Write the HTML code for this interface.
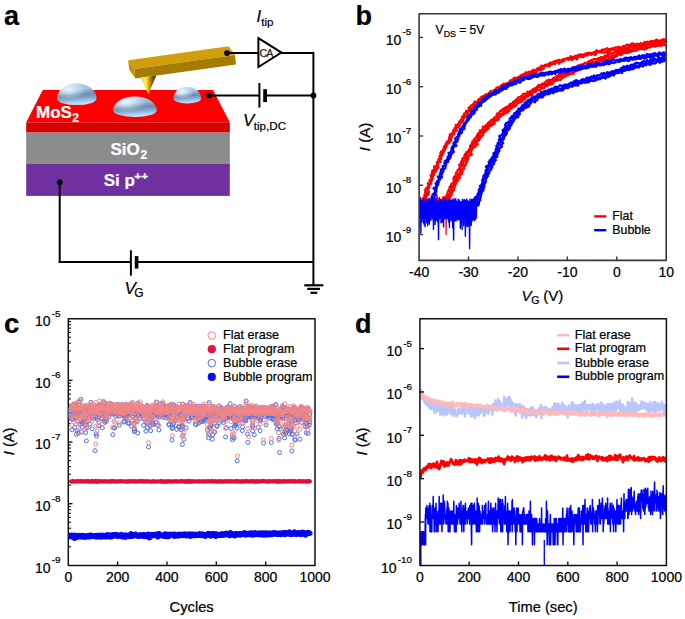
<!DOCTYPE html>
<html><head><meta charset="utf-8"><style>
html,body{margin:0;padding:0;background:#fff;}
svg{display:block;}
text{font-family:"Liberation Sans", sans-serif;}
</style></head><body>
<svg width="685" height="619" viewBox="0 0 685 619">
<rect width="685" height="619" fill="#fff"/>
<defs>
<linearGradient id="bubG" x1="0.2" y1="0" x2="0.35" y2="1">
 <stop offset="0" stop-color="#b2d2ee"/>
 <stop offset="0.3" stop-color="#9cbfe2"/>
 <stop offset="0.56" stop-color="#6e8cab"/>
 <stop offset="0.72" stop-color="#84a5c6"/>
 <stop offset="0.88" stop-color="#a4cef4"/>
 <stop offset="1" stop-color="#c2e6ff"/>
</linearGradient>
<radialGradient id="bubH" cx="0.3" cy="0.28" r="0.45">
 <stop offset="0" stop-color="#eefaff" stop-opacity="0.95"/>
 <stop offset="1" stop-color="#eefaff" stop-opacity="0"/>
</radialGradient>
<linearGradient id="tipG" x1="0" y1="0" x2="1" y2="0">
 <stop offset="0" stop-color="#e0c030"/>
 <stop offset="0.3" stop-color="#fff25a"/>
 <stop offset="0.5" stop-color="#d8b000"/>
 <stop offset="0.75" stop-color="#7a5c00"/>
 <stop offset="1" stop-color="#3a2a00"/>
</linearGradient>
<clipPath id="clipB"><rect x="419.1" y="13.8" width="247.1" height="246.6"/></clipPath>
<clipPath id="clipD"><rect x="419.9" y="318.7" width="246.5" height="246.7"/></clipPath>
</defs>
<text x="4" y="25.2" font-size="27" font-weight="bold" font-style="normal" fill="#000" text-anchor="start" stroke="#000" stroke-width="0.22" >a</text>
<polygon points="42.7,90 213,90 229.8,122.3 26.2,122.3" fill="#ff0000"/>
<rect x="26.2" y="122.3" width="203.6" height="10.3" fill="#d70000"/>
<rect x="26.2" y="132.6" width="203.6" height="31.2" fill="#8c8c8c"/>
<rect x="26.2" y="163.8" width="203.6" height="32.1" fill="#7030a0"/>
<path d="M57,98.4 A19.75,15 0 0 1 96.5,98.4 A19.75,6.7 0 0 1 57,98.4 Z" fill="url(#bubG)"/>
<path d="M57,98.4 A19.75,15 0 0 1 96.5,98.4 A19.75,6.7 0 0 1 57,98.4 Z" fill="url(#bubH)"/>
<path d="M113.1,110.4 A21.8,14 0 0 1 156.7,110.4 A21.8,6.6 0 0 1 113.1,110.4 Z" fill="url(#bubG)"/>
<path d="M113.1,110.4 A21.8,14 0 0 1 156.7,110.4 A21.8,6.6 0 0 1 113.1,110.4 Z" fill="url(#bubH)"/>
<path d="M173.4,98.6 A13.85,11.7 0 0 1 201.1,98.6 A13.85,4.9 0 0 1 173.4,98.6 Z" fill="url(#bubG)"/>
<path d="M173.4,98.6 A13.85,11.7 0 0 1 201.1,98.6 A13.85,4.9 0 0 1 173.4,98.6 Z" fill="url(#bubH)"/>
<text x="36" y="117.8" font-size="17" font-weight="bold" font-style="normal" fill="#fff" text-anchor="start" stroke="#fff" stroke-width="0.22" >MoS</text>
<text x="72.2" y="121.6" font-size="12" font-weight="bold" font-style="normal" fill="#fff" text-anchor="start" stroke="#fff" stroke-width="0.22" >2</text>
<text x="110.4" y="155" font-size="17" font-weight="bold" font-style="normal" fill="#fff" text-anchor="start" stroke="#fff" stroke-width="0.22" >SiO</text>
<text x="140.4" y="158.6" font-size="12" font-weight="bold" font-style="normal" fill="#fff" text-anchor="start" stroke="#fff" stroke-width="0.22" >2</text>
<text x="103.7" y="185.6" font-size="17" font-weight="bold" font-style="normal" fill="#fff" text-anchor="start" stroke="#fff" stroke-width="0.22" >Si p</text>
<text x="134.3" y="180.2" font-size="11.8" font-weight="bold" font-style="normal" fill="#fff" text-anchor="start" stroke="#fff" stroke-width="0.22" >++</text>
<polygon points="128.2,60.3 228.6,46.3 235,55 134.3,69.1" fill="#d29f0c"/>
<polygon points="134.3,69.1 235,55 236,64.4 135.3,78.4" fill="#a57b02"/>
<polygon points="128.2,60.3 134.3,69.1 135.3,78.4 129.2,69.6" fill="#c4920a"/>
<polygon points="140.8,77.6 156.3,75.4 148.3,94.2" fill="url(#tipG)"/>
<line x1="227" y1="53" x2="258.4" y2="53" stroke="#000" stroke-width="2" />
<polygon points="258.4,38.1 258.4,67 281.4,52.6" fill="#fff" stroke="#000" stroke-width="2" stroke-linejoin="miter"/>
<text x="259.6" y="56.7" font-size="10.6" font-weight="normal" font-style="normal" fill="#1a1a1a" text-anchor="start" letter-spacing="-1.0" stroke="#1a1a1a" stroke-width="0.25">CA</text>
<line x1="281.4" y1="52.9" x2="313.4" y2="52.9" stroke="#000" stroke-width="2" />
<line x1="313.4" y1="51.9" x2="313.4" y2="285" stroke="#000" stroke-width="2" />
<line x1="209.1" y1="95.5" x2="259.4" y2="95.5" stroke="#000" stroke-width="2" />
<line x1="259.4" y1="83" x2="259.4" y2="107.6" stroke="#000" stroke-width="2" />
<line x1="265.1" y1="89.2" x2="265.1" y2="102.1" stroke="#000" stroke-width="3.8" />
<line x1="265.1" y1="95.5" x2="313.4" y2="95.5" stroke="#000" stroke-width="2" />
<line x1="59.7" y1="182.2" x2="59.7" y2="262.9" stroke="#000" stroke-width="2" />
<line x1="58.7" y1="261.9" x2="130.9" y2="261.9" stroke="#000" stroke-width="2" />
<line x1="130.9" y1="250.3" x2="130.9" y2="275.6" stroke="#000" stroke-width="2" />
<line x1="136.6" y1="256.1" x2="136.6" y2="268.6" stroke="#000" stroke-width="3.6" />
<line x1="136.6" y1="261.9" x2="313.4" y2="261.9" stroke="#000" stroke-width="2" />
<line x1="304.3" y1="285.3" x2="323.4" y2="285.3" stroke="#000" stroke-width="2.2" />
<line x1="307.2" y1="288.9" x2="320" y2="288.9" stroke="#000" stroke-width="2.2" />
<line x1="310.5" y1="292.8" x2="317.3" y2="292.8" stroke="#000" stroke-width="2.2" />
<circle cx="227" cy="53.1" r="2.9" fill="#000"/>
<circle cx="313.4" cy="95.5" r="2.9" fill="#000"/>
<circle cx="209.1" cy="95.5" r="2.9" fill="#000"/>
<circle cx="59.7" cy="182.2" r="2.9" fill="#000"/>
<text x="256.5" y="21.7" font-size="16.5" font-weight="normal" font-style="italic" fill="#000" text-anchor="start" stroke="#000" stroke-width="0.22" >I</text>
<text x="261.2" y="25.6" font-size="11.5" font-weight="normal" font-style="normal" fill="#000" text-anchor="start" stroke="#000" stroke-width="0.22" >tip</text>
<text x="243" y="125.9" font-size="17" font-weight="normal" font-style="italic" fill="#000" text-anchor="start" stroke="#000" stroke-width="0.22" >V</text>
<text x="253.8" y="130.1" font-size="11.6" font-weight="normal" font-style="normal" fill="#000" text-anchor="start" stroke="#000" stroke-width="0.22" >tip,DC</text>
<text x="124.5" y="293.7" font-size="17" font-weight="normal" font-style="italic" fill="#000" text-anchor="start" stroke="#000" stroke-width="0.22" >V</text>
<text x="134.2" y="297.4" font-size="12" font-weight="normal" font-style="normal" fill="#000" text-anchor="start" stroke="#000" stroke-width="0.22" >G</text>
<g clip-path="url(#clipB)">
<polyline points="419.6,198.33 420.1,208.37 420.6,197.17 421.1,207.34 421.6,200 422.1,207.82 422.6,197.49 423.1,209.65 423.6,199.56 424.1,208.02 424.6,199.54 425.1,208.95 425.6,196.29 426.1,211.93 426.6,197.98 427.1,206.58 427.6,199.31 428.1,211.62 428.6,199.07 429.1,208.66 429.6,198.18 430.1,206.61 430.6,198.83 431.1,211.16 431.6,198.93 432.1,211.54 432.6,196.25 433.1,210.46 433.6,198.57 434.1,208.01 434.6,197.03 435.1,208.81 435.6,198.52 436.1,206.63 436.6,197.16 437.1,207.45 437.6,196.27 438.1,208.38 438.6,198.84 439.1,206.56 439.6,197.29 440.1,211.15 440.6,199.69 441.1,210.25 441.6,199.07 442.1,211 442.6,197.03 443.1,208.5 443.6,196.57 444.1,208.53 444.6,196.54 445.1,206.1 445.6,197.13 446.1,234.69 446.6,196.73 447.1,206.32 447.6,196.06" fill="none" stroke="#ff0000" stroke-width="1.2" stroke-linejoin="round" />
<polyline points="422.68,203.81 422.76,203.21 422.65,202.57 423.07,202.05 422.7,201.34 422.81,200.74 423.74,200.35 423.81,199.74 424.01,199.17 423.77,198.49 423.66,197.84 424.35,197.39 424.79,196.89 424.77,196.26 424.14,195.45 424.45,194.91 425.71,194.65 426.07,194.14 425.86,193.45 425,192.55 425.46,192.07 426.22,191.67 424.99,190.65 425.39,190.14 426,189.7 425.51,188.9 426.05,188.44 427.27,188.21 427.57,187.68 427.37,186.97 428.41,186.7 429.14,186.31 428.6,185.49 428.06,184.66 427.8,183.92 427.83,183.29 428.71,182.97 429.35,182.56 429.43,181.95 429.88,181.47 429.74,180.77 429.53,180.05 430.34,179.71 430.81,179.25 431.16,178.74 431.3,178.15 430.97,177.37 431.17,176.81 431.11,176.14 430.54,175.27 431.38,174.95 432.23,174.64 432.34,174.04 431.91,173.22 431.87,172.56 432.52,172.17 432.55,171.54 432.12,170.72 432.55,170.24 434.02,170.18 434.53,169.74 434.16,168.94 434.24,168.32 435,167.99 434.16,166.98 434.05,166.28 435.58,166.27 436.13,165.85 436.82,165.49 437.23,165.02 436.93,164.23 436.84,163.54 437.27,163.07 437.19,162.38 437.11,161.68 437.92,161.38 438.94,161.18 438.77,160.45 438.25,159.55 438.64,159.06 439.42,158.76 439.59,158.17 439.89,157.65 439.78,156.94 439.4,156.09 439.96,155.69 440.59,155.32 441.32,155 440.7,154.04 440.21,153.14 441.18,152.93 441.54,152.44 441.1,151.55 442.01,151.33 443.04,151.17 443.1,150.53 443,149.81 443.47,149.37 443.83,148.88 444.12,148.36 444.14,147.69 443.68,146.78 444.37,146.46 444.71,145.96 445.16,145.51 445.8,145.17 445.48,144.32 445.69,143.75 446.19,143.33 446.79,142.97 446.97,142.38 446.75,141.57 447.72,141.42 449.01,141.43 449.59,141.07 449.07,140.1 448.7,139.2 449.54,138.98 449.71,138.38 449.08,137.34 449.46,136.86 450.29,136.64 450.24,135.91 449.77,134.94 449.85,134.29 451,134.26 451.56,133.89 451.57,133.2 452.23,132.89 452.82,132.54 452.93,131.9 453.19,131.36 453.3,130.73 453.31,130.02 453.57,129.48 454.43,129.3 455.1,129.01 454.75,128.08 454.95,127.5 455.45,127.11 456.15,126.83 455.98,126.01 455.69,125.1 456.45,124.87 458.05,125.18 458.85,124.99 458.24,123.87 458.49,123.31 459.59,123.31 459.59,122.59 459.07,121.51 459.92,121.35 460.56,121.06 460.71,120.43 460.71,119.69 461.49,119.5 462.61,119.56 462.48,118.73 462.48,117.99 461.95,116.85 462.29,116.35 463.28,116.33 463.57,115.8 464.24,115.55 464.34,114.87 463.92,113.78 464.53,113.49 465.22,113.27 465.37,112.62 465.8,112.19 466.17,111.72 466,110.8 466.9,110.75 468.12,110.98 468.48,110.49 469.43,110.5 469.47,109.73 468.65,108.22 468.77,107.5 469.36,107.2 469.9,106.85 470.72,106.76 470.66,105.87 471.16,105.49 471.74,105.18 472.15,104.72 473.01,104.69 473.25,104.07 473.69,103.65 474.06,103.15 474.34,102.56 474.45,101.78 475.07,101.54 476.53,102.24 477.54,102.48 477.84,101.93 477.93,101.14 477.85,100.1 478.51,99.97 479.13,99.81 479.21,98.95 479.63,98.51 480.16,98.21 480.62,97.82 481.07,97.42 481.42,96.85 481.86,96.42 483.14,97.3 483.71,97.1 483.67,95.87 484.32,95.78 485.05,95.82 485.22,94.91 485.56,94.28 486.51,94.73 487.14,94.62 487.51,94.03 488.31,94.22 488.68,93.63 488.93,92.79 489.5,92.57 490.32,92.81 490.57,91.99 490.68,90.89 491.5,91.15 492.3,91.37 493.07,91.51 493.75,91.5 493.85,90.4 494.25,89.87 495.03,90.07 495.27,89.25 495.97,89.27 496.43,88.89 496.4,87.63 497.03,87.53 497.67,87.45 498.13,87.05 499.04,87.43 499.77,87.48 500.55,87.62 500.95,87.13 500.8,85.68 501.2,85.18 501.85,85.1 502.27,84.62 503.08,84.81 503.72,84.72 503.72,83.53 504.53,83.72 505.45,84.1 505.9,83.67 506.46,83.45 507.04,83.25 507.55,82.93 508.2,82.85 508.81,82.7 509.16,82.1 509.68,81.8 509.83,80.82 510.25,80.32 511.02,80.48 511.63,80.34 511.95,79.64 512.76,79.9 513.58,80.18 513.57,78.83 513.78,77.87 514.5,77.96 515.34,78.31 515.81,77.89 516.39,77.7 516.95,77.48 517.58,77.4 518.11,77.12 518.56,76.64 519.41,77.06 520.4,77.83 520.61,76.82 520.65,75.39 521.23,75.22 521.99,75.47 522.5,75.11 522.84,74.38 523.58,74.58 524.05,74.15 524.45,73.55 525.09,73.51 525.45,72.83 525.84,72.22 526.67,72.64 527.49,73.03 528.08,72.89 528.31,71.9 528.81,71.55 529.79,72.32 530.52,72.48 530.92,71.9 531.21,71.09 531.88,71.13 532.48,71 532.7,70.06 533.2,69.72 534.21,70.48 534.94,70.61 535.43,70.24 535.84,69.71 536.34,69.36 536.86,69.05 537.19,68.37 538.31,69.28 539.03,69.37 539.01,67.96 539.39,67.37 540.09,67.42 540.87,67.65 541.26,67.08 541.27,65.68 541.86,65.5 542.72,65.92 543.34,65.81 544.12,66.07 544.71,65.9 545.17,65.46 545.48,64.67 546.05,64.45 547.12,65.48 547.66,65.22 547.93,64.27 548.39,63.81 549.18,64.21 549.59,63.58 549.89,62.62 550.65,62.98 551.33,63.14 551.78,62.59 552.29,62.23 552.88,62.11 553.43,61.85 554.02,61.73 554.44,61.04 555.03,60.91 555.85,61.56 556.31,61 556.76,60.38 557.53,60.87 558.01,60.37 558.54,60.01 559.12,59.85 559.81,60.08 560.77,61.3 561.44,61.51 561.74,60.31 562.19,59.63 562.81,59.62 563.32,59.2 564.06,59.64 564.49,58.91 565.02,58.55 565.74,58.93 566.36,58.93 566.97,58.88 567.35,57.88 567.94,57.77 568.67,58.21 569.23,57.97 569.79,57.72 570.33,57.35 570.65,56.12 571.38,56.57 572.25,57.6 572.76,57.15 573.28,56.75 573.96,56.98 574.49,56.63 574.91,55.77 575.52,55.74 576.29,56.39 576.76,55.75 577.34,55.62 578,55.79 578.36,54.7 579.13,55.35 579.81,55.63 580.15,54.43 580.7,54.18 581.51,54.97 582.24,55.47 582.69,54.78 583.2,54.32 583.9,54.65 584.38,54.08 584.93,53.8 585.58,53.92 586.08,53.42 586.62,53.09 587.27,53.21 587.9,53.3 588.43,52.9 588.97,52.58 589.71,53.15 590.36,53.29 590.93,53.06 591.6,53.34 592.16,53.09 592.84,53.41 593.3,52.7 593.76,51.96 594.39,52.05 595.07,52.36 595.84,53.07 596.09,51.36 596.45,50.13 597.27,51.1 598.01,51.71 598.6,51.61 599.11,51.13 599.68,50.9 600.33,51.08 600.87,50.74 601.49,50.77 601.9,49.75 602.46,49.46 603.15,49.86 603.76,49.87 604.42,50.09 604.86,49.21 605.5,49.34 606.08,49.22 606.57,48.57 607.11,48.18 607.77,48.44 608.52,49.19 609.2,49.51 609.74,49.14 610.33,49.04 610.93,48.99 611.43,48.41 612.07,48.53 612.75,48.9 613.27,48.41 613.76,47.76 614.36,47.73 614.98,47.76 615.52,47.35 616.18,47.64 616.81,47.74 617.36,47.4 617.92,47.12 618.5,46.97 619.18,47.38 619.72,46.95 620.43,47.53 621.07,47.76 621.65,47.56 622.28,47.7 622.7,46.58 623.2,45.92 623.87,46.28 624.49,46.36 625.06,46.1 625.62,45.86 626.09,44.98 626.68,44.91 627.25,44.64 627.88,44.79 628.58,45.32 629.09,44.76 629.72,44.88 630.38,45.19 630.89,44.59 631.34,43.64 631.96,43.7 632.54,43.48 633.13,43.42 633.98,44.85 634.56,44.72 635.09,44.23 635.66,44 636.23,43.75 636.89,44.1 637.46,43.85 638.11,44.13 638.83,44.79 639.4,44.54 639.88,43.76 640.39,43.17 641.01,43.27 641.66,43.48 642.27,43.49 642.87,43.48 643.53,43.76 643.99,42.86 644.45,41.91 645.23,43.01 645.82,42.9 646.3,42.1 646.9,42.04 647.45,41.7 648.07,41.77 648.92,43.28 649.58,43.62 649.94,42.04 650.4,41.1 651.04,41.3 651.75,42 652.32,41.73 652.8,40.93 653.51,41.55 654.2,42.11 654.71,41.49 655.18,40.57 655.7,39.99 656.32,40.07 656.87,39.69 657.55,40.21 658.25,40.8 658.83,40.59 659.58,41.55 660.21,41.76 660.62,40.4 661.19,40.18 661.93,41.06 662.42,40.3 662.89,39.32 663.52,39.5 664.07,39.14 664.76,39.72 665.31,39.29" fill="none" stroke="#ff0000" stroke-width="2.2" stroke-linejoin="round" />
<polyline points="423.92,204.09 423.94,203.48 424.44,202.98 424.75,202.44 425.1,201.91 425.08,201.29 425.58,200.8 424.92,200.02 424.6,199.32 425.33,198.89 425.54,198.33 426.08,197.86 425.8,197.17 425.61,196.49 426.47,196.12 427.04,195.66 426.6,194.92 427.46,194.55 428.85,194.35 427.6,193.35 426.96,192.53 428.75,192.47 429.12,191.97 428.38,191.1 428.16,190.41 428.04,189.74 428.23,189.17 428.41,188.6 428.99,188.16 429.25,187.62 428.97,186.89 428.84,186.21 429.2,185.7 429.52,185.18 429.67,184.59 430.65,184.31 431.07,183.82 431.06,183.18 431.26,182.62 431.29,181.99 431.31,181.36 431.37,180.74 431.94,180.32 431.84,179.64 432.28,179.17 432.94,178.78 432.33,177.9 432.34,177.26 432.58,176.71 433.06,176.25 433.26,175.69 433.87,175.28 434.06,174.71 432.93,173.62 433.17,173.07 433.49,172.56 433.99,172.11 435.42,172.04 435.91,171.59 435.19,170.66 434.86,169.88 436.31,169.83 436.97,169.45 436.5,168.61 437.02,168.18 438.21,168.04 438.53,167.53 437.86,166.6 437.73,165.89 438.15,165.42 438.02,164.71 437.6,163.87 438.1,163.44 438.39,162.91 438.59,162.34 439.24,161.97 440.41,161.85 440.29,161.14 439.59,160.16 440.1,159.73 440.57,159.29 441.29,158.96 441.18,158.25 440.72,157.37 440.53,156.62 440.74,156.06 441.84,155.91 442.47,155.55 442.13,154.73 442.23,154.11 442.89,153.76 443.49,153.39 443.51,152.73 443.49,152.06 443.28,151.29 443.21,150.58 444.78,150.7 444.65,149.97 444.18,149.06 445.36,148.98 445.62,148.45 445.5,147.71 445.89,147.24 446.47,146.87 446.74,146.33 446.31,145.43 446.56,144.89 447.23,144.56 447.36,143.95 448.05,143.64 448.77,143.35 449.31,142.96 449.17,142.2 449.46,141.68 450.37,141.5 450.74,141.02 451.11,140.54 450.93,139.75 450.64,138.91 451.29,138.59 451.15,137.82 451.22,137.17 451.82,136.82 451.91,136.18 451.76,135.4 451.88,134.77 452.81,134.63 453.76,134.5 454.44,134.2 454.39,133.48 454.27,132.71 454.3,132.03 454.83,131.65 455.35,131.27 455.74,130.81 456.77,130.75 456.86,130.1 456,128.86 456.02,128.17 456.35,127.67 456.55,127.08 457.86,127.2 458.7,127.02 458.01,125.87 458.49,125.46 459.8,125.6 459.77,124.87 459.41,123.91 459.75,123.42 460.42,123.14 461.1,122.88 461.75,122.6 462.29,122.24 462.62,121.75 463.01,121.3 463.17,120.69 462.51,119.49 462.59,118.81 463.57,118.78 463.84,118.24 464.39,117.91 464.76,117.44 464.49,116.5 465.46,116.49 466.36,116.44 466.31,115.66 466.76,115.27 467.41,115.04 467.59,114.42 466.8,113.01 466.85,112.28 467.89,112.35 468.17,111.8 468.77,111.52 469.86,111.65 470.03,111.01 469.67,109.9 470.87,110.14 471.49,109.88 470.85,108.51 471.47,108.25 472.4,108.27 472.51,107.56 473.03,107.22 473.51,106.84 473.39,105.9 474.01,105.67 474.95,105.74 475.12,105.08 475.41,104.53 476,104.28 477.15,104.64 477.4,104.06 477.41,103.22 478.03,103.04 478.04,102.17 478.7,102.05 479.41,102.02 480,101.84 480.29,101.31 480.26,100.33 480.5,99.69 481.24,99.74 481.99,99.8 482.67,99.79 483.11,99.42 483.51,98.98 484.25,99.07 484.54,98.44 484.38,97.05 484.6,96.25 485.13,95.96 486.23,96.68 486.87,96.61 487.32,96.18 488.14,96.43 488.76,96.32 489.37,96.19 489.54,95.23 489.83,94.49 490.4,94.28 491.01,94.14 491.43,93.62 491.93,93.26 492.89,93.79 493.1,92.87 493.37,92.08 494.06,92.1 494.59,91.78 495.47,92.15 495.96,91.77 496.48,91.45 496.7,90.59 497.3,90.42 498.03,90.48 498.45,90 499.14,89.99 498.98,88.51 499.29,87.86 500.41,88.59 501.43,89.13 501.96,88.85 502.2,88.07 502.35,87.14 503.13,87.27 504.34,88.14 504.55,87.32 504.63,86.28 504.8,85.37 505.55,85.47 506.99,86.76 507.47,86.4 507.68,85.57 508.16,85.21 508.21,84.08 508.9,84.08 509.36,83.69 509.56,82.83 510.4,83.1 511.14,83.22 511.69,82.99 512.12,82.53 512.4,81.81 512.6,80.9 513.29,80.93 513.94,80.88 514.21,80.09 514.64,79.62 515.33,79.67 515.76,79.18 516.14,78.6 516.73,78.42 517.54,78.76 518.45,79.3 519.31,79.76 519.52,78.78 519.6,77.49 520.56,78.19 521.19,78.13 521.52,77.41 522.4,77.92 522.94,77.68 523.02,76.32 523.4,75.7 524.21,76.05 525.03,76.45 525.3,75.55 525.64,74.81 526.51,75.32 527.32,75.7 527.68,75 528.24,74.78 529,75.02 529.15,73.85 529.55,73.26 530.47,73.88 530.98,73.54 531.1,72.3 531.69,72.17 532.74,73.05 533.62,73.52 533.66,72.13 534.39,72.28 535.13,72.43 535.38,71.53 536.36,72.17 536.91,71.92 537.25,71.24 537.4,70.15 538.03,70.07 538.65,69.97 538.6,68.51 539.81,69.59 540.95,70.56 541.3,69.91 541.54,69.03 542.02,68.63 543.01,69.34 543.56,69.11 543.81,68.24 543.86,66.93 544.37,66.62 544.74,65.99 545.03,65.15 545.97,65.8 546.64,65.85 547.14,65.52 547.83,65.65 548.7,66.26 549.45,66.61 549.7,65.63 550.23,65.4 550.68,64.91 551.03,64.1 551.82,64.59 552.26,64.04 552.66,63.38 553.22,63.16 553.84,63.14 554.78,64.16 555.24,63.64 555.63,62.89 556.18,62.66 556.59,61.93 557.12,61.62 558,62.52 559,63.83 559.45,63.27 559.68,61.85 560.28,61.78 560.9,61.78 561.48,61.66 562.13,61.76 562.65,61.39 563.27,61.37 563.75,60.87 564.23,60.3 564.69,59.68 565.27,59.52 565.88,59.49 566.5,59.47 567.13,59.51 567.74,59.47 568.47,59.91 568.9,59.14 569.36,58.47 569.99,58.53 570.73,59.03 571.58,59.99 572.17,59.89 572.56,58.9 573.2,59.02 573.67,58.4 574.26,58.27 574.93,58.49 575.1,56.58 576.01,57.81 577.02,59.48 577.24,57.81 577.69,57.09 578.36,57.29 578.93,57.13 579.39,56.47 579.9,56 580.68,56.67 581.35,56.91 582,57.07 582.57,56.88 583.26,57.22 583.77,56.75 584.15,55.75 584.62,55.12 585.06,54.36 585.95,55.57 586.57,55.57 587.08,55.1 587.74,55.34 588.18,54.55 588.74,54.3 589.38,54.39 589.95,54.21 590.65,54.6 591.34,54.95 591.8,54.27 592.25,53.49 592.91,53.72 593.57,53.93 594.22,54.11 595.05,55.13 595.62,54.93 595.97,53.69 596.47,53.14 596.98,52.68 597.51,52.25 598.08,52.07 598.71,52.16 599.35,52.28 600.03,52.63 600.62,52.52 601.13,52.01 601.65,51.55 602.39,52.2 603.12,52.8 603.72,52.75 604.33,52.75 604.9,52.51 605.4,51.96 605.92,51.52 606.75,52.64 607.18,51.72 607.64,50.96 608.46,52.07 608.99,51.64 609.5,51.14 610.16,51.39 610.64,50.68 611.16,50.21 611.73,50.01 612.23,49.44 612.84,49.44 613.47,49.56 614.12,49.78 614.76,49.93 615.23,49.15 615.94,49.7 616.72,50.7 617.21,50.06 617.69,49.31 618.22,48.85 618.88,49.14 619.51,49.25 619.93,48.19 620.55,48.23 621.48,50.1 621.88,48.89 622.33,47.96 623.08,48.82 623.59,48.24 624.25,48.57 624.77,48.01 625.27,47.39 626.05,48.43 626.62,48.18 627.08,47.27 627.69,47.31 628.28,47.2 628.97,47.72 629.53,47.42 630.08,47.03 630.64,46.78 631.22,46.6 631.9,47 632.26,45.5 632.86,45.44 633.56,46 634.12,45.71 634.89,46.74 635.44,46.35 635.85,45.14 636.62,46.14 637.29,46.55 637.89,46.5 638.5,46.49 638.92,45.35 639.49,45.09 640.22,45.9 640.89,46.24 641.39,45.62 641.92,45.14 642.51,44.99 643.06,44.63 643.79,45.41 644.42,45.57 644.8,44.16 645.36,43.85 646.08,44.56 646.75,44.95 647.28,44.48 647.79,43.82 648.39,43.8 648.92,43.27 649.42,42.61 650.18,43.58 650.83,43.85 651.39,43.57 652.1,44.21 652.71,44.24 653.22,43.63 653.91,44.18 654.55,44.37 654.97,43.2 655.57,43.14 656.21,43.38 656.7,42.6 657.27,42.37 657.91,42.58 658.37,41.6 658.96,41.51 659.67,42.15 660.24,41.95 660.75,41.27 661.35,41.22 662.04,41.82 662.67,41.93 663.19,41.37 663.82,41.51 664.4,41.39 664.94,40.93 665.7,41.93" fill="none" stroke="#ff0000" stroke-width="2.2" stroke-linejoin="round" />
<polyline points="442.9,205.35 442.86,204.71 443.78,204.36 444.01,203.8 443.63,203.04 444.07,202.53 444.82,202.14 444.02,201.21 443.45,200.35 444.15,199.95 444.26,199.33 444.54,198.79 444.85,198.25 445.54,197.87 445.74,197.29 445.89,196.7 446.63,196.34 446.51,195.64 446.63,195.04 447.81,194.86 448.12,194.34 447.44,193.4 447.52,192.78 447.64,192.17 448.01,191.67 448.96,191.42 448.77,190.67 448.58,189.93 449.59,189.72 449.72,189.11 449.6,188.4 449.63,187.75 449.48,187.02 449.93,186.56 451.35,186.53 451.64,186 450.84,184.98 451.03,184.4 451.43,183.92 452.15,183.59 452.54,183.1 453.33,182.8 453.59,182.26 453.61,181.61 453.89,181.07 453.82,180.38 453.41,179.52 453.38,178.85 454.16,178.55 454.37,177.98 453.82,177.06 454.51,176.72 455.44,176.49 455.19,175.71 455.49,175.2 455.82,174.69 456.33,174.27 456.18,173.54 455.91,172.75 456.77,172.49 457.43,172.13 457.43,171.47 457.4,170.8 457.47,170.17 457.93,169.72 458.96,169.53 458.82,168.8 459.21,168.32 460.19,168.11 459.68,167.21 459.91,166.65 459.78,165.92 459.06,164.92 459.39,164.41 460.15,164.1 460.78,163.73 461,163.16 461.42,162.69 461.06,161.85 461.47,161.37 462.01,160.96 461.83,160.2 462.48,159.84 462.56,159.2 462.46,158.48 462.79,157.96 463.57,157.68 464.45,157.44 464.94,157.01 464.62,156.16 464.38,155.36 464.68,154.84 465.43,154.54 465.29,153.78 465.87,153.4 466.74,153.18 466.27,152.24 466.87,151.87 467.83,151.71 468.12,151.18 468.43,150.66 468.64,150.09 469.01,149.6 469.72,149.31 469.54,148.5 469.92,148.02 470.33,147.56 470.16,146.74 470.1,145.98 470.29,145.37 471.23,145.25 471.2,144.5 471.49,143.96 472.41,143.84 472.62,143.25 472.05,142.14 472.26,141.55 473.6,141.73 473.71,141.07 473.85,140.44 473.63,139.56 474.17,139.2 475.11,139.12 475.51,138.68 475.42,137.9 475.69,137.37 476.59,137.24 476.96,136.77 477.05,136.1 476.88,135.26 478.34,135.5 478.6,134.94 477.9,133.73 478.45,133.35 478.69,132.77 479.55,132.62 480.86,132.8 480.57,131.83 479.76,130.45 480.78,130.44 482.11,130.7 482.37,130.13 482.78,129.68 482.64,128.74 482.64,127.9 482.91,127.29 482.97,126.46 484.12,126.72 484.79,126.51 485.62,126.48 486.28,126.29 485.89,124.97 486.55,124.78 487.7,125.15 488.07,124.65 487.69,123.28 488.13,122.84 489.31,123.29 489.53,122.61 489.41,121.53 490.28,121.63 490.99,121.53 490.87,120.46 491.18,119.9 491.72,119.63 492.36,119.46 493.04,119.34 493.73,119.22 494.34,119.01 493.99,117.76 494.34,117.27 495.49,117.63 495.94,117.24 496.42,116.87 496.56,116.15 496.42,115.12 497.29,115.17 497.7,114.72 497.24,113.35 498.29,113.59 499.15,113.62 499.2,112.79 499.46,112.17 499.61,111.44 500.13,111.1 500.86,111 501.75,111.07 501.66,110.05 502.23,109.77 503,109.72 502.96,108.73 503.94,108.94 504.68,108.87 504.56,107.76 505.54,108.01 506.2,107.85 506.25,106.94 507,106.92 507.79,106.93 508.09,106.34 508.47,105.84 508.88,105.37 509.39,105.04 509.87,104.67 509.98,103.8 511.14,104.35 511.79,104.22 511.83,103.25 512.8,103.55 513.36,103.29 513.09,101.88 513.67,101.65 514.07,101.18 514.66,100.96 515.74,101.44 515.82,100.5 515.87,99.52 516.55,99.43 517.2,99.31 517.41,98.57 518.04,98.42 518.28,97.7 518.54,97.01 519.43,97.24 519.97,96.96 520.64,96.87 520.91,96.2 521.48,95.96 522.23,95.99 522.44,95.22 522.66,94.46 523.04,93.94 523.95,94.22 524.51,93.96 524.95,93.53 525.93,93.92 526.66,93.94 527.28,93.79 527.48,92.99 527.39,91.72 528.21,91.87 529.03,92.05 529.57,91.77 530.02,91.34 530.55,91.05 531.25,91.04 531.66,90.55 532.1,90.11 532.55,89.69 533.01,89.28 533.49,88.91 534.17,88.88 534.54,88.31 535.22,88.28 535.83,88.13 536.2,87.55 536.73,87.26 537,86.51 537.97,87.01 538.48,86.69 538.34,85.17 538.79,84.73 539.52,84.8 540.63,85.59 541.27,85.5 541.56,84.76 541.85,84.03 542.27,83.53 543.14,83.88 543.96,84.15 544.22,83.35 544.52,82.62 545.25,82.73 545.47,81.84 545.95,81.44 546.63,81.45 546.72,80.31 547.42,80.36 548.51,81.17 548.84,80.5 549.02,79.52 549.92,79.97 550.76,80.31 551.21,79.86 551.96,80.02 552.2,79.17 552.62,78.67 553.21,78.5 553.58,77.9 554.14,77.68 554.69,77.43 555.46,77.61 556.02,77.39 556.31,76.63 556.77,76.21 557.4,76.13 557.82,75.62 558.19,75.03 558.89,75.07 559.42,74.78 559.95,74.48 560.48,74.2 561.42,74.73 562.33,75.2 562.57,74.34 562.85,73.55 563.72,73.94 564.33,73.82 564.44,72.69 564.98,72.41 565.59,72.3 566.34,72.46 566.82,72.07 567.49,72.07 567.88,71.48 568.16,70.68 568.69,70.38 569.44,70.55 570.1,70.55 570.31,69.57 571.08,69.8 571.86,70.05 572.05,69.01 572.31,68.14 572.81,67.78 573.45,67.72 574.22,67.97 574.69,67.53 575.14,67.06 575.69,66.8 576.23,66.53 576.94,66.65 577.88,67.29 578.02,66.09 578.3,65.21 579.11,65.57 579.76,65.57 580.23,65.13 580.68,64.65 581.23,64.38 581.92,64.48 582.66,64.7 583.08,64.14 583.68,64.02 584.23,63.76 584.48,62.78 585.18,62.88 586.03,63.39 586.47,62.87 587.14,62.93 587.91,63.25 588.16,62.21 588.41,61.2 589.38,62.03 590.28,62.68 590.49,61.56 590.67,60.32 591.25,60.14 591.91,60.2 592.34,59.61 592.98,59.61 593.6,59.52 593.98,58.82 594.87,59.48 595.51,59.49 595.94,58.88 596.69,59.2 597.39,59.35 597.82,58.76 598.27,58.25 598.77,57.85 599.58,58.33 600.36,58.72 600.52,57.38 601,56.92 601.83,57.44 602.46,57.44 603.18,57.69 603.88,57.85 604.12,56.7 604.48,55.91 604.95,55.42 605.56,55.36 606.33,55.74 607.24,56.53 607.8,56.32 607.71,54.2 608.17,53.69 609.04,54.39 609.52,53.96 609.96,53.37 610.65,53.54 611.38,53.83 611.98,53.71 612.38,53.02 613.08,53.21 613.7,53.16 614.09,52.45 614.55,51.92 615.08,51.61 615.93,52.23 616.39,51.7 616.86,51.22 617.75,51.97 618.28,51.65 618.79,51.27 619.26,50.78 619.98,51.03 620.85,51.73 621.28,51.11 621.48,49.77 621.89,49.07 622.82,49.99 623.75,50.93 624.24,50.47 624.76,50.1 625.22,49.55 625.62,48.79 626.28,48.86 626.93,48.94 627.33,48.14 627.97,48.18 628.89,49.18 629.23,48.15 629.5,46.89 630.26,47.34 630.92,47.47 631.2,46.19 631.95,46.63 632.81,47.51 633.26,46.83 634.05,47.49 634.7,47.59 634.99,46.26 635.58,46.1 636.14,45.84 636.64,45.35 637.37,45.8 637.97,45.75 638.48,45.27 639.27,46.05 639.98,46.46 640.48,45.97 641.04,45.7 641.59,45.44 642.27,45.69 642.81,45.35 643.43,45.39 643.93,44.88 644.33,43.87 644.89,43.57 645.47,43.41 646.22,44.07 646.97,44.7 647.46,44.08 647.93,43.36 648.54,43.37 649.07,42.94 649.6,42.47 650.26,42.69 650.81,42.35 651.41,42.26 652.14,42.88 652.68,42.44 653.19,41.9 653.73,41.49 654.55,42.59 655.15,42.5 655.72,42.26 656.45,42.97 656.91,42.06 657.39,41.22 658.08,41.71 658.88,42.83 659.34,41.9 659.8,40.95 660.53,41.69 661.17,41.87 661.83,42.17 662.37,41.7 662.88,41 663.44,40.63 664.14,41.2 664.77,41.33 665.12,39.44" fill="none" stroke="#ff0000" stroke-width="2.2" stroke-linejoin="round" />
<polyline points="444.95,205.98 445.07,205.39 446.08,205.08 446.18,204.48 445.58,203.66 446.14,203.21 446.97,202.86 446.9,202.21 446.88,201.58 447.31,201.1 446.99,200.35 447.02,199.72 447.36,199.21 447.18,198.5 447.87,198.12 447.9,197.49 448.1,196.93 449.25,196.74 448.97,195.98 448.52,195.15 448.7,194.58 449.42,194.22 450.03,193.83 450.19,193.25 450.52,192.74 450.42,192.05 450.37,191.37 450.21,190.64 450.66,190.18 451.57,189.93 451.35,189.18 451.99,188.8 452.66,188.44 451.37,187.2 451.36,186.54 452.14,186.23 452.78,185.86 454.56,186.01 454.2,185.19 453.51,184.21 453.87,183.71 454.23,183.22 454.83,182.83 455.44,182.45 455.06,181.62 455.43,181.12 455.7,180.59 455.46,179.81 456.51,179.64 456.94,179.18 456.38,178.26 456.09,177.46 456.53,177 457.03,176.57 457.9,176.32 457.68,175.55 457.67,174.88 458.65,174.68 458.94,174.15 459.14,173.58 459.76,173.2 460.02,172.66 460.01,172 460.29,171.47 460.91,171.09 460.21,170.1 460.26,169.47 461.15,169.21 460.79,168.39 460.77,167.72 460.42,166.89 460.9,166.44 461.61,166.11 462.2,165.72 462.15,165.04 462.77,164.66 463.69,164.44 463.31,163.59 463.19,162.86 463.24,162.22 463.34,161.6 463.7,161.1 464.39,160.77 464.8,160.3 464.52,159.49 464.75,158.94 465.22,158.5 465.65,158.04 466.97,158.03 467.42,157.59 466.86,156.64 466.29,155.66 466.15,154.91 466.41,154.37 467.49,154.26 468.12,153.91 468.15,153.25 468.49,152.75 468.79,152.23 469.83,152.13 469.83,151.44 469.48,150.56 469.73,150.01 470.48,149.75 470.7,149.19 470.27,148.24 470.46,147.64 470.68,147.06 471.67,146.97 473.41,147.37 473.21,146.53 472.96,145.66 473.73,145.44 473.34,144.46 473.49,143.84 474.13,143.54 474.32,142.94 475.42,142.96 475.33,142.18 475.12,141.31 476.25,141.35 476.25,140.62 476.52,140.08 477.37,139.93 477.71,139.43 477.88,138.82 478.41,138.44 477.87,137.37 478.48,137.05 480.34,137.55 480.5,136.93 480.38,136.14 479.88,135.07 479.82,134.3 480.37,133.94 480.56,133.33 481.52,133.28 481.8,132.74 481.79,131.98 481.78,131.22 482.15,130.73 483.18,130.8 483.39,130.19 483.52,129.52 484.73,129.81 484.98,129.24 484.49,127.95 485.04,127.63 486.14,127.9 487.42,128.38 487.59,127.71 487.22,126.43 487.45,125.78 488.41,125.95 488.72,125.4 489.29,125.13 490.39,125.49 490.46,124.65 490.71,124.01 491.36,123.84 492.07,123.75 492.04,122.77 492.4,122.26 493.05,122.08 492.96,121.06 493.55,120.82 494.16,120.6 494.3,119.86 494.34,119.02 494.79,118.63 496.11,119.18 497.39,119.68 497.6,119.02 497.82,118.36 497.92,117.59 497.99,116.79 498.66,116.62 498.81,115.9 498.87,115.09 499.66,115.05 500.29,114.85 500.39,114.08 501.04,113.89 501.71,113.73 502.34,113.53 502.85,113.21 502.92,112.39 503.41,112.03 503.9,111.68 504.13,111.03 504.52,110.56 505.37,110.63 506.11,110.6 506.71,110.4 506.55,109.25 506.57,108.32 507.38,108.36 508,108.18 508.46,107.8 508.76,107.2 509.55,107.25 510.21,107.12 510.18,106.09 510.96,106.13 511.99,106.5 511.99,105.49 512.43,105.08 512.87,104.67 513.43,104.42 514.05,104.24 514.05,103.23 514.51,102.82 515,102.48 515.63,102.33 516.36,102.31 516.81,101.91 517.12,101.31 516.72,99.68 517.37,99.56 518.29,99.84 518.82,99.55 520.04,100.27 520.54,99.94 520.67,99.07 521.06,98.57 521.62,98.32 522.03,97.86 522.42,97.36 522.83,96.89 523.75,97.19 524.46,97.18 524.91,96.76 525.35,96.35 525.65,95.71 526.17,95.41 526.77,95.22 527.5,95.25 527.95,94.85 528.12,93.99 528.39,93.3 529.43,93.81 530.05,93.68 530.12,92.66 531.02,92.97 531.84,93.16 532.14,92.51 532.33,91.66 533.24,92.01 533.92,91.99 534.04,91.03 534.44,90.52 534.53,89.49 534.8,88.76 535.71,89.13 536.6,89.47 536.98,88.94 537.18,88.07 537.46,87.33 538.16,87.35 538.68,87.05 539.46,87.22 540.51,87.91 541.43,88.35 541.9,87.97 541.74,86.4 541.93,85.46 541.89,84.11 542.48,83.93 543.66,84.89 544.5,85.2 545.19,85.22 545.65,84.8 546.1,84.38 546.65,84.13 547.42,84.32 547.62,83.4 547.79,82.4 548.26,82.01 549.2,82.52 550.25,83.26 550.62,82.66 550.67,81.44 551.09,80.95 551.81,81.04 552.33,80.74 552.87,80.48 553.49,80.37 553.99,80.02 554.59,79.88 555.25,79.84 555.56,79.14 556.03,78.73 556.53,78.4 557.25,78.48 557.81,78.27 558.25,77.8 558.76,77.49 558.96,76.54 559.74,76.76 560.36,76.65 560.86,76.3 561.68,76.59 561.77,75.43 562.05,74.65 562.8,74.81 563.37,74.59 563.78,74.07 564.61,74.4 565.33,74.49 565.8,74.09 566.3,73.76 566.83,73.46 567.31,73.08 567.79,72.69 568.58,72.94 569.13,72.71 569.48,72.05 569.82,71.36 570.48,71.34 571.28,71.64 571.74,71.22 572.09,70.54 572.78,70.59 573.9,71.6 574.29,71.02 574.46,69.95 575.12,69.96 575.16,68.59 575.67,68.25 576.54,68.73 577.3,68.98 577.93,68.91 578.11,67.83 578.67,67.61 579.38,67.74 579.87,67.37 580.39,67.05 580.81,66.51 581.33,66.21 582.23,66.82 583.14,67.45 583.68,67.2 583.96,66.31 584.59,66.27 585.27,66.34 585.9,66.31 586.46,66.11 586.74,65.19 587.17,64.64 587.77,64.54 588.34,64.34 588.9,64.13 589.29,63.48 589.5,62.35 590.08,62.18 590.66,62 591.33,62.08 592.2,62.67 592.5,61.77 593.17,61.83 594.11,62.63 594.58,62.18 595.26,62.3 596.09,62.8 596.23,61.44 596.67,60.9 597.48,61.36 597.95,60.9 598.59,60.9 598.99,60.24 599.33,59.43 599.89,59.18 600.43,58.92 601.1,59.01 601.57,58.53 602,57.95 602.85,58.56 603.56,58.76 604.1,58.48 604.41,57.55 604.82,56.89 605.57,57.23 606.25,57.36 606.81,57.16 607.5,57.32 608.14,57.34 608.59,56.78 609.16,56.62 609.83,56.7 610.33,56.31 610.95,56.28 611.65,56.47 612.08,55.88 612.59,55.52 613.21,55.47 613.92,55.67 614.54,55.65 615.02,55.2 615.58,54.97 616.12,54.68 616.74,54.64 617.29,54.39 617.41,52.85 618.16,53.21 619.03,53.9 619.26,52.7 619.79,52.39 620.4,52.32 621.28,53.06 622.03,53.43 622.12,51.76 622.7,51.6 623.43,51.89 624.18,52.26 624.66,51.82 624.71,49.95 625.43,50.22 626.24,50.82 626.76,50.45 627.11,49.54 627.79,49.72 628.83,51.1 629.12,49.98 629.64,49.61 630.38,49.99 631.09,50.31 631.77,50.56 632.06,49.37 632.72,49.48 633.37,49.62 633.77,48.77 634.36,48.7 634.95,48.59 635.28,47.41 636.12,48.32 636.84,48.77 637.16,47.54 637.81,47.69 638.3,47.16 638.72,46.33 639.41,46.63 640.07,46.84 640.71,46.95 641.44,47.5 641.97,47.14 642.5,46.75 643.18,47.07 643.62,46.28 644.18,46 644.78,45.93 645.44,46.16 646.14,46.61 646.64,46.05 647.07,45.19 647.67,45.11 648.31,45.22 648.94,45.35 649.59,45.5 650.05,44.75 650.72,45.07 651.44,45.6 651.9,44.85 652.53,44.92 653.14,44.94 653.62,44.21 654.24,44.28 654.8,43.99 655.35,43.65 655.99,43.79 656.72,44.51 657.43,45.11 657.9,44.26 658.5,44.2 659.1,44.2 659.61,43.58 660.27,43.88 660.85,43.75 661.55,44.3 662.14,44.19 662.5,42.58 663.17,42.94 663.81,43.19 664.31,42.42 664.76,41.25 665.43,41.72" fill="none" stroke="#ff0000" stroke-width="2.2" stroke-linejoin="round" />
<polyline points="447.15,206.67 447.65,206.19 447.89,205.65 448.43,205.19 448.19,204.5 448.07,203.85 447.97,203.2 447.64,202.47 448.56,202.18 449.05,201.74 448.3,200.83 448.5,200.27 449.17,199.89 448.91,199.16 449.37,198.7 449.75,198.22 449.17,197.35 449.12,196.69 450.65,196.67 450.72,196.05 450.34,195.25 451.4,195.05 451.79,194.57 451.3,193.72 451.16,193.01 451.93,192.69 452.6,192.33 452.53,191.66 452.01,190.77 452.89,190.51 454.01,190.35 454.01,189.7 453.59,188.86 453.85,188.32 454.37,187.9 454.78,187.43 454.51,186.65 454.47,185.97 455.15,185.62 454.92,184.86 455.32,184.38 456.01,184.04 456.02,183.39 456.41,182.91 456.28,182.18 456.36,181.56 457.32,181.34 457.71,180.86 458.21,180.43 457.89,179.62 457.15,178.61 457.96,178.33 458.97,178.13 459.94,177.93 460.26,177.41 459.36,176.33 459.68,175.82 459.95,175.28 459.31,174.32 460.9,174.39 461.85,174.17 461.37,173.29 461.71,172.78 462.39,172.43 462.53,171.84 462.55,171.19 462.3,170.41 461.54,169.4 462.74,169.29 464.1,169.26 464,168.55 463.77,167.78 463.89,167.18 463.79,166.47 464.57,166.18 465.35,165.88 465.21,165.15 465.35,164.56 465.82,164.12 466.12,163.6 466.27,163.01 465.89,162.16 466.06,161.58 467.6,161.67 467.47,160.95 466.85,159.98 467.65,159.71 468.33,159.38 468.5,158.8 467.79,157.78 468.01,157.23 468.45,156.78 468.22,155.99 469.15,155.81 469.63,155.39 470,154.92 471.57,155.09 471.84,154.57 471.21,153.56 470.87,152.7 470.65,151.9 470.88,151.35 471.21,150.86 471.5,150.34 471.75,149.81 472.37,149.5 472.55,148.92 472.42,148.15 472.61,147.56 473.6,147.49 474.43,147.32 474.95,146.96 475.63,146.69 475.47,145.88 475.67,145.3 475.61,144.54 476.52,144.43 477.78,144.57 477.24,143.47 476.75,142.41 477.29,142.06 477.38,141.39 477.31,140.62 478.58,140.74 479.22,140.44 479.12,139.64 479.76,139.34 479.9,138.71 480,138.04 480.52,137.67 480.45,136.9 481.12,136.63 481.41,136.1 482.24,135.95 482.72,135.57 483.08,135.12 483.24,134.52 483.11,133.7 483.42,133.21 483.11,132.25 483.93,132.15 484.95,132.25 484.84,131.43 485.37,131.15 485.89,130.87 485.95,130.15 486.7,130.09 487.23,129.83 486.99,128.77 487.71,128.69 488.81,129.03 488.65,128 488.63,127.1 488.72,126.31 489.07,125.8 490.15,126.13 490.88,126.07 490.88,125.14 491.29,124.69 492.49,125.18 493,124.85 492.88,123.76 493.81,123.91 494.56,123.85 494.66,123.03 494.83,122.29 494.84,121.37 495.13,120.79 495.89,120.72 496.61,120.61 497.3,120.46 497.96,120.29 498.37,119.83 498.71,119.32 498.8,118.52 498.54,117.38 499.12,117.12 499.91,117.08 500.31,116.62 500.94,116.43 501.21,115.83 501.41,115.17 502.17,115.12 502.97,115.1 503.24,114.52 503.79,114.25 504.36,113.99 504.37,113.11 504.89,112.81 506.14,113.35 506.38,112.75 506.63,112.14 507.63,112.44 508.17,112.18 508.03,111.08 508.63,110.89 509.34,110.83 509.2,109.71 509.58,109.23 510.27,109.15 510.81,108.88 511.08,108.26 511.87,108.32 512.2,107.78 512.08,106.63 512.95,106.79 513.87,107.03 514.42,106.79 514.46,105.83 514.94,105.47 515.81,105.66 516.46,105.55 516.51,104.6 516.62,103.72 517.35,103.72 517.39,102.74 517.78,102.25 518.93,102.85 519.48,102.6 519.52,101.61 520.33,101.74 521.24,102 521.76,101.71 521.82,100.75 522.06,100.04 522.99,100.35 523.34,99.8 523.42,98.84 524.26,99.03 525.3,99.52 525.33,98.49 524.86,96.68 525.29,96.25 526.16,96.48 526.96,96.62 527.84,96.88 528.34,96.55 528.54,95.76 529.11,95.55 529.56,95.13 530.02,94.74 530.59,94.54 531.71,95.21 532.54,95.43 532.26,93.84 532.37,92.88 532.96,92.71 533.33,92.17 533.78,91.75 534.49,91.78 535.35,92.07 535.93,91.88 536.08,90.97 536.4,90.34 536.84,89.9 537.62,90.08 538.34,90.14 539.11,90.3 539.54,89.86 540.05,89.55 540.75,89.59 541.05,88.91 541.12,87.78 541.39,87.02 542.47,87.77 543.53,88.5 543.95,88.02 544.35,87.5 544.76,87 545.07,86.29 545.55,85.92 546.35,86.15 547.07,86.26 547.37,85.53 547.77,85 548.46,85.03 549.12,85 549.39,84.2 550.19,84.46 550.93,84.6 551.14,83.68 551.91,83.87 552.64,83.98 552.87,83.11 553.31,82.66 553.66,82.01 553.96,81.29 554.27,80.57 555.16,81 555.77,80.87 556.2,80.39 556.94,80.52 557.15,79.62 557.81,79.59 558.58,79.79 559.27,79.82 560.1,80.12 560.58,79.76 560.95,79.15 561.3,78.52 561.8,78.18 562.48,78.2 562.79,77.48 563.28,77.12 563.9,77.01 564.49,76.85 565.11,76.76 565.51,76.23 565.84,75.53 566.61,75.75 566.97,75.12 567.25,74.33 568.39,75.32 568.55,74.26 568.67,73.14 569.83,74.18 570.2,73.56 571.09,74.03 571.45,73.42 571.78,72.72 573.07,74.06 573.52,73.61 573.74,72.67 574.18,72.21 574.6,71.7 575.22,71.63 575.73,71.3 576.08,70.63 576.99,71.21 577.39,70.64 577.7,69.88 578.46,70.14 578.84,69.52 579.55,69.67 580.38,70.1 580.48,68.82 580.97,68.43 581.64,68.49 582.09,68.03 582.78,68.13 583.32,67.88 584.01,68.01 584.56,67.78 585.12,67.57 585.78,67.61 586.31,67.33 586.78,66.92 587.13,66.16 587.59,65.7 588.31,65.91 589.19,66.52 589.98,66.91 590.59,66.84 590.86,65.88 591.19,65.07 591.77,64.91 592.36,64.77 593.08,64.99 593.78,65.17 594,64.04 594.31,63.18 595.2,63.85 595.91,64.04 596.23,63.2 596.92,63.34 597.46,63.08 597.81,62.29 598.37,62.05 598.69,61.18 599.44,61.5 600.11,61.6 600.47,60.83 601.1,60.81 601.85,61.13 602.51,61.2 602.98,60.72 603.31,59.88 603.87,59.64 604.46,59.52 605.08,59.49 605.9,60.03 606.42,59.7 607.22,60.18 607.86,60.21 608.22,59.44 608.74,59.09 609.2,58.58 609.88,58.71 610.62,59.04 610.88,57.93 611.44,57.72 612.26,58.26 612.82,58.03 613.38,57.81 613.64,56.73 613.99,55.88 614.98,56.92 615.74,57.3 615.86,55.8 616.45,55.65 617.16,55.88 617.43,54.81 617.74,53.84 618.34,53.74 619.26,54.59 620.03,55.02 620.53,54.63 621.14,54.57 621.83,54.73 622.08,53.58 622.53,53.03 623.27,53.36 623.72,52.8 624.33,52.74 625.04,53.01 625.64,52.94 626.05,52.23 626.59,51.96 627.59,53.2 628.09,52.8 628.21,51.12 628.94,51.49 629.79,52.26 630.38,52.17 630.75,51.31 631.38,51.36 631.99,51.34 632.32,50.31 632.92,50.23 633.6,50.5 634.32,50.89 634.96,51.04 635.46,50.6 636.06,50.58 636.64,50.48 637.21,50.33 637.64,49.58 637.98,48.42 638.77,49.19 639.37,49.13 639.85,48.55 640.55,48.95 641.11,48.74 641.66,48.47 642.42,49.12 642.81,48.12 643.34,47.78 644.36,49.66 644.86,49.18 645.24,48.09 645.88,48.26 646.63,48.9 647.04,47.99 647.48,47.14 648.15,47.44 648.77,47.51 649.38,47.54 649.98,47.46 650.51,47.11 651.05,46.74 651.61,46.52 652.14,46.11 652.77,46.22 653.4,46.33 653.91,45.79 654.63,46.39 655.29,46.72 655.66,45.38 656.34,45.79 656.97,45.96 657.52,45.61 658.16,45.82 658.73,45.61 659.33,45.59 659.86,45.15 660.44,45 661.21,46 661.65,44.95 662.11,44.04 662.87,45.07 663.4,44.52 663.88,43.67 664.66,44.94 665.31,45.28 665.9,45.16" fill="none" stroke="#ff0000" stroke-width="2.2" stroke-linejoin="round" />
<polyline points="419.6,200.79 420.02,218.8 420.44,198.62 420.86,233.06 421.28,200.16 421.7,221.76 422.12,202.06 422.54,217.21 422.96,200.23 423.38,223.08 423.8,199.27 424.22,224.87 424.64,201.68 425.06,226.79 425.48,200.38 425.9,217.36 426.32,199.73 426.74,222.87 427.16,200.72 427.58,225.82 428,198.94 428.42,222.24 428.84,199.06 429.26,224.35 429.68,201.85 430.1,220.42 430.52,200.04 430.94,220.29 431.36,201.23 431.78,217.74 432.2,200.9 432.62,219.07 433.04,200.99 433.46,229.53 433.88,198.62 434.3,219.51 434.72,198.65 435.14,224.39 435.56,199.87 435.98,220.44 436.4,199.55 436.82,220.09 437.24,201.74 437.66,222.27 438.08,201.83 438.5,239.67 438.92,200.97 439.34,219 439.76,199.31 440.18,217.67 440.6,200.28 441.02,222.77 441.44,200.8 441.86,221.58 442.28,201.15 442.7,222.27 443.12,201.8 443.54,226.97 443.96,198.74 444.38,218.86 444.8,200.48 445.22,218.15 445.64,198.74 446.06,217.3 446.48,199.71 446.9,218.88 447.32,201.39 447.74,218.18 448.16,200.84 448.58,221.94 449,199.75 449.42,227.56 449.84,199.35 450.26,218.52 450.68,200.9 451.1,220.97 451.52,199.92 451.94,218.48 452.36,200.2 452.78,228.34 453.2,199.06 453.62,239.99 454.04,200.77 454.46,219.25 454.88,198.94 455.3,221.05 455.72,198.82 456.14,218.6 456.56,201.22 456.98,220.87 457.4,202.09 457.82,219.37 458.24,199.25 458.66,219.67 459.08,200.07 459.5,219.33 459.92,201.13 460.34,228.32 460.76,202.08 461.18,223.64 461.6,202.06 462.02,229.4 462.44,199.36 462.86,218.88 463.28,201.12 463.7,225.76 464.12,199.4 464.54,218.06 464.96,200.29 465.38,236.19 465.8,200.8 466.22,223.95 466.64,199 467.06,226.55 467.48,200.34 467.9,226.26 468.32,201.68 468.74,221.25 469.16,201.17 469.58,248.63 470,198.92 470.42,221.81 470.84,201.93 471.26,225.61 471.68,199.39 472.1,221.32 472.52,199.65 472.94,219.72 473.36,198.87 473.78,219.73 474.2,197.68 474.62,220.57 475.04,196.53 475.46,219.31 475.88,196.67 476.3,218.05 476.72,195.78" fill="none" stroke="#0000ff" stroke-width="1.4" stroke-linejoin="round" />
<polyline points="430.36,203.8 430.57,203.24 430.72,202.66 431.13,202.15 431.59,201.67 431.69,201.07 431.46,200.37 431.53,199.76 432.2,199.35 432.65,198.86 431.88,197.98 431.48,197.22 432.2,196.82 432.39,196.25 432.29,195.59 432.33,194.98 432.56,194.42 433.31,194.03 434,193.62 434.01,192.99 434.63,192.56 434.78,191.97 435.42,191.55 436.04,191.11 435.13,190.19 434.7,189.42 433.54,188.42 433.87,187.89 435.27,187.71 436.29,187.41 435.85,186.63 436.03,186.06 436.67,185.64 436.38,184.91 435.65,184.03 435.6,183.38 436.68,183.1 437.09,182.61 437.46,182.1 436.92,181.28 437.46,180.82 438.39,180.51 438.45,179.9 438.78,179.37 439.18,178.88 438.97,178.17 438.19,177.25 437.85,176.48 439.14,176.31 440.19,176.06 439.9,175.31 439.66,174.58 439.85,174.01 440.25,173.52 440.32,172.9 440.26,172.22 441.47,172.07 442.07,171.66 441.21,170.66 440.85,169.85 441.04,169.27 442.07,169.06 442.89,168.76 442.76,168.05 442.74,167.37 442.95,166.81 442.75,166.06 443.62,165.79 444.44,165.51 445.15,165.17 444.97,164.43 444.22,163.41 445.1,163.16 445.32,162.6 444.71,161.64 444.7,160.97 445.53,160.7 446.28,160.39 446.47,159.81 446.98,159.39 447.66,159.05 447.66,158.38 447.55,157.66 447.59,157.02 448.05,156.57 448.76,156.25 448.83,155.61 448.91,154.99 449.02,154.37 448.57,153.49 448.56,152.83 449.66,152.68 450.47,152.4 451.04,152.01 451.14,151.39 451.11,150.72 451.85,150.4 452.15,149.88 451.65,148.99 451.43,148.24 451.96,147.82 451.89,147.14 452.26,146.65 453.28,146.43 453.14,145.72 453.75,145.33 454.06,144.8 453.44,143.89 453.7,143.34 453.73,142.7 454.22,142.26 454.74,141.82 455.46,141.47 455.93,141.01 455.72,140.27 455.63,139.58 455.11,138.69 455.4,138.16 455.86,137.7 456.51,137.32 457.07,136.91 457.59,136.49 458.14,136.07 458.06,135.38 458.12,134.75 458.13,134.09 458.56,133.62 459.09,133.21 458.83,132.42 458.94,131.8 460.47,131.91 460.52,131.27 459.72,130.17 459.78,129.51 459.63,128.74 460.62,128.6 461.48,128.39 461.45,127.68 462.41,127.55 463.52,127.52 462.83,126.41 462.62,125.57 463.49,125.4 463.58,124.74 463.85,124.2 464.03,123.59 464.76,123.34 465.32,122.99 465.21,122.2 465.78,121.85 466.31,121.48 466.38,120.79 466.53,120.16 467.33,119.98 467.74,119.54 467.45,118.59 467.34,117.76 467.61,117.2 467.9,116.66 468.41,116.29 469.22,116.14 468.84,115.11 469.12,114.56 470.4,114.78 470.81,114.34 470.63,113.45 471.36,113.25 471.81,112.84 471.33,111.71 471.57,111.13 472.35,110.96 473.42,111.01 474.19,110.83 474.3,110.14 473.88,109.05 473.97,108.33 474.46,107.93 475,107.57 475.1,106.86 475.58,106.46 476.77,106.64 477.08,106.1 477.41,105.58 477.56,104.9 477.35,103.9 477.86,103.52 479.09,103.81 480.02,103.85 479.94,102.94 480.41,102.56 480.87,102.17 481.39,101.84 482.05,101.68 481.92,100.66 482.45,100.36 482.8,99.86 482.77,98.91 483.05,98.3 483.84,98.31 484.68,98.4 485.07,97.92 485.46,97.44 486.33,97.61 486.81,97.25 486.78,96.15 487.68,96.4 488.69,96.82 488.98,96.17 488.76,94.71 489.07,94.04 490.12,94.57 490.78,94.47 491.51,94.5 491.73,93.68 492.07,93.05 492.76,93.01 493.43,92.95 494.08,92.85 494.55,92.44 494.96,91.93 494.99,90.72 495.43,90.26 496.13,90.26 496.68,90 497.58,90.38 498.59,90.97 498.93,90.34 498.97,89.17 499.42,88.73 500.01,88.58 500.86,88.87 501.59,88.96 501.92,88.31 502.3,87.76 502.32,86.53 502.78,86.11 503.49,86.15 504.26,86.29 505.03,86.46 505.33,85.74 505.77,85.27 506.78,85.88 507.2,85.39 507.25,84.17 507.94,84.17 508.52,83.97 509.03,83.62 509.8,83.82 510.75,84.37 510.86,83.22 511.09,82.29 511.97,82.72 512.51,82.44 513.02,82.09 513.52,81.74 514.28,81.95 514.81,81.65 515.17,80.97 515.81,80.91 516.4,80.76 516.93,80.47 517.63,80.59 518.21,80.43 518.65,79.88 519.2,79.65 519.59,78.97 520.04,78.45 520.61,78.23 521.32,78.44 521.93,78.38 522.32,77.67 523.03,77.86 523.81,78.31 524.11,77.31 524.84,77.59 525.65,78.13 525.99,77.22 526.7,77.46 527.3,77.35 527.67,76.49 528.51,77.18 529.03,76.81 529.34,75.71 530.15,76.32 530.62,75.76 531.1,75.2 531.85,75.64 532.71,76.51 533.15,75.83 533.48,74.67 534.23,75.16 534.83,75.06 535.23,74.15 535.85,74.14 536.57,74.55 537.16,74.43 537.84,74.72 538.48,74.83 539,74.4 539.53,73.99 540,73.24 540.55,72.94 541.25,73.38 541.83,73.16 542.41,73 542.98,72.73 543.67,73.23 544.46,74.38 544.93,73.48 545.41,72.65 546.02,72.63 546.66,72.9 547.3,73.1 547.82,72.51 548.38,72.15 548.98,72.09 549.53,71.68 550.16,71.82 550.77,71.86 551.35,71.72 552,71.98 552.63,72.13 553.21,71.99 553.8,71.87 554.34,71.4 554.9,71.13 555.53,71.33 556.1,71.06 556.71,71.09 557.35,71.3 557.8,70.33 558.35,69.97 558.97,70.09 559.63,70.37 560.19,70.07 560.62,69.04 561.23,69.07 562.01,70.08 562.63,70.14 563.11,69.4 563.76,69.61 564.21,68.71 564.82,68.69 565.58,69.63 566.19,69.59 566.8,69.6 567.38,69.43 567.9,68.93 568.49,68.82 569.1,68.86 569.86,69.72 570.45,69.62 570.92,68.8 571.44,68.29 571.96,67.79 572.7,68.56 573.27,68.3 573.68,67.2 574.35,67.52 574.97,67.62 575.72,68.38 576.16,67.46 576.63,66.69 577.46,67.87 577.93,67.14 578.42,66.47 579.13,67.01 579.89,67.86 580.38,67.19 580.73,65.74 581.46,66.42 582.29,67.61 582.77,66.96 583.07,65.29 583.8,65.92 584.55,66.65 585.11,66.4 585.71,66.36 586.18,65.62 586.74,65.33 587.47,65.99 588.22,66.66 588.51,65.04 588.9,63.94 589.81,65.45 590.45,65.57 590.78,64.15 591.4,64.19 592.09,64.59 592.67,64.43 593.23,64.16 593.8,63.96 594.39,63.85 595.03,64 595.59,63.73 596.13,63.36 596.77,63.52 597.49,64.07 598.12,64.17 598.59,63.46 599.2,63.41 599.83,63.51 600.46,63.63 601.06,63.56 601.71,63.74 602.36,63.97 602.81,63.1 603.26,62.25 603.92,62.53 604.58,62.8 605.1,62.29 605.54,61.35 606,60.51 606.73,61.17 607.52,62.15 608.14,62.24 608.58,61.28 609.19,61.27 609.84,61.49 610.39,61.11 611.05,61.41 611.56,60.82 612.08,60.29 612.58,59.66 613.16,59.43 613.77,59.45 614.45,59.92 615.17,60.61 615.8,60.71 616.41,60.74 616.9,60 617.49,59.9 618.1,59.91 618.71,59.93 619.35,60.13 619.84,59.37 620.41,59.14 621.08,59.49 621.65,59.27 622.3,59.53 623.02,60.28 623.53,59.66 623.99,58.7 624.46,57.82 625.07,57.82 625.78,58.49 626.24,57.55 626.88,57.76 627.65,58.82 628.18,58.3 628.7,57.8 629.28,57.61 629.95,57.99 630.5,57.67 631.02,57.12 631.85,58.48 632.47,58.54 632.96,57.82 633.53,57.64 634.01,56.85 634.61,56.8 635.31,57.37 635.84,56.86 636.43,56.73 637.17,57.59 637.82,57.8 638.21,56.51 638.66,55.56 639.25,55.45 639.99,56.21 640.73,57.04 641.3,56.79 641.79,56.07 642.25,55.19 642.91,55.49 643.59,55.93 644.12,55.44 644.71,55.36 645.41,55.89 646,55.83 646.48,55.02 646.91,53.94 647.55,54.17 648.3,55.03 648.9,54.93 649.45,54.58 650.01,54.3 650.68,54.68 651.32,54.85 651.87,54.5 652.39,54.02 652.93,53.61 653.6,53.99 654.17,53.72 654.66,53.03 655.3,53.21 656.06,54.15 656.69,54.26 657.3,54.27 657.87,54.04 658.34,53.2 658.84,52.57 659.41,52.36 660.2,53.44 660.86,53.72 661.4,53.33 662.02,53.38 662.56,52.97 663.08,52.49 663.69,52.44 664.34,52.71 664.95,52.75 665.53,52.58" fill="none" stroke="#0000ff" stroke-width="2.2" stroke-linejoin="round" />
<polyline points="431.92,204.29 431.79,203.62 431.8,202.99 431.91,202.4 432.6,201.99 432.31,201.27 432,200.54 434,200.55 434.13,199.96 432.88,198.93 433.2,198.41 434.36,198.15 434.49,197.56 434.4,196.9 434.69,196.36 434.48,195.66 435.9,195.49 436.26,194.97 434.95,193.92 434.9,193.28 435.46,192.82 436.01,192.37 436.35,191.84 436.42,191.24 435.71,190.38 436.05,189.86 436.69,189.43 436.54,188.75 436.25,188.03 436.32,187.42 436.82,186.95 437.22,186.45 437.11,185.78 437.33,185.22 438.16,184.86 437.88,184.14 437.77,183.47 438.06,182.94 438.87,182.58 438.39,181.78 438.09,181.04 438.63,180.59 438.79,180.02 440,179.81 440.12,179.22 440.03,178.55 440.15,177.96 441.08,177.66 441.98,177.36 441.86,176.69 441.18,175.8 440.51,174.9 441.68,174.71 442.25,174.3 441.94,173.54 442.37,173.07 442.2,172.36 442.6,171.88 443.33,171.55 443.44,170.95 443.41,170.29 443.66,169.75 443.88,169.2 444.3,168.73 445.25,168.5 445.48,167.95 445.49,167.3 445.63,166.71 444.63,165.6 444.96,165.09 446.15,164.98 446.12,164.31 446.37,163.76 446.06,162.95 446.22,162.36 447.26,162.19 448.27,162.01 448.04,161.23 447.41,160.27 448.47,160.11 448.73,159.57 449.23,159.14 449.85,158.77 448.98,157.69 449.6,157.32 450.85,157.25 450.18,156.26 450.39,155.69 451.09,155.36 451.32,154.8 451.54,154.24 450.62,153.14 451.22,152.75 452.44,152.66 453.31,152.39 453.87,151.99 453.58,151.19 453.07,150.29 452.85,149.53 453.07,148.97 453.19,148.36 453.44,147.81 453.01,146.97 453.43,146.5 454.65,146.36 455.82,146.2 456.36,145.77 455.4,144.71 455.56,144.13 455.5,143.45 455.28,142.7 455.26,142.04 456.29,141.82 457.49,141.67 456.7,140.69 456.68,140.02 457.75,139.83 458.2,139.37 458.22,138.73 457.93,137.95 457.78,137.23 458.39,136.84 459.24,136.57 459.13,135.87 458.59,134.96 459.6,134.78 459.93,134.28 460.16,133.74 460.87,133.43 461.06,132.86 461.89,132.63 462.08,132.08 461.99,131.37 461.66,130.54 461.4,129.72 462.27,129.53 463.38,129.48 463.95,129.14 464.53,128.81 464.43,128.07 463.97,127.1 464.53,126.75 464.78,126.21 464.71,125.46 464.65,124.71 465.35,124.46 465.67,123.95 465.84,123.34 466.05,122.76 466.59,122.4 467.07,122 467.32,121.45 467.47,120.82 467.37,120.01 468.67,120.2 468.9,119.63 468.86,118.86 469.33,118.46 468.87,117.38 469.5,117.09 470.79,117.31 470.66,116.47 471.07,116.03 471.53,115.63 471.36,114.75 471.99,114.48 472.46,114.08 473.6,114.19 473.67,113.48 473.51,112.6 474.73,112.77 474.18,111.59 473.64,110.41 474.86,110.58 475.66,110.43 475.97,109.91 476.89,109.86 477.01,109.19 476.66,108.13 476.27,107.02 477.08,106.89 478.05,106.92 478.48,106.49 479.24,106.36 479.1,105.44 479.97,105.41 481.14,105.68 481.26,105 480.96,103.92 480.99,103.12 481.59,102.89 482.01,102.48 482.26,101.89 482.93,101.76 483.74,101.79 484.15,101.39 484.37,100.79 485.06,100.72 485.68,100.6 485.07,98.9 485.32,98.26 486.48,98.82 487.35,99.02 487.76,98.6 487.95,97.84 488.35,97.38 489.06,97.38 489.6,97.13 489.81,96.35 490.25,95.93 491.02,96.03 491.58,95.79 491.61,94.67 492.38,94.78 493.11,94.83 493.58,94.43 494.33,94.52 495.03,94.54 495.7,94.49 495.86,93.53 496.14,92.79 496.52,92.23 497.43,92.62 498.31,92.98 498.79,92.58 499.16,92.01 498.98,90.44 499.89,90.84 500.85,91.35 501.09,90.54 501.61,90.24 502.24,90.14 502.86,90.03 502.93,88.91 503.57,88.83 504.31,88.94 504.53,88.07 505.51,88.63 506.32,88.87 506.43,87.81 506.41,86.49 507.05,86.39 508.05,87.02 508.54,86.65 508.72,85.7 509.12,85.16 509.66,84.88 510.39,84.99 511.32,85.52 512.01,85.56 512.26,84.71 512.65,84.15 513.42,84.38 513.83,83.84 514.25,83.32 515.25,84.1 515.85,83.99 516.18,83.27 516.61,82.79 517.02,82.23 517.36,81.5 517.9,81.24 518.91,82.17 519.78,82.8 520.32,82.59 520.65,81.83 521.03,81.17 521.4,80.46 521.93,80.18 522.66,80.47 523.13,80.02 523.74,79.96 524.27,79.69 524.48,78.4 525.04,78.2 525.63,78.06 526.16,77.73 527.09,78.69 527.81,78.98 528.27,78.44 529.01,78.81 529.7,79.07 530.07,78.22 530.66,78.08 531.34,78.28 531.76,77.58 532.34,77.44 532.76,76.7 533.21,76.04 533.93,76.43 534.66,76.86 535.21,76.6 535.72,76.16 536.43,76.57 537.16,77.07 537.71,76.86 538.28,76.67 538.75,76.06 539.19,75.28 539.83,75.46 540.41,75.34 540.93,74.89 541.66,75.59 542.26,75.62 542.66,74.42 543.29,74.6 544.07,75.68 544.63,75.42 545.18,75.07 545.73,74.76 546.21,73.95 546.79,73.76 547.41,73.81 548.15,74.79 548.68,74.28 549.27,74.11 549.87,74.09 550.35,73.22 551.06,73.91 551.71,74.19 552.27,73.87 552.73,72.83 553.33,72.77 553.96,72.95 554.7,73.78 555.35,74.03 555.79,72.93 556.32,72.45 556.87,72.07 557.45,71.91 558.15,72.43 558.81,72.76 559.37,72.49 559.94,72.21 560.45,71.67 561.18,72.39 561.74,72.1 562.12,70.7 562.81,71.18 563.44,71.36 563.98,70.9 564.71,71.66 565.28,71.4 565.87,71.29 566.47,71.24 567.11,71.4 567.84,72.14 568.29,71.21 568.77,70.47 569.34,70.21 569.96,70.28 570.7,71.01 571.17,70.22 571.74,70.02 572.34,69.97 572.8,69.12 573.36,68.82 574.17,69.96 574.9,70.62 575.35,69.74 575.89,69.33 576.54,69.57 577.02,68.87 577.54,68.32 578.45,70.02 579.01,69.74 579.44,68.72 580.11,69.06 580.64,68.6 581.18,68.22 581.9,68.86 582.51,68.82 583.05,68.47 583.6,68.13 584.19,68 584.81,68.05 585.49,68.42 586.14,68.58 586.59,67.76 586.93,66.32 587.59,66.61 588.44,67.83 588.9,67.03 589.26,65.77 589.83,65.56 590.66,66.66 591.26,66.58 591.73,65.88 592.43,66.3 593.16,66.89 593.73,66.67 594.2,66 594.75,65.66 595.48,66.27 596.2,66.82 596.65,65.99 597.03,64.84 597.56,64.44 598.31,65.14 598.91,65.06 599.52,65.07 600.2,65.41 600.74,65.04 601.35,65.05 601.95,65.03 602.42,64.28 602.94,63.83 603.78,65.05 604.3,64.57 604.67,63.29 605.44,64.13 606.05,64.15 606.5,63.26 607,62.67 607.69,63.13 608.45,64.01 609.1,64.27 609.62,63.76 610.18,63.51 610.7,62.96 611.23,62.49 611.84,62.54 612.43,62.44 613.12,62.95 613.77,63.23 614.25,62.4 614.85,62.39 615.48,62.51 615.92,61.45 616.53,61.48 617.09,61.21 617.7,61.19 618.4,61.83 618.98,61.65 619.59,61.66 620.18,61.52 620.73,61.2 621.25,60.64 621.85,60.56 622.48,60.72 623.04,60.42 623.68,60.65 624.32,60.82 624.81,60.08 625.29,59.25 625.97,59.72 626.7,60.49 627.33,60.67 627.95,60.76 628.61,61.06 629.18,60.8 629.68,60.15 630.17,59.41 630.71,58.93 631.34,59.07 632.01,59.49 632.65,59.68 633.23,59.47 633.79,59.22 634.43,59.38 635.04,59.44 635.61,59.2 636.21,59.15 636.75,58.7 637.25,58.04 637.91,58.38 638.6,58.89 639.15,58.49 639.68,58.04 640.45,58.99 641.01,58.75 641.43,57.61 642.1,57.94 642.62,57.45 643.21,57.29 644,58.43 644.65,58.67 645.16,58.09 645.73,57.85 646.29,57.53 646.9,57.59 647.48,57.37 647.97,56.7 648.58,56.71 649.27,57.17 649.88,57.16 650.45,56.97 650.88,55.88 651.51,56 652.4,57.73 653.01,57.69 653.41,56.48 653.85,55.46 654.48,55.61 655.07,55.46 655.69,55.54 656.31,55.64 656.92,55.64 657.65,56.33 658.03,54.98 658.54,54.43 659.23,54.89 659.7,54.07 660.3,54.01 660.98,54.41 661.68,55 662.18,54.35 662.78,54.26 663.62,55.64 664.18,55.35 664.67,54.63 665.21,54.28 665.68,53.45" fill="none" stroke="#0000ff" stroke-width="2.2" stroke-linejoin="round" />
<polyline points="474.58,205.61 474.89,205.08 475.14,204.52 476.19,204.18 476.35,203.61 475.64,202.78 476.14,202.3 475.58,201.51 474.65,200.61 475.21,200.14 475.58,199.62 476.19,199.17 476.5,198.63 477.1,198.18 478.03,197.84 477.81,197.14 477.21,196.33 477.33,195.73 478,195.31 477.5,194.52 477.49,193.88 478.39,193.54 478.53,192.95 479.06,192.49 479.65,192.05 478.87,191.16 478.62,190.44 478.81,189.87 479.18,189.35 479.36,188.78 479.69,188.25 480.39,187.86 480.61,187.29 480.59,186.65 479.81,185.74 480.78,185.44 481.49,185.05 481.53,184.43 481.97,183.95 481.89,183.28 482.65,182.91 482.72,182.3 482.75,181.67 482.22,180.84 482.21,180.2 482.91,179.81 482.71,179.1 483.02,178.57 483.42,178.07 484.28,177.75 483.61,176.86 483.18,176.05 483.85,175.65 484.5,175.26 484.83,174.74 484.77,174.06 484.99,173.5 485.29,172.97 486.07,172.63 485.87,171.9 485.71,171.19 485.53,170.47 485.85,169.94 486.98,169.75 486.87,169.05 487.2,168.53 486.83,167.73 485.9,166.68 486.41,166.22 487.19,165.88 487.99,165.56 488.39,165.08 488.61,164.51 489.18,164.1 489.28,163.47 488.78,162.56 488.75,161.87 490.3,161.95 490.15,161.2 489.54,160.23 491.26,160.4 491.78,159.99 491.18,159.01 491.27,158.38 492.18,158.17 492.91,157.86 492.5,156.99 492.6,156.37 493.3,156.05 493.7,155.58 494.4,155.25 494.1,154.45 493.27,153.39 493.81,152.99 495.3,153.04 495.67,152.55 495.31,151.74 496.22,151.49 495.97,150.73 495.62,149.94 496.03,149.48 495.92,148.8 496.39,148.37 497.19,148.05 496.99,147.34 496.38,146.48 496.33,145.83 496.94,145.42 497.6,145.02 497.78,144.45 497.73,143.8 497.63,143.11 498.68,142.85 498.96,142.31 499.01,141.68 499.51,141.22 499.34,140.5 498.75,139.6 499.51,139.24 500.42,138.97 500.65,138.41 500.03,137.49 499.24,136.49 499.43,135.91 499.98,135.48 501.46,135.46 502.27,135.15 502.1,134.41 502.19,133.78 502.75,133.37 502.84,132.74 502.96,132.12 503.4,131.65 502.69,130.61 502.77,129.96 504.39,130.1 504.67,129.56 504.4,128.72 504.62,128.14 504.79,127.53 505.74,127.36 506.13,126.88 505.66,125.89 504.95,124.73 505.44,124.29 506.19,124.02 506.07,123.21 507.4,123.33 508.63,123.41 508.01,122.26 508.41,121.78 509.59,121.85 509.36,120.95 509.81,120.52 509.87,119.81 509.56,118.84 509.98,118.39 510.37,117.92 511.53,118.01 511.82,117.47 511.5,116.46 512.01,116.07 512.84,115.94 513.42,115.61 514.03,115.31 514.29,114.73 513.97,113.68 514.43,113.26 515.26,113.15 515.52,112.56 516,112.16 517.29,112.47 517.42,111.77 517.27,110.81 518.29,110.91 518.49,110.27 518.23,109.18 518.52,108.6 519.32,108.54 520.24,108.59 520.5,108 520.79,107.43 521.65,107.44 522.33,107.27 521.98,106.02 522.18,105.33 523.06,105.38 523.73,105.19 524.09,104.67 524.16,103.83 524.56,103.34 524.72,102.57 525.31,102.3 526.11,102.29 526.72,102.05 527.08,101.52 527.33,100.83 527.83,100.46 528.16,99.87 529.08,100.06 529.73,99.9 530.16,99.45 530.49,98.87 530.91,98.4 531.28,97.85 531.65,97.31 532.44,97.39 533.19,97.43 533.86,97.34 534.21,96.74 534.87,96.65 535.48,96.46 535.94,96.03 536.59,95.93 536.99,95.39 537.3,94.69 537.93,94.53 538.45,94.18 539,93.91 539.85,94.19 540.49,94.09 540.75,93.24 540.91,92.15 541.53,92.01 542.31,92.19 543.07,92.39 543.59,92.04 543.93,91.29 544.68,91.49 545.21,91.16 545.65,90.59 546.54,91.25 547.34,91.71 547.76,91.07 548.17,90.39 548.54,89.55 549.16,89.48 549.87,89.72 550.41,89.4 550.93,88.99 551.48,88.72 552.11,88.68 552.73,88.65 553.5,89.14 554.09,88.99 554.31,87.56 554.73,86.85 555.31,86.72 555.91,86.62 556.74,87.32 557.45,87.64 557.88,87 558.43,86.77 558.98,86.53 559.33,85.67 559.82,85.22 560.47,85.27 561.4,86.24 561.91,85.86 562.46,85.61 563.37,86.51 563.76,85.75 564.16,85.02 564.68,84.66 565.25,84.49 565.99,84.83 566.56,84.66 567.18,84.62 567.9,84.91 568.39,84.47 568.86,83.94 569.38,83.6 569.96,83.43 570.4,82.82 570.98,82.67 571.72,83.03 572.14,82.34 572.95,82.95 573.51,82.73 573.71,81.33 574.45,81.66 574.89,81.05 575.34,80.44 575.96,80.43 576.52,80.19 577.27,80.58 578,80.93 578.72,81.27 579.36,81.29 579.95,81.16 580.5,80.9 580.88,80.06 581.52,80.11 582.1,79.93 582.48,79.06 583.29,79.72 584.03,80.13 584.46,79.44 585.04,79.26 585.69,79.37 586.04,78.35 586.51,77.79 587.11,77.71 587.72,77.64 588.36,77.7 589.07,78.05 589.78,78.38 590.13,77.34 590.66,76.97 591.19,76.65 591.78,76.52 592.55,77.09 593.16,77.03 593.47,75.86 593.99,75.47 594.83,76.32 595.48,76.43 596.13,76.54 596.54,75.74 597.05,75.33 597.7,75.44 598.24,75.15 598.94,75.43 599.57,75.48 600.04,74.92 600.57,74.56 601.08,74.17 601.48,73.36 602.25,73.91 602.97,74.31 603.31,73.26 603.79,72.78 604.55,73.29 605.4,74.11 606.09,74.37 606.58,73.9 606.83,72.58 607.29,72.05 608.13,72.81 608.76,72.84 609.32,72.65 609.82,72.22 610.55,72.6 611.34,73.12 611.68,72.19 611.94,71.02 612.78,71.71 613.41,71.7 613.87,71.18 614.76,71.99 615.05,70.95 615.41,70.11 616.06,70.17 616.66,70.07 617.32,70.16 618.07,70.55 618.68,70.48 618.99,69.5 619.63,69.53 620.17,69.24 620.54,68.45 621.45,69.28 621.96,68.91 622.17,67.62 622.86,67.79 623.35,67.37 623.64,66.31 624.49,66.98 625.24,67.33 625.61,66.5 626.23,66.49 626.75,66.13 627.24,65.66 627.96,65.94 628.97,67.17 629.62,67.22 629.99,66.38 630.29,65.29 630.77,64.8 631.39,64.76 632.07,64.91 632.76,65.12 633.25,64.65 633.85,64.54 634.36,64.12 634.78,63.37 635.49,63.68 636.09,63.58 636.48,62.7 637.18,62.99 637.82,63.02 638.46,63.1 639.23,63.65 639.81,63.49 640.3,63 640.86,62.75 641.51,62.87 641.89,61.95 642.42,61.6 643.1,61.82 643.51,61.01 644.19,61.25 644.87,61.45 645.51,61.54 646.25,62 646.53,60.66 646.99,60.03 648.02,61.65 648.7,61.89 649.23,61.53 649.74,61.08 650.03,59.74 650.49,59.09 651.29,59.84 652.09,60.56 652.53,59.82 652.99,59.17 653.68,59.45 654.12,58.69 654.65,58.3 655.56,59.56 656.39,60.48 656.81,59.63 657.36,59.34 657.91,59.04 658.25,57.81 658.68,56.97 659.43,57.57 660.19,58.21 660.91,58.65 661.56,58.82 661.95,57.8 662.35,56.78 663.06,57.2 663.78,57.67 664.22,56.86 664.65,55.97 665.33,56.3" fill="none" stroke="#0000ff" stroke-width="2.2" stroke-linejoin="round" />
<polyline points="476.38,206.1 476.27,205.45 476.06,204.77 476.63,204.31 477.15,203.83 477.19,203.22 477.66,202.73 477.69,202.11 476.9,201.26 476.98,200.66 476.36,199.85 476.4,199.23 478.01,199.09 478.62,198.65 478.06,197.85 478.27,197.28 477.96,196.56 477.88,195.9 479.09,195.65 479.67,195.21 479.33,194.47 479.6,193.93 480.85,193.7 480.49,192.96 480.22,192.24 479.96,191.52 479.05,190.58 480.12,190.3 481.12,190 481.14,189.38 481.08,188.73 481.08,188.09 481.83,187.71 482.84,187.43 482.62,186.72 481.47,185.68 482.26,185.32 483.36,185.07 483.32,184.42 483.35,183.8 484.21,183.47 484.37,182.89 483.85,182.06 483.27,181.22 483.04,180.5 483.71,180.1 484.13,179.61 484.75,179.2 484.67,178.53 485.43,178.17 485.51,177.56 484.85,176.67 485.58,176.3 485.47,175.62 485.82,175.11 486.78,174.83 486.65,174.14 487.37,173.78 487.74,173.28 487.31,172.47 487.12,171.75 486.57,170.88 486.92,170.37 487.68,170.03 487.97,169.5 488.63,169.12 488.1,168.25 487.59,167.39 488.04,166.92 489.25,166.78 489.98,166.45 489.51,165.58 489.55,164.94 490.35,164.64 490.87,164.23 490.87,163.56 490.51,162.72 491.13,162.35 492.32,162.27 492.35,161.61 492.94,161.23 492.92,160.56 492.66,159.75 493.27,159.39 493.77,158.96 493.67,158.24 493.79,157.63 493.96,157.04 494.49,156.63 495.3,156.36 495.29,155.69 495.92,155.32 495.59,154.5 495.03,153.57 496.54,153.61 496.72,153.03 495.69,151.9 496.64,151.68 497.71,151.5 496.94,150.51 497.26,150 497.56,149.47 496.94,148.58 497.51,148.17 498.06,147.74 497.89,147.04 498.15,146.5 498.39,145.95 498.77,145.45 499.36,145.03 499.84,144.56 499.88,143.93 499.25,143.06 499.12,142.37 499.76,141.97 501.11,141.84 501.76,141.46 501.12,140.56 501.39,140.02 501.41,139.38 501.67,138.84 502.21,138.42 502.35,137.82 502.98,137.44 502.81,136.71 502.94,136.11 502.87,135.42 502.97,134.8 504.05,134.63 505.91,134.84 506.01,134.24 504.73,132.97 504.33,132.11 504.97,131.75 505,131.09 504.57,130.19 505.61,130.06 505.74,129.45 506.47,129.17 507.62,129.14 507.13,128.17 506.83,127.3 506.87,126.61 506.88,125.91 507.83,125.78 508.88,125.73 509.17,125.21 509.37,124.62 509.38,123.9 509.75,123.42 509.76,122.7 509.98,122.12 511.36,122.34 512.16,122.18 511.83,121.21 511.6,120.31 512.59,120.29 513.67,120.35 513.04,119.14 512.64,118.09 513.6,118.06 514.52,118.01 514.53,117.26 514.71,116.63 515.26,116.3 516.21,116.3 516.83,116.04 516.39,114.89 516.53,114.22 517.31,114.09 518.03,113.92 517.74,112.87 517.99,112.29 518.32,111.76 518.42,111.04 518.85,110.61 519.09,110 519.69,109.75 520.22,109.42 521.01,109.36 521.97,109.48 522.16,108.83 522.02,107.82 522.76,107.72 522.94,107.03 522.58,105.76 523.83,106.2 525.02,106.61 525.54,106.28 525.74,105.6 525.56,104.49 525.94,103.99 526.91,104.19 527.3,103.72 527.43,102.91 527.73,102.32 528.08,101.78 529.15,102.16 530.05,102.34 530.01,101.3 530.1,100.41 530.74,100.26 531.63,100.48 531.97,99.93 532.29,99.34 532.55,98.66 532.8,97.94 533.9,98.52 534.91,98.97 535.05,98.08 535.19,97.15 536.14,97.54 536.74,97.37 536.97,96.57 537.69,96.59 538.37,96.57 539.02,96.49 539.67,96.42 539.86,95.5 540.21,94.87 540.85,94.79 541.15,94.05 541.53,93.43 542.5,94.06 542.94,93.57 543.49,93.33 544.35,93.82 544.71,93.15 545.3,93.02 545.94,93.05 546.59,93.11 547.01,92.55 547.37,91.78 547.96,91.64 548.81,92.31 549.53,92.6 549.73,91.28 550.14,90.58 550.75,90.49 551.37,90.46 552.06,90.66 552.91,91.43 553.25,90.42 553.68,89.74 554.52,90.5 554.9,89.62 555.41,89.21 556.01,89.13 556.62,89.04 557.38,89.49 557.76,88.68 558.37,88.63 559.09,88.92 559.69,88.82 560.36,88.96 560.9,88.67 561.49,88.55 562.05,88.31 562.56,87.93 562.88,86.97 563.54,87.04 564.3,87.48 565.06,87.88 565.29,86.6 565.56,85.49 566.53,86.56 566.97,85.95 567.38,85.24 568.38,86.43 569.16,86.92 569.35,85.53 569.93,85.35 570.76,86.01 571.25,85.57 571.72,85.07 572.23,84.67 572.64,83.99 573.12,83.5 573.9,83.98 574.55,84.07 575.26,84.35 575.78,83.99 575.83,82.08 576.41,81.91 577.31,82.83 577.97,82.95 578.52,82.69 578.95,82.03 579.7,82.44 580.29,82.34 580.77,81.85 581.39,81.84 581.75,80.89 582.52,81.42 582.95,80.72 583.26,79.63 584.18,80.67 584.82,80.72 585.43,80.69 586.04,80.64 586.48,79.98 587.31,80.76 587.92,80.7 588.24,79.59 588.73,79.08 589.24,78.68 590.01,79.24 590.73,79.63 591.24,79.21 591.69,78.54 592.34,78.67 592.82,78.1 593.29,77.53 594.02,77.98 594.55,77.62 595.17,77.64 595.77,77.56 596.25,77.01 597.1,77.88 597.85,78.36 598.36,77.96 598.87,77.53 599.42,77.28 600.08,77.43 600.69,77.38 601.45,77.87 601.87,77.13 602.22,76.11 602.82,76.02 602.98,74.32 603.4,73.61 604.38,74.9 605.18,75.57 605.69,75.17 606.33,75.22 607.12,75.81 607.52,75.02 608.12,74.91 608.95,75.62 609.41,75.06 609.66,73.78 610.36,74.02 611.03,74.18 611.38,73.25 611.99,73.19 612.54,72.95 613.24,73.16 613.98,73.51 614.57,73.39 615.12,73.13 615.43,72.14 615.91,71.65 616.69,72.15 617.23,71.86 618.07,72.5 618.67,72.39 618.78,70.78 619.53,71.16 620.28,71.51 620.69,70.85 621.14,70.27 621.77,70.27 622.48,70.51 623.09,70.46 623.52,69.82 624.04,69.5 624.76,69.77 625.38,69.73 625.44,67.95 625.8,67.1 626.67,67.85 627.33,67.93 628.02,68.14 628.74,68.43 629.37,68.43 629.81,67.82 630.31,67.4 631.11,67.99 631.61,67.56 632,66.8 632.84,67.51 633.42,67.36 633.56,65.72 634.14,65.56 634.91,66.08 635.43,65.71 636.18,66.14 636.82,66.22 637.25,65.52 637.87,65.54 638.53,65.67 639.02,65.19 639.58,64.98 640.18,64.89 640.69,64.47 641.19,64.03 641.81,64.02 642.34,63.67 642.78,62.99 643.6,63.77 644.29,64.04 644.73,63.34 645.32,63.24 645.91,63.11 646.51,63.02 647.09,62.9 647.59,62.41 648.26,62.62 648.85,62.52 649.45,62.42 649.91,61.77 650.28,60.76 651.15,61.82 651.83,62.06 652.25,61.23 652.88,61.31 653.43,61.01 653.99,60.75 654.46,60.13 654.99,59.77 655.73,60.28 656.41,60.56 657.14,61.06 657.59,60.35 658.25,60.52 658.86,60.49 659.1,58.84 659.52,57.97 660.44,59.33 661.24,60.15 661.62,59.11 662.15,58.71 662.7,58.4 663.48,59.15 664.15,59.44 664.78,59.5 665.36,59.33 665.58,57.48" fill="none" stroke="#0000ff" stroke-width="2.2" stroke-linejoin="round" />
<polyline points="477.99,206.54 477.99,205.92 477.71,205.23 478.66,204.87 478.81,204.29 478.8,203.67 479.07,203.13 478.45,202.33 478.83,201.82 479.06,201.27 479.52,200.78 480.32,200.4 480.02,199.69 480.05,199.08 480.43,198.57 480.24,197.89 480.55,197.37 480.75,196.8 480.82,196.2 480.71,195.54 480.68,194.9 481.41,194.51 481.24,193.83 481.09,193.15 481.38,192.61 482.02,192.2 482.14,191.61 482.21,191 483.3,190.74 483.46,190.16 482.39,189.17 482.49,188.57 483.75,188.37 483.78,187.75 484,187.2 484.56,186.76 484.48,186.1 484.33,185.41 484.15,184.71 484.35,184.15 484.78,183.67 485.29,183.21 485.64,182.7 485.51,182.02 485.57,181.41 486.05,180.94 485.57,180.13 485.32,179.4 485.85,178.96 486.28,178.48 486.7,178 486.89,177.43 486.86,176.78 487.44,176.36 488.11,175.98 487.4,175.07 487.51,174.47 487.93,173.99 488.81,173.69 489.3,173.24 488.68,172.36 489.12,171.9 489.42,171.37 489.58,170.8 490.49,170.53 490.83,170.03 490.78,169.37 491.36,168.97 490.88,168.13 491.33,167.69 492.21,167.44 492.16,166.78 491.81,165.98 492,165.42 492.75,165.11 492.48,164.33 493.45,164.14 494.13,163.81 493.43,162.81 493.55,162.2 494.25,161.89 494.88,161.53 495.02,160.93 495.32,160.41 495.93,160.04 495.26,159.04 494.79,158.13 495.17,157.64 495.66,157.21 496.84,157.12 497.32,156.67 496.63,155.67 496.53,154.95 497.59,154.78 497.75,154.18 497.58,153.43 498.15,153.02 497.73,152.17 498.16,151.69 499.25,151.5 499.41,150.89 499.12,150.11 498.82,149.33 499.2,148.82 499.82,148.41 500.3,147.94 500.46,147.35 501.36,147.03 502.03,146.63 501.24,145.7 500.66,144.86 501.84,144.65 502.17,144.14 502.24,143.54 503.21,143.27 502.66,142.44 502.13,141.6 502.6,141.16 502.59,140.52 502.4,139.79 502.81,139.32 503.76,139.07 503.97,138.51 503.8,137.79 504.03,137.24 503.81,136.49 504.81,136.29 504.68,135.57 504.1,134.65 505.47,134.63 505.43,133.96 505.7,133.44 506.97,133.4 506.67,132.6 506.54,131.88 506.71,131.31 507.1,130.86 507.82,130.59 507.99,130.02 508.75,129.78 509.13,129.33 509.42,128.83 509.78,128.37 509.16,127.3 509.33,126.72 510.25,126.6 509.96,125.71 510.58,125.41 511.45,125.27 511.43,124.55 511.42,123.83 511.65,123.27 512.41,123.07 512.61,122.49 512.87,121.96 512.6,121.03 513.39,120.87 514.08,120.65 513.22,119.28 513.63,118.84 514.45,118.71 515.32,118.63 515.66,118.14 515.94,117.61 516.29,117.13 517.3,117.18 518.17,117.14 518.46,116.62 518.33,115.74 518.29,114.94 518.7,114.5 519.06,114.04 519.97,114.06 519.68,113.01 519.51,112.05 520.05,111.74 520.34,111.2 520.88,110.9 521.46,110.65 521.66,110.01 522.4,109.91 523.41,110.1 523.41,109.26 523.52,108.51 524.34,108.51 524.86,108.2 525.09,107.57 525.83,107.5 526.71,107.59 527.11,107.16 527.26,106.43 528.07,106.46 529.05,106.71 528.84,105.56 528.79,104.58 529.67,104.73 529.95,104.14 530.2,103.51 530.89,103.44 531.07,102.71 531.47,102.27 531.72,101.63 532.12,101.18 532.5,100.69 533.66,101.36 534.97,102.27 535.2,101.58 535.41,100.83 535.84,100.43 536.56,100.46 537.06,100.16 537.48,99.72 537.55,98.72 537.96,98.23 538.55,98.07 538.72,97.18 539.12,96.66 539.97,96.97 540.93,97.51 541.09,96.56 541.75,96.55 542.81,97.37 542.93,96.3 543.1,95.31 543.68,95.18 544.46,95.5 544.93,95.15 545.11,94.11 545.76,94.18 546.15,93.59 546.66,93.3 547.68,94.38 548.24,94.26 548.73,93.91 549.31,93.81 549.85,93.6 550.37,93.28 550.73,92.47 551.25,92.15 551.92,92.28 552.67,92.72 553.44,93.24 553.92,92.73 554.21,91.59 554.66,90.96 555.3,91.02 556.13,91.72 556.78,91.76 557.19,91 557.64,90.38 558.34,90.59 559.05,90.85 559.52,90.29 560.07,90.03 560.86,90.56 561.4,90.27 561.98,90.09 562.73,90.48 563.09,89.64 563.62,89.31 564.17,89.06 564.53,88.19 565.08,87.95 565.64,87.74 566.31,87.87 567,88.07 567.58,87.91 568.26,88.06 568.36,86.39 568.87,86 569.61,86.35 570.16,86.12 570.85,86.31 571.42,86.11 572.27,86.84 572.62,85.93 573.04,85.28 573.82,85.76 574.13,84.74 574.79,84.86 575.6,85.47 576.03,84.83 576.51,84.35 577.54,85.69 578.15,85.65 578.12,83.44 578.63,83.05 579.37,83.46 580.01,83.52 580.62,83.46 581.12,83.03 581.76,83.11 582.4,83.18 582.75,82.24 583.29,81.94 583.98,82.17 584.74,82.7 585.42,82.89 585.86,82.25 586.38,81.9 587.02,81.97 587.82,82.64 588.3,82.14 588.71,81.34 589.43,81.74 589.86,81.01 590.38,80.63 591.08,80.94 591.59,80.51 592.21,80.53 592.95,80.99 593.59,81.07 594.04,80.42 594.52,79.88 595.37,80.78 595.81,80.09 596.17,79.07 596.96,79.74 597.54,79.56 598.09,79.31 598.68,79.16 599.27,79.05 599.97,79.36 600.45,78.8 600.91,78.2 601.51,78.12 602.03,77.71 602.61,77.57 603.11,77.12 603.78,77.27 604.68,78.28 605.37,78.51 605.9,78.17 606.18,76.92 606.79,76.86 607.4,76.79 607.8,75.99 608.68,76.87 609.14,76.28 609.6,75.7 610.34,76.08 610.8,75.5 611.24,74.86 611.89,74.92 612.52,74.91 613.17,74.98 613.96,75.49 614.23,74.32 614.58,73.44 615.29,73.69 615.78,73.23 616.25,72.73 616.99,73.06 617.68,73.24 618.02,72.35 618.55,72.03 619.41,72.73 619.89,72.27 620.28,71.5 621.21,72.44 622.08,73.16 622.23,71.68 622.45,70.42 623.28,71.04 623.87,70.92 624.36,70.48 625.03,70.59 625.7,70.74 626,69.71 626.22,68.41 626.96,68.76 627.94,69.88 628.65,70.13 628.87,68.85 629.52,68.93 630.4,69.73 630.88,69.26 631.32,68.66 631.97,68.77 632.73,69.22 633.26,68.94 633.75,68.49 634.3,68.24 634.76,67.7 635.23,67.19 635.88,67.28 636.52,67.38 637.04,67.01 637.75,67.36 638.4,67.51 638.97,67.33 639.32,66.32 639.87,66.04 640.55,66.29 640.98,65.58 641.53,65.32 642.33,65.99 643.09,66.53 643.46,65.59 643.83,64.63 644.48,64.78 645.13,64.91 645.89,65.44 646.36,64.88 646.58,63.3 647.28,63.65 648.05,64.26 648.67,64.28 649.33,64.44 650.11,65.1 650.58,64.5 650.89,63.28 651.33,62.55 651.99,62.74 652.83,63.68 653.37,63.33 653.98,63.32 654.59,63.31 655.2,63.31 655.81,63.3 656.15,62.1 656.64,61.56 657.18,61.23 657.66,60.64 658.41,61.25 659.24,62.2 659.98,62.77 660.48,62.25 660.86,61.22 661.35,60.65 662.04,61.03 662.76,61.52 663.21,60.74 663.82,60.74 664.51,61.09 664.87,59.91 665.47,59.86 666.23,60.57" fill="none" stroke="#0000ff" stroke-width="2.2" stroke-linejoin="round" />
</g>
<rect x="419.1" y="13.8" width="247.1" height="246.6" fill="none" stroke="#383838" stroke-width="1.6" stroke-linejoin="round"/>
<line x1="419.1" y1="37.4" x2="423.1" y2="37.4" stroke="#383838" stroke-width="1.4" />
<text x="411.3" y="35.4" font-size="9.9" text-anchor="end" stroke="#000" stroke-width="0.22">-5</text>
<text x="401.3" y="44.7" font-size="14" text-anchor="end" stroke="#000" stroke-width="0.22">10</text>
<line x1="419.1" y1="86.7" x2="423.1" y2="86.7" stroke="#383838" stroke-width="1.4" />
<text x="411.3" y="84.7" font-size="9.9" text-anchor="end" stroke="#000" stroke-width="0.22">-6</text>
<text x="401.3" y="94" font-size="14" text-anchor="end" stroke="#000" stroke-width="0.22">10</text>
<line x1="419.1" y1="136" x2="423.1" y2="136" stroke="#383838" stroke-width="1.4" />
<text x="411.3" y="134" font-size="9.9" text-anchor="end" stroke="#000" stroke-width="0.22">-7</text>
<text x="401.3" y="143.3" font-size="14" text-anchor="end" stroke="#000" stroke-width="0.22">10</text>
<line x1="419.1" y1="185.3" x2="423.1" y2="185.3" stroke="#383838" stroke-width="1.4" />
<text x="411.3" y="183.3" font-size="9.9" text-anchor="end" stroke="#000" stroke-width="0.22">-8</text>
<text x="401.3" y="192.6" font-size="14" text-anchor="end" stroke="#000" stroke-width="0.22">10</text>
<line x1="419.1" y1="234.6" x2="423.1" y2="234.6" stroke="#383838" stroke-width="1.4" />
<text x="411.3" y="232.6" font-size="9.9" text-anchor="end" stroke="#000" stroke-width="0.22">-9</text>
<text x="401.3" y="241.9" font-size="14" text-anchor="end" stroke="#000" stroke-width="0.22">10</text>
<text x="419.1" y="276.9" font-size="14" text-anchor="middle" stroke="#000" stroke-width="0.22">-40</text>
<line x1="468.52" y1="260.4" x2="468.52" y2="256.4" stroke="#383838" stroke-width="1.4" />
<text x="468.52" y="276.9" font-size="14" text-anchor="middle" stroke="#000" stroke-width="0.22">-30</text>
<line x1="517.94" y1="260.4" x2="517.94" y2="256.4" stroke="#383838" stroke-width="1.4" />
<text x="517.94" y="276.9" font-size="14" text-anchor="middle" stroke="#000" stroke-width="0.22">-20</text>
<line x1="567.36" y1="260.4" x2="567.36" y2="256.4" stroke="#383838" stroke-width="1.4" />
<text x="567.36" y="276.9" font-size="14" text-anchor="middle" stroke="#000" stroke-width="0.22">-10</text>
<line x1="616.78" y1="260.4" x2="616.78" y2="256.4" stroke="#383838" stroke-width="1.4" />
<text x="616.78" y="276.9" font-size="14" text-anchor="middle" stroke="#000" stroke-width="0.22">0</text>
<text x="666.2" y="276.9" font-size="14" text-anchor="middle" stroke="#000" stroke-width="0.22">10</text>
<text x="355.4" y="25.1" font-size="27" font-weight="bold" font-style="normal" fill="#000" text-anchor="start" stroke="#000" stroke-width="0.22" >b</text>
<text x="435.6" y="34.3" font-size="12" font-weight="normal" font-style="normal" fill="#000" text-anchor="start" stroke="#000" stroke-width="0.22" >V</text>
<text x="443.7" y="37.3" font-size="8.8" font-weight="normal" font-style="normal" fill="#000" text-anchor="start" stroke="#000" stroke-width="0.22" >DS</text>
<text x="459.2" y="34.3" font-size="12" font-weight="normal" font-style="normal" fill="#000" text-anchor="start" stroke="#000" stroke-width="0.22" >= 5V</text>
<text x="521.6" y="301.2" font-size="15.1" font-weight="normal" font-style="italic" fill="#000" text-anchor="start" stroke="#000" stroke-width="0.22" >V</text>
<text x="531.3" y="304.3" font-size="10.6" font-weight="normal" font-style="normal" fill="#000" text-anchor="start" stroke="#000" stroke-width="0.22" >G</text>
<text x="543.2" y="301.2" font-size="15.1" font-weight="normal" font-style="normal" fill="#000" text-anchor="start" stroke="#000" stroke-width="0.22" >(V)</text>
<text transform="translate(369.6,137) rotate(-90)" font-size="15.1" text-anchor="middle" stroke="#000" stroke-width="0.22"><tspan font-style="italic">I</tspan> (A)</text>
<line x1="594.2" y1="216.4" x2="606.3" y2="216.4" stroke="#ff0000" stroke-width="2.4" />
<line x1="594.2" y1="230.2" x2="606.3" y2="230.2" stroke="#0000ff" stroke-width="2.4" />
<text x="612.3" y="220.1" font-size="12.35" font-weight="normal" font-style="normal" fill="#000" text-anchor="start" stroke="#000" stroke-width="0.22" >Flat</text>
<text x="612.3" y="233.9" font-size="12.35" font-weight="normal" font-style="normal" fill="#000" text-anchor="start" stroke="#000" stroke-width="0.22" >Bubble</text>
<rect x="68.3" y="318.7" width="246.7" height="246.7" fill="none" stroke="#111" stroke-width="1.5" stroke-linejoin="round"/>
<text x="60.5" y="316.7" font-size="9.9" text-anchor="end" stroke="#000" stroke-width="0.22">-5</text>
<text x="50.5" y="326" font-size="14" text-anchor="end" stroke="#000" stroke-width="0.22">10</text>
<line x1="68.3" y1="361.81" x2="70.9" y2="361.81" stroke="#111" stroke-width="1.2" />
<line x1="68.3" y1="350.95" x2="70.9" y2="350.95" stroke="#111" stroke-width="1.2" />
<line x1="68.3" y1="343.24" x2="70.9" y2="343.24" stroke="#111" stroke-width="1.2" />
<line x1="68.3" y1="337.27" x2="70.9" y2="337.27" stroke="#111" stroke-width="1.2" />
<line x1="68.3" y1="332.38" x2="70.9" y2="332.38" stroke="#111" stroke-width="1.2" />
<line x1="68.3" y1="328.25" x2="70.9" y2="328.25" stroke="#111" stroke-width="1.2" />
<line x1="68.3" y1="324.68" x2="70.9" y2="324.68" stroke="#111" stroke-width="1.2" />
<line x1="68.3" y1="321.52" x2="70.9" y2="321.52" stroke="#111" stroke-width="1.2" />
<line x1="68.3" y1="380.38" x2="72.5" y2="380.38" stroke="#111" stroke-width="1.4" />
<text x="60.5" y="378.38" font-size="9.9" text-anchor="end" stroke="#000" stroke-width="0.22">-6</text>
<text x="50.5" y="387.68" font-size="14" text-anchor="end" stroke="#000" stroke-width="0.22">10</text>
<line x1="68.3" y1="423.48" x2="70.9" y2="423.48" stroke="#111" stroke-width="1.2" />
<line x1="68.3" y1="412.62" x2="70.9" y2="412.62" stroke="#111" stroke-width="1.2" />
<line x1="68.3" y1="404.92" x2="70.9" y2="404.92" stroke="#111" stroke-width="1.2" />
<line x1="68.3" y1="398.94" x2="70.9" y2="398.94" stroke="#111" stroke-width="1.2" />
<line x1="68.3" y1="394.06" x2="70.9" y2="394.06" stroke="#111" stroke-width="1.2" />
<line x1="68.3" y1="389.93" x2="70.9" y2="389.93" stroke="#111" stroke-width="1.2" />
<line x1="68.3" y1="386.35" x2="70.9" y2="386.35" stroke="#111" stroke-width="1.2" />
<line x1="68.3" y1="383.2" x2="70.9" y2="383.2" stroke="#111" stroke-width="1.2" />
<line x1="68.3" y1="442.05" x2="72.5" y2="442.05" stroke="#111" stroke-width="1.4" />
<text x="60.5" y="440.05" font-size="9.9" text-anchor="end" stroke="#000" stroke-width="0.22">-7</text>
<text x="50.5" y="449.35" font-size="14" text-anchor="end" stroke="#000" stroke-width="0.22">10</text>
<line x1="68.3" y1="485.16" x2="70.9" y2="485.16" stroke="#111" stroke-width="1.2" />
<line x1="68.3" y1="474.3" x2="70.9" y2="474.3" stroke="#111" stroke-width="1.2" />
<line x1="68.3" y1="466.59" x2="70.9" y2="466.59" stroke="#111" stroke-width="1.2" />
<line x1="68.3" y1="460.62" x2="70.9" y2="460.62" stroke="#111" stroke-width="1.2" />
<line x1="68.3" y1="455.73" x2="70.9" y2="455.73" stroke="#111" stroke-width="1.2" />
<line x1="68.3" y1="451.6" x2="70.9" y2="451.6" stroke="#111" stroke-width="1.2" />
<line x1="68.3" y1="448.03" x2="70.9" y2="448.03" stroke="#111" stroke-width="1.2" />
<line x1="68.3" y1="444.87" x2="70.9" y2="444.87" stroke="#111" stroke-width="1.2" />
<line x1="68.3" y1="503.72" x2="72.5" y2="503.72" stroke="#111" stroke-width="1.4" />
<text x="60.5" y="501.72" font-size="9.9" text-anchor="end" stroke="#000" stroke-width="0.22">-8</text>
<text x="50.5" y="511.02" font-size="14" text-anchor="end" stroke="#000" stroke-width="0.22">10</text>
<line x1="68.3" y1="546.83" x2="70.9" y2="546.83" stroke="#111" stroke-width="1.2" />
<line x1="68.3" y1="535.97" x2="70.9" y2="535.97" stroke="#111" stroke-width="1.2" />
<line x1="68.3" y1="528.27" x2="70.9" y2="528.27" stroke="#111" stroke-width="1.2" />
<line x1="68.3" y1="522.29" x2="70.9" y2="522.29" stroke="#111" stroke-width="1.2" />
<line x1="68.3" y1="517.41" x2="70.9" y2="517.41" stroke="#111" stroke-width="1.2" />
<line x1="68.3" y1="513.28" x2="70.9" y2="513.28" stroke="#111" stroke-width="1.2" />
<line x1="68.3" y1="509.7" x2="70.9" y2="509.7" stroke="#111" stroke-width="1.2" />
<line x1="68.3" y1="506.55" x2="70.9" y2="506.55" stroke="#111" stroke-width="1.2" />
<text x="60.5" y="563.4" font-size="9.9" text-anchor="end" stroke="#000" stroke-width="0.22">-9</text>
<text x="50.5" y="572.7" font-size="14" text-anchor="end" stroke="#000" stroke-width="0.22">10</text>
<text x="68.3" y="581.7" font-size="14" text-anchor="middle" stroke="#000" stroke-width="0.22">0</text>
<line x1="117.64" y1="565.4" x2="117.64" y2="561.4" stroke="#111" stroke-width="1.4" />
<text x="117.64" y="581.7" font-size="14" text-anchor="middle" stroke="#000" stroke-width="0.22">200</text>
<line x1="166.98" y1="565.4" x2="166.98" y2="561.4" stroke="#111" stroke-width="1.4" />
<text x="166.98" y="581.7" font-size="14" text-anchor="middle" stroke="#000" stroke-width="0.22">400</text>
<line x1="216.32" y1="565.4" x2="216.32" y2="561.4" stroke="#111" stroke-width="1.4" />
<text x="216.32" y="581.7" font-size="14" text-anchor="middle" stroke="#000" stroke-width="0.22">600</text>
<line x1="265.66" y1="565.4" x2="265.66" y2="561.4" stroke="#111" stroke-width="1.4" />
<text x="265.66" y="581.7" font-size="14" text-anchor="middle" stroke="#000" stroke-width="0.22">800</text>
<text x="315" y="581.7" font-size="14" text-anchor="middle" stroke="#000" stroke-width="0.22">1000</text>
<text x="4.1" y="333" font-size="27.5" font-weight="bold" font-style="normal" fill="#000" text-anchor="start" stroke="#000" stroke-width="0.22" >c</text>
<text x="191.65" y="611.6" font-size="14.7" font-weight="normal" font-style="normal" fill="#000" text-anchor="middle" stroke="#000" stroke-width="0.22" >Cycles</text>
<text transform="translate(14.3,441.4) rotate(-90)" font-size="14.7" text-anchor="middle" stroke="#000" stroke-width="0.22"><tspan font-style="italic">I</tspan> (A)</text>
<path d="M68.87,481.32a1.9,1.9 0 1,0 3.8,0a1.9,1.9 0 1,0 -3.8,0M69.11,481.31a1.9,1.9 0 1,0 3.8,0a1.9,1.9 0 1,0 -3.8,0M69.36,481.85a1.9,1.9 0 1,0 3.8,0a1.9,1.9 0 1,0 -3.8,0M69.61,481.8a1.9,1.9 0 1,0 3.8,0a1.9,1.9 0 1,0 -3.8,0M69.85,481.87a1.9,1.9 0 1,0 3.8,0a1.9,1.9 0 1,0 -3.8,0M70.1,481.13a1.9,1.9 0 1,0 3.8,0a1.9,1.9 0 1,0 -3.8,0M70.35,481.25a1.9,1.9 0 1,0 3.8,0a1.9,1.9 0 1,0 -3.8,0M70.59,481.64a1.9,1.9 0 1,0 3.8,0a1.9,1.9 0 1,0 -3.8,0M70.84,481.11a1.9,1.9 0 1,0 3.8,0a1.9,1.9 0 1,0 -3.8,0M71.09,481.24a1.9,1.9 0 1,0 3.8,0a1.9,1.9 0 1,0 -3.8,0M71.33,480.96a1.9,1.9 0 1,0 3.8,0a1.9,1.9 0 1,0 -3.8,0M71.58,481.88a1.9,1.9 0 1,0 3.8,0a1.9,1.9 0 1,0 -3.8,0M71.83,481.68a1.9,1.9 0 1,0 3.8,0a1.9,1.9 0 1,0 -3.8,0M72.07,481.53a1.9,1.9 0 1,0 3.8,0a1.9,1.9 0 1,0 -3.8,0M72.32,481.47a1.9,1.9 0 1,0 3.8,0a1.9,1.9 0 1,0 -3.8,0M72.57,481.31a1.9,1.9 0 1,0 3.8,0a1.9,1.9 0 1,0 -3.8,0M72.81,481.32a1.9,1.9 0 1,0 3.8,0a1.9,1.9 0 1,0 -3.8,0M73.06,481.57a1.9,1.9 0 1,0 3.8,0a1.9,1.9 0 1,0 -3.8,0M73.31,481.24a1.9,1.9 0 1,0 3.8,0a1.9,1.9 0 1,0 -3.8,0M73.55,481.72a1.9,1.9 0 1,0 3.8,0a1.9,1.9 0 1,0 -3.8,0M73.8,481.29a1.9,1.9 0 1,0 3.8,0a1.9,1.9 0 1,0 -3.8,0M74.05,481.2a1.9,1.9 0 1,0 3.8,0a1.9,1.9 0 1,0 -3.8,0M74.29,481.74a1.9,1.9 0 1,0 3.8,0a1.9,1.9 0 1,0 -3.8,0M74.54,481.38a1.9,1.9 0 1,0 3.8,0a1.9,1.9 0 1,0 -3.8,0M74.79,481.55a1.9,1.9 0 1,0 3.8,0a1.9,1.9 0 1,0 -3.8,0M75.03,481.31a1.9,1.9 0 1,0 3.8,0a1.9,1.9 0 1,0 -3.8,0M75.28,480.85a1.9,1.9 0 1,0 3.8,0a1.9,1.9 0 1,0 -3.8,0M75.53,481.55a1.9,1.9 0 1,0 3.8,0a1.9,1.9 0 1,0 -3.8,0M75.77,481.08a1.9,1.9 0 1,0 3.8,0a1.9,1.9 0 1,0 -3.8,0M76.02,481.69a1.9,1.9 0 1,0 3.8,0a1.9,1.9 0 1,0 -3.8,0M76.27,481.03a1.9,1.9 0 1,0 3.8,0a1.9,1.9 0 1,0 -3.8,0M76.51,480.95a1.9,1.9 0 1,0 3.8,0a1.9,1.9 0 1,0 -3.8,0M76.76,481.49a1.9,1.9 0 1,0 3.8,0a1.9,1.9 0 1,0 -3.8,0M77.01,481.52a1.9,1.9 0 1,0 3.8,0a1.9,1.9 0 1,0 -3.8,0M77.25,481.44a1.9,1.9 0 1,0 3.8,0a1.9,1.9 0 1,0 -3.8,0M77.5,481.11a1.9,1.9 0 1,0 3.8,0a1.9,1.9 0 1,0 -3.8,0M77.75,481.64a1.9,1.9 0 1,0 3.8,0a1.9,1.9 0 1,0 -3.8,0M77.99,481.05a1.9,1.9 0 1,0 3.8,0a1.9,1.9 0 1,0 -3.8,0M78.24,481.3a1.9,1.9 0 1,0 3.8,0a1.9,1.9 0 1,0 -3.8,0M78.49,481.22a1.9,1.9 0 1,0 3.8,0a1.9,1.9 0 1,0 -3.8,0M78.73,481.32a1.9,1.9 0 1,0 3.8,0a1.9,1.9 0 1,0 -3.8,0M78.98,481.63a1.9,1.9 0 1,0 3.8,0a1.9,1.9 0 1,0 -3.8,0M79.23,481.26a1.9,1.9 0 1,0 3.8,0a1.9,1.9 0 1,0 -3.8,0M79.48,481.56a1.9,1.9 0 1,0 3.8,0a1.9,1.9 0 1,0 -3.8,0M79.72,481.59a1.9,1.9 0 1,0 3.8,0a1.9,1.9 0 1,0 -3.8,0M79.97,480.99a1.9,1.9 0 1,0 3.8,0a1.9,1.9 0 1,0 -3.8,0M80.22,481.12a1.9,1.9 0 1,0 3.8,0a1.9,1.9 0 1,0 -3.8,0M80.46,481.32a1.9,1.9 0 1,0 3.8,0a1.9,1.9 0 1,0 -3.8,0M80.71,481.27a1.9,1.9 0 1,0 3.8,0a1.9,1.9 0 1,0 -3.8,0M80.96,481.49a1.9,1.9 0 1,0 3.8,0a1.9,1.9 0 1,0 -3.8,0M81.2,480.93a1.9,1.9 0 1,0 3.8,0a1.9,1.9 0 1,0 -3.8,0M81.45,481.6a1.9,1.9 0 1,0 3.8,0a1.9,1.9 0 1,0 -3.8,0M81.7,481.6a1.9,1.9 0 1,0 3.8,0a1.9,1.9 0 1,0 -3.8,0M81.94,481.37a1.9,1.9 0 1,0 3.8,0a1.9,1.9 0 1,0 -3.8,0M82.19,481.07a1.9,1.9 0 1,0 3.8,0a1.9,1.9 0 1,0 -3.8,0M82.44,481.42a1.9,1.9 0 1,0 3.8,0a1.9,1.9 0 1,0 -3.8,0M82.68,481.28a1.9,1.9 0 1,0 3.8,0a1.9,1.9 0 1,0 -3.8,0M82.93,481.56a1.9,1.9 0 1,0 3.8,0a1.9,1.9 0 1,0 -3.8,0M83.18,481.39a1.9,1.9 0 1,0 3.8,0a1.9,1.9 0 1,0 -3.8,0M83.42,481.6a1.9,1.9 0 1,0 3.8,0a1.9,1.9 0 1,0 -3.8,0M83.67,481.31a1.9,1.9 0 1,0 3.8,0a1.9,1.9 0 1,0 -3.8,0M83.92,481.78a1.9,1.9 0 1,0 3.8,0a1.9,1.9 0 1,0 -3.8,0M84.16,480.84a1.9,1.9 0 1,0 3.8,0a1.9,1.9 0 1,0 -3.8,0M84.41,481.16a1.9,1.9 0 1,0 3.8,0a1.9,1.9 0 1,0 -3.8,0M84.66,481.54a1.9,1.9 0 1,0 3.8,0a1.9,1.9 0 1,0 -3.8,0M84.9,481.04a1.9,1.9 0 1,0 3.8,0a1.9,1.9 0 1,0 -3.8,0M85.15,481.6a1.9,1.9 0 1,0 3.8,0a1.9,1.9 0 1,0 -3.8,0M85.4,481.11a1.9,1.9 0 1,0 3.8,0a1.9,1.9 0 1,0 -3.8,0M85.64,481.44a1.9,1.9 0 1,0 3.8,0a1.9,1.9 0 1,0 -3.8,0M85.89,481.19a1.9,1.9 0 1,0 3.8,0a1.9,1.9 0 1,0 -3.8,0M86.14,481.31a1.9,1.9 0 1,0 3.8,0a1.9,1.9 0 1,0 -3.8,0M86.38,481.46a1.9,1.9 0 1,0 3.8,0a1.9,1.9 0 1,0 -3.8,0M86.63,481.39a1.9,1.9 0 1,0 3.8,0a1.9,1.9 0 1,0 -3.8,0M86.88,481.32a1.9,1.9 0 1,0 3.8,0a1.9,1.9 0 1,0 -3.8,0M87.12,481.95a1.9,1.9 0 1,0 3.8,0a1.9,1.9 0 1,0 -3.8,0M87.37,481.42a1.9,1.9 0 1,0 3.8,0a1.9,1.9 0 1,0 -3.8,0M87.62,481.17a1.9,1.9 0 1,0 3.8,0a1.9,1.9 0 1,0 -3.8,0M87.86,481.65a1.9,1.9 0 1,0 3.8,0a1.9,1.9 0 1,0 -3.8,0M88.11,481.62a1.9,1.9 0 1,0 3.8,0a1.9,1.9 0 1,0 -3.8,0M88.36,481.72a1.9,1.9 0 1,0 3.8,0a1.9,1.9 0 1,0 -3.8,0M88.6,481.86a1.9,1.9 0 1,0 3.8,0a1.9,1.9 0 1,0 -3.8,0M88.85,481.18a1.9,1.9 0 1,0 3.8,0a1.9,1.9 0 1,0 -3.8,0M89.1,481.68a1.9,1.9 0 1,0 3.8,0a1.9,1.9 0 1,0 -3.8,0M89.34,481.7a1.9,1.9 0 1,0 3.8,0a1.9,1.9 0 1,0 -3.8,0M89.59,481.42a1.9,1.9 0 1,0 3.8,0a1.9,1.9 0 1,0 -3.8,0M89.84,481.48a1.9,1.9 0 1,0 3.8,0a1.9,1.9 0 1,0 -3.8,0M90.08,480.66a1.9,1.9 0 1,0 3.8,0a1.9,1.9 0 1,0 -3.8,0M90.33,481.27a1.9,1.9 0 1,0 3.8,0a1.9,1.9 0 1,0 -3.8,0M90.58,481.86a1.9,1.9 0 1,0 3.8,0a1.9,1.9 0 1,0 -3.8,0M90.82,480.97a1.9,1.9 0 1,0 3.8,0a1.9,1.9 0 1,0 -3.8,0M91.07,481.28a1.9,1.9 0 1,0 3.8,0a1.9,1.9 0 1,0 -3.8,0M91.32,481.49a1.9,1.9 0 1,0 3.8,0a1.9,1.9 0 1,0 -3.8,0M91.56,481.56a1.9,1.9 0 1,0 3.8,0a1.9,1.9 0 1,0 -3.8,0M91.81,481.82a1.9,1.9 0 1,0 3.8,0a1.9,1.9 0 1,0 -3.8,0M92.06,480.97a1.9,1.9 0 1,0 3.8,0a1.9,1.9 0 1,0 -3.8,0M92.3,481.43a1.9,1.9 0 1,0 3.8,0a1.9,1.9 0 1,0 -3.8,0M92.55,481.63a1.9,1.9 0 1,0 3.8,0a1.9,1.9 0 1,0 -3.8,0M92.8,481.09a1.9,1.9 0 1,0 3.8,0a1.9,1.9 0 1,0 -3.8,0M93.04,481.41a1.9,1.9 0 1,0 3.8,0a1.9,1.9 0 1,0 -3.8,0M93.29,481.89a1.9,1.9 0 1,0 3.8,0a1.9,1.9 0 1,0 -3.8,0M93.54,481.74a1.9,1.9 0 1,0 3.8,0a1.9,1.9 0 1,0 -3.8,0M93.78,481.55a1.9,1.9 0 1,0 3.8,0a1.9,1.9 0 1,0 -3.8,0M94.03,480.76a1.9,1.9 0 1,0 3.8,0a1.9,1.9 0 1,0 -3.8,0M94.28,481.38a1.9,1.9 0 1,0 3.8,0a1.9,1.9 0 1,0 -3.8,0M94.52,481.51a1.9,1.9 0 1,0 3.8,0a1.9,1.9 0 1,0 -3.8,0M94.77,481.34a1.9,1.9 0 1,0 3.8,0a1.9,1.9 0 1,0 -3.8,0M95.02,481.4a1.9,1.9 0 1,0 3.8,0a1.9,1.9 0 1,0 -3.8,0M95.26,482.19a1.9,1.9 0 1,0 3.8,0a1.9,1.9 0 1,0 -3.8,0M95.51,481.36a1.9,1.9 0 1,0 3.8,0a1.9,1.9 0 1,0 -3.8,0M95.76,481.17a1.9,1.9 0 1,0 3.8,0a1.9,1.9 0 1,0 -3.8,0M96,481.48a1.9,1.9 0 1,0 3.8,0a1.9,1.9 0 1,0 -3.8,0M96.25,481.34a1.9,1.9 0 1,0 3.8,0a1.9,1.9 0 1,0 -3.8,0M96.5,481.34a1.9,1.9 0 1,0 3.8,0a1.9,1.9 0 1,0 -3.8,0M96.74,481.39a1.9,1.9 0 1,0 3.8,0a1.9,1.9 0 1,0 -3.8,0M96.99,481.61a1.9,1.9 0 1,0 3.8,0a1.9,1.9 0 1,0 -3.8,0M97.24,481.47a1.9,1.9 0 1,0 3.8,0a1.9,1.9 0 1,0 -3.8,0M97.48,481.12a1.9,1.9 0 1,0 3.8,0a1.9,1.9 0 1,0 -3.8,0M97.73,481.38a1.9,1.9 0 1,0 3.8,0a1.9,1.9 0 1,0 -3.8,0M97.98,481.53a1.9,1.9 0 1,0 3.8,0a1.9,1.9 0 1,0 -3.8,0M98.22,481.3a1.9,1.9 0 1,0 3.8,0a1.9,1.9 0 1,0 -3.8,0M98.47,481.7a1.9,1.9 0 1,0 3.8,0a1.9,1.9 0 1,0 -3.8,0M98.72,481.61a1.9,1.9 0 1,0 3.8,0a1.9,1.9 0 1,0 -3.8,0M98.96,481.17a1.9,1.9 0 1,0 3.8,0a1.9,1.9 0 1,0 -3.8,0M99.21,481.5a1.9,1.9 0 1,0 3.8,0a1.9,1.9 0 1,0 -3.8,0M99.46,481.91a1.9,1.9 0 1,0 3.8,0a1.9,1.9 0 1,0 -3.8,0M99.7,481.81a1.9,1.9 0 1,0 3.8,0a1.9,1.9 0 1,0 -3.8,0M99.95,481.4a1.9,1.9 0 1,0 3.8,0a1.9,1.9 0 1,0 -3.8,0M100.2,481.64a1.9,1.9 0 1,0 3.8,0a1.9,1.9 0 1,0 -3.8,0M100.44,481.25a1.9,1.9 0 1,0 3.8,0a1.9,1.9 0 1,0 -3.8,0M100.69,481.05a1.9,1.9 0 1,0 3.8,0a1.9,1.9 0 1,0 -3.8,0M100.94,481.55a1.9,1.9 0 1,0 3.8,0a1.9,1.9 0 1,0 -3.8,0M101.18,481.48a1.9,1.9 0 1,0 3.8,0a1.9,1.9 0 1,0 -3.8,0M101.43,481.54a1.9,1.9 0 1,0 3.8,0a1.9,1.9 0 1,0 -3.8,0M101.68,481.41a1.9,1.9 0 1,0 3.8,0a1.9,1.9 0 1,0 -3.8,0M101.92,481.5a1.9,1.9 0 1,0 3.8,0a1.9,1.9 0 1,0 -3.8,0M102.17,481.29a1.9,1.9 0 1,0 3.8,0a1.9,1.9 0 1,0 -3.8,0M102.42,481.53a1.9,1.9 0 1,0 3.8,0a1.9,1.9 0 1,0 -3.8,0M102.66,481.62a1.9,1.9 0 1,0 3.8,0a1.9,1.9 0 1,0 -3.8,0M102.91,481.4a1.9,1.9 0 1,0 3.8,0a1.9,1.9 0 1,0 -3.8,0M103.16,481.62a1.9,1.9 0 1,0 3.8,0a1.9,1.9 0 1,0 -3.8,0M103.41,480.97a1.9,1.9 0 1,0 3.8,0a1.9,1.9 0 1,0 -3.8,0M103.65,481.22a1.9,1.9 0 1,0 3.8,0a1.9,1.9 0 1,0 -3.8,0M103.9,481.78a1.9,1.9 0 1,0 3.8,0a1.9,1.9 0 1,0 -3.8,0M104.15,481.86a1.9,1.9 0 1,0 3.8,0a1.9,1.9 0 1,0 -3.8,0M104.39,481.48a1.9,1.9 0 1,0 3.8,0a1.9,1.9 0 1,0 -3.8,0M104.64,481.39a1.9,1.9 0 1,0 3.8,0a1.9,1.9 0 1,0 -3.8,0M104.89,481.1a1.9,1.9 0 1,0 3.8,0a1.9,1.9 0 1,0 -3.8,0M105.13,481.51a1.9,1.9 0 1,0 3.8,0a1.9,1.9 0 1,0 -3.8,0M105.38,481.61a1.9,1.9 0 1,0 3.8,0a1.9,1.9 0 1,0 -3.8,0M105.63,481.04a1.9,1.9 0 1,0 3.8,0a1.9,1.9 0 1,0 -3.8,0M105.87,481.56a1.9,1.9 0 1,0 3.8,0a1.9,1.9 0 1,0 -3.8,0M106.12,481.54a1.9,1.9 0 1,0 3.8,0a1.9,1.9 0 1,0 -3.8,0M106.37,481.53a1.9,1.9 0 1,0 3.8,0a1.9,1.9 0 1,0 -3.8,0M106.61,481.13a1.9,1.9 0 1,0 3.8,0a1.9,1.9 0 1,0 -3.8,0M106.86,481.55a1.9,1.9 0 1,0 3.8,0a1.9,1.9 0 1,0 -3.8,0M107.11,481.04a1.9,1.9 0 1,0 3.8,0a1.9,1.9 0 1,0 -3.8,0M107.35,481.79a1.9,1.9 0 1,0 3.8,0a1.9,1.9 0 1,0 -3.8,0M107.6,481.45a1.9,1.9 0 1,0 3.8,0a1.9,1.9 0 1,0 -3.8,0M107.85,481.12a1.9,1.9 0 1,0 3.8,0a1.9,1.9 0 1,0 -3.8,0M108.09,481.75a1.9,1.9 0 1,0 3.8,0a1.9,1.9 0 1,0 -3.8,0M108.34,481.7a1.9,1.9 0 1,0 3.8,0a1.9,1.9 0 1,0 -3.8,0M108.59,481.25a1.9,1.9 0 1,0 3.8,0a1.9,1.9 0 1,0 -3.8,0M108.83,481.97a1.9,1.9 0 1,0 3.8,0a1.9,1.9 0 1,0 -3.8,0M109.08,481.16a1.9,1.9 0 1,0 3.8,0a1.9,1.9 0 1,0 -3.8,0M109.33,481.49a1.9,1.9 0 1,0 3.8,0a1.9,1.9 0 1,0 -3.8,0M109.57,481.71a1.9,1.9 0 1,0 3.8,0a1.9,1.9 0 1,0 -3.8,0M109.82,480.85a1.9,1.9 0 1,0 3.8,0a1.9,1.9 0 1,0 -3.8,0M110.07,481.67a1.9,1.9 0 1,0 3.8,0a1.9,1.9 0 1,0 -3.8,0M110.31,481.4a1.9,1.9 0 1,0 3.8,0a1.9,1.9 0 1,0 -3.8,0M110.56,481.41a1.9,1.9 0 1,0 3.8,0a1.9,1.9 0 1,0 -3.8,0M110.81,481.15a1.9,1.9 0 1,0 3.8,0a1.9,1.9 0 1,0 -3.8,0M111.05,481.5a1.9,1.9 0 1,0 3.8,0a1.9,1.9 0 1,0 -3.8,0M111.3,481.14a1.9,1.9 0 1,0 3.8,0a1.9,1.9 0 1,0 -3.8,0M111.55,481.17a1.9,1.9 0 1,0 3.8,0a1.9,1.9 0 1,0 -3.8,0M111.79,481.3a1.9,1.9 0 1,0 3.8,0a1.9,1.9 0 1,0 -3.8,0M112.04,481.11a1.9,1.9 0 1,0 3.8,0a1.9,1.9 0 1,0 -3.8,0M112.29,481.81a1.9,1.9 0 1,0 3.8,0a1.9,1.9 0 1,0 -3.8,0M112.53,481.08a1.9,1.9 0 1,0 3.8,0a1.9,1.9 0 1,0 -3.8,0M112.78,481.23a1.9,1.9 0 1,0 3.8,0a1.9,1.9 0 1,0 -3.8,0M113.03,481.34a1.9,1.9 0 1,0 3.8,0a1.9,1.9 0 1,0 -3.8,0M113.27,481.42a1.9,1.9 0 1,0 3.8,0a1.9,1.9 0 1,0 -3.8,0M113.52,481.61a1.9,1.9 0 1,0 3.8,0a1.9,1.9 0 1,0 -3.8,0M113.77,481.62a1.9,1.9 0 1,0 3.8,0a1.9,1.9 0 1,0 -3.8,0M114.01,481.34a1.9,1.9 0 1,0 3.8,0a1.9,1.9 0 1,0 -3.8,0M114.26,481.32a1.9,1.9 0 1,0 3.8,0a1.9,1.9 0 1,0 -3.8,0M114.51,481.42a1.9,1.9 0 1,0 3.8,0a1.9,1.9 0 1,0 -3.8,0M114.75,481.62a1.9,1.9 0 1,0 3.8,0a1.9,1.9 0 1,0 -3.8,0M115,481.59a1.9,1.9 0 1,0 3.8,0a1.9,1.9 0 1,0 -3.8,0M115.25,481.29a1.9,1.9 0 1,0 3.8,0a1.9,1.9 0 1,0 -3.8,0M115.49,480.9a1.9,1.9 0 1,0 3.8,0a1.9,1.9 0 1,0 -3.8,0M115.74,481.95a1.9,1.9 0 1,0 3.8,0a1.9,1.9 0 1,0 -3.8,0M115.99,481.65a1.9,1.9 0 1,0 3.8,0a1.9,1.9 0 1,0 -3.8,0M116.23,481.48a1.9,1.9 0 1,0 3.8,0a1.9,1.9 0 1,0 -3.8,0M116.48,481.5a1.9,1.9 0 1,0 3.8,0a1.9,1.9 0 1,0 -3.8,0M116.73,481.29a1.9,1.9 0 1,0 3.8,0a1.9,1.9 0 1,0 -3.8,0M116.97,481.17a1.9,1.9 0 1,0 3.8,0a1.9,1.9 0 1,0 -3.8,0M117.22,481.33a1.9,1.9 0 1,0 3.8,0a1.9,1.9 0 1,0 -3.8,0M117.47,481.36a1.9,1.9 0 1,0 3.8,0a1.9,1.9 0 1,0 -3.8,0M117.71,481.26a1.9,1.9 0 1,0 3.8,0a1.9,1.9 0 1,0 -3.8,0M117.96,481.05a1.9,1.9 0 1,0 3.8,0a1.9,1.9 0 1,0 -3.8,0M118.21,481.34a1.9,1.9 0 1,0 3.8,0a1.9,1.9 0 1,0 -3.8,0M118.45,481.56a1.9,1.9 0 1,0 3.8,0a1.9,1.9 0 1,0 -3.8,0M118.7,481.29a1.9,1.9 0 1,0 3.8,0a1.9,1.9 0 1,0 -3.8,0M118.95,481.42a1.9,1.9 0 1,0 3.8,0a1.9,1.9 0 1,0 -3.8,0M119.19,480.9a1.9,1.9 0 1,0 3.8,0a1.9,1.9 0 1,0 -3.8,0M119.44,481.36a1.9,1.9 0 1,0 3.8,0a1.9,1.9 0 1,0 -3.8,0M119.69,481.38a1.9,1.9 0 1,0 3.8,0a1.9,1.9 0 1,0 -3.8,0M119.93,481.11a1.9,1.9 0 1,0 3.8,0a1.9,1.9 0 1,0 -3.8,0M120.18,480.98a1.9,1.9 0 1,0 3.8,0a1.9,1.9 0 1,0 -3.8,0M120.43,481.52a1.9,1.9 0 1,0 3.8,0a1.9,1.9 0 1,0 -3.8,0M120.67,481.21a1.9,1.9 0 1,0 3.8,0a1.9,1.9 0 1,0 -3.8,0M120.92,481.54a1.9,1.9 0 1,0 3.8,0a1.9,1.9 0 1,0 -3.8,0M121.17,481.31a1.9,1.9 0 1,0 3.8,0a1.9,1.9 0 1,0 -3.8,0M121.41,481.57a1.9,1.9 0 1,0 3.8,0a1.9,1.9 0 1,0 -3.8,0M121.66,481.33a1.9,1.9 0 1,0 3.8,0a1.9,1.9 0 1,0 -3.8,0M121.91,481.04a1.9,1.9 0 1,0 3.8,0a1.9,1.9 0 1,0 -3.8,0M122.15,481.39a1.9,1.9 0 1,0 3.8,0a1.9,1.9 0 1,0 -3.8,0M122.4,481.33a1.9,1.9 0 1,0 3.8,0a1.9,1.9 0 1,0 -3.8,0M122.65,481.58a1.9,1.9 0 1,0 3.8,0a1.9,1.9 0 1,0 -3.8,0M122.89,481.3a1.9,1.9 0 1,0 3.8,0a1.9,1.9 0 1,0 -3.8,0M123.14,481.32a1.9,1.9 0 1,0 3.8,0a1.9,1.9 0 1,0 -3.8,0M123.39,481.63a1.9,1.9 0 1,0 3.8,0a1.9,1.9 0 1,0 -3.8,0M123.63,481.71a1.9,1.9 0 1,0 3.8,0a1.9,1.9 0 1,0 -3.8,0M123.88,481.61a1.9,1.9 0 1,0 3.8,0a1.9,1.9 0 1,0 -3.8,0M124.13,481.67a1.9,1.9 0 1,0 3.8,0a1.9,1.9 0 1,0 -3.8,0M124.37,481.53a1.9,1.9 0 1,0 3.8,0a1.9,1.9 0 1,0 -3.8,0M124.62,481.61a1.9,1.9 0 1,0 3.8,0a1.9,1.9 0 1,0 -3.8,0M124.87,481.63a1.9,1.9 0 1,0 3.8,0a1.9,1.9 0 1,0 -3.8,0M125.11,481.52a1.9,1.9 0 1,0 3.8,0a1.9,1.9 0 1,0 -3.8,0M125.36,481.43a1.9,1.9 0 1,0 3.8,0a1.9,1.9 0 1,0 -3.8,0M125.61,481.45a1.9,1.9 0 1,0 3.8,0a1.9,1.9 0 1,0 -3.8,0M125.85,482.02a1.9,1.9 0 1,0 3.8,0a1.9,1.9 0 1,0 -3.8,0M126.1,481.42a1.9,1.9 0 1,0 3.8,0a1.9,1.9 0 1,0 -3.8,0M126.35,481.36a1.9,1.9 0 1,0 3.8,0a1.9,1.9 0 1,0 -3.8,0M126.59,481.32a1.9,1.9 0 1,0 3.8,0a1.9,1.9 0 1,0 -3.8,0M126.84,481.41a1.9,1.9 0 1,0 3.8,0a1.9,1.9 0 1,0 -3.8,0M127.09,481.48a1.9,1.9 0 1,0 3.8,0a1.9,1.9 0 1,0 -3.8,0M127.33,481.13a1.9,1.9 0 1,0 3.8,0a1.9,1.9 0 1,0 -3.8,0M127.58,480.92a1.9,1.9 0 1,0 3.8,0a1.9,1.9 0 1,0 -3.8,0M127.83,481.49a1.9,1.9 0 1,0 3.8,0a1.9,1.9 0 1,0 -3.8,0M128.07,481.01a1.9,1.9 0 1,0 3.8,0a1.9,1.9 0 1,0 -3.8,0M128.32,481.48a1.9,1.9 0 1,0 3.8,0a1.9,1.9 0 1,0 -3.8,0M128.57,481.45a1.9,1.9 0 1,0 3.8,0a1.9,1.9 0 1,0 -3.8,0M128.82,481.7a1.9,1.9 0 1,0 3.8,0a1.9,1.9 0 1,0 -3.8,0M129.06,481.83a1.9,1.9 0 1,0 3.8,0a1.9,1.9 0 1,0 -3.8,0M129.31,481.51a1.9,1.9 0 1,0 3.8,0a1.9,1.9 0 1,0 -3.8,0M129.56,481.28a1.9,1.9 0 1,0 3.8,0a1.9,1.9 0 1,0 -3.8,0M129.8,481.12a1.9,1.9 0 1,0 3.8,0a1.9,1.9 0 1,0 -3.8,0M130.05,481.22a1.9,1.9 0 1,0 3.8,0a1.9,1.9 0 1,0 -3.8,0M130.3,481.43a1.9,1.9 0 1,0 3.8,0a1.9,1.9 0 1,0 -3.8,0M130.54,480.9a1.9,1.9 0 1,0 3.8,0a1.9,1.9 0 1,0 -3.8,0M130.79,481.43a1.9,1.9 0 1,0 3.8,0a1.9,1.9 0 1,0 -3.8,0M131.04,481.41a1.9,1.9 0 1,0 3.8,0a1.9,1.9 0 1,0 -3.8,0M131.28,481.58a1.9,1.9 0 1,0 3.8,0a1.9,1.9 0 1,0 -3.8,0M131.53,481.33a1.9,1.9 0 1,0 3.8,0a1.9,1.9 0 1,0 -3.8,0M131.78,481.44a1.9,1.9 0 1,0 3.8,0a1.9,1.9 0 1,0 -3.8,0M132.02,481.23a1.9,1.9 0 1,0 3.8,0a1.9,1.9 0 1,0 -3.8,0M132.27,481.3a1.9,1.9 0 1,0 3.8,0a1.9,1.9 0 1,0 -3.8,0M132.52,480.97a1.9,1.9 0 1,0 3.8,0a1.9,1.9 0 1,0 -3.8,0M132.76,481.45a1.9,1.9 0 1,0 3.8,0a1.9,1.9 0 1,0 -3.8,0M133.01,481.8a1.9,1.9 0 1,0 3.8,0a1.9,1.9 0 1,0 -3.8,0M133.26,481.46a1.9,1.9 0 1,0 3.8,0a1.9,1.9 0 1,0 -3.8,0M133.5,481.51a1.9,1.9 0 1,0 3.8,0a1.9,1.9 0 1,0 -3.8,0M133.75,481.17a1.9,1.9 0 1,0 3.8,0a1.9,1.9 0 1,0 -3.8,0M134,481.77a1.9,1.9 0 1,0 3.8,0a1.9,1.9 0 1,0 -3.8,0M134.24,481.22a1.9,1.9 0 1,0 3.8,0a1.9,1.9 0 1,0 -3.8,0M134.49,481.62a1.9,1.9 0 1,0 3.8,0a1.9,1.9 0 1,0 -3.8,0M134.74,481.44a1.9,1.9 0 1,0 3.8,0a1.9,1.9 0 1,0 -3.8,0M134.98,481.18a1.9,1.9 0 1,0 3.8,0a1.9,1.9 0 1,0 -3.8,0M135.23,481.67a1.9,1.9 0 1,0 3.8,0a1.9,1.9 0 1,0 -3.8,0M135.48,481.42a1.9,1.9 0 1,0 3.8,0a1.9,1.9 0 1,0 -3.8,0M135.72,481.46a1.9,1.9 0 1,0 3.8,0a1.9,1.9 0 1,0 -3.8,0M135.97,481.53a1.9,1.9 0 1,0 3.8,0a1.9,1.9 0 1,0 -3.8,0M136.22,481.41a1.9,1.9 0 1,0 3.8,0a1.9,1.9 0 1,0 -3.8,0M136.46,481.32a1.9,1.9 0 1,0 3.8,0a1.9,1.9 0 1,0 -3.8,0M136.71,481.53a1.9,1.9 0 1,0 3.8,0a1.9,1.9 0 1,0 -3.8,0M136.96,481.31a1.9,1.9 0 1,0 3.8,0a1.9,1.9 0 1,0 -3.8,0M137.2,481.43a1.9,1.9 0 1,0 3.8,0a1.9,1.9 0 1,0 -3.8,0M137.45,481.25a1.9,1.9 0 1,0 3.8,0a1.9,1.9 0 1,0 -3.8,0M137.7,481.04a1.9,1.9 0 1,0 3.8,0a1.9,1.9 0 1,0 -3.8,0M137.94,481.25a1.9,1.9 0 1,0 3.8,0a1.9,1.9 0 1,0 -3.8,0M138.19,481.29a1.9,1.9 0 1,0 3.8,0a1.9,1.9 0 1,0 -3.8,0M138.44,481.42a1.9,1.9 0 1,0 3.8,0a1.9,1.9 0 1,0 -3.8,0M138.68,481.71a1.9,1.9 0 1,0 3.8,0a1.9,1.9 0 1,0 -3.8,0M138.93,480.99a1.9,1.9 0 1,0 3.8,0a1.9,1.9 0 1,0 -3.8,0M139.18,481.45a1.9,1.9 0 1,0 3.8,0a1.9,1.9 0 1,0 -3.8,0M139.42,480.86a1.9,1.9 0 1,0 3.8,0a1.9,1.9 0 1,0 -3.8,0M139.67,481.15a1.9,1.9 0 1,0 3.8,0a1.9,1.9 0 1,0 -3.8,0M139.92,481.29a1.9,1.9 0 1,0 3.8,0a1.9,1.9 0 1,0 -3.8,0M140.16,480.85a1.9,1.9 0 1,0 3.8,0a1.9,1.9 0 1,0 -3.8,0M140.41,480.95a1.9,1.9 0 1,0 3.8,0a1.9,1.9 0 1,0 -3.8,0M140.66,481.45a1.9,1.9 0 1,0 3.8,0a1.9,1.9 0 1,0 -3.8,0M140.9,481.43a1.9,1.9 0 1,0 3.8,0a1.9,1.9 0 1,0 -3.8,0M141.15,481.39a1.9,1.9 0 1,0 3.8,0a1.9,1.9 0 1,0 -3.8,0M141.4,481.21a1.9,1.9 0 1,0 3.8,0a1.9,1.9 0 1,0 -3.8,0M141.64,481.95a1.9,1.9 0 1,0 3.8,0a1.9,1.9 0 1,0 -3.8,0M141.89,481.38a1.9,1.9 0 1,0 3.8,0a1.9,1.9 0 1,0 -3.8,0M142.14,481.2a1.9,1.9 0 1,0 3.8,0a1.9,1.9 0 1,0 -3.8,0M142.38,481.84a1.9,1.9 0 1,0 3.8,0a1.9,1.9 0 1,0 -3.8,0M142.63,481.57a1.9,1.9 0 1,0 3.8,0a1.9,1.9 0 1,0 -3.8,0M142.88,481.32a1.9,1.9 0 1,0 3.8,0a1.9,1.9 0 1,0 -3.8,0M143.12,481.71a1.9,1.9 0 1,0 3.8,0a1.9,1.9 0 1,0 -3.8,0M143.37,481.45a1.9,1.9 0 1,0 3.8,0a1.9,1.9 0 1,0 -3.8,0M143.62,481.58a1.9,1.9 0 1,0 3.8,0a1.9,1.9 0 1,0 -3.8,0M143.86,481.47a1.9,1.9 0 1,0 3.8,0a1.9,1.9 0 1,0 -3.8,0M144.11,481.16a1.9,1.9 0 1,0 3.8,0a1.9,1.9 0 1,0 -3.8,0M144.36,481.66a1.9,1.9 0 1,0 3.8,0a1.9,1.9 0 1,0 -3.8,0M144.6,481.46a1.9,1.9 0 1,0 3.8,0a1.9,1.9 0 1,0 -3.8,0M144.85,481.16a1.9,1.9 0 1,0 3.8,0a1.9,1.9 0 1,0 -3.8,0M145.1,481.22a1.9,1.9 0 1,0 3.8,0a1.9,1.9 0 1,0 -3.8,0M145.34,481.65a1.9,1.9 0 1,0 3.8,0a1.9,1.9 0 1,0 -3.8,0M145.59,481.32a1.9,1.9 0 1,0 3.8,0a1.9,1.9 0 1,0 -3.8,0M145.84,481.43a1.9,1.9 0 1,0 3.8,0a1.9,1.9 0 1,0 -3.8,0M146.08,481.58a1.9,1.9 0 1,0 3.8,0a1.9,1.9 0 1,0 -3.8,0M146.33,481.45a1.9,1.9 0 1,0 3.8,0a1.9,1.9 0 1,0 -3.8,0M146.58,481.03a1.9,1.9 0 1,0 3.8,0a1.9,1.9 0 1,0 -3.8,0M146.82,481.57a1.9,1.9 0 1,0 3.8,0a1.9,1.9 0 1,0 -3.8,0M147.07,481.65a1.9,1.9 0 1,0 3.8,0a1.9,1.9 0 1,0 -3.8,0M147.32,481.63a1.9,1.9 0 1,0 3.8,0a1.9,1.9 0 1,0 -3.8,0M147.56,481.82a1.9,1.9 0 1,0 3.8,0a1.9,1.9 0 1,0 -3.8,0M147.81,481.51a1.9,1.9 0 1,0 3.8,0a1.9,1.9 0 1,0 -3.8,0M148.06,481.61a1.9,1.9 0 1,0 3.8,0a1.9,1.9 0 1,0 -3.8,0M148.3,481.81a1.9,1.9 0 1,0 3.8,0a1.9,1.9 0 1,0 -3.8,0M148.55,481.34a1.9,1.9 0 1,0 3.8,0a1.9,1.9 0 1,0 -3.8,0M148.8,481.85a1.9,1.9 0 1,0 3.8,0a1.9,1.9 0 1,0 -3.8,0M149.04,481.85a1.9,1.9 0 1,0 3.8,0a1.9,1.9 0 1,0 -3.8,0M149.29,481.61a1.9,1.9 0 1,0 3.8,0a1.9,1.9 0 1,0 -3.8,0M149.54,481.88a1.9,1.9 0 1,0 3.8,0a1.9,1.9 0 1,0 -3.8,0M149.78,481.63a1.9,1.9 0 1,0 3.8,0a1.9,1.9 0 1,0 -3.8,0M150.03,481.2a1.9,1.9 0 1,0 3.8,0a1.9,1.9 0 1,0 -3.8,0M150.28,481.7a1.9,1.9 0 1,0 3.8,0a1.9,1.9 0 1,0 -3.8,0M150.52,481.5a1.9,1.9 0 1,0 3.8,0a1.9,1.9 0 1,0 -3.8,0M150.77,481.52a1.9,1.9 0 1,0 3.8,0a1.9,1.9 0 1,0 -3.8,0M151.02,481.45a1.9,1.9 0 1,0 3.8,0a1.9,1.9 0 1,0 -3.8,0M151.26,481.76a1.9,1.9 0 1,0 3.8,0a1.9,1.9 0 1,0 -3.8,0M151.51,481.55a1.9,1.9 0 1,0 3.8,0a1.9,1.9 0 1,0 -3.8,0M151.76,481.24a1.9,1.9 0 1,0 3.8,0a1.9,1.9 0 1,0 -3.8,0M152,481.54a1.9,1.9 0 1,0 3.8,0a1.9,1.9 0 1,0 -3.8,0M152.25,481.6a1.9,1.9 0 1,0 3.8,0a1.9,1.9 0 1,0 -3.8,0M152.5,481.23a1.9,1.9 0 1,0 3.8,0a1.9,1.9 0 1,0 -3.8,0M152.74,481.31a1.9,1.9 0 1,0 3.8,0a1.9,1.9 0 1,0 -3.8,0M152.99,481.32a1.9,1.9 0 1,0 3.8,0a1.9,1.9 0 1,0 -3.8,0M153.24,481.26a1.9,1.9 0 1,0 3.8,0a1.9,1.9 0 1,0 -3.8,0M153.49,481.5a1.9,1.9 0 1,0 3.8,0a1.9,1.9 0 1,0 -3.8,0M153.73,481.67a1.9,1.9 0 1,0 3.8,0a1.9,1.9 0 1,0 -3.8,0M153.98,481.89a1.9,1.9 0 1,0 3.8,0a1.9,1.9 0 1,0 -3.8,0M154.23,481.71a1.9,1.9 0 1,0 3.8,0a1.9,1.9 0 1,0 -3.8,0M154.47,481.67a1.9,1.9 0 1,0 3.8,0a1.9,1.9 0 1,0 -3.8,0M154.72,481.7a1.9,1.9 0 1,0 3.8,0a1.9,1.9 0 1,0 -3.8,0M154.97,481.75a1.9,1.9 0 1,0 3.8,0a1.9,1.9 0 1,0 -3.8,0M155.21,481.32a1.9,1.9 0 1,0 3.8,0a1.9,1.9 0 1,0 -3.8,0M155.46,481.59a1.9,1.9 0 1,0 3.8,0a1.9,1.9 0 1,0 -3.8,0M155.71,481.5a1.9,1.9 0 1,0 3.8,0a1.9,1.9 0 1,0 -3.8,0M155.95,481.38a1.9,1.9 0 1,0 3.8,0a1.9,1.9 0 1,0 -3.8,0M156.2,481.3a1.9,1.9 0 1,0 3.8,0a1.9,1.9 0 1,0 -3.8,0M156.45,481.29a1.9,1.9 0 1,0 3.8,0a1.9,1.9 0 1,0 -3.8,0M156.69,481.35a1.9,1.9 0 1,0 3.8,0a1.9,1.9 0 1,0 -3.8,0M156.94,481.11a1.9,1.9 0 1,0 3.8,0a1.9,1.9 0 1,0 -3.8,0M157.19,481.55a1.9,1.9 0 1,0 3.8,0a1.9,1.9 0 1,0 -3.8,0M157.43,481.41a1.9,1.9 0 1,0 3.8,0a1.9,1.9 0 1,0 -3.8,0M157.68,481.44a1.9,1.9 0 1,0 3.8,0a1.9,1.9 0 1,0 -3.8,0M157.93,481.5a1.9,1.9 0 1,0 3.8,0a1.9,1.9 0 1,0 -3.8,0M158.17,481.6a1.9,1.9 0 1,0 3.8,0a1.9,1.9 0 1,0 -3.8,0M158.42,481.27a1.9,1.9 0 1,0 3.8,0a1.9,1.9 0 1,0 -3.8,0M158.67,481.39a1.9,1.9 0 1,0 3.8,0a1.9,1.9 0 1,0 -3.8,0M158.91,481.01a1.9,1.9 0 1,0 3.8,0a1.9,1.9 0 1,0 -3.8,0M159.16,480.86a1.9,1.9 0 1,0 3.8,0a1.9,1.9 0 1,0 -3.8,0M159.41,480.93a1.9,1.9 0 1,0 3.8,0a1.9,1.9 0 1,0 -3.8,0M159.65,481.8a1.9,1.9 0 1,0 3.8,0a1.9,1.9 0 1,0 -3.8,0M159.9,480.96a1.9,1.9 0 1,0 3.8,0a1.9,1.9 0 1,0 -3.8,0M160.15,481.53a1.9,1.9 0 1,0 3.8,0a1.9,1.9 0 1,0 -3.8,0M160.39,481.78a1.9,1.9 0 1,0 3.8,0a1.9,1.9 0 1,0 -3.8,0M160.64,481.3a1.9,1.9 0 1,0 3.8,0a1.9,1.9 0 1,0 -3.8,0M160.89,481.82a1.9,1.9 0 1,0 3.8,0a1.9,1.9 0 1,0 -3.8,0M161.13,481.88a1.9,1.9 0 1,0 3.8,0a1.9,1.9 0 1,0 -3.8,0M161.38,481.65a1.9,1.9 0 1,0 3.8,0a1.9,1.9 0 1,0 -3.8,0M161.63,482.01a1.9,1.9 0 1,0 3.8,0a1.9,1.9 0 1,0 -3.8,0M161.87,481.57a1.9,1.9 0 1,0 3.8,0a1.9,1.9 0 1,0 -3.8,0M162.12,481.23a1.9,1.9 0 1,0 3.8,0a1.9,1.9 0 1,0 -3.8,0M162.37,481.55a1.9,1.9 0 1,0 3.8,0a1.9,1.9 0 1,0 -3.8,0M162.61,481.31a1.9,1.9 0 1,0 3.8,0a1.9,1.9 0 1,0 -3.8,0M162.86,481.09a1.9,1.9 0 1,0 3.8,0a1.9,1.9 0 1,0 -3.8,0M163.11,481.1a1.9,1.9 0 1,0 3.8,0a1.9,1.9 0 1,0 -3.8,0M163.35,481.99a1.9,1.9 0 1,0 3.8,0a1.9,1.9 0 1,0 -3.8,0M163.6,481.28a1.9,1.9 0 1,0 3.8,0a1.9,1.9 0 1,0 -3.8,0M163.85,481.41a1.9,1.9 0 1,0 3.8,0a1.9,1.9 0 1,0 -3.8,0M164.09,481.25a1.9,1.9 0 1,0 3.8,0a1.9,1.9 0 1,0 -3.8,0M164.34,481.45a1.9,1.9 0 1,0 3.8,0a1.9,1.9 0 1,0 -3.8,0M164.59,481.36a1.9,1.9 0 1,0 3.8,0a1.9,1.9 0 1,0 -3.8,0M164.83,481.32a1.9,1.9 0 1,0 3.8,0a1.9,1.9 0 1,0 -3.8,0M165.08,481.11a1.9,1.9 0 1,0 3.8,0a1.9,1.9 0 1,0 -3.8,0M165.33,481.06a1.9,1.9 0 1,0 3.8,0a1.9,1.9 0 1,0 -3.8,0M165.57,481.23a1.9,1.9 0 1,0 3.8,0a1.9,1.9 0 1,0 -3.8,0M165.82,481.49a1.9,1.9 0 1,0 3.8,0a1.9,1.9 0 1,0 -3.8,0M166.07,481.94a1.9,1.9 0 1,0 3.8,0a1.9,1.9 0 1,0 -3.8,0M166.31,481.68a1.9,1.9 0 1,0 3.8,0a1.9,1.9 0 1,0 -3.8,0M166.56,481.87a1.9,1.9 0 1,0 3.8,0a1.9,1.9 0 1,0 -3.8,0M166.81,481.54a1.9,1.9 0 1,0 3.8,0a1.9,1.9 0 1,0 -3.8,0M167.05,481.4a1.9,1.9 0 1,0 3.8,0a1.9,1.9 0 1,0 -3.8,0M167.3,481.09a1.9,1.9 0 1,0 3.8,0a1.9,1.9 0 1,0 -3.8,0M167.55,481.42a1.9,1.9 0 1,0 3.8,0a1.9,1.9 0 1,0 -3.8,0M167.79,480.88a1.9,1.9 0 1,0 3.8,0a1.9,1.9 0 1,0 -3.8,0M168.04,481.34a1.9,1.9 0 1,0 3.8,0a1.9,1.9 0 1,0 -3.8,0M168.29,481.83a1.9,1.9 0 1,0 3.8,0a1.9,1.9 0 1,0 -3.8,0M168.53,481.5a1.9,1.9 0 1,0 3.8,0a1.9,1.9 0 1,0 -3.8,0M168.78,481.7a1.9,1.9 0 1,0 3.8,0a1.9,1.9 0 1,0 -3.8,0M169.03,481.32a1.9,1.9 0 1,0 3.8,0a1.9,1.9 0 1,0 -3.8,0M169.27,481.08a1.9,1.9 0 1,0 3.8,0a1.9,1.9 0 1,0 -3.8,0M169.52,481.3a1.9,1.9 0 1,0 3.8,0a1.9,1.9 0 1,0 -3.8,0M169.77,481.32a1.9,1.9 0 1,0 3.8,0a1.9,1.9 0 1,0 -3.8,0M170.01,481.72a1.9,1.9 0 1,0 3.8,0a1.9,1.9 0 1,0 -3.8,0M170.26,481.91a1.9,1.9 0 1,0 3.8,0a1.9,1.9 0 1,0 -3.8,0M170.51,481.24a1.9,1.9 0 1,0 3.8,0a1.9,1.9 0 1,0 -3.8,0M170.75,481.33a1.9,1.9 0 1,0 3.8,0a1.9,1.9 0 1,0 -3.8,0M171,481.38a1.9,1.9 0 1,0 3.8,0a1.9,1.9 0 1,0 -3.8,0M171.25,481.33a1.9,1.9 0 1,0 3.8,0a1.9,1.9 0 1,0 -3.8,0M171.49,481.11a1.9,1.9 0 1,0 3.8,0a1.9,1.9 0 1,0 -3.8,0M171.74,481.44a1.9,1.9 0 1,0 3.8,0a1.9,1.9 0 1,0 -3.8,0M171.99,481.51a1.9,1.9 0 1,0 3.8,0a1.9,1.9 0 1,0 -3.8,0M172.23,481.52a1.9,1.9 0 1,0 3.8,0a1.9,1.9 0 1,0 -3.8,0M172.48,481.12a1.9,1.9 0 1,0 3.8,0a1.9,1.9 0 1,0 -3.8,0M172.73,481.39a1.9,1.9 0 1,0 3.8,0a1.9,1.9 0 1,0 -3.8,0M172.97,480.99a1.9,1.9 0 1,0 3.8,0a1.9,1.9 0 1,0 -3.8,0M173.22,481.65a1.9,1.9 0 1,0 3.8,0a1.9,1.9 0 1,0 -3.8,0M173.47,481.17a1.9,1.9 0 1,0 3.8,0a1.9,1.9 0 1,0 -3.8,0M173.71,481.35a1.9,1.9 0 1,0 3.8,0a1.9,1.9 0 1,0 -3.8,0M173.96,481.31a1.9,1.9 0 1,0 3.8,0a1.9,1.9 0 1,0 -3.8,0M174.21,481.28a1.9,1.9 0 1,0 3.8,0a1.9,1.9 0 1,0 -3.8,0M174.45,481.16a1.9,1.9 0 1,0 3.8,0a1.9,1.9 0 1,0 -3.8,0M174.7,480.98a1.9,1.9 0 1,0 3.8,0a1.9,1.9 0 1,0 -3.8,0M174.95,481.86a1.9,1.9 0 1,0 3.8,0a1.9,1.9 0 1,0 -3.8,0M175.19,481.49a1.9,1.9 0 1,0 3.8,0a1.9,1.9 0 1,0 -3.8,0M175.44,481.49a1.9,1.9 0 1,0 3.8,0a1.9,1.9 0 1,0 -3.8,0M175.69,481.95a1.9,1.9 0 1,0 3.8,0a1.9,1.9 0 1,0 -3.8,0M175.93,481.4a1.9,1.9 0 1,0 3.8,0a1.9,1.9 0 1,0 -3.8,0M176.18,481.56a1.9,1.9 0 1,0 3.8,0a1.9,1.9 0 1,0 -3.8,0M176.43,481.43a1.9,1.9 0 1,0 3.8,0a1.9,1.9 0 1,0 -3.8,0M176.67,481.72a1.9,1.9 0 1,0 3.8,0a1.9,1.9 0 1,0 -3.8,0M176.92,481.55a1.9,1.9 0 1,0 3.8,0a1.9,1.9 0 1,0 -3.8,0M177.17,481.5a1.9,1.9 0 1,0 3.8,0a1.9,1.9 0 1,0 -3.8,0M177.41,481.36a1.9,1.9 0 1,0 3.8,0a1.9,1.9 0 1,0 -3.8,0M177.66,481.49a1.9,1.9 0 1,0 3.8,0a1.9,1.9 0 1,0 -3.8,0M177.91,481.71a1.9,1.9 0 1,0 3.8,0a1.9,1.9 0 1,0 -3.8,0M178.16,480.9a1.9,1.9 0 1,0 3.8,0a1.9,1.9 0 1,0 -3.8,0M178.4,481.39a1.9,1.9 0 1,0 3.8,0a1.9,1.9 0 1,0 -3.8,0M178.65,481.32a1.9,1.9 0 1,0 3.8,0a1.9,1.9 0 1,0 -3.8,0M178.9,481.35a1.9,1.9 0 1,0 3.8,0a1.9,1.9 0 1,0 -3.8,0M179.14,480.93a1.9,1.9 0 1,0 3.8,0a1.9,1.9 0 1,0 -3.8,0M179.39,481.61a1.9,1.9 0 1,0 3.8,0a1.9,1.9 0 1,0 -3.8,0M179.64,481.21a1.9,1.9 0 1,0 3.8,0a1.9,1.9 0 1,0 -3.8,0M179.88,481.37a1.9,1.9 0 1,0 3.8,0a1.9,1.9 0 1,0 -3.8,0M180.13,481.3a1.9,1.9 0 1,0 3.8,0a1.9,1.9 0 1,0 -3.8,0M180.38,481.01a1.9,1.9 0 1,0 3.8,0a1.9,1.9 0 1,0 -3.8,0M180.62,481.31a1.9,1.9 0 1,0 3.8,0a1.9,1.9 0 1,0 -3.8,0M180.87,480.96a1.9,1.9 0 1,0 3.8,0a1.9,1.9 0 1,0 -3.8,0M181.12,481.19a1.9,1.9 0 1,0 3.8,0a1.9,1.9 0 1,0 -3.8,0M181.36,481.34a1.9,1.9 0 1,0 3.8,0a1.9,1.9 0 1,0 -3.8,0M181.61,481.42a1.9,1.9 0 1,0 3.8,0a1.9,1.9 0 1,0 -3.8,0M181.86,481.44a1.9,1.9 0 1,0 3.8,0a1.9,1.9 0 1,0 -3.8,0M182.1,481.39a1.9,1.9 0 1,0 3.8,0a1.9,1.9 0 1,0 -3.8,0M182.35,481.96a1.9,1.9 0 1,0 3.8,0a1.9,1.9 0 1,0 -3.8,0M182.6,481.53a1.9,1.9 0 1,0 3.8,0a1.9,1.9 0 1,0 -3.8,0M182.84,481.12a1.9,1.9 0 1,0 3.8,0a1.9,1.9 0 1,0 -3.8,0M183.09,481.27a1.9,1.9 0 1,0 3.8,0a1.9,1.9 0 1,0 -3.8,0M183.34,481.26a1.9,1.9 0 1,0 3.8,0a1.9,1.9 0 1,0 -3.8,0M183.58,481.38a1.9,1.9 0 1,0 3.8,0a1.9,1.9 0 1,0 -3.8,0M183.83,481.27a1.9,1.9 0 1,0 3.8,0a1.9,1.9 0 1,0 -3.8,0M184.08,481.21a1.9,1.9 0 1,0 3.8,0a1.9,1.9 0 1,0 -3.8,0M184.32,481.84a1.9,1.9 0 1,0 3.8,0a1.9,1.9 0 1,0 -3.8,0M184.57,481.43a1.9,1.9 0 1,0 3.8,0a1.9,1.9 0 1,0 -3.8,0M184.82,481.34a1.9,1.9 0 1,0 3.8,0a1.9,1.9 0 1,0 -3.8,0M185.06,481.36a1.9,1.9 0 1,0 3.8,0a1.9,1.9 0 1,0 -3.8,0M185.31,481.37a1.9,1.9 0 1,0 3.8,0a1.9,1.9 0 1,0 -3.8,0M185.56,481.77a1.9,1.9 0 1,0 3.8,0a1.9,1.9 0 1,0 -3.8,0M185.8,481.54a1.9,1.9 0 1,0 3.8,0a1.9,1.9 0 1,0 -3.8,0M186.05,481.7a1.9,1.9 0 1,0 3.8,0a1.9,1.9 0 1,0 -3.8,0M186.3,480.64a1.9,1.9 0 1,0 3.8,0a1.9,1.9 0 1,0 -3.8,0M186.54,481.51a1.9,1.9 0 1,0 3.8,0a1.9,1.9 0 1,0 -3.8,0M186.79,481.69a1.9,1.9 0 1,0 3.8,0a1.9,1.9 0 1,0 -3.8,0M187.04,481.92a1.9,1.9 0 1,0 3.8,0a1.9,1.9 0 1,0 -3.8,0M187.28,481.43a1.9,1.9 0 1,0 3.8,0a1.9,1.9 0 1,0 -3.8,0M187.53,480.99a1.9,1.9 0 1,0 3.8,0a1.9,1.9 0 1,0 -3.8,0M187.78,481.57a1.9,1.9 0 1,0 3.8,0a1.9,1.9 0 1,0 -3.8,0M188.02,481.27a1.9,1.9 0 1,0 3.8,0a1.9,1.9 0 1,0 -3.8,0M188.27,480.98a1.9,1.9 0 1,0 3.8,0a1.9,1.9 0 1,0 -3.8,0M188.52,481.27a1.9,1.9 0 1,0 3.8,0a1.9,1.9 0 1,0 -3.8,0M188.76,481.69a1.9,1.9 0 1,0 3.8,0a1.9,1.9 0 1,0 -3.8,0M189.01,481.72a1.9,1.9 0 1,0 3.8,0a1.9,1.9 0 1,0 -3.8,0M189.26,481.6a1.9,1.9 0 1,0 3.8,0a1.9,1.9 0 1,0 -3.8,0M189.5,481.16a1.9,1.9 0 1,0 3.8,0a1.9,1.9 0 1,0 -3.8,0M189.75,482.05a1.9,1.9 0 1,0 3.8,0a1.9,1.9 0 1,0 -3.8,0M190,481.13a1.9,1.9 0 1,0 3.8,0a1.9,1.9 0 1,0 -3.8,0M190.24,481.41a1.9,1.9 0 1,0 3.8,0a1.9,1.9 0 1,0 -3.8,0M190.49,481.06a1.9,1.9 0 1,0 3.8,0a1.9,1.9 0 1,0 -3.8,0M190.74,481.75a1.9,1.9 0 1,0 3.8,0a1.9,1.9 0 1,0 -3.8,0M190.98,481.54a1.9,1.9 0 1,0 3.8,0a1.9,1.9 0 1,0 -3.8,0M191.23,481.65a1.9,1.9 0 1,0 3.8,0a1.9,1.9 0 1,0 -3.8,0M191.48,481.45a1.9,1.9 0 1,0 3.8,0a1.9,1.9 0 1,0 -3.8,0M191.72,481.41a1.9,1.9 0 1,0 3.8,0a1.9,1.9 0 1,0 -3.8,0M191.97,481.47a1.9,1.9 0 1,0 3.8,0a1.9,1.9 0 1,0 -3.8,0M192.22,480.95a1.9,1.9 0 1,0 3.8,0a1.9,1.9 0 1,0 -3.8,0M192.46,481.67a1.9,1.9 0 1,0 3.8,0a1.9,1.9 0 1,0 -3.8,0M192.71,481.65a1.9,1.9 0 1,0 3.8,0a1.9,1.9 0 1,0 -3.8,0M192.96,481.33a1.9,1.9 0 1,0 3.8,0a1.9,1.9 0 1,0 -3.8,0M193.2,481.42a1.9,1.9 0 1,0 3.8,0a1.9,1.9 0 1,0 -3.8,0M193.45,481.5a1.9,1.9 0 1,0 3.8,0a1.9,1.9 0 1,0 -3.8,0M193.7,481.82a1.9,1.9 0 1,0 3.8,0a1.9,1.9 0 1,0 -3.8,0M193.94,481.53a1.9,1.9 0 1,0 3.8,0a1.9,1.9 0 1,0 -3.8,0M194.19,481.44a1.9,1.9 0 1,0 3.8,0a1.9,1.9 0 1,0 -3.8,0M194.44,481.3a1.9,1.9 0 1,0 3.8,0a1.9,1.9 0 1,0 -3.8,0M194.68,481.05a1.9,1.9 0 1,0 3.8,0a1.9,1.9 0 1,0 -3.8,0M194.93,481.28a1.9,1.9 0 1,0 3.8,0a1.9,1.9 0 1,0 -3.8,0M195.18,481.44a1.9,1.9 0 1,0 3.8,0a1.9,1.9 0 1,0 -3.8,0M195.42,481.36a1.9,1.9 0 1,0 3.8,0a1.9,1.9 0 1,0 -3.8,0M195.67,481.45a1.9,1.9 0 1,0 3.8,0a1.9,1.9 0 1,0 -3.8,0M195.92,481.61a1.9,1.9 0 1,0 3.8,0a1.9,1.9 0 1,0 -3.8,0M196.16,481.54a1.9,1.9 0 1,0 3.8,0a1.9,1.9 0 1,0 -3.8,0M196.41,481.5a1.9,1.9 0 1,0 3.8,0a1.9,1.9 0 1,0 -3.8,0M196.66,481.59a1.9,1.9 0 1,0 3.8,0a1.9,1.9 0 1,0 -3.8,0M196.9,481.47a1.9,1.9 0 1,0 3.8,0a1.9,1.9 0 1,0 -3.8,0M197.15,481.42a1.9,1.9 0 1,0 3.8,0a1.9,1.9 0 1,0 -3.8,0M197.4,481.54a1.9,1.9 0 1,0 3.8,0a1.9,1.9 0 1,0 -3.8,0M197.64,480.99a1.9,1.9 0 1,0 3.8,0a1.9,1.9 0 1,0 -3.8,0M197.89,481.74a1.9,1.9 0 1,0 3.8,0a1.9,1.9 0 1,0 -3.8,0M198.14,481.1a1.9,1.9 0 1,0 3.8,0a1.9,1.9 0 1,0 -3.8,0M198.38,481.64a1.9,1.9 0 1,0 3.8,0a1.9,1.9 0 1,0 -3.8,0M198.63,481.43a1.9,1.9 0 1,0 3.8,0a1.9,1.9 0 1,0 -3.8,0M198.88,481.7a1.9,1.9 0 1,0 3.8,0a1.9,1.9 0 1,0 -3.8,0M199.12,481.44a1.9,1.9 0 1,0 3.8,0a1.9,1.9 0 1,0 -3.8,0M199.37,481.19a1.9,1.9 0 1,0 3.8,0a1.9,1.9 0 1,0 -3.8,0M199.62,481.7a1.9,1.9 0 1,0 3.8,0a1.9,1.9 0 1,0 -3.8,0M199.86,481.47a1.9,1.9 0 1,0 3.8,0a1.9,1.9 0 1,0 -3.8,0M200.11,481.46a1.9,1.9 0 1,0 3.8,0a1.9,1.9 0 1,0 -3.8,0M200.36,481.45a1.9,1.9 0 1,0 3.8,0a1.9,1.9 0 1,0 -3.8,0M200.6,481.68a1.9,1.9 0 1,0 3.8,0a1.9,1.9 0 1,0 -3.8,0M200.85,481.63a1.9,1.9 0 1,0 3.8,0a1.9,1.9 0 1,0 -3.8,0M201.1,481.49a1.9,1.9 0 1,0 3.8,0a1.9,1.9 0 1,0 -3.8,0M201.34,481.04a1.9,1.9 0 1,0 3.8,0a1.9,1.9 0 1,0 -3.8,0M201.59,481.33a1.9,1.9 0 1,0 3.8,0a1.9,1.9 0 1,0 -3.8,0M201.84,481.45a1.9,1.9 0 1,0 3.8,0a1.9,1.9 0 1,0 -3.8,0M202.09,481.88a1.9,1.9 0 1,0 3.8,0a1.9,1.9 0 1,0 -3.8,0M202.33,481.52a1.9,1.9 0 1,0 3.8,0a1.9,1.9 0 1,0 -3.8,0M202.58,481.41a1.9,1.9 0 1,0 3.8,0a1.9,1.9 0 1,0 -3.8,0M202.83,481.73a1.9,1.9 0 1,0 3.8,0a1.9,1.9 0 1,0 -3.8,0M203.07,481.4a1.9,1.9 0 1,0 3.8,0a1.9,1.9 0 1,0 -3.8,0M203.32,481.42a1.9,1.9 0 1,0 3.8,0a1.9,1.9 0 1,0 -3.8,0M203.57,481.47a1.9,1.9 0 1,0 3.8,0a1.9,1.9 0 1,0 -3.8,0M203.81,481.05a1.9,1.9 0 1,0 3.8,0a1.9,1.9 0 1,0 -3.8,0M204.06,481.67a1.9,1.9 0 1,0 3.8,0a1.9,1.9 0 1,0 -3.8,0M204.31,481.54a1.9,1.9 0 1,0 3.8,0a1.9,1.9 0 1,0 -3.8,0M204.55,481.36a1.9,1.9 0 1,0 3.8,0a1.9,1.9 0 1,0 -3.8,0M204.8,481.14a1.9,1.9 0 1,0 3.8,0a1.9,1.9 0 1,0 -3.8,0M205.05,481.48a1.9,1.9 0 1,0 3.8,0a1.9,1.9 0 1,0 -3.8,0M205.29,481.78a1.9,1.9 0 1,0 3.8,0a1.9,1.9 0 1,0 -3.8,0M205.54,481.27a1.9,1.9 0 1,0 3.8,0a1.9,1.9 0 1,0 -3.8,0M205.79,481.16a1.9,1.9 0 1,0 3.8,0a1.9,1.9 0 1,0 -3.8,0M206.03,481.53a1.9,1.9 0 1,0 3.8,0a1.9,1.9 0 1,0 -3.8,0M206.28,481.03a1.9,1.9 0 1,0 3.8,0a1.9,1.9 0 1,0 -3.8,0M206.53,480.87a1.9,1.9 0 1,0 3.8,0a1.9,1.9 0 1,0 -3.8,0M206.77,481.32a1.9,1.9 0 1,0 3.8,0a1.9,1.9 0 1,0 -3.8,0M207.02,481.26a1.9,1.9 0 1,0 3.8,0a1.9,1.9 0 1,0 -3.8,0M207.27,481.36a1.9,1.9 0 1,0 3.8,0a1.9,1.9 0 1,0 -3.8,0M207.51,481.29a1.9,1.9 0 1,0 3.8,0a1.9,1.9 0 1,0 -3.8,0M207.76,481.51a1.9,1.9 0 1,0 3.8,0a1.9,1.9 0 1,0 -3.8,0M208.01,481.37a1.9,1.9 0 1,0 3.8,0a1.9,1.9 0 1,0 -3.8,0M208.25,481.28a1.9,1.9 0 1,0 3.8,0a1.9,1.9 0 1,0 -3.8,0M208.5,481.32a1.9,1.9 0 1,0 3.8,0a1.9,1.9 0 1,0 -3.8,0M208.75,481.59a1.9,1.9 0 1,0 3.8,0a1.9,1.9 0 1,0 -3.8,0M208.99,481.67a1.9,1.9 0 1,0 3.8,0a1.9,1.9 0 1,0 -3.8,0M209.24,481.66a1.9,1.9 0 1,0 3.8,0a1.9,1.9 0 1,0 -3.8,0M209.49,481.6a1.9,1.9 0 1,0 3.8,0a1.9,1.9 0 1,0 -3.8,0M209.73,480.61a1.9,1.9 0 1,0 3.8,0a1.9,1.9 0 1,0 -3.8,0M209.98,481.18a1.9,1.9 0 1,0 3.8,0a1.9,1.9 0 1,0 -3.8,0M210.23,481.35a1.9,1.9 0 1,0 3.8,0a1.9,1.9 0 1,0 -3.8,0M210.47,481.48a1.9,1.9 0 1,0 3.8,0a1.9,1.9 0 1,0 -3.8,0M210.72,481.03a1.9,1.9 0 1,0 3.8,0a1.9,1.9 0 1,0 -3.8,0M210.97,481.79a1.9,1.9 0 1,0 3.8,0a1.9,1.9 0 1,0 -3.8,0M211.21,481.51a1.9,1.9 0 1,0 3.8,0a1.9,1.9 0 1,0 -3.8,0M211.46,481.27a1.9,1.9 0 1,0 3.8,0a1.9,1.9 0 1,0 -3.8,0M211.71,481.47a1.9,1.9 0 1,0 3.8,0a1.9,1.9 0 1,0 -3.8,0M211.95,481.34a1.9,1.9 0 1,0 3.8,0a1.9,1.9 0 1,0 -3.8,0M212.2,481.24a1.9,1.9 0 1,0 3.8,0a1.9,1.9 0 1,0 -3.8,0M212.45,481.56a1.9,1.9 0 1,0 3.8,0a1.9,1.9 0 1,0 -3.8,0M212.69,481.32a1.9,1.9 0 1,0 3.8,0a1.9,1.9 0 1,0 -3.8,0M212.94,481.08a1.9,1.9 0 1,0 3.8,0a1.9,1.9 0 1,0 -3.8,0M213.19,481.27a1.9,1.9 0 1,0 3.8,0a1.9,1.9 0 1,0 -3.8,0M213.43,481.4a1.9,1.9 0 1,0 3.8,0a1.9,1.9 0 1,0 -3.8,0M213.68,481.16a1.9,1.9 0 1,0 3.8,0a1.9,1.9 0 1,0 -3.8,0M213.93,481.75a1.9,1.9 0 1,0 3.8,0a1.9,1.9 0 1,0 -3.8,0M214.17,481.16a1.9,1.9 0 1,0 3.8,0a1.9,1.9 0 1,0 -3.8,0M214.42,481.87a1.9,1.9 0 1,0 3.8,0a1.9,1.9 0 1,0 -3.8,0M214.67,481.65a1.9,1.9 0 1,0 3.8,0a1.9,1.9 0 1,0 -3.8,0M214.91,481.2a1.9,1.9 0 1,0 3.8,0a1.9,1.9 0 1,0 -3.8,0M215.16,481.46a1.9,1.9 0 1,0 3.8,0a1.9,1.9 0 1,0 -3.8,0M215.41,481.73a1.9,1.9 0 1,0 3.8,0a1.9,1.9 0 1,0 -3.8,0M215.65,481.38a1.9,1.9 0 1,0 3.8,0a1.9,1.9 0 1,0 -3.8,0M215.9,481.13a1.9,1.9 0 1,0 3.8,0a1.9,1.9 0 1,0 -3.8,0M216.15,481.46a1.9,1.9 0 1,0 3.8,0a1.9,1.9 0 1,0 -3.8,0M216.39,481.93a1.9,1.9 0 1,0 3.8,0a1.9,1.9 0 1,0 -3.8,0M216.64,481.06a1.9,1.9 0 1,0 3.8,0a1.9,1.9 0 1,0 -3.8,0M216.89,481.57a1.9,1.9 0 1,0 3.8,0a1.9,1.9 0 1,0 -3.8,0M217.13,481.43a1.9,1.9 0 1,0 3.8,0a1.9,1.9 0 1,0 -3.8,0M217.38,481.4a1.9,1.9 0 1,0 3.8,0a1.9,1.9 0 1,0 -3.8,0M217.63,481.33a1.9,1.9 0 1,0 3.8,0a1.9,1.9 0 1,0 -3.8,0M217.87,481.35a1.9,1.9 0 1,0 3.8,0a1.9,1.9 0 1,0 -3.8,0M218.12,481.69a1.9,1.9 0 1,0 3.8,0a1.9,1.9 0 1,0 -3.8,0M218.37,481.58a1.9,1.9 0 1,0 3.8,0a1.9,1.9 0 1,0 -3.8,0M218.61,481.18a1.9,1.9 0 1,0 3.8,0a1.9,1.9 0 1,0 -3.8,0M218.86,481.82a1.9,1.9 0 1,0 3.8,0a1.9,1.9 0 1,0 -3.8,0M219.11,481.11a1.9,1.9 0 1,0 3.8,0a1.9,1.9 0 1,0 -3.8,0M219.35,481.6a1.9,1.9 0 1,0 3.8,0a1.9,1.9 0 1,0 -3.8,0M219.6,481.48a1.9,1.9 0 1,0 3.8,0a1.9,1.9 0 1,0 -3.8,0M219.85,481.73a1.9,1.9 0 1,0 3.8,0a1.9,1.9 0 1,0 -3.8,0M220.09,481.52a1.9,1.9 0 1,0 3.8,0a1.9,1.9 0 1,0 -3.8,0M220.34,481.7a1.9,1.9 0 1,0 3.8,0a1.9,1.9 0 1,0 -3.8,0M220.59,481.43a1.9,1.9 0 1,0 3.8,0a1.9,1.9 0 1,0 -3.8,0M220.83,481.68a1.9,1.9 0 1,0 3.8,0a1.9,1.9 0 1,0 -3.8,0M221.08,481.52a1.9,1.9 0 1,0 3.8,0a1.9,1.9 0 1,0 -3.8,0M221.33,481.97a1.9,1.9 0 1,0 3.8,0a1.9,1.9 0 1,0 -3.8,0M221.57,481.26a1.9,1.9 0 1,0 3.8,0a1.9,1.9 0 1,0 -3.8,0M221.82,481.73a1.9,1.9 0 1,0 3.8,0a1.9,1.9 0 1,0 -3.8,0M222.07,481.55a1.9,1.9 0 1,0 3.8,0a1.9,1.9 0 1,0 -3.8,0M222.31,481.48a1.9,1.9 0 1,0 3.8,0a1.9,1.9 0 1,0 -3.8,0M222.56,481.29a1.9,1.9 0 1,0 3.8,0a1.9,1.9 0 1,0 -3.8,0M222.81,481.55a1.9,1.9 0 1,0 3.8,0a1.9,1.9 0 1,0 -3.8,0M223.05,481.07a1.9,1.9 0 1,0 3.8,0a1.9,1.9 0 1,0 -3.8,0M223.3,481.09a1.9,1.9 0 1,0 3.8,0a1.9,1.9 0 1,0 -3.8,0M223.55,481.61a1.9,1.9 0 1,0 3.8,0a1.9,1.9 0 1,0 -3.8,0M223.79,481.04a1.9,1.9 0 1,0 3.8,0a1.9,1.9 0 1,0 -3.8,0M224.04,481.79a1.9,1.9 0 1,0 3.8,0a1.9,1.9 0 1,0 -3.8,0M224.29,481.37a1.9,1.9 0 1,0 3.8,0a1.9,1.9 0 1,0 -3.8,0M224.53,481.5a1.9,1.9 0 1,0 3.8,0a1.9,1.9 0 1,0 -3.8,0M224.78,481.45a1.9,1.9 0 1,0 3.8,0a1.9,1.9 0 1,0 -3.8,0M225.03,481.54a1.9,1.9 0 1,0 3.8,0a1.9,1.9 0 1,0 -3.8,0M225.27,481.36a1.9,1.9 0 1,0 3.8,0a1.9,1.9 0 1,0 -3.8,0M225.52,481.34a1.9,1.9 0 1,0 3.8,0a1.9,1.9 0 1,0 -3.8,0M225.77,481.4a1.9,1.9 0 1,0 3.8,0a1.9,1.9 0 1,0 -3.8,0M226.01,481.7a1.9,1.9 0 1,0 3.8,0a1.9,1.9 0 1,0 -3.8,0M226.26,481.72a1.9,1.9 0 1,0 3.8,0a1.9,1.9 0 1,0 -3.8,0M226.51,481.75a1.9,1.9 0 1,0 3.8,0a1.9,1.9 0 1,0 -3.8,0M226.75,481.53a1.9,1.9 0 1,0 3.8,0a1.9,1.9 0 1,0 -3.8,0M227,481.38a1.9,1.9 0 1,0 3.8,0a1.9,1.9 0 1,0 -3.8,0M227.25,481.01a1.9,1.9 0 1,0 3.8,0a1.9,1.9 0 1,0 -3.8,0M227.5,481.6a1.9,1.9 0 1,0 3.8,0a1.9,1.9 0 1,0 -3.8,0M227.74,481.64a1.9,1.9 0 1,0 3.8,0a1.9,1.9 0 1,0 -3.8,0M227.99,481.33a1.9,1.9 0 1,0 3.8,0a1.9,1.9 0 1,0 -3.8,0M228.24,481.64a1.9,1.9 0 1,0 3.8,0a1.9,1.9 0 1,0 -3.8,0M228.48,481.76a1.9,1.9 0 1,0 3.8,0a1.9,1.9 0 1,0 -3.8,0M228.73,481.46a1.9,1.9 0 1,0 3.8,0a1.9,1.9 0 1,0 -3.8,0M228.98,481.7a1.9,1.9 0 1,0 3.8,0a1.9,1.9 0 1,0 -3.8,0M229.22,481.51a1.9,1.9 0 1,0 3.8,0a1.9,1.9 0 1,0 -3.8,0M229.47,481a1.9,1.9 0 1,0 3.8,0a1.9,1.9 0 1,0 -3.8,0M229.72,481.32a1.9,1.9 0 1,0 3.8,0a1.9,1.9 0 1,0 -3.8,0M229.96,481.33a1.9,1.9 0 1,0 3.8,0a1.9,1.9 0 1,0 -3.8,0M230.21,481.57a1.9,1.9 0 1,0 3.8,0a1.9,1.9 0 1,0 -3.8,0M230.46,481.22a1.9,1.9 0 1,0 3.8,0a1.9,1.9 0 1,0 -3.8,0M230.7,481.32a1.9,1.9 0 1,0 3.8,0a1.9,1.9 0 1,0 -3.8,0M230.95,481.19a1.9,1.9 0 1,0 3.8,0a1.9,1.9 0 1,0 -3.8,0M231.2,481.42a1.9,1.9 0 1,0 3.8,0a1.9,1.9 0 1,0 -3.8,0M231.44,481.45a1.9,1.9 0 1,0 3.8,0a1.9,1.9 0 1,0 -3.8,0M231.69,481.68a1.9,1.9 0 1,0 3.8,0a1.9,1.9 0 1,0 -3.8,0M231.94,481.63a1.9,1.9 0 1,0 3.8,0a1.9,1.9 0 1,0 -3.8,0M232.18,481.48a1.9,1.9 0 1,0 3.8,0a1.9,1.9 0 1,0 -3.8,0M232.43,481.49a1.9,1.9 0 1,0 3.8,0a1.9,1.9 0 1,0 -3.8,0M232.68,481.46a1.9,1.9 0 1,0 3.8,0a1.9,1.9 0 1,0 -3.8,0M232.92,481.46a1.9,1.9 0 1,0 3.8,0a1.9,1.9 0 1,0 -3.8,0M233.17,481.82a1.9,1.9 0 1,0 3.8,0a1.9,1.9 0 1,0 -3.8,0M233.42,480.81a1.9,1.9 0 1,0 3.8,0a1.9,1.9 0 1,0 -3.8,0M233.66,481.39a1.9,1.9 0 1,0 3.8,0a1.9,1.9 0 1,0 -3.8,0M233.91,481.51a1.9,1.9 0 1,0 3.8,0a1.9,1.9 0 1,0 -3.8,0M234.16,481.72a1.9,1.9 0 1,0 3.8,0a1.9,1.9 0 1,0 -3.8,0M234.4,481.16a1.9,1.9 0 1,0 3.8,0a1.9,1.9 0 1,0 -3.8,0M234.65,481.52a1.9,1.9 0 1,0 3.8,0a1.9,1.9 0 1,0 -3.8,0M234.9,481.65a1.9,1.9 0 1,0 3.8,0a1.9,1.9 0 1,0 -3.8,0M235.14,481.32a1.9,1.9 0 1,0 3.8,0a1.9,1.9 0 1,0 -3.8,0M235.39,480.96a1.9,1.9 0 1,0 3.8,0a1.9,1.9 0 1,0 -3.8,0M235.64,481.34a1.9,1.9 0 1,0 3.8,0a1.9,1.9 0 1,0 -3.8,0M235.88,481.13a1.9,1.9 0 1,0 3.8,0a1.9,1.9 0 1,0 -3.8,0M236.13,481.6a1.9,1.9 0 1,0 3.8,0a1.9,1.9 0 1,0 -3.8,0M236.38,481.22a1.9,1.9 0 1,0 3.8,0a1.9,1.9 0 1,0 -3.8,0M236.62,481.88a1.9,1.9 0 1,0 3.8,0a1.9,1.9 0 1,0 -3.8,0M236.87,481.47a1.9,1.9 0 1,0 3.8,0a1.9,1.9 0 1,0 -3.8,0M237.12,481.23a1.9,1.9 0 1,0 3.8,0a1.9,1.9 0 1,0 -3.8,0M237.36,481.31a1.9,1.9 0 1,0 3.8,0a1.9,1.9 0 1,0 -3.8,0M237.61,481.16a1.9,1.9 0 1,0 3.8,0a1.9,1.9 0 1,0 -3.8,0M237.86,481.53a1.9,1.9 0 1,0 3.8,0a1.9,1.9 0 1,0 -3.8,0M238.1,481.81a1.9,1.9 0 1,0 3.8,0a1.9,1.9 0 1,0 -3.8,0M238.35,481.38a1.9,1.9 0 1,0 3.8,0a1.9,1.9 0 1,0 -3.8,0M238.6,481.67a1.9,1.9 0 1,0 3.8,0a1.9,1.9 0 1,0 -3.8,0M238.84,481.2a1.9,1.9 0 1,0 3.8,0a1.9,1.9 0 1,0 -3.8,0M239.09,481.51a1.9,1.9 0 1,0 3.8,0a1.9,1.9 0 1,0 -3.8,0M239.34,482.01a1.9,1.9 0 1,0 3.8,0a1.9,1.9 0 1,0 -3.8,0M239.58,481.08a1.9,1.9 0 1,0 3.8,0a1.9,1.9 0 1,0 -3.8,0M239.83,481.74a1.9,1.9 0 1,0 3.8,0a1.9,1.9 0 1,0 -3.8,0M240.08,481.73a1.9,1.9 0 1,0 3.8,0a1.9,1.9 0 1,0 -3.8,0M240.32,480.96a1.9,1.9 0 1,0 3.8,0a1.9,1.9 0 1,0 -3.8,0M240.57,481.08a1.9,1.9 0 1,0 3.8,0a1.9,1.9 0 1,0 -3.8,0M240.82,481.19a1.9,1.9 0 1,0 3.8,0a1.9,1.9 0 1,0 -3.8,0M241.06,481.68a1.9,1.9 0 1,0 3.8,0a1.9,1.9 0 1,0 -3.8,0M241.31,481.33a1.9,1.9 0 1,0 3.8,0a1.9,1.9 0 1,0 -3.8,0M241.56,481.39a1.9,1.9 0 1,0 3.8,0a1.9,1.9 0 1,0 -3.8,0M241.8,481.61a1.9,1.9 0 1,0 3.8,0a1.9,1.9 0 1,0 -3.8,0M242.05,481.46a1.9,1.9 0 1,0 3.8,0a1.9,1.9 0 1,0 -3.8,0M242.3,481.49a1.9,1.9 0 1,0 3.8,0a1.9,1.9 0 1,0 -3.8,0M242.54,481.35a1.9,1.9 0 1,0 3.8,0a1.9,1.9 0 1,0 -3.8,0M242.79,481.72a1.9,1.9 0 1,0 3.8,0a1.9,1.9 0 1,0 -3.8,0M243.04,481.24a1.9,1.9 0 1,0 3.8,0a1.9,1.9 0 1,0 -3.8,0M243.28,481.85a1.9,1.9 0 1,0 3.8,0a1.9,1.9 0 1,0 -3.8,0M243.53,481.35a1.9,1.9 0 1,0 3.8,0a1.9,1.9 0 1,0 -3.8,0M243.78,481.24a1.9,1.9 0 1,0 3.8,0a1.9,1.9 0 1,0 -3.8,0M244.02,481.6a1.9,1.9 0 1,0 3.8,0a1.9,1.9 0 1,0 -3.8,0M244.27,481.55a1.9,1.9 0 1,0 3.8,0a1.9,1.9 0 1,0 -3.8,0M244.52,480.94a1.9,1.9 0 1,0 3.8,0a1.9,1.9 0 1,0 -3.8,0M244.76,481.49a1.9,1.9 0 1,0 3.8,0a1.9,1.9 0 1,0 -3.8,0M245.01,481.1a1.9,1.9 0 1,0 3.8,0a1.9,1.9 0 1,0 -3.8,0M245.26,481.23a1.9,1.9 0 1,0 3.8,0a1.9,1.9 0 1,0 -3.8,0M245.5,481.63a1.9,1.9 0 1,0 3.8,0a1.9,1.9 0 1,0 -3.8,0M245.75,481.22a1.9,1.9 0 1,0 3.8,0a1.9,1.9 0 1,0 -3.8,0M246,481.52a1.9,1.9 0 1,0 3.8,0a1.9,1.9 0 1,0 -3.8,0M246.24,481.34a1.9,1.9 0 1,0 3.8,0a1.9,1.9 0 1,0 -3.8,0M246.49,481.92a1.9,1.9 0 1,0 3.8,0a1.9,1.9 0 1,0 -3.8,0M246.74,481.41a1.9,1.9 0 1,0 3.8,0a1.9,1.9 0 1,0 -3.8,0M246.98,481.14a1.9,1.9 0 1,0 3.8,0a1.9,1.9 0 1,0 -3.8,0M247.23,481.16a1.9,1.9 0 1,0 3.8,0a1.9,1.9 0 1,0 -3.8,0M247.48,481.21a1.9,1.9 0 1,0 3.8,0a1.9,1.9 0 1,0 -3.8,0M247.72,481.47a1.9,1.9 0 1,0 3.8,0a1.9,1.9 0 1,0 -3.8,0M247.97,481.43a1.9,1.9 0 1,0 3.8,0a1.9,1.9 0 1,0 -3.8,0M248.22,481.68a1.9,1.9 0 1,0 3.8,0a1.9,1.9 0 1,0 -3.8,0M248.46,481.47a1.9,1.9 0 1,0 3.8,0a1.9,1.9 0 1,0 -3.8,0M248.71,481.46a1.9,1.9 0 1,0 3.8,0a1.9,1.9 0 1,0 -3.8,0M248.96,481.51a1.9,1.9 0 1,0 3.8,0a1.9,1.9 0 1,0 -3.8,0M249.2,481.4a1.9,1.9 0 1,0 3.8,0a1.9,1.9 0 1,0 -3.8,0M249.45,481.51a1.9,1.9 0 1,0 3.8,0a1.9,1.9 0 1,0 -3.8,0M249.7,481.63a1.9,1.9 0 1,0 3.8,0a1.9,1.9 0 1,0 -3.8,0M249.94,481.63a1.9,1.9 0 1,0 3.8,0a1.9,1.9 0 1,0 -3.8,0M250.19,481.3a1.9,1.9 0 1,0 3.8,0a1.9,1.9 0 1,0 -3.8,0M250.44,480.99a1.9,1.9 0 1,0 3.8,0a1.9,1.9 0 1,0 -3.8,0M250.68,481.23a1.9,1.9 0 1,0 3.8,0a1.9,1.9 0 1,0 -3.8,0M250.93,481.5a1.9,1.9 0 1,0 3.8,0a1.9,1.9 0 1,0 -3.8,0M251.18,480.81a1.9,1.9 0 1,0 3.8,0a1.9,1.9 0 1,0 -3.8,0M251.42,481.31a1.9,1.9 0 1,0 3.8,0a1.9,1.9 0 1,0 -3.8,0M251.67,481.54a1.9,1.9 0 1,0 3.8,0a1.9,1.9 0 1,0 -3.8,0M251.92,481.29a1.9,1.9 0 1,0 3.8,0a1.9,1.9 0 1,0 -3.8,0M252.17,481.15a1.9,1.9 0 1,0 3.8,0a1.9,1.9 0 1,0 -3.8,0M252.41,481.87a1.9,1.9 0 1,0 3.8,0a1.9,1.9 0 1,0 -3.8,0M252.66,481.78a1.9,1.9 0 1,0 3.8,0a1.9,1.9 0 1,0 -3.8,0M252.91,481.37a1.9,1.9 0 1,0 3.8,0a1.9,1.9 0 1,0 -3.8,0M253.15,481.76a1.9,1.9 0 1,0 3.8,0a1.9,1.9 0 1,0 -3.8,0M253.4,481.76a1.9,1.9 0 1,0 3.8,0a1.9,1.9 0 1,0 -3.8,0M253.65,481.15a1.9,1.9 0 1,0 3.8,0a1.9,1.9 0 1,0 -3.8,0M253.89,482.1a1.9,1.9 0 1,0 3.8,0a1.9,1.9 0 1,0 -3.8,0M254.14,481.2a1.9,1.9 0 1,0 3.8,0a1.9,1.9 0 1,0 -3.8,0M254.39,481.36a1.9,1.9 0 1,0 3.8,0a1.9,1.9 0 1,0 -3.8,0M254.63,481.16a1.9,1.9 0 1,0 3.8,0a1.9,1.9 0 1,0 -3.8,0M254.88,481.45a1.9,1.9 0 1,0 3.8,0a1.9,1.9 0 1,0 -3.8,0M255.13,481.1a1.9,1.9 0 1,0 3.8,0a1.9,1.9 0 1,0 -3.8,0M255.37,481.43a1.9,1.9 0 1,0 3.8,0a1.9,1.9 0 1,0 -3.8,0M255.62,481.7a1.9,1.9 0 1,0 3.8,0a1.9,1.9 0 1,0 -3.8,0M255.87,481.48a1.9,1.9 0 1,0 3.8,0a1.9,1.9 0 1,0 -3.8,0M256.11,481.36a1.9,1.9 0 1,0 3.8,0a1.9,1.9 0 1,0 -3.8,0M256.36,481.82a1.9,1.9 0 1,0 3.8,0a1.9,1.9 0 1,0 -3.8,0M256.61,481.21a1.9,1.9 0 1,0 3.8,0a1.9,1.9 0 1,0 -3.8,0M256.85,481.67a1.9,1.9 0 1,0 3.8,0a1.9,1.9 0 1,0 -3.8,0M257.1,481.35a1.9,1.9 0 1,0 3.8,0a1.9,1.9 0 1,0 -3.8,0M257.35,481.48a1.9,1.9 0 1,0 3.8,0a1.9,1.9 0 1,0 -3.8,0M257.59,481.44a1.9,1.9 0 1,0 3.8,0a1.9,1.9 0 1,0 -3.8,0M257.84,481.46a1.9,1.9 0 1,0 3.8,0a1.9,1.9 0 1,0 -3.8,0M258.09,481.42a1.9,1.9 0 1,0 3.8,0a1.9,1.9 0 1,0 -3.8,0M258.33,481.23a1.9,1.9 0 1,0 3.8,0a1.9,1.9 0 1,0 -3.8,0M258.58,481.29a1.9,1.9 0 1,0 3.8,0a1.9,1.9 0 1,0 -3.8,0M258.83,481.54a1.9,1.9 0 1,0 3.8,0a1.9,1.9 0 1,0 -3.8,0M259.07,481.4a1.9,1.9 0 1,0 3.8,0a1.9,1.9 0 1,0 -3.8,0M259.32,481.14a1.9,1.9 0 1,0 3.8,0a1.9,1.9 0 1,0 -3.8,0M259.57,481.25a1.9,1.9 0 1,0 3.8,0a1.9,1.9 0 1,0 -3.8,0M259.81,481.25a1.9,1.9 0 1,0 3.8,0a1.9,1.9 0 1,0 -3.8,0M260.06,481.41a1.9,1.9 0 1,0 3.8,0a1.9,1.9 0 1,0 -3.8,0M260.31,481.47a1.9,1.9 0 1,0 3.8,0a1.9,1.9 0 1,0 -3.8,0M260.55,481.45a1.9,1.9 0 1,0 3.8,0a1.9,1.9 0 1,0 -3.8,0M260.8,481.26a1.9,1.9 0 1,0 3.8,0a1.9,1.9 0 1,0 -3.8,0M261.05,481.43a1.9,1.9 0 1,0 3.8,0a1.9,1.9 0 1,0 -3.8,0M261.29,481.08a1.9,1.9 0 1,0 3.8,0a1.9,1.9 0 1,0 -3.8,0M261.54,480.71a1.9,1.9 0 1,0 3.8,0a1.9,1.9 0 1,0 -3.8,0M261.79,481.41a1.9,1.9 0 1,0 3.8,0a1.9,1.9 0 1,0 -3.8,0M262.03,481.01a1.9,1.9 0 1,0 3.8,0a1.9,1.9 0 1,0 -3.8,0M262.28,481.19a1.9,1.9 0 1,0 3.8,0a1.9,1.9 0 1,0 -3.8,0M262.53,481.12a1.9,1.9 0 1,0 3.8,0a1.9,1.9 0 1,0 -3.8,0M262.77,481.58a1.9,1.9 0 1,0 3.8,0a1.9,1.9 0 1,0 -3.8,0M263.02,481.12a1.9,1.9 0 1,0 3.8,0a1.9,1.9 0 1,0 -3.8,0M263.27,481.49a1.9,1.9 0 1,0 3.8,0a1.9,1.9 0 1,0 -3.8,0M263.51,481.3a1.9,1.9 0 1,0 3.8,0a1.9,1.9 0 1,0 -3.8,0M263.76,481.11a1.9,1.9 0 1,0 3.8,0a1.9,1.9 0 1,0 -3.8,0M264.01,481.03a1.9,1.9 0 1,0 3.8,0a1.9,1.9 0 1,0 -3.8,0M264.25,481.54a1.9,1.9 0 1,0 3.8,0a1.9,1.9 0 1,0 -3.8,0M264.5,481.52a1.9,1.9 0 1,0 3.8,0a1.9,1.9 0 1,0 -3.8,0M264.75,481.62a1.9,1.9 0 1,0 3.8,0a1.9,1.9 0 1,0 -3.8,0M264.99,481.88a1.9,1.9 0 1,0 3.8,0a1.9,1.9 0 1,0 -3.8,0M265.24,481.49a1.9,1.9 0 1,0 3.8,0a1.9,1.9 0 1,0 -3.8,0M265.49,481.49a1.9,1.9 0 1,0 3.8,0a1.9,1.9 0 1,0 -3.8,0M265.73,481.39a1.9,1.9 0 1,0 3.8,0a1.9,1.9 0 1,0 -3.8,0M265.98,481.45a1.9,1.9 0 1,0 3.8,0a1.9,1.9 0 1,0 -3.8,0M266.23,481.33a1.9,1.9 0 1,0 3.8,0a1.9,1.9 0 1,0 -3.8,0M266.47,481.2a1.9,1.9 0 1,0 3.8,0a1.9,1.9 0 1,0 -3.8,0M266.72,481.92a1.9,1.9 0 1,0 3.8,0a1.9,1.9 0 1,0 -3.8,0M266.97,480.95a1.9,1.9 0 1,0 3.8,0a1.9,1.9 0 1,0 -3.8,0M267.21,481.48a1.9,1.9 0 1,0 3.8,0a1.9,1.9 0 1,0 -3.8,0M267.46,481.53a1.9,1.9 0 1,0 3.8,0a1.9,1.9 0 1,0 -3.8,0M267.71,481.46a1.9,1.9 0 1,0 3.8,0a1.9,1.9 0 1,0 -3.8,0M267.95,481.18a1.9,1.9 0 1,0 3.8,0a1.9,1.9 0 1,0 -3.8,0M268.2,481.37a1.9,1.9 0 1,0 3.8,0a1.9,1.9 0 1,0 -3.8,0M268.45,481.3a1.9,1.9 0 1,0 3.8,0a1.9,1.9 0 1,0 -3.8,0M268.69,481.15a1.9,1.9 0 1,0 3.8,0a1.9,1.9 0 1,0 -3.8,0M268.94,481.41a1.9,1.9 0 1,0 3.8,0a1.9,1.9 0 1,0 -3.8,0M269.19,481.32a1.9,1.9 0 1,0 3.8,0a1.9,1.9 0 1,0 -3.8,0M269.43,481.28a1.9,1.9 0 1,0 3.8,0a1.9,1.9 0 1,0 -3.8,0M269.68,481.59a1.9,1.9 0 1,0 3.8,0a1.9,1.9 0 1,0 -3.8,0M269.93,481.15a1.9,1.9 0 1,0 3.8,0a1.9,1.9 0 1,0 -3.8,0M270.17,481.53a1.9,1.9 0 1,0 3.8,0a1.9,1.9 0 1,0 -3.8,0M270.42,481.26a1.9,1.9 0 1,0 3.8,0a1.9,1.9 0 1,0 -3.8,0M270.67,481.52a1.9,1.9 0 1,0 3.8,0a1.9,1.9 0 1,0 -3.8,0M270.91,481.43a1.9,1.9 0 1,0 3.8,0a1.9,1.9 0 1,0 -3.8,0M271.16,481.48a1.9,1.9 0 1,0 3.8,0a1.9,1.9 0 1,0 -3.8,0M271.41,481.17a1.9,1.9 0 1,0 3.8,0a1.9,1.9 0 1,0 -3.8,0M271.65,481.22a1.9,1.9 0 1,0 3.8,0a1.9,1.9 0 1,0 -3.8,0M271.9,481.2a1.9,1.9 0 1,0 3.8,0a1.9,1.9 0 1,0 -3.8,0M272.15,481.46a1.9,1.9 0 1,0 3.8,0a1.9,1.9 0 1,0 -3.8,0M272.39,481.6a1.9,1.9 0 1,0 3.8,0a1.9,1.9 0 1,0 -3.8,0M272.64,481.68a1.9,1.9 0 1,0 3.8,0a1.9,1.9 0 1,0 -3.8,0M272.89,481.29a1.9,1.9 0 1,0 3.8,0a1.9,1.9 0 1,0 -3.8,0M273.13,481.44a1.9,1.9 0 1,0 3.8,0a1.9,1.9 0 1,0 -3.8,0M273.38,481.01a1.9,1.9 0 1,0 3.8,0a1.9,1.9 0 1,0 -3.8,0M273.63,480.86a1.9,1.9 0 1,0 3.8,0a1.9,1.9 0 1,0 -3.8,0M273.87,481.2a1.9,1.9 0 1,0 3.8,0a1.9,1.9 0 1,0 -3.8,0M274.12,481.25a1.9,1.9 0 1,0 3.8,0a1.9,1.9 0 1,0 -3.8,0M274.37,481.03a1.9,1.9 0 1,0 3.8,0a1.9,1.9 0 1,0 -3.8,0M274.61,480.97a1.9,1.9 0 1,0 3.8,0a1.9,1.9 0 1,0 -3.8,0M274.86,481.55a1.9,1.9 0 1,0 3.8,0a1.9,1.9 0 1,0 -3.8,0M275.11,481.21a1.9,1.9 0 1,0 3.8,0a1.9,1.9 0 1,0 -3.8,0M275.35,480.99a1.9,1.9 0 1,0 3.8,0a1.9,1.9 0 1,0 -3.8,0M275.6,481.99a1.9,1.9 0 1,0 3.8,0a1.9,1.9 0 1,0 -3.8,0M275.85,481.46a1.9,1.9 0 1,0 3.8,0a1.9,1.9 0 1,0 -3.8,0M276.1,481.33a1.9,1.9 0 1,0 3.8,0a1.9,1.9 0 1,0 -3.8,0M276.34,481.58a1.9,1.9 0 1,0 3.8,0a1.9,1.9 0 1,0 -3.8,0M276.59,481.22a1.9,1.9 0 1,0 3.8,0a1.9,1.9 0 1,0 -3.8,0M276.84,481.81a1.9,1.9 0 1,0 3.8,0a1.9,1.9 0 1,0 -3.8,0M277.08,481.03a1.9,1.9 0 1,0 3.8,0a1.9,1.9 0 1,0 -3.8,0M277.33,481.08a1.9,1.9 0 1,0 3.8,0a1.9,1.9 0 1,0 -3.8,0M277.58,481.38a1.9,1.9 0 1,0 3.8,0a1.9,1.9 0 1,0 -3.8,0M277.82,481.22a1.9,1.9 0 1,0 3.8,0a1.9,1.9 0 1,0 -3.8,0M278.07,481.76a1.9,1.9 0 1,0 3.8,0a1.9,1.9 0 1,0 -3.8,0M278.32,481.01a1.9,1.9 0 1,0 3.8,0a1.9,1.9 0 1,0 -3.8,0M278.56,481.23a1.9,1.9 0 1,0 3.8,0a1.9,1.9 0 1,0 -3.8,0M278.81,481.47a1.9,1.9 0 1,0 3.8,0a1.9,1.9 0 1,0 -3.8,0M279.06,481.55a1.9,1.9 0 1,0 3.8,0a1.9,1.9 0 1,0 -3.8,0M279.3,481.66a1.9,1.9 0 1,0 3.8,0a1.9,1.9 0 1,0 -3.8,0M279.55,481.49a1.9,1.9 0 1,0 3.8,0a1.9,1.9 0 1,0 -3.8,0M279.8,481.96a1.9,1.9 0 1,0 3.8,0a1.9,1.9 0 1,0 -3.8,0M280.04,481.29a1.9,1.9 0 1,0 3.8,0a1.9,1.9 0 1,0 -3.8,0M280.29,481.45a1.9,1.9 0 1,0 3.8,0a1.9,1.9 0 1,0 -3.8,0M280.54,481.62a1.9,1.9 0 1,0 3.8,0a1.9,1.9 0 1,0 -3.8,0M280.78,481.33a1.9,1.9 0 1,0 3.8,0a1.9,1.9 0 1,0 -3.8,0M281.03,481.33a1.9,1.9 0 1,0 3.8,0a1.9,1.9 0 1,0 -3.8,0M281.28,481.29a1.9,1.9 0 1,0 3.8,0a1.9,1.9 0 1,0 -3.8,0M281.52,481.25a1.9,1.9 0 1,0 3.8,0a1.9,1.9 0 1,0 -3.8,0M281.77,481.13a1.9,1.9 0 1,0 3.8,0a1.9,1.9 0 1,0 -3.8,0M282.02,481.27a1.9,1.9 0 1,0 3.8,0a1.9,1.9 0 1,0 -3.8,0M282.26,481.02a1.9,1.9 0 1,0 3.8,0a1.9,1.9 0 1,0 -3.8,0M282.51,481.5a1.9,1.9 0 1,0 3.8,0a1.9,1.9 0 1,0 -3.8,0M282.76,481.01a1.9,1.9 0 1,0 3.8,0a1.9,1.9 0 1,0 -3.8,0M283,481.92a1.9,1.9 0 1,0 3.8,0a1.9,1.9 0 1,0 -3.8,0M283.25,481.83a1.9,1.9 0 1,0 3.8,0a1.9,1.9 0 1,0 -3.8,0M283.5,481.68a1.9,1.9 0 1,0 3.8,0a1.9,1.9 0 1,0 -3.8,0M283.74,481.35a1.9,1.9 0 1,0 3.8,0a1.9,1.9 0 1,0 -3.8,0M283.99,481.26a1.9,1.9 0 1,0 3.8,0a1.9,1.9 0 1,0 -3.8,0M284.24,481.71a1.9,1.9 0 1,0 3.8,0a1.9,1.9 0 1,0 -3.8,0M284.48,481.45a1.9,1.9 0 1,0 3.8,0a1.9,1.9 0 1,0 -3.8,0M284.73,481.54a1.9,1.9 0 1,0 3.8,0a1.9,1.9 0 1,0 -3.8,0M284.98,481.23a1.9,1.9 0 1,0 3.8,0a1.9,1.9 0 1,0 -3.8,0M285.22,481.67a1.9,1.9 0 1,0 3.8,0a1.9,1.9 0 1,0 -3.8,0M285.47,481.21a1.9,1.9 0 1,0 3.8,0a1.9,1.9 0 1,0 -3.8,0M285.72,481.43a1.9,1.9 0 1,0 3.8,0a1.9,1.9 0 1,0 -3.8,0M285.96,480.97a1.9,1.9 0 1,0 3.8,0a1.9,1.9 0 1,0 -3.8,0M286.21,481.24a1.9,1.9 0 1,0 3.8,0a1.9,1.9 0 1,0 -3.8,0M286.46,481.53a1.9,1.9 0 1,0 3.8,0a1.9,1.9 0 1,0 -3.8,0M286.7,481.29a1.9,1.9 0 1,0 3.8,0a1.9,1.9 0 1,0 -3.8,0M286.95,481.29a1.9,1.9 0 1,0 3.8,0a1.9,1.9 0 1,0 -3.8,0M287.2,481.6a1.9,1.9 0 1,0 3.8,0a1.9,1.9 0 1,0 -3.8,0M287.44,481.39a1.9,1.9 0 1,0 3.8,0a1.9,1.9 0 1,0 -3.8,0M287.69,481.71a1.9,1.9 0 1,0 3.8,0a1.9,1.9 0 1,0 -3.8,0M287.94,480.8a1.9,1.9 0 1,0 3.8,0a1.9,1.9 0 1,0 -3.8,0M288.18,481.54a1.9,1.9 0 1,0 3.8,0a1.9,1.9 0 1,0 -3.8,0M288.43,481.53a1.9,1.9 0 1,0 3.8,0a1.9,1.9 0 1,0 -3.8,0M288.68,481.02a1.9,1.9 0 1,0 3.8,0a1.9,1.9 0 1,0 -3.8,0M288.92,481.08a1.9,1.9 0 1,0 3.8,0a1.9,1.9 0 1,0 -3.8,0M289.17,481.62a1.9,1.9 0 1,0 3.8,0a1.9,1.9 0 1,0 -3.8,0M289.42,481.14a1.9,1.9 0 1,0 3.8,0a1.9,1.9 0 1,0 -3.8,0M289.66,481.24a1.9,1.9 0 1,0 3.8,0a1.9,1.9 0 1,0 -3.8,0M289.91,481.55a1.9,1.9 0 1,0 3.8,0a1.9,1.9 0 1,0 -3.8,0M290.16,481.32a1.9,1.9 0 1,0 3.8,0a1.9,1.9 0 1,0 -3.8,0M290.4,481.52a1.9,1.9 0 1,0 3.8,0a1.9,1.9 0 1,0 -3.8,0M290.65,481.19a1.9,1.9 0 1,0 3.8,0a1.9,1.9 0 1,0 -3.8,0M290.9,481.48a1.9,1.9 0 1,0 3.8,0a1.9,1.9 0 1,0 -3.8,0M291.14,481.67a1.9,1.9 0 1,0 3.8,0a1.9,1.9 0 1,0 -3.8,0M291.39,481.48a1.9,1.9 0 1,0 3.8,0a1.9,1.9 0 1,0 -3.8,0M291.64,480.86a1.9,1.9 0 1,0 3.8,0a1.9,1.9 0 1,0 -3.8,0M291.88,481.56a1.9,1.9 0 1,0 3.8,0a1.9,1.9 0 1,0 -3.8,0M292.13,481.42a1.9,1.9 0 1,0 3.8,0a1.9,1.9 0 1,0 -3.8,0M292.38,481.18a1.9,1.9 0 1,0 3.8,0a1.9,1.9 0 1,0 -3.8,0M292.62,481.75a1.9,1.9 0 1,0 3.8,0a1.9,1.9 0 1,0 -3.8,0M292.87,480.97a1.9,1.9 0 1,0 3.8,0a1.9,1.9 0 1,0 -3.8,0M293.12,481.87a1.9,1.9 0 1,0 3.8,0a1.9,1.9 0 1,0 -3.8,0M293.36,481.24a1.9,1.9 0 1,0 3.8,0a1.9,1.9 0 1,0 -3.8,0M293.61,481.79a1.9,1.9 0 1,0 3.8,0a1.9,1.9 0 1,0 -3.8,0M293.86,481.39a1.9,1.9 0 1,0 3.8,0a1.9,1.9 0 1,0 -3.8,0M294.1,481.07a1.9,1.9 0 1,0 3.8,0a1.9,1.9 0 1,0 -3.8,0M294.35,481.43a1.9,1.9 0 1,0 3.8,0a1.9,1.9 0 1,0 -3.8,0M294.6,481.48a1.9,1.9 0 1,0 3.8,0a1.9,1.9 0 1,0 -3.8,0M294.84,481.54a1.9,1.9 0 1,0 3.8,0a1.9,1.9 0 1,0 -3.8,0M295.09,481.67a1.9,1.9 0 1,0 3.8,0a1.9,1.9 0 1,0 -3.8,0M295.34,481.18a1.9,1.9 0 1,0 3.8,0a1.9,1.9 0 1,0 -3.8,0M295.58,481.52a1.9,1.9 0 1,0 3.8,0a1.9,1.9 0 1,0 -3.8,0M295.83,481.59a1.9,1.9 0 1,0 3.8,0a1.9,1.9 0 1,0 -3.8,0M296.08,481.33a1.9,1.9 0 1,0 3.8,0a1.9,1.9 0 1,0 -3.8,0M296.32,481.17a1.9,1.9 0 1,0 3.8,0a1.9,1.9 0 1,0 -3.8,0M296.57,481.16a1.9,1.9 0 1,0 3.8,0a1.9,1.9 0 1,0 -3.8,0M296.82,481.59a1.9,1.9 0 1,0 3.8,0a1.9,1.9 0 1,0 -3.8,0M297.06,481.6a1.9,1.9 0 1,0 3.8,0a1.9,1.9 0 1,0 -3.8,0M297.31,481.2a1.9,1.9 0 1,0 3.8,0a1.9,1.9 0 1,0 -3.8,0M297.56,481.07a1.9,1.9 0 1,0 3.8,0a1.9,1.9 0 1,0 -3.8,0M297.8,481.71a1.9,1.9 0 1,0 3.8,0a1.9,1.9 0 1,0 -3.8,0M298.05,481.02a1.9,1.9 0 1,0 3.8,0a1.9,1.9 0 1,0 -3.8,0M298.3,481.44a1.9,1.9 0 1,0 3.8,0a1.9,1.9 0 1,0 -3.8,0M298.54,481.2a1.9,1.9 0 1,0 3.8,0a1.9,1.9 0 1,0 -3.8,0M298.79,480.96a1.9,1.9 0 1,0 3.8,0a1.9,1.9 0 1,0 -3.8,0M299.04,481.43a1.9,1.9 0 1,0 3.8,0a1.9,1.9 0 1,0 -3.8,0M299.28,481.35a1.9,1.9 0 1,0 3.8,0a1.9,1.9 0 1,0 -3.8,0M299.53,481.76a1.9,1.9 0 1,0 3.8,0a1.9,1.9 0 1,0 -3.8,0M299.78,481.97a1.9,1.9 0 1,0 3.8,0a1.9,1.9 0 1,0 -3.8,0M300.02,481.35a1.9,1.9 0 1,0 3.8,0a1.9,1.9 0 1,0 -3.8,0M300.27,481.66a1.9,1.9 0 1,0 3.8,0a1.9,1.9 0 1,0 -3.8,0M300.52,481.66a1.9,1.9 0 1,0 3.8,0a1.9,1.9 0 1,0 -3.8,0M300.77,481.27a1.9,1.9 0 1,0 3.8,0a1.9,1.9 0 1,0 -3.8,0M301.01,481.19a1.9,1.9 0 1,0 3.8,0a1.9,1.9 0 1,0 -3.8,0M301.26,481.8a1.9,1.9 0 1,0 3.8,0a1.9,1.9 0 1,0 -3.8,0M301.51,481.31a1.9,1.9 0 1,0 3.8,0a1.9,1.9 0 1,0 -3.8,0M301.75,481.4a1.9,1.9 0 1,0 3.8,0a1.9,1.9 0 1,0 -3.8,0M302,481.33a1.9,1.9 0 1,0 3.8,0a1.9,1.9 0 1,0 -3.8,0M302.25,481.37a1.9,1.9 0 1,0 3.8,0a1.9,1.9 0 1,0 -3.8,0M302.49,481.25a1.9,1.9 0 1,0 3.8,0a1.9,1.9 0 1,0 -3.8,0M302.74,481.59a1.9,1.9 0 1,0 3.8,0a1.9,1.9 0 1,0 -3.8,0M302.99,481.71a1.9,1.9 0 1,0 3.8,0a1.9,1.9 0 1,0 -3.8,0M303.23,481.31a1.9,1.9 0 1,0 3.8,0a1.9,1.9 0 1,0 -3.8,0M303.48,481.06a1.9,1.9 0 1,0 3.8,0a1.9,1.9 0 1,0 -3.8,0M303.73,481.41a1.9,1.9 0 1,0 3.8,0a1.9,1.9 0 1,0 -3.8,0M303.97,481.03a1.9,1.9 0 1,0 3.8,0a1.9,1.9 0 1,0 -3.8,0M304.22,481.24a1.9,1.9 0 1,0 3.8,0a1.9,1.9 0 1,0 -3.8,0M304.47,481.71a1.9,1.9 0 1,0 3.8,0a1.9,1.9 0 1,0 -3.8,0M304.71,481.98a1.9,1.9 0 1,0 3.8,0a1.9,1.9 0 1,0 -3.8,0M304.96,481.49a1.9,1.9 0 1,0 3.8,0a1.9,1.9 0 1,0 -3.8,0M305.21,481.14a1.9,1.9 0 1,0 3.8,0a1.9,1.9 0 1,0 -3.8,0M305.45,481.6a1.9,1.9 0 1,0 3.8,0a1.9,1.9 0 1,0 -3.8,0M305.7,480.84a1.9,1.9 0 1,0 3.8,0a1.9,1.9 0 1,0 -3.8,0M305.95,481.23a1.9,1.9 0 1,0 3.8,0a1.9,1.9 0 1,0 -3.8,0M306.19,481.78a1.9,1.9 0 1,0 3.8,0a1.9,1.9 0 1,0 -3.8,0M306.44,481.59a1.9,1.9 0 1,0 3.8,0a1.9,1.9 0 1,0 -3.8,0M306.69,481.06a1.9,1.9 0 1,0 3.8,0a1.9,1.9 0 1,0 -3.8,0M306.93,480.99a1.9,1.9 0 1,0 3.8,0a1.9,1.9 0 1,0 -3.8,0M307.18,481.61a1.9,1.9 0 1,0 3.8,0a1.9,1.9 0 1,0 -3.8,0M307.43,481.39a1.9,1.9 0 1,0 3.8,0a1.9,1.9 0 1,0 -3.8,0M307.67,481.25a1.9,1.9 0 1,0 3.8,0a1.9,1.9 0 1,0 -3.8,0M307.92,481.5a1.9,1.9 0 1,0 3.8,0a1.9,1.9 0 1,0 -3.8,0M308.17,481.26a1.9,1.9 0 1,0 3.8,0a1.9,1.9 0 1,0 -3.8,0" fill="#e8083a"/>
<path d="M68.27,535.02a2.5,2.5 0 1,0 5,0a2.5,2.5 0 1,0 -5,0M68.51,536.91a2.5,2.5 0 1,0 5,0a2.5,2.5 0 1,0 -5,0M68.76,535.9a2.5,2.5 0 1,0 5,0a2.5,2.5 0 1,0 -5,0M69.01,535.65a2.5,2.5 0 1,0 5,0a2.5,2.5 0 1,0 -5,0M69.25,535.41a2.5,2.5 0 1,0 5,0a2.5,2.5 0 1,0 -5,0M69.5,536.51a2.5,2.5 0 1,0 5,0a2.5,2.5 0 1,0 -5,0M69.75,535.77a2.5,2.5 0 1,0 5,0a2.5,2.5 0 1,0 -5,0M69.99,536.77a2.5,2.5 0 1,0 5,0a2.5,2.5 0 1,0 -5,0M70.24,536.14a2.5,2.5 0 1,0 5,0a2.5,2.5 0 1,0 -5,0M70.49,537.08a2.5,2.5 0 1,0 5,0a2.5,2.5 0 1,0 -5,0M70.73,536.05a2.5,2.5 0 1,0 5,0a2.5,2.5 0 1,0 -5,0M70.98,535.86a2.5,2.5 0 1,0 5,0a2.5,2.5 0 1,0 -5,0M71.23,534.94a2.5,2.5 0 1,0 5,0a2.5,2.5 0 1,0 -5,0M71.47,535.55a2.5,2.5 0 1,0 5,0a2.5,2.5 0 1,0 -5,0M71.72,536.81a2.5,2.5 0 1,0 5,0a2.5,2.5 0 1,0 -5,0M71.97,538.44a2.5,2.5 0 1,0 5,0a2.5,2.5 0 1,0 -5,0M72.21,535.43a2.5,2.5 0 1,0 5,0a2.5,2.5 0 1,0 -5,0M72.46,535.58a2.5,2.5 0 1,0 5,0a2.5,2.5 0 1,0 -5,0M72.71,536.53a2.5,2.5 0 1,0 5,0a2.5,2.5 0 1,0 -5,0M72.95,536.63a2.5,2.5 0 1,0 5,0a2.5,2.5 0 1,0 -5,0M73.2,535.82a2.5,2.5 0 1,0 5,0a2.5,2.5 0 1,0 -5,0M73.45,536.34a2.5,2.5 0 1,0 5,0a2.5,2.5 0 1,0 -5,0M73.69,535.17a2.5,2.5 0 1,0 5,0a2.5,2.5 0 1,0 -5,0M73.94,536.08a2.5,2.5 0 1,0 5,0a2.5,2.5 0 1,0 -5,0M74.19,536.91a2.5,2.5 0 1,0 5,0a2.5,2.5 0 1,0 -5,0M74.43,537.42a2.5,2.5 0 1,0 5,0a2.5,2.5 0 1,0 -5,0M74.68,536.16a2.5,2.5 0 1,0 5,0a2.5,2.5 0 1,0 -5,0M74.93,536.09a2.5,2.5 0 1,0 5,0a2.5,2.5 0 1,0 -5,0M75.17,536.58a2.5,2.5 0 1,0 5,0a2.5,2.5 0 1,0 -5,0M75.42,537.04a2.5,2.5 0 1,0 5,0a2.5,2.5 0 1,0 -5,0M75.67,536.6a2.5,2.5 0 1,0 5,0a2.5,2.5 0 1,0 -5,0M75.91,535.74a2.5,2.5 0 1,0 5,0a2.5,2.5 0 1,0 -5,0M76.16,536.5a2.5,2.5 0 1,0 5,0a2.5,2.5 0 1,0 -5,0M76.41,536.93a2.5,2.5 0 1,0 5,0a2.5,2.5 0 1,0 -5,0M76.65,535.75a2.5,2.5 0 1,0 5,0a2.5,2.5 0 1,0 -5,0M76.9,535.32a2.5,2.5 0 1,0 5,0a2.5,2.5 0 1,0 -5,0M77.15,536.6a2.5,2.5 0 1,0 5,0a2.5,2.5 0 1,0 -5,0M77.39,536.5a2.5,2.5 0 1,0 5,0a2.5,2.5 0 1,0 -5,0M77.64,536.91a2.5,2.5 0 1,0 5,0a2.5,2.5 0 1,0 -5,0M77.89,536.3a2.5,2.5 0 1,0 5,0a2.5,2.5 0 1,0 -5,0M78.13,535.78a2.5,2.5 0 1,0 5,0a2.5,2.5 0 1,0 -5,0M78.38,535.92a2.5,2.5 0 1,0 5,0a2.5,2.5 0 1,0 -5,0M78.63,535.51a2.5,2.5 0 1,0 5,0a2.5,2.5 0 1,0 -5,0M78.88,535.56a2.5,2.5 0 1,0 5,0a2.5,2.5 0 1,0 -5,0M79.12,535.83a2.5,2.5 0 1,0 5,0a2.5,2.5 0 1,0 -5,0M79.37,535.88a2.5,2.5 0 1,0 5,0a2.5,2.5 0 1,0 -5,0M79.62,536.99a2.5,2.5 0 1,0 5,0a2.5,2.5 0 1,0 -5,0M79.86,535.36a2.5,2.5 0 1,0 5,0a2.5,2.5 0 1,0 -5,0M80.11,536.18a2.5,2.5 0 1,0 5,0a2.5,2.5 0 1,0 -5,0M80.36,535.8a2.5,2.5 0 1,0 5,0a2.5,2.5 0 1,0 -5,0M80.6,537.24a2.5,2.5 0 1,0 5,0a2.5,2.5 0 1,0 -5,0M80.85,536.38a2.5,2.5 0 1,0 5,0a2.5,2.5 0 1,0 -5,0M81.1,535.94a2.5,2.5 0 1,0 5,0a2.5,2.5 0 1,0 -5,0M81.34,536.76a2.5,2.5 0 1,0 5,0a2.5,2.5 0 1,0 -5,0M81.59,536.24a2.5,2.5 0 1,0 5,0a2.5,2.5 0 1,0 -5,0M81.84,535.86a2.5,2.5 0 1,0 5,0a2.5,2.5 0 1,0 -5,0M82.08,537.25a2.5,2.5 0 1,0 5,0a2.5,2.5 0 1,0 -5,0M82.33,536.68a2.5,2.5 0 1,0 5,0a2.5,2.5 0 1,0 -5,0M82.58,537.38a2.5,2.5 0 1,0 5,0a2.5,2.5 0 1,0 -5,0M82.82,536.98a2.5,2.5 0 1,0 5,0a2.5,2.5 0 1,0 -5,0M83.07,536.71a2.5,2.5 0 1,0 5,0a2.5,2.5 0 1,0 -5,0M83.32,536.26a2.5,2.5 0 1,0 5,0a2.5,2.5 0 1,0 -5,0M83.56,535.41a2.5,2.5 0 1,0 5,0a2.5,2.5 0 1,0 -5,0M83.81,536.66a2.5,2.5 0 1,0 5,0a2.5,2.5 0 1,0 -5,0M84.06,536.21a2.5,2.5 0 1,0 5,0a2.5,2.5 0 1,0 -5,0M84.3,536.63a2.5,2.5 0 1,0 5,0a2.5,2.5 0 1,0 -5,0M84.55,536.15a2.5,2.5 0 1,0 5,0a2.5,2.5 0 1,0 -5,0M84.8,535.67a2.5,2.5 0 1,0 5,0a2.5,2.5 0 1,0 -5,0M85.04,535.45a2.5,2.5 0 1,0 5,0a2.5,2.5 0 1,0 -5,0M85.29,536.64a2.5,2.5 0 1,0 5,0a2.5,2.5 0 1,0 -5,0M85.54,537.04a2.5,2.5 0 1,0 5,0a2.5,2.5 0 1,0 -5,0M85.78,535.94a2.5,2.5 0 1,0 5,0a2.5,2.5 0 1,0 -5,0M86.03,536.46a2.5,2.5 0 1,0 5,0a2.5,2.5 0 1,0 -5,0M86.28,537.1a2.5,2.5 0 1,0 5,0a2.5,2.5 0 1,0 -5,0M86.52,535.55a2.5,2.5 0 1,0 5,0a2.5,2.5 0 1,0 -5,0M86.77,535.89a2.5,2.5 0 1,0 5,0a2.5,2.5 0 1,0 -5,0M87.02,535.35a2.5,2.5 0 1,0 5,0a2.5,2.5 0 1,0 -5,0M87.26,536.95a2.5,2.5 0 1,0 5,0a2.5,2.5 0 1,0 -5,0M87.51,536.3a2.5,2.5 0 1,0 5,0a2.5,2.5 0 1,0 -5,0M87.76,535.8a2.5,2.5 0 1,0 5,0a2.5,2.5 0 1,0 -5,0M88,534.96a2.5,2.5 0 1,0 5,0a2.5,2.5 0 1,0 -5,0M88.25,535.99a2.5,2.5 0 1,0 5,0a2.5,2.5 0 1,0 -5,0M88.5,536.8a2.5,2.5 0 1,0 5,0a2.5,2.5 0 1,0 -5,0M88.74,535.9a2.5,2.5 0 1,0 5,0a2.5,2.5 0 1,0 -5,0M88.99,535.81a2.5,2.5 0 1,0 5,0a2.5,2.5 0 1,0 -5,0M89.24,536.55a2.5,2.5 0 1,0 5,0a2.5,2.5 0 1,0 -5,0M89.48,535.24a2.5,2.5 0 1,0 5,0a2.5,2.5 0 1,0 -5,0M89.73,536.13a2.5,2.5 0 1,0 5,0a2.5,2.5 0 1,0 -5,0M89.98,536.51a2.5,2.5 0 1,0 5,0a2.5,2.5 0 1,0 -5,0M90.22,535.55a2.5,2.5 0 1,0 5,0a2.5,2.5 0 1,0 -5,0M90.47,535.51a2.5,2.5 0 1,0 5,0a2.5,2.5 0 1,0 -5,0M90.72,536.26a2.5,2.5 0 1,0 5,0a2.5,2.5 0 1,0 -5,0M90.96,536.01a2.5,2.5 0 1,0 5,0a2.5,2.5 0 1,0 -5,0M91.21,535.91a2.5,2.5 0 1,0 5,0a2.5,2.5 0 1,0 -5,0M91.46,536.22a2.5,2.5 0 1,0 5,0a2.5,2.5 0 1,0 -5,0M91.7,536.23a2.5,2.5 0 1,0 5,0a2.5,2.5 0 1,0 -5,0M91.95,535.43a2.5,2.5 0 1,0 5,0a2.5,2.5 0 1,0 -5,0M92.2,535.6a2.5,2.5 0 1,0 5,0a2.5,2.5 0 1,0 -5,0M92.44,536.38a2.5,2.5 0 1,0 5,0a2.5,2.5 0 1,0 -5,0M92.69,536.84a2.5,2.5 0 1,0 5,0a2.5,2.5 0 1,0 -5,0M92.94,537a2.5,2.5 0 1,0 5,0a2.5,2.5 0 1,0 -5,0M93.18,535.47a2.5,2.5 0 1,0 5,0a2.5,2.5 0 1,0 -5,0M93.43,536.81a2.5,2.5 0 1,0 5,0a2.5,2.5 0 1,0 -5,0M93.68,536.58a2.5,2.5 0 1,0 5,0a2.5,2.5 0 1,0 -5,0M93.92,536.03a2.5,2.5 0 1,0 5,0a2.5,2.5 0 1,0 -5,0M94.17,536.38a2.5,2.5 0 1,0 5,0a2.5,2.5 0 1,0 -5,0M94.42,536.62a2.5,2.5 0 1,0 5,0a2.5,2.5 0 1,0 -5,0M94.66,537.28a2.5,2.5 0 1,0 5,0a2.5,2.5 0 1,0 -5,0M94.91,535.3a2.5,2.5 0 1,0 5,0a2.5,2.5 0 1,0 -5,0M95.16,536.45a2.5,2.5 0 1,0 5,0a2.5,2.5 0 1,0 -5,0M95.4,535.93a2.5,2.5 0 1,0 5,0a2.5,2.5 0 1,0 -5,0M95.65,535.88a2.5,2.5 0 1,0 5,0a2.5,2.5 0 1,0 -5,0M95.9,536.82a2.5,2.5 0 1,0 5,0a2.5,2.5 0 1,0 -5,0M96.14,536.59a2.5,2.5 0 1,0 5,0a2.5,2.5 0 1,0 -5,0M96.39,535.31a2.5,2.5 0 1,0 5,0a2.5,2.5 0 1,0 -5,0M96.64,535.82a2.5,2.5 0 1,0 5,0a2.5,2.5 0 1,0 -5,0M96.88,536.17a2.5,2.5 0 1,0 5,0a2.5,2.5 0 1,0 -5,0M97.13,535.03a2.5,2.5 0 1,0 5,0a2.5,2.5 0 1,0 -5,0M97.38,536.61a2.5,2.5 0 1,0 5,0a2.5,2.5 0 1,0 -5,0M97.62,535.95a2.5,2.5 0 1,0 5,0a2.5,2.5 0 1,0 -5,0M97.87,536.11a2.5,2.5 0 1,0 5,0a2.5,2.5 0 1,0 -5,0M98.12,536.23a2.5,2.5 0 1,0 5,0a2.5,2.5 0 1,0 -5,0M98.36,537.25a2.5,2.5 0 1,0 5,0a2.5,2.5 0 1,0 -5,0M98.61,536.02a2.5,2.5 0 1,0 5,0a2.5,2.5 0 1,0 -5,0M98.86,535.74a2.5,2.5 0 1,0 5,0a2.5,2.5 0 1,0 -5,0M99.1,537.19a2.5,2.5 0 1,0 5,0a2.5,2.5 0 1,0 -5,0M99.35,535.63a2.5,2.5 0 1,0 5,0a2.5,2.5 0 1,0 -5,0M99.6,535.62a2.5,2.5 0 1,0 5,0a2.5,2.5 0 1,0 -5,0M99.84,535.01a2.5,2.5 0 1,0 5,0a2.5,2.5 0 1,0 -5,0M100.09,536.72a2.5,2.5 0 1,0 5,0a2.5,2.5 0 1,0 -5,0M100.34,536.16a2.5,2.5 0 1,0 5,0a2.5,2.5 0 1,0 -5,0M100.58,536.29a2.5,2.5 0 1,0 5,0a2.5,2.5 0 1,0 -5,0M100.83,536.08a2.5,2.5 0 1,0 5,0a2.5,2.5 0 1,0 -5,0M101.08,535.87a2.5,2.5 0 1,0 5,0a2.5,2.5 0 1,0 -5,0M101.32,535.41a2.5,2.5 0 1,0 5,0a2.5,2.5 0 1,0 -5,0M101.57,535.41a2.5,2.5 0 1,0 5,0a2.5,2.5 0 1,0 -5,0M101.82,536.25a2.5,2.5 0 1,0 5,0a2.5,2.5 0 1,0 -5,0M102.06,536.04a2.5,2.5 0 1,0 5,0a2.5,2.5 0 1,0 -5,0M102.31,537.08a2.5,2.5 0 1,0 5,0a2.5,2.5 0 1,0 -5,0M102.56,535.42a2.5,2.5 0 1,0 5,0a2.5,2.5 0 1,0 -5,0M102.81,535.6a2.5,2.5 0 1,0 5,0a2.5,2.5 0 1,0 -5,0M103.05,535.23a2.5,2.5 0 1,0 5,0a2.5,2.5 0 1,0 -5,0M103.3,536.89a2.5,2.5 0 1,0 5,0a2.5,2.5 0 1,0 -5,0M103.55,535.08a2.5,2.5 0 1,0 5,0a2.5,2.5 0 1,0 -5,0M103.79,536.46a2.5,2.5 0 1,0 5,0a2.5,2.5 0 1,0 -5,0M104.04,536.92a2.5,2.5 0 1,0 5,0a2.5,2.5 0 1,0 -5,0M104.29,535.83a2.5,2.5 0 1,0 5,0a2.5,2.5 0 1,0 -5,0M104.53,536.42a2.5,2.5 0 1,0 5,0a2.5,2.5 0 1,0 -5,0M104.78,534.44a2.5,2.5 0 1,0 5,0a2.5,2.5 0 1,0 -5,0M105.03,535.65a2.5,2.5 0 1,0 5,0a2.5,2.5 0 1,0 -5,0M105.27,534.76a2.5,2.5 0 1,0 5,0a2.5,2.5 0 1,0 -5,0M105.52,536.03a2.5,2.5 0 1,0 5,0a2.5,2.5 0 1,0 -5,0M105.77,535.91a2.5,2.5 0 1,0 5,0a2.5,2.5 0 1,0 -5,0M106.01,535.37a2.5,2.5 0 1,0 5,0a2.5,2.5 0 1,0 -5,0M106.26,536.55a2.5,2.5 0 1,0 5,0a2.5,2.5 0 1,0 -5,0M106.51,536.14a2.5,2.5 0 1,0 5,0a2.5,2.5 0 1,0 -5,0M106.75,535.53a2.5,2.5 0 1,0 5,0a2.5,2.5 0 1,0 -5,0M107,535.54a2.5,2.5 0 1,0 5,0a2.5,2.5 0 1,0 -5,0M107.25,534.87a2.5,2.5 0 1,0 5,0a2.5,2.5 0 1,0 -5,0M107.49,535.76a2.5,2.5 0 1,0 5,0a2.5,2.5 0 1,0 -5,0M107.74,537.35a2.5,2.5 0 1,0 5,0a2.5,2.5 0 1,0 -5,0M107.99,535.39a2.5,2.5 0 1,0 5,0a2.5,2.5 0 1,0 -5,0M108.23,536.17a2.5,2.5 0 1,0 5,0a2.5,2.5 0 1,0 -5,0M108.48,535.49a2.5,2.5 0 1,0 5,0a2.5,2.5 0 1,0 -5,0M108.73,536.43a2.5,2.5 0 1,0 5,0a2.5,2.5 0 1,0 -5,0M108.97,536.17a2.5,2.5 0 1,0 5,0a2.5,2.5 0 1,0 -5,0M109.22,535.7a2.5,2.5 0 1,0 5,0a2.5,2.5 0 1,0 -5,0M109.47,534.63a2.5,2.5 0 1,0 5,0a2.5,2.5 0 1,0 -5,0M109.71,535.5a2.5,2.5 0 1,0 5,0a2.5,2.5 0 1,0 -5,0M109.96,536.68a2.5,2.5 0 1,0 5,0a2.5,2.5 0 1,0 -5,0M110.21,535.68a2.5,2.5 0 1,0 5,0a2.5,2.5 0 1,0 -5,0M110.45,536.28a2.5,2.5 0 1,0 5,0a2.5,2.5 0 1,0 -5,0M110.7,535.51a2.5,2.5 0 1,0 5,0a2.5,2.5 0 1,0 -5,0M110.95,534.55a2.5,2.5 0 1,0 5,0a2.5,2.5 0 1,0 -5,0M111.19,536.13a2.5,2.5 0 1,0 5,0a2.5,2.5 0 1,0 -5,0M111.44,536.06a2.5,2.5 0 1,0 5,0a2.5,2.5 0 1,0 -5,0M111.69,535.43a2.5,2.5 0 1,0 5,0a2.5,2.5 0 1,0 -5,0M111.93,535.57a2.5,2.5 0 1,0 5,0a2.5,2.5 0 1,0 -5,0M112.18,536.03a2.5,2.5 0 1,0 5,0a2.5,2.5 0 1,0 -5,0M112.43,535.41a2.5,2.5 0 1,0 5,0a2.5,2.5 0 1,0 -5,0M112.67,536.06a2.5,2.5 0 1,0 5,0a2.5,2.5 0 1,0 -5,0M112.92,535.68a2.5,2.5 0 1,0 5,0a2.5,2.5 0 1,0 -5,0M113.17,534.18a2.5,2.5 0 1,0 5,0a2.5,2.5 0 1,0 -5,0M113.41,535.71a2.5,2.5 0 1,0 5,0a2.5,2.5 0 1,0 -5,0M113.66,535.4a2.5,2.5 0 1,0 5,0a2.5,2.5 0 1,0 -5,0M113.91,535.23a2.5,2.5 0 1,0 5,0a2.5,2.5 0 1,0 -5,0M114.15,536.08a2.5,2.5 0 1,0 5,0a2.5,2.5 0 1,0 -5,0M114.4,535.46a2.5,2.5 0 1,0 5,0a2.5,2.5 0 1,0 -5,0M114.65,536.17a2.5,2.5 0 1,0 5,0a2.5,2.5 0 1,0 -5,0M114.89,536.55a2.5,2.5 0 1,0 5,0a2.5,2.5 0 1,0 -5,0M115.14,535.89a2.5,2.5 0 1,0 5,0a2.5,2.5 0 1,0 -5,0M115.39,534.72a2.5,2.5 0 1,0 5,0a2.5,2.5 0 1,0 -5,0M115.63,535.28a2.5,2.5 0 1,0 5,0a2.5,2.5 0 1,0 -5,0M115.88,536.41a2.5,2.5 0 1,0 5,0a2.5,2.5 0 1,0 -5,0M116.13,535.6a2.5,2.5 0 1,0 5,0a2.5,2.5 0 1,0 -5,0M116.37,535.22a2.5,2.5 0 1,0 5,0a2.5,2.5 0 1,0 -5,0M116.62,535.71a2.5,2.5 0 1,0 5,0a2.5,2.5 0 1,0 -5,0M116.87,536.12a2.5,2.5 0 1,0 5,0a2.5,2.5 0 1,0 -5,0M117.11,535.95a2.5,2.5 0 1,0 5,0a2.5,2.5 0 1,0 -5,0M117.36,536.21a2.5,2.5 0 1,0 5,0a2.5,2.5 0 1,0 -5,0M117.61,535.19a2.5,2.5 0 1,0 5,0a2.5,2.5 0 1,0 -5,0M117.85,535.57a2.5,2.5 0 1,0 5,0a2.5,2.5 0 1,0 -5,0M118.1,535.58a2.5,2.5 0 1,0 5,0a2.5,2.5 0 1,0 -5,0M118.35,535.74a2.5,2.5 0 1,0 5,0a2.5,2.5 0 1,0 -5,0M118.59,534.3a2.5,2.5 0 1,0 5,0a2.5,2.5 0 1,0 -5,0M118.84,535.58a2.5,2.5 0 1,0 5,0a2.5,2.5 0 1,0 -5,0M119.09,534.81a2.5,2.5 0 1,0 5,0a2.5,2.5 0 1,0 -5,0M119.33,536.7a2.5,2.5 0 1,0 5,0a2.5,2.5 0 1,0 -5,0M119.58,536.81a2.5,2.5 0 1,0 5,0a2.5,2.5 0 1,0 -5,0M119.83,536.9a2.5,2.5 0 1,0 5,0a2.5,2.5 0 1,0 -5,0M120.07,536.29a2.5,2.5 0 1,0 5,0a2.5,2.5 0 1,0 -5,0M120.32,535.39a2.5,2.5 0 1,0 5,0a2.5,2.5 0 1,0 -5,0M120.57,536.39a2.5,2.5 0 1,0 5,0a2.5,2.5 0 1,0 -5,0M120.81,535.58a2.5,2.5 0 1,0 5,0a2.5,2.5 0 1,0 -5,0M121.06,536.14a2.5,2.5 0 1,0 5,0a2.5,2.5 0 1,0 -5,0M121.31,535.09a2.5,2.5 0 1,0 5,0a2.5,2.5 0 1,0 -5,0M121.55,535.31a2.5,2.5 0 1,0 5,0a2.5,2.5 0 1,0 -5,0M121.8,536.03a2.5,2.5 0 1,0 5,0a2.5,2.5 0 1,0 -5,0M122.05,536.93a2.5,2.5 0 1,0 5,0a2.5,2.5 0 1,0 -5,0M122.29,535.69a2.5,2.5 0 1,0 5,0a2.5,2.5 0 1,0 -5,0M122.54,537.26a2.5,2.5 0 1,0 5,0a2.5,2.5 0 1,0 -5,0M122.79,537.61a2.5,2.5 0 1,0 5,0a2.5,2.5 0 1,0 -5,0M123.03,534.81a2.5,2.5 0 1,0 5,0a2.5,2.5 0 1,0 -5,0M123.28,535.67a2.5,2.5 0 1,0 5,0a2.5,2.5 0 1,0 -5,0M123.53,535.03a2.5,2.5 0 1,0 5,0a2.5,2.5 0 1,0 -5,0M123.77,535.59a2.5,2.5 0 1,0 5,0a2.5,2.5 0 1,0 -5,0M124.02,535.31a2.5,2.5 0 1,0 5,0a2.5,2.5 0 1,0 -5,0M124.27,535.63a2.5,2.5 0 1,0 5,0a2.5,2.5 0 1,0 -5,0M124.51,536.35a2.5,2.5 0 1,0 5,0a2.5,2.5 0 1,0 -5,0M124.76,536.32a2.5,2.5 0 1,0 5,0a2.5,2.5 0 1,0 -5,0M125.01,535.85a2.5,2.5 0 1,0 5,0a2.5,2.5 0 1,0 -5,0M125.25,535.67a2.5,2.5 0 1,0 5,0a2.5,2.5 0 1,0 -5,0M125.5,535.75a2.5,2.5 0 1,0 5,0a2.5,2.5 0 1,0 -5,0M125.75,535.75a2.5,2.5 0 1,0 5,0a2.5,2.5 0 1,0 -5,0M125.99,536.06a2.5,2.5 0 1,0 5,0a2.5,2.5 0 1,0 -5,0M126.24,535.66a2.5,2.5 0 1,0 5,0a2.5,2.5 0 1,0 -5,0M126.49,536a2.5,2.5 0 1,0 5,0a2.5,2.5 0 1,0 -5,0M126.73,534.75a2.5,2.5 0 1,0 5,0a2.5,2.5 0 1,0 -5,0M126.98,536.2a2.5,2.5 0 1,0 5,0a2.5,2.5 0 1,0 -5,0M127.23,536.85a2.5,2.5 0 1,0 5,0a2.5,2.5 0 1,0 -5,0M127.47,535.77a2.5,2.5 0 1,0 5,0a2.5,2.5 0 1,0 -5,0M127.72,534.66a2.5,2.5 0 1,0 5,0a2.5,2.5 0 1,0 -5,0M127.97,536.57a2.5,2.5 0 1,0 5,0a2.5,2.5 0 1,0 -5,0M128.22,535.41a2.5,2.5 0 1,0 5,0a2.5,2.5 0 1,0 -5,0M128.46,533.56a2.5,2.5 0 1,0 5,0a2.5,2.5 0 1,0 -5,0M128.71,535.48a2.5,2.5 0 1,0 5,0a2.5,2.5 0 1,0 -5,0M128.96,536.04a2.5,2.5 0 1,0 5,0a2.5,2.5 0 1,0 -5,0M129.2,535.89a2.5,2.5 0 1,0 5,0a2.5,2.5 0 1,0 -5,0M129.45,536.48a2.5,2.5 0 1,0 5,0a2.5,2.5 0 1,0 -5,0M129.7,536.05a2.5,2.5 0 1,0 5,0a2.5,2.5 0 1,0 -5,0M129.94,535.7a2.5,2.5 0 1,0 5,0a2.5,2.5 0 1,0 -5,0M130.19,534.24a2.5,2.5 0 1,0 5,0a2.5,2.5 0 1,0 -5,0M130.44,534.84a2.5,2.5 0 1,0 5,0a2.5,2.5 0 1,0 -5,0M130.68,535.73a2.5,2.5 0 1,0 5,0a2.5,2.5 0 1,0 -5,0M130.93,536.07a2.5,2.5 0 1,0 5,0a2.5,2.5 0 1,0 -5,0M131.18,534.89a2.5,2.5 0 1,0 5,0a2.5,2.5 0 1,0 -5,0M131.42,535.17a2.5,2.5 0 1,0 5,0a2.5,2.5 0 1,0 -5,0M131.67,535.92a2.5,2.5 0 1,0 5,0a2.5,2.5 0 1,0 -5,0M131.92,534.27a2.5,2.5 0 1,0 5,0a2.5,2.5 0 1,0 -5,0M132.16,534.24a2.5,2.5 0 1,0 5,0a2.5,2.5 0 1,0 -5,0M132.41,535.42a2.5,2.5 0 1,0 5,0a2.5,2.5 0 1,0 -5,0M132.66,535.75a2.5,2.5 0 1,0 5,0a2.5,2.5 0 1,0 -5,0M132.9,535.24a2.5,2.5 0 1,0 5,0a2.5,2.5 0 1,0 -5,0M133.15,533.98a2.5,2.5 0 1,0 5,0a2.5,2.5 0 1,0 -5,0M133.4,535.59a2.5,2.5 0 1,0 5,0a2.5,2.5 0 1,0 -5,0M133.64,534.65a2.5,2.5 0 1,0 5,0a2.5,2.5 0 1,0 -5,0M133.89,536.02a2.5,2.5 0 1,0 5,0a2.5,2.5 0 1,0 -5,0M134.14,535.49a2.5,2.5 0 1,0 5,0a2.5,2.5 0 1,0 -5,0M134.38,535.74a2.5,2.5 0 1,0 5,0a2.5,2.5 0 1,0 -5,0M134.63,536a2.5,2.5 0 1,0 5,0a2.5,2.5 0 1,0 -5,0M134.88,535.19a2.5,2.5 0 1,0 5,0a2.5,2.5 0 1,0 -5,0M135.12,536.12a2.5,2.5 0 1,0 5,0a2.5,2.5 0 1,0 -5,0M135.37,536.41a2.5,2.5 0 1,0 5,0a2.5,2.5 0 1,0 -5,0M135.62,535.82a2.5,2.5 0 1,0 5,0a2.5,2.5 0 1,0 -5,0M135.86,536.46a2.5,2.5 0 1,0 5,0a2.5,2.5 0 1,0 -5,0M136.11,535.1a2.5,2.5 0 1,0 5,0a2.5,2.5 0 1,0 -5,0M136.36,536.17a2.5,2.5 0 1,0 5,0a2.5,2.5 0 1,0 -5,0M136.6,535.72a2.5,2.5 0 1,0 5,0a2.5,2.5 0 1,0 -5,0M136.85,534.84a2.5,2.5 0 1,0 5,0a2.5,2.5 0 1,0 -5,0M137.1,535.47a2.5,2.5 0 1,0 5,0a2.5,2.5 0 1,0 -5,0M137.34,535.15a2.5,2.5 0 1,0 5,0a2.5,2.5 0 1,0 -5,0M137.59,535.14a2.5,2.5 0 1,0 5,0a2.5,2.5 0 1,0 -5,0M137.84,535.58a2.5,2.5 0 1,0 5,0a2.5,2.5 0 1,0 -5,0M138.08,536.25a2.5,2.5 0 1,0 5,0a2.5,2.5 0 1,0 -5,0M138.33,535.29a2.5,2.5 0 1,0 5,0a2.5,2.5 0 1,0 -5,0M138.58,535.59a2.5,2.5 0 1,0 5,0a2.5,2.5 0 1,0 -5,0M138.82,534.49a2.5,2.5 0 1,0 5,0a2.5,2.5 0 1,0 -5,0M139.07,535.57a2.5,2.5 0 1,0 5,0a2.5,2.5 0 1,0 -5,0M139.32,536.3a2.5,2.5 0 1,0 5,0a2.5,2.5 0 1,0 -5,0M139.56,536.06a2.5,2.5 0 1,0 5,0a2.5,2.5 0 1,0 -5,0M139.81,535.82a2.5,2.5 0 1,0 5,0a2.5,2.5 0 1,0 -5,0M140.06,535.12a2.5,2.5 0 1,0 5,0a2.5,2.5 0 1,0 -5,0M140.3,534.81a2.5,2.5 0 1,0 5,0a2.5,2.5 0 1,0 -5,0M140.55,535.42a2.5,2.5 0 1,0 5,0a2.5,2.5 0 1,0 -5,0M140.8,534.55a2.5,2.5 0 1,0 5,0a2.5,2.5 0 1,0 -5,0M141.04,534.62a2.5,2.5 0 1,0 5,0a2.5,2.5 0 1,0 -5,0M141.29,536.13a2.5,2.5 0 1,0 5,0a2.5,2.5 0 1,0 -5,0M141.54,534.83a2.5,2.5 0 1,0 5,0a2.5,2.5 0 1,0 -5,0M141.78,536.71a2.5,2.5 0 1,0 5,0a2.5,2.5 0 1,0 -5,0M142.03,534.47a2.5,2.5 0 1,0 5,0a2.5,2.5 0 1,0 -5,0M142.28,535.76a2.5,2.5 0 1,0 5,0a2.5,2.5 0 1,0 -5,0M142.52,534.64a2.5,2.5 0 1,0 5,0a2.5,2.5 0 1,0 -5,0M142.77,535.57a2.5,2.5 0 1,0 5,0a2.5,2.5 0 1,0 -5,0M143.02,534.73a2.5,2.5 0 1,0 5,0a2.5,2.5 0 1,0 -5,0M143.26,535.48a2.5,2.5 0 1,0 5,0a2.5,2.5 0 1,0 -5,0M143.51,535.34a2.5,2.5 0 1,0 5,0a2.5,2.5 0 1,0 -5,0M143.76,535.13a2.5,2.5 0 1,0 5,0a2.5,2.5 0 1,0 -5,0M144,535.79a2.5,2.5 0 1,0 5,0a2.5,2.5 0 1,0 -5,0M144.25,536.48a2.5,2.5 0 1,0 5,0a2.5,2.5 0 1,0 -5,0M144.5,535.02a2.5,2.5 0 1,0 5,0a2.5,2.5 0 1,0 -5,0M144.74,536.04a2.5,2.5 0 1,0 5,0a2.5,2.5 0 1,0 -5,0M144.99,535.48a2.5,2.5 0 1,0 5,0a2.5,2.5 0 1,0 -5,0M145.24,535.4a2.5,2.5 0 1,0 5,0a2.5,2.5 0 1,0 -5,0M145.48,536.94a2.5,2.5 0 1,0 5,0a2.5,2.5 0 1,0 -5,0M145.73,533.91a2.5,2.5 0 1,0 5,0a2.5,2.5 0 1,0 -5,0M145.98,534.94a2.5,2.5 0 1,0 5,0a2.5,2.5 0 1,0 -5,0M146.22,534.16a2.5,2.5 0 1,0 5,0a2.5,2.5 0 1,0 -5,0M146.47,535.19a2.5,2.5 0 1,0 5,0a2.5,2.5 0 1,0 -5,0M146.72,535.25a2.5,2.5 0 1,0 5,0a2.5,2.5 0 1,0 -5,0M146.96,538.04a2.5,2.5 0 1,0 5,0a2.5,2.5 0 1,0 -5,0M147.21,535.64a2.5,2.5 0 1,0 5,0a2.5,2.5 0 1,0 -5,0M147.46,536.64a2.5,2.5 0 1,0 5,0a2.5,2.5 0 1,0 -5,0M147.7,536.29a2.5,2.5 0 1,0 5,0a2.5,2.5 0 1,0 -5,0M147.95,535.08a2.5,2.5 0 1,0 5,0a2.5,2.5 0 1,0 -5,0M148.2,535.72a2.5,2.5 0 1,0 5,0a2.5,2.5 0 1,0 -5,0M148.44,536.54a2.5,2.5 0 1,0 5,0a2.5,2.5 0 1,0 -5,0M148.69,535.5a2.5,2.5 0 1,0 5,0a2.5,2.5 0 1,0 -5,0M148.94,535.52a2.5,2.5 0 1,0 5,0a2.5,2.5 0 1,0 -5,0M149.18,535.72a2.5,2.5 0 1,0 5,0a2.5,2.5 0 1,0 -5,0M149.43,534.33a2.5,2.5 0 1,0 5,0a2.5,2.5 0 1,0 -5,0M149.68,534.8a2.5,2.5 0 1,0 5,0a2.5,2.5 0 1,0 -5,0M149.92,535.6a2.5,2.5 0 1,0 5,0a2.5,2.5 0 1,0 -5,0M150.17,535.74a2.5,2.5 0 1,0 5,0a2.5,2.5 0 1,0 -5,0M150.42,534.72a2.5,2.5 0 1,0 5,0a2.5,2.5 0 1,0 -5,0M150.66,535.13a2.5,2.5 0 1,0 5,0a2.5,2.5 0 1,0 -5,0M150.91,535.27a2.5,2.5 0 1,0 5,0a2.5,2.5 0 1,0 -5,0M151.16,535.24a2.5,2.5 0 1,0 5,0a2.5,2.5 0 1,0 -5,0M151.4,535.83a2.5,2.5 0 1,0 5,0a2.5,2.5 0 1,0 -5,0M151.65,535.42a2.5,2.5 0 1,0 5,0a2.5,2.5 0 1,0 -5,0M151.9,535.45a2.5,2.5 0 1,0 5,0a2.5,2.5 0 1,0 -5,0M152.14,534.35a2.5,2.5 0 1,0 5,0a2.5,2.5 0 1,0 -5,0M152.39,534.6a2.5,2.5 0 1,0 5,0a2.5,2.5 0 1,0 -5,0M152.64,535.55a2.5,2.5 0 1,0 5,0a2.5,2.5 0 1,0 -5,0M152.89,534.22a2.5,2.5 0 1,0 5,0a2.5,2.5 0 1,0 -5,0M153.13,535.51a2.5,2.5 0 1,0 5,0a2.5,2.5 0 1,0 -5,0M153.38,534.86a2.5,2.5 0 1,0 5,0a2.5,2.5 0 1,0 -5,0M153.63,534.75a2.5,2.5 0 1,0 5,0a2.5,2.5 0 1,0 -5,0M153.87,535.76a2.5,2.5 0 1,0 5,0a2.5,2.5 0 1,0 -5,0M154.12,534.84a2.5,2.5 0 1,0 5,0a2.5,2.5 0 1,0 -5,0M154.37,534.71a2.5,2.5 0 1,0 5,0a2.5,2.5 0 1,0 -5,0M154.61,534.83a2.5,2.5 0 1,0 5,0a2.5,2.5 0 1,0 -5,0M154.86,535.34a2.5,2.5 0 1,0 5,0a2.5,2.5 0 1,0 -5,0M155.11,537.2a2.5,2.5 0 1,0 5,0a2.5,2.5 0 1,0 -5,0M155.35,533.82a2.5,2.5 0 1,0 5,0a2.5,2.5 0 1,0 -5,0M155.6,535.28a2.5,2.5 0 1,0 5,0a2.5,2.5 0 1,0 -5,0M155.85,535.12a2.5,2.5 0 1,0 5,0a2.5,2.5 0 1,0 -5,0M156.09,535.94a2.5,2.5 0 1,0 5,0a2.5,2.5 0 1,0 -5,0M156.34,535.02a2.5,2.5 0 1,0 5,0a2.5,2.5 0 1,0 -5,0M156.59,533.56a2.5,2.5 0 1,0 5,0a2.5,2.5 0 1,0 -5,0M156.83,536.19a2.5,2.5 0 1,0 5,0a2.5,2.5 0 1,0 -5,0M157.08,534.51a2.5,2.5 0 1,0 5,0a2.5,2.5 0 1,0 -5,0M157.33,535.22a2.5,2.5 0 1,0 5,0a2.5,2.5 0 1,0 -5,0M157.57,534.31a2.5,2.5 0 1,0 5,0a2.5,2.5 0 1,0 -5,0M157.82,534.5a2.5,2.5 0 1,0 5,0a2.5,2.5 0 1,0 -5,0M158.07,534.91a2.5,2.5 0 1,0 5,0a2.5,2.5 0 1,0 -5,0M158.31,535.85a2.5,2.5 0 1,0 5,0a2.5,2.5 0 1,0 -5,0M158.56,535.83a2.5,2.5 0 1,0 5,0a2.5,2.5 0 1,0 -5,0M158.81,534.83a2.5,2.5 0 1,0 5,0a2.5,2.5 0 1,0 -5,0M159.05,535.59a2.5,2.5 0 1,0 5,0a2.5,2.5 0 1,0 -5,0M159.3,534.98a2.5,2.5 0 1,0 5,0a2.5,2.5 0 1,0 -5,0M159.55,535.31a2.5,2.5 0 1,0 5,0a2.5,2.5 0 1,0 -5,0M159.79,535.34a2.5,2.5 0 1,0 5,0a2.5,2.5 0 1,0 -5,0M160.04,535.66a2.5,2.5 0 1,0 5,0a2.5,2.5 0 1,0 -5,0M160.29,534.8a2.5,2.5 0 1,0 5,0a2.5,2.5 0 1,0 -5,0M160.53,535.13a2.5,2.5 0 1,0 5,0a2.5,2.5 0 1,0 -5,0M160.78,535.37a2.5,2.5 0 1,0 5,0a2.5,2.5 0 1,0 -5,0M161.03,535.28a2.5,2.5 0 1,0 5,0a2.5,2.5 0 1,0 -5,0M161.27,534.66a2.5,2.5 0 1,0 5,0a2.5,2.5 0 1,0 -5,0M161.52,536.41a2.5,2.5 0 1,0 5,0a2.5,2.5 0 1,0 -5,0M161.77,534.89a2.5,2.5 0 1,0 5,0a2.5,2.5 0 1,0 -5,0M162.01,535.73a2.5,2.5 0 1,0 5,0a2.5,2.5 0 1,0 -5,0M162.26,535.34a2.5,2.5 0 1,0 5,0a2.5,2.5 0 1,0 -5,0M162.51,536.05a2.5,2.5 0 1,0 5,0a2.5,2.5 0 1,0 -5,0M162.75,533.67a2.5,2.5 0 1,0 5,0a2.5,2.5 0 1,0 -5,0M163,536.62a2.5,2.5 0 1,0 5,0a2.5,2.5 0 1,0 -5,0M163.25,535.04a2.5,2.5 0 1,0 5,0a2.5,2.5 0 1,0 -5,0M163.49,534.33a2.5,2.5 0 1,0 5,0a2.5,2.5 0 1,0 -5,0M163.74,535.27a2.5,2.5 0 1,0 5,0a2.5,2.5 0 1,0 -5,0M163.99,536.75a2.5,2.5 0 1,0 5,0a2.5,2.5 0 1,0 -5,0M164.23,535.53a2.5,2.5 0 1,0 5,0a2.5,2.5 0 1,0 -5,0M164.48,534.31a2.5,2.5 0 1,0 5,0a2.5,2.5 0 1,0 -5,0M164.73,534.85a2.5,2.5 0 1,0 5,0a2.5,2.5 0 1,0 -5,0M164.97,536.09a2.5,2.5 0 1,0 5,0a2.5,2.5 0 1,0 -5,0M165.22,534.18a2.5,2.5 0 1,0 5,0a2.5,2.5 0 1,0 -5,0M165.47,535.03a2.5,2.5 0 1,0 5,0a2.5,2.5 0 1,0 -5,0M165.71,534.95a2.5,2.5 0 1,0 5,0a2.5,2.5 0 1,0 -5,0M165.96,536.66a2.5,2.5 0 1,0 5,0a2.5,2.5 0 1,0 -5,0M166.21,534.94a2.5,2.5 0 1,0 5,0a2.5,2.5 0 1,0 -5,0M166.45,536.06a2.5,2.5 0 1,0 5,0a2.5,2.5 0 1,0 -5,0M166.7,534.67a2.5,2.5 0 1,0 5,0a2.5,2.5 0 1,0 -5,0M166.95,534.58a2.5,2.5 0 1,0 5,0a2.5,2.5 0 1,0 -5,0M167.19,535.83a2.5,2.5 0 1,0 5,0a2.5,2.5 0 1,0 -5,0M167.44,535.57a2.5,2.5 0 1,0 5,0a2.5,2.5 0 1,0 -5,0M167.69,533.93a2.5,2.5 0 1,0 5,0a2.5,2.5 0 1,0 -5,0M167.93,535.57a2.5,2.5 0 1,0 5,0a2.5,2.5 0 1,0 -5,0M168.18,535.57a2.5,2.5 0 1,0 5,0a2.5,2.5 0 1,0 -5,0M168.43,534.69a2.5,2.5 0 1,0 5,0a2.5,2.5 0 1,0 -5,0M168.67,535.27a2.5,2.5 0 1,0 5,0a2.5,2.5 0 1,0 -5,0M168.92,535.3a2.5,2.5 0 1,0 5,0a2.5,2.5 0 1,0 -5,0M169.17,534.77a2.5,2.5 0 1,0 5,0a2.5,2.5 0 1,0 -5,0M169.41,534.7a2.5,2.5 0 1,0 5,0a2.5,2.5 0 1,0 -5,0M169.66,534.64a2.5,2.5 0 1,0 5,0a2.5,2.5 0 1,0 -5,0M169.91,534.91a2.5,2.5 0 1,0 5,0a2.5,2.5 0 1,0 -5,0M170.15,534.17a2.5,2.5 0 1,0 5,0a2.5,2.5 0 1,0 -5,0M170.4,535.06a2.5,2.5 0 1,0 5,0a2.5,2.5 0 1,0 -5,0M170.65,534.05a2.5,2.5 0 1,0 5,0a2.5,2.5 0 1,0 -5,0M170.89,535.14a2.5,2.5 0 1,0 5,0a2.5,2.5 0 1,0 -5,0M171.14,535.03a2.5,2.5 0 1,0 5,0a2.5,2.5 0 1,0 -5,0M171.39,534.36a2.5,2.5 0 1,0 5,0a2.5,2.5 0 1,0 -5,0M171.63,535.67a2.5,2.5 0 1,0 5,0a2.5,2.5 0 1,0 -5,0M171.88,536.42a2.5,2.5 0 1,0 5,0a2.5,2.5 0 1,0 -5,0M172.13,535.99a2.5,2.5 0 1,0 5,0a2.5,2.5 0 1,0 -5,0M172.37,534.12a2.5,2.5 0 1,0 5,0a2.5,2.5 0 1,0 -5,0M172.62,535.95a2.5,2.5 0 1,0 5,0a2.5,2.5 0 1,0 -5,0M172.87,535.21a2.5,2.5 0 1,0 5,0a2.5,2.5 0 1,0 -5,0M173.11,535.02a2.5,2.5 0 1,0 5,0a2.5,2.5 0 1,0 -5,0M173.36,534.64a2.5,2.5 0 1,0 5,0a2.5,2.5 0 1,0 -5,0M173.61,535.05a2.5,2.5 0 1,0 5,0a2.5,2.5 0 1,0 -5,0M173.85,536.01a2.5,2.5 0 1,0 5,0a2.5,2.5 0 1,0 -5,0M174.1,535.42a2.5,2.5 0 1,0 5,0a2.5,2.5 0 1,0 -5,0M174.35,534.76a2.5,2.5 0 1,0 5,0a2.5,2.5 0 1,0 -5,0M174.59,534.57a2.5,2.5 0 1,0 5,0a2.5,2.5 0 1,0 -5,0M174.84,534.75a2.5,2.5 0 1,0 5,0a2.5,2.5 0 1,0 -5,0M175.09,535.44a2.5,2.5 0 1,0 5,0a2.5,2.5 0 1,0 -5,0M175.33,536.33a2.5,2.5 0 1,0 5,0a2.5,2.5 0 1,0 -5,0M175.58,534.29a2.5,2.5 0 1,0 5,0a2.5,2.5 0 1,0 -5,0M175.83,535.02a2.5,2.5 0 1,0 5,0a2.5,2.5 0 1,0 -5,0M176.07,534.75a2.5,2.5 0 1,0 5,0a2.5,2.5 0 1,0 -5,0M176.32,534.5a2.5,2.5 0 1,0 5,0a2.5,2.5 0 1,0 -5,0M176.57,535.29a2.5,2.5 0 1,0 5,0a2.5,2.5 0 1,0 -5,0M176.81,535.4a2.5,2.5 0 1,0 5,0a2.5,2.5 0 1,0 -5,0M177.06,534.02a2.5,2.5 0 1,0 5,0a2.5,2.5 0 1,0 -5,0M177.31,534.29a2.5,2.5 0 1,0 5,0a2.5,2.5 0 1,0 -5,0M177.56,535.83a2.5,2.5 0 1,0 5,0a2.5,2.5 0 1,0 -5,0M177.8,535.22a2.5,2.5 0 1,0 5,0a2.5,2.5 0 1,0 -5,0M178.05,535.36a2.5,2.5 0 1,0 5,0a2.5,2.5 0 1,0 -5,0M178.3,534.65a2.5,2.5 0 1,0 5,0a2.5,2.5 0 1,0 -5,0M178.54,534.73a2.5,2.5 0 1,0 5,0a2.5,2.5 0 1,0 -5,0M178.79,535.31a2.5,2.5 0 1,0 5,0a2.5,2.5 0 1,0 -5,0M179.04,534.64a2.5,2.5 0 1,0 5,0a2.5,2.5 0 1,0 -5,0M179.28,534.21a2.5,2.5 0 1,0 5,0a2.5,2.5 0 1,0 -5,0M179.53,534.98a2.5,2.5 0 1,0 5,0a2.5,2.5 0 1,0 -5,0M179.78,535.6a2.5,2.5 0 1,0 5,0a2.5,2.5 0 1,0 -5,0M180.02,534.26a2.5,2.5 0 1,0 5,0a2.5,2.5 0 1,0 -5,0M180.27,535.7a2.5,2.5 0 1,0 5,0a2.5,2.5 0 1,0 -5,0M180.52,535.45a2.5,2.5 0 1,0 5,0a2.5,2.5 0 1,0 -5,0M180.76,534.36a2.5,2.5 0 1,0 5,0a2.5,2.5 0 1,0 -5,0M181.01,534.96a2.5,2.5 0 1,0 5,0a2.5,2.5 0 1,0 -5,0M181.26,534.93a2.5,2.5 0 1,0 5,0a2.5,2.5 0 1,0 -5,0M181.5,535.39a2.5,2.5 0 1,0 5,0a2.5,2.5 0 1,0 -5,0M181.75,535.41a2.5,2.5 0 1,0 5,0a2.5,2.5 0 1,0 -5,0M182,534.04a2.5,2.5 0 1,0 5,0a2.5,2.5 0 1,0 -5,0M182.24,534.01a2.5,2.5 0 1,0 5,0a2.5,2.5 0 1,0 -5,0M182.49,535.65a2.5,2.5 0 1,0 5,0a2.5,2.5 0 1,0 -5,0M182.74,535.02a2.5,2.5 0 1,0 5,0a2.5,2.5 0 1,0 -5,0M182.98,535.22a2.5,2.5 0 1,0 5,0a2.5,2.5 0 1,0 -5,0M183.23,535.16a2.5,2.5 0 1,0 5,0a2.5,2.5 0 1,0 -5,0M183.48,535.99a2.5,2.5 0 1,0 5,0a2.5,2.5 0 1,0 -5,0M183.72,534.09a2.5,2.5 0 1,0 5,0a2.5,2.5 0 1,0 -5,0M183.97,535.68a2.5,2.5 0 1,0 5,0a2.5,2.5 0 1,0 -5,0M184.22,534.35a2.5,2.5 0 1,0 5,0a2.5,2.5 0 1,0 -5,0M184.46,535.42a2.5,2.5 0 1,0 5,0a2.5,2.5 0 1,0 -5,0M184.71,535.84a2.5,2.5 0 1,0 5,0a2.5,2.5 0 1,0 -5,0M184.96,533.95a2.5,2.5 0 1,0 5,0a2.5,2.5 0 1,0 -5,0M185.2,535.19a2.5,2.5 0 1,0 5,0a2.5,2.5 0 1,0 -5,0M185.45,534.71a2.5,2.5 0 1,0 5,0a2.5,2.5 0 1,0 -5,0M185.7,534.7a2.5,2.5 0 1,0 5,0a2.5,2.5 0 1,0 -5,0M185.94,534.93a2.5,2.5 0 1,0 5,0a2.5,2.5 0 1,0 -5,0M186.19,534.17a2.5,2.5 0 1,0 5,0a2.5,2.5 0 1,0 -5,0M186.44,534.22a2.5,2.5 0 1,0 5,0a2.5,2.5 0 1,0 -5,0M186.68,535.34a2.5,2.5 0 1,0 5,0a2.5,2.5 0 1,0 -5,0M186.93,535.47a2.5,2.5 0 1,0 5,0a2.5,2.5 0 1,0 -5,0M187.18,534.49a2.5,2.5 0 1,0 5,0a2.5,2.5 0 1,0 -5,0M187.42,533.87a2.5,2.5 0 1,0 5,0a2.5,2.5 0 1,0 -5,0M187.67,536.48a2.5,2.5 0 1,0 5,0a2.5,2.5 0 1,0 -5,0M187.92,535.63a2.5,2.5 0 1,0 5,0a2.5,2.5 0 1,0 -5,0M188.16,535.12a2.5,2.5 0 1,0 5,0a2.5,2.5 0 1,0 -5,0M188.41,534.15a2.5,2.5 0 1,0 5,0a2.5,2.5 0 1,0 -5,0M188.66,534.46a2.5,2.5 0 1,0 5,0a2.5,2.5 0 1,0 -5,0M188.9,535.03a2.5,2.5 0 1,0 5,0a2.5,2.5 0 1,0 -5,0M189.15,534.19a2.5,2.5 0 1,0 5,0a2.5,2.5 0 1,0 -5,0M189.4,535.96a2.5,2.5 0 1,0 5,0a2.5,2.5 0 1,0 -5,0M189.64,534.95a2.5,2.5 0 1,0 5,0a2.5,2.5 0 1,0 -5,0M189.89,535.12a2.5,2.5 0 1,0 5,0a2.5,2.5 0 1,0 -5,0M190.14,534.13a2.5,2.5 0 1,0 5,0a2.5,2.5 0 1,0 -5,0M190.38,534.22a2.5,2.5 0 1,0 5,0a2.5,2.5 0 1,0 -5,0M190.63,534.29a2.5,2.5 0 1,0 5,0a2.5,2.5 0 1,0 -5,0M190.88,535.03a2.5,2.5 0 1,0 5,0a2.5,2.5 0 1,0 -5,0M191.12,534.65a2.5,2.5 0 1,0 5,0a2.5,2.5 0 1,0 -5,0M191.37,534.63a2.5,2.5 0 1,0 5,0a2.5,2.5 0 1,0 -5,0M191.62,535.04a2.5,2.5 0 1,0 5,0a2.5,2.5 0 1,0 -5,0M191.86,534.98a2.5,2.5 0 1,0 5,0a2.5,2.5 0 1,0 -5,0M192.11,535.85a2.5,2.5 0 1,0 5,0a2.5,2.5 0 1,0 -5,0M192.36,534.68a2.5,2.5 0 1,0 5,0a2.5,2.5 0 1,0 -5,0M192.6,534.12a2.5,2.5 0 1,0 5,0a2.5,2.5 0 1,0 -5,0M192.85,534.8a2.5,2.5 0 1,0 5,0a2.5,2.5 0 1,0 -5,0M193.1,535.82a2.5,2.5 0 1,0 5,0a2.5,2.5 0 1,0 -5,0M193.34,534.42a2.5,2.5 0 1,0 5,0a2.5,2.5 0 1,0 -5,0M193.59,534.84a2.5,2.5 0 1,0 5,0a2.5,2.5 0 1,0 -5,0M193.84,534.55a2.5,2.5 0 1,0 5,0a2.5,2.5 0 1,0 -5,0M194.08,535.08a2.5,2.5 0 1,0 5,0a2.5,2.5 0 1,0 -5,0M194.33,534.97a2.5,2.5 0 1,0 5,0a2.5,2.5 0 1,0 -5,0M194.58,534.23a2.5,2.5 0 1,0 5,0a2.5,2.5 0 1,0 -5,0M194.82,534.63a2.5,2.5 0 1,0 5,0a2.5,2.5 0 1,0 -5,0M195.07,535.43a2.5,2.5 0 1,0 5,0a2.5,2.5 0 1,0 -5,0M195.32,535.54a2.5,2.5 0 1,0 5,0a2.5,2.5 0 1,0 -5,0M195.56,535.41a2.5,2.5 0 1,0 5,0a2.5,2.5 0 1,0 -5,0M195.81,535.37a2.5,2.5 0 1,0 5,0a2.5,2.5 0 1,0 -5,0M196.06,534.54a2.5,2.5 0 1,0 5,0a2.5,2.5 0 1,0 -5,0M196.3,534.52a2.5,2.5 0 1,0 5,0a2.5,2.5 0 1,0 -5,0M196.55,535.41a2.5,2.5 0 1,0 5,0a2.5,2.5 0 1,0 -5,0M196.8,533.96a2.5,2.5 0 1,0 5,0a2.5,2.5 0 1,0 -5,0M197.04,534.72a2.5,2.5 0 1,0 5,0a2.5,2.5 0 1,0 -5,0M197.29,533.48a2.5,2.5 0 1,0 5,0a2.5,2.5 0 1,0 -5,0M197.54,534.49a2.5,2.5 0 1,0 5,0a2.5,2.5 0 1,0 -5,0M197.78,534.26a2.5,2.5 0 1,0 5,0a2.5,2.5 0 1,0 -5,0M198.03,533.92a2.5,2.5 0 1,0 5,0a2.5,2.5 0 1,0 -5,0M198.28,535.14a2.5,2.5 0 1,0 5,0a2.5,2.5 0 1,0 -5,0M198.52,534.24a2.5,2.5 0 1,0 5,0a2.5,2.5 0 1,0 -5,0M198.77,534.49a2.5,2.5 0 1,0 5,0a2.5,2.5 0 1,0 -5,0M199.02,534.56a2.5,2.5 0 1,0 5,0a2.5,2.5 0 1,0 -5,0M199.26,534.23a2.5,2.5 0 1,0 5,0a2.5,2.5 0 1,0 -5,0M199.51,535.71a2.5,2.5 0 1,0 5,0a2.5,2.5 0 1,0 -5,0M199.76,534.39a2.5,2.5 0 1,0 5,0a2.5,2.5 0 1,0 -5,0M200,534.86a2.5,2.5 0 1,0 5,0a2.5,2.5 0 1,0 -5,0M200.25,533.82a2.5,2.5 0 1,0 5,0a2.5,2.5 0 1,0 -5,0M200.5,534.39a2.5,2.5 0 1,0 5,0a2.5,2.5 0 1,0 -5,0M200.74,534.49a2.5,2.5 0 1,0 5,0a2.5,2.5 0 1,0 -5,0M200.99,534.5a2.5,2.5 0 1,0 5,0a2.5,2.5 0 1,0 -5,0M201.24,534.31a2.5,2.5 0 1,0 5,0a2.5,2.5 0 1,0 -5,0M201.49,534.8a2.5,2.5 0 1,0 5,0a2.5,2.5 0 1,0 -5,0M201.73,535.77a2.5,2.5 0 1,0 5,0a2.5,2.5 0 1,0 -5,0M201.98,534.61a2.5,2.5 0 1,0 5,0a2.5,2.5 0 1,0 -5,0M202.23,534.6a2.5,2.5 0 1,0 5,0a2.5,2.5 0 1,0 -5,0M202.47,534.42a2.5,2.5 0 1,0 5,0a2.5,2.5 0 1,0 -5,0M202.72,536.43a2.5,2.5 0 1,0 5,0a2.5,2.5 0 1,0 -5,0M202.97,535.8a2.5,2.5 0 1,0 5,0a2.5,2.5 0 1,0 -5,0M203.21,535.07a2.5,2.5 0 1,0 5,0a2.5,2.5 0 1,0 -5,0M203.46,535.16a2.5,2.5 0 1,0 5,0a2.5,2.5 0 1,0 -5,0M203.71,534.19a2.5,2.5 0 1,0 5,0a2.5,2.5 0 1,0 -5,0M203.95,534.57a2.5,2.5 0 1,0 5,0a2.5,2.5 0 1,0 -5,0M204.2,534.82a2.5,2.5 0 1,0 5,0a2.5,2.5 0 1,0 -5,0M204.45,534.75a2.5,2.5 0 1,0 5,0a2.5,2.5 0 1,0 -5,0M204.69,534.08a2.5,2.5 0 1,0 5,0a2.5,2.5 0 1,0 -5,0M204.94,534.13a2.5,2.5 0 1,0 5,0a2.5,2.5 0 1,0 -5,0M205.19,535.01a2.5,2.5 0 1,0 5,0a2.5,2.5 0 1,0 -5,0M205.43,534.87a2.5,2.5 0 1,0 5,0a2.5,2.5 0 1,0 -5,0M205.68,533.21a2.5,2.5 0 1,0 5,0a2.5,2.5 0 1,0 -5,0M205.93,534.71a2.5,2.5 0 1,0 5,0a2.5,2.5 0 1,0 -5,0M206.17,535.52a2.5,2.5 0 1,0 5,0a2.5,2.5 0 1,0 -5,0M206.42,534.2a2.5,2.5 0 1,0 5,0a2.5,2.5 0 1,0 -5,0M206.67,534.81a2.5,2.5 0 1,0 5,0a2.5,2.5 0 1,0 -5,0M206.91,533.64a2.5,2.5 0 1,0 5,0a2.5,2.5 0 1,0 -5,0M207.16,535.21a2.5,2.5 0 1,0 5,0a2.5,2.5 0 1,0 -5,0M207.41,533.87a2.5,2.5 0 1,0 5,0a2.5,2.5 0 1,0 -5,0M207.65,533.77a2.5,2.5 0 1,0 5,0a2.5,2.5 0 1,0 -5,0M207.9,534.41a2.5,2.5 0 1,0 5,0a2.5,2.5 0 1,0 -5,0M208.15,536.25a2.5,2.5 0 1,0 5,0a2.5,2.5 0 1,0 -5,0M208.39,534.2a2.5,2.5 0 1,0 5,0a2.5,2.5 0 1,0 -5,0M208.64,533.75a2.5,2.5 0 1,0 5,0a2.5,2.5 0 1,0 -5,0M208.89,534.93a2.5,2.5 0 1,0 5,0a2.5,2.5 0 1,0 -5,0M209.13,534.77a2.5,2.5 0 1,0 5,0a2.5,2.5 0 1,0 -5,0M209.38,535.75a2.5,2.5 0 1,0 5,0a2.5,2.5 0 1,0 -5,0M209.63,533.73a2.5,2.5 0 1,0 5,0a2.5,2.5 0 1,0 -5,0M209.87,533.51a2.5,2.5 0 1,0 5,0a2.5,2.5 0 1,0 -5,0M210.12,534.38a2.5,2.5 0 1,0 5,0a2.5,2.5 0 1,0 -5,0M210.37,534.86a2.5,2.5 0 1,0 5,0a2.5,2.5 0 1,0 -5,0M210.61,534.84a2.5,2.5 0 1,0 5,0a2.5,2.5 0 1,0 -5,0M210.86,535.33a2.5,2.5 0 1,0 5,0a2.5,2.5 0 1,0 -5,0M211.11,533.56a2.5,2.5 0 1,0 5,0a2.5,2.5 0 1,0 -5,0M211.35,534.02a2.5,2.5 0 1,0 5,0a2.5,2.5 0 1,0 -5,0M211.6,534.49a2.5,2.5 0 1,0 5,0a2.5,2.5 0 1,0 -5,0M211.85,535.15a2.5,2.5 0 1,0 5,0a2.5,2.5 0 1,0 -5,0M212.09,534.9a2.5,2.5 0 1,0 5,0a2.5,2.5 0 1,0 -5,0M212.34,534.28a2.5,2.5 0 1,0 5,0a2.5,2.5 0 1,0 -5,0M212.59,533.87a2.5,2.5 0 1,0 5,0a2.5,2.5 0 1,0 -5,0M212.83,535.17a2.5,2.5 0 1,0 5,0a2.5,2.5 0 1,0 -5,0M213.08,535.21a2.5,2.5 0 1,0 5,0a2.5,2.5 0 1,0 -5,0M213.33,536.42a2.5,2.5 0 1,0 5,0a2.5,2.5 0 1,0 -5,0M213.57,534.43a2.5,2.5 0 1,0 5,0a2.5,2.5 0 1,0 -5,0M213.82,535.67a2.5,2.5 0 1,0 5,0a2.5,2.5 0 1,0 -5,0M214.07,533.72a2.5,2.5 0 1,0 5,0a2.5,2.5 0 1,0 -5,0M214.31,534.17a2.5,2.5 0 1,0 5,0a2.5,2.5 0 1,0 -5,0M214.56,534.08a2.5,2.5 0 1,0 5,0a2.5,2.5 0 1,0 -5,0M214.81,534.22a2.5,2.5 0 1,0 5,0a2.5,2.5 0 1,0 -5,0M215.05,533.94a2.5,2.5 0 1,0 5,0a2.5,2.5 0 1,0 -5,0M215.3,534.16a2.5,2.5 0 1,0 5,0a2.5,2.5 0 1,0 -5,0M215.55,534.49a2.5,2.5 0 1,0 5,0a2.5,2.5 0 1,0 -5,0M215.79,534.22a2.5,2.5 0 1,0 5,0a2.5,2.5 0 1,0 -5,0M216.04,534.98a2.5,2.5 0 1,0 5,0a2.5,2.5 0 1,0 -5,0M216.29,534.46a2.5,2.5 0 1,0 5,0a2.5,2.5 0 1,0 -5,0M216.53,534.52a2.5,2.5 0 1,0 5,0a2.5,2.5 0 1,0 -5,0M216.78,535.53a2.5,2.5 0 1,0 5,0a2.5,2.5 0 1,0 -5,0M217.03,534.73a2.5,2.5 0 1,0 5,0a2.5,2.5 0 1,0 -5,0M217.27,534.62a2.5,2.5 0 1,0 5,0a2.5,2.5 0 1,0 -5,0M217.52,534.49a2.5,2.5 0 1,0 5,0a2.5,2.5 0 1,0 -5,0M217.77,534.55a2.5,2.5 0 1,0 5,0a2.5,2.5 0 1,0 -5,0M218.01,534.89a2.5,2.5 0 1,0 5,0a2.5,2.5 0 1,0 -5,0M218.26,533.95a2.5,2.5 0 1,0 5,0a2.5,2.5 0 1,0 -5,0M218.51,535.28a2.5,2.5 0 1,0 5,0a2.5,2.5 0 1,0 -5,0M218.75,535.57a2.5,2.5 0 1,0 5,0a2.5,2.5 0 1,0 -5,0M219,535.28a2.5,2.5 0 1,0 5,0a2.5,2.5 0 1,0 -5,0M219.25,534.15a2.5,2.5 0 1,0 5,0a2.5,2.5 0 1,0 -5,0M219.49,533.39a2.5,2.5 0 1,0 5,0a2.5,2.5 0 1,0 -5,0M219.74,534.18a2.5,2.5 0 1,0 5,0a2.5,2.5 0 1,0 -5,0M219.99,534.58a2.5,2.5 0 1,0 5,0a2.5,2.5 0 1,0 -5,0M220.23,535.04a2.5,2.5 0 1,0 5,0a2.5,2.5 0 1,0 -5,0M220.48,534.34a2.5,2.5 0 1,0 5,0a2.5,2.5 0 1,0 -5,0M220.73,534.26a2.5,2.5 0 1,0 5,0a2.5,2.5 0 1,0 -5,0M220.97,535.51a2.5,2.5 0 1,0 5,0a2.5,2.5 0 1,0 -5,0M221.22,534a2.5,2.5 0 1,0 5,0a2.5,2.5 0 1,0 -5,0M221.47,535.19a2.5,2.5 0 1,0 5,0a2.5,2.5 0 1,0 -5,0M221.71,535.07a2.5,2.5 0 1,0 5,0a2.5,2.5 0 1,0 -5,0M221.96,533.54a2.5,2.5 0 1,0 5,0a2.5,2.5 0 1,0 -5,0M222.21,534.64a2.5,2.5 0 1,0 5,0a2.5,2.5 0 1,0 -5,0M222.45,534.06a2.5,2.5 0 1,0 5,0a2.5,2.5 0 1,0 -5,0M222.7,533.79a2.5,2.5 0 1,0 5,0a2.5,2.5 0 1,0 -5,0M222.95,533.17a2.5,2.5 0 1,0 5,0a2.5,2.5 0 1,0 -5,0M223.19,533.36a2.5,2.5 0 1,0 5,0a2.5,2.5 0 1,0 -5,0M223.44,534.72a2.5,2.5 0 1,0 5,0a2.5,2.5 0 1,0 -5,0M223.69,534.16a2.5,2.5 0 1,0 5,0a2.5,2.5 0 1,0 -5,0M223.93,534.61a2.5,2.5 0 1,0 5,0a2.5,2.5 0 1,0 -5,0M224.18,533.69a2.5,2.5 0 1,0 5,0a2.5,2.5 0 1,0 -5,0M224.43,534.2a2.5,2.5 0 1,0 5,0a2.5,2.5 0 1,0 -5,0M224.67,534.23a2.5,2.5 0 1,0 5,0a2.5,2.5 0 1,0 -5,0M224.92,533.35a2.5,2.5 0 1,0 5,0a2.5,2.5 0 1,0 -5,0M225.17,533.27a2.5,2.5 0 1,0 5,0a2.5,2.5 0 1,0 -5,0M225.41,534.71a2.5,2.5 0 1,0 5,0a2.5,2.5 0 1,0 -5,0M225.66,534.51a2.5,2.5 0 1,0 5,0a2.5,2.5 0 1,0 -5,0M225.91,533.76a2.5,2.5 0 1,0 5,0a2.5,2.5 0 1,0 -5,0M226.15,534.33a2.5,2.5 0 1,0 5,0a2.5,2.5 0 1,0 -5,0M226.4,534.85a2.5,2.5 0 1,0 5,0a2.5,2.5 0 1,0 -5,0M226.65,535.65a2.5,2.5 0 1,0 5,0a2.5,2.5 0 1,0 -5,0M226.9,533.78a2.5,2.5 0 1,0 5,0a2.5,2.5 0 1,0 -5,0M227.14,534.81a2.5,2.5 0 1,0 5,0a2.5,2.5 0 1,0 -5,0M227.39,535.84a2.5,2.5 0 1,0 5,0a2.5,2.5 0 1,0 -5,0M227.64,534.43a2.5,2.5 0 1,0 5,0a2.5,2.5 0 1,0 -5,0M227.88,535.38a2.5,2.5 0 1,0 5,0a2.5,2.5 0 1,0 -5,0M228.13,532.6a2.5,2.5 0 1,0 5,0a2.5,2.5 0 1,0 -5,0M228.38,535.36a2.5,2.5 0 1,0 5,0a2.5,2.5 0 1,0 -5,0M228.62,534.36a2.5,2.5 0 1,0 5,0a2.5,2.5 0 1,0 -5,0M228.87,533.08a2.5,2.5 0 1,0 5,0a2.5,2.5 0 1,0 -5,0M229.12,534.9a2.5,2.5 0 1,0 5,0a2.5,2.5 0 1,0 -5,0M229.36,535.08a2.5,2.5 0 1,0 5,0a2.5,2.5 0 1,0 -5,0M229.61,535.18a2.5,2.5 0 1,0 5,0a2.5,2.5 0 1,0 -5,0M229.86,535.18a2.5,2.5 0 1,0 5,0a2.5,2.5 0 1,0 -5,0M230.1,534.33a2.5,2.5 0 1,0 5,0a2.5,2.5 0 1,0 -5,0M230.35,533.83a2.5,2.5 0 1,0 5,0a2.5,2.5 0 1,0 -5,0M230.6,534.03a2.5,2.5 0 1,0 5,0a2.5,2.5 0 1,0 -5,0M230.84,534.32a2.5,2.5 0 1,0 5,0a2.5,2.5 0 1,0 -5,0M231.09,534.62a2.5,2.5 0 1,0 5,0a2.5,2.5 0 1,0 -5,0M231.34,534a2.5,2.5 0 1,0 5,0a2.5,2.5 0 1,0 -5,0M231.58,534.36a2.5,2.5 0 1,0 5,0a2.5,2.5 0 1,0 -5,0M231.83,534.93a2.5,2.5 0 1,0 5,0a2.5,2.5 0 1,0 -5,0M232.08,534.55a2.5,2.5 0 1,0 5,0a2.5,2.5 0 1,0 -5,0M232.32,535.9a2.5,2.5 0 1,0 5,0a2.5,2.5 0 1,0 -5,0M232.57,535.8a2.5,2.5 0 1,0 5,0a2.5,2.5 0 1,0 -5,0M232.82,533.53a2.5,2.5 0 1,0 5,0a2.5,2.5 0 1,0 -5,0M233.06,533.92a2.5,2.5 0 1,0 5,0a2.5,2.5 0 1,0 -5,0M233.31,533.41a2.5,2.5 0 1,0 5,0a2.5,2.5 0 1,0 -5,0M233.56,533.51a2.5,2.5 0 1,0 5,0a2.5,2.5 0 1,0 -5,0M233.8,534.68a2.5,2.5 0 1,0 5,0a2.5,2.5 0 1,0 -5,0M234.05,533.62a2.5,2.5 0 1,0 5,0a2.5,2.5 0 1,0 -5,0M234.3,533.58a2.5,2.5 0 1,0 5,0a2.5,2.5 0 1,0 -5,0M234.54,534.11a2.5,2.5 0 1,0 5,0a2.5,2.5 0 1,0 -5,0M234.79,534.84a2.5,2.5 0 1,0 5,0a2.5,2.5 0 1,0 -5,0M235.04,534.04a2.5,2.5 0 1,0 5,0a2.5,2.5 0 1,0 -5,0M235.28,534.04a2.5,2.5 0 1,0 5,0a2.5,2.5 0 1,0 -5,0M235.53,534.91a2.5,2.5 0 1,0 5,0a2.5,2.5 0 1,0 -5,0M235.78,534.6a2.5,2.5 0 1,0 5,0a2.5,2.5 0 1,0 -5,0M236.02,534.59a2.5,2.5 0 1,0 5,0a2.5,2.5 0 1,0 -5,0M236.27,534.92a2.5,2.5 0 1,0 5,0a2.5,2.5 0 1,0 -5,0M236.52,533.57a2.5,2.5 0 1,0 5,0a2.5,2.5 0 1,0 -5,0M236.76,534.41a2.5,2.5 0 1,0 5,0a2.5,2.5 0 1,0 -5,0M237.01,533.83a2.5,2.5 0 1,0 5,0a2.5,2.5 0 1,0 -5,0M237.26,534.97a2.5,2.5 0 1,0 5,0a2.5,2.5 0 1,0 -5,0M237.5,534.82a2.5,2.5 0 1,0 5,0a2.5,2.5 0 1,0 -5,0M237.75,533.54a2.5,2.5 0 1,0 5,0a2.5,2.5 0 1,0 -5,0M238,535.17a2.5,2.5 0 1,0 5,0a2.5,2.5 0 1,0 -5,0M238.24,533.44a2.5,2.5 0 1,0 5,0a2.5,2.5 0 1,0 -5,0M238.49,535.05a2.5,2.5 0 1,0 5,0a2.5,2.5 0 1,0 -5,0M238.74,534.38a2.5,2.5 0 1,0 5,0a2.5,2.5 0 1,0 -5,0M238.98,533.64a2.5,2.5 0 1,0 5,0a2.5,2.5 0 1,0 -5,0M239.23,533.47a2.5,2.5 0 1,0 5,0a2.5,2.5 0 1,0 -5,0M239.48,534.02a2.5,2.5 0 1,0 5,0a2.5,2.5 0 1,0 -5,0M239.72,534.21a2.5,2.5 0 1,0 5,0a2.5,2.5 0 1,0 -5,0M239.97,533.74a2.5,2.5 0 1,0 5,0a2.5,2.5 0 1,0 -5,0M240.22,534.61a2.5,2.5 0 1,0 5,0a2.5,2.5 0 1,0 -5,0M240.46,533.26a2.5,2.5 0 1,0 5,0a2.5,2.5 0 1,0 -5,0M240.71,534.21a2.5,2.5 0 1,0 5,0a2.5,2.5 0 1,0 -5,0M240.96,534.21a2.5,2.5 0 1,0 5,0a2.5,2.5 0 1,0 -5,0M241.2,532.92a2.5,2.5 0 1,0 5,0a2.5,2.5 0 1,0 -5,0M241.45,534.42a2.5,2.5 0 1,0 5,0a2.5,2.5 0 1,0 -5,0M241.7,533.33a2.5,2.5 0 1,0 5,0a2.5,2.5 0 1,0 -5,0M241.94,532.48a2.5,2.5 0 1,0 5,0a2.5,2.5 0 1,0 -5,0M242.19,533.78a2.5,2.5 0 1,0 5,0a2.5,2.5 0 1,0 -5,0M242.44,534.04a2.5,2.5 0 1,0 5,0a2.5,2.5 0 1,0 -5,0M242.68,534.81a2.5,2.5 0 1,0 5,0a2.5,2.5 0 1,0 -5,0M242.93,533.85a2.5,2.5 0 1,0 5,0a2.5,2.5 0 1,0 -5,0M243.18,535.2a2.5,2.5 0 1,0 5,0a2.5,2.5 0 1,0 -5,0M243.42,535.17a2.5,2.5 0 1,0 5,0a2.5,2.5 0 1,0 -5,0M243.67,534.93a2.5,2.5 0 1,0 5,0a2.5,2.5 0 1,0 -5,0M243.92,535.09a2.5,2.5 0 1,0 5,0a2.5,2.5 0 1,0 -5,0M244.16,534.41a2.5,2.5 0 1,0 5,0a2.5,2.5 0 1,0 -5,0M244.41,533.79a2.5,2.5 0 1,0 5,0a2.5,2.5 0 1,0 -5,0M244.66,534.61a2.5,2.5 0 1,0 5,0a2.5,2.5 0 1,0 -5,0M244.9,534.83a2.5,2.5 0 1,0 5,0a2.5,2.5 0 1,0 -5,0M245.15,534.33a2.5,2.5 0 1,0 5,0a2.5,2.5 0 1,0 -5,0M245.4,533.99a2.5,2.5 0 1,0 5,0a2.5,2.5 0 1,0 -5,0M245.64,533.07a2.5,2.5 0 1,0 5,0a2.5,2.5 0 1,0 -5,0M245.89,534.62a2.5,2.5 0 1,0 5,0a2.5,2.5 0 1,0 -5,0M246.14,534.39a2.5,2.5 0 1,0 5,0a2.5,2.5 0 1,0 -5,0M246.38,533.25a2.5,2.5 0 1,0 5,0a2.5,2.5 0 1,0 -5,0M246.63,534.21a2.5,2.5 0 1,0 5,0a2.5,2.5 0 1,0 -5,0M246.88,534.64a2.5,2.5 0 1,0 5,0a2.5,2.5 0 1,0 -5,0M247.12,534.06a2.5,2.5 0 1,0 5,0a2.5,2.5 0 1,0 -5,0M247.37,534.67a2.5,2.5 0 1,0 5,0a2.5,2.5 0 1,0 -5,0M247.62,534.65a2.5,2.5 0 1,0 5,0a2.5,2.5 0 1,0 -5,0M247.86,533.11a2.5,2.5 0 1,0 5,0a2.5,2.5 0 1,0 -5,0M248.11,533.92a2.5,2.5 0 1,0 5,0a2.5,2.5 0 1,0 -5,0M248.36,534.46a2.5,2.5 0 1,0 5,0a2.5,2.5 0 1,0 -5,0M248.6,534.75a2.5,2.5 0 1,0 5,0a2.5,2.5 0 1,0 -5,0M248.85,535.09a2.5,2.5 0 1,0 5,0a2.5,2.5 0 1,0 -5,0M249.1,532.79a2.5,2.5 0 1,0 5,0a2.5,2.5 0 1,0 -5,0M249.34,534.06a2.5,2.5 0 1,0 5,0a2.5,2.5 0 1,0 -5,0M249.59,534.6a2.5,2.5 0 1,0 5,0a2.5,2.5 0 1,0 -5,0M249.84,534.95a2.5,2.5 0 1,0 5,0a2.5,2.5 0 1,0 -5,0M250.08,535.26a2.5,2.5 0 1,0 5,0a2.5,2.5 0 1,0 -5,0M250.33,533.45a2.5,2.5 0 1,0 5,0a2.5,2.5 0 1,0 -5,0M250.58,533.84a2.5,2.5 0 1,0 5,0a2.5,2.5 0 1,0 -5,0M250.82,533.36a2.5,2.5 0 1,0 5,0a2.5,2.5 0 1,0 -5,0M251.07,534.65a2.5,2.5 0 1,0 5,0a2.5,2.5 0 1,0 -5,0M251.32,533.17a2.5,2.5 0 1,0 5,0a2.5,2.5 0 1,0 -5,0M251.57,534.9a2.5,2.5 0 1,0 5,0a2.5,2.5 0 1,0 -5,0M251.81,534.72a2.5,2.5 0 1,0 5,0a2.5,2.5 0 1,0 -5,0M252.06,534.41a2.5,2.5 0 1,0 5,0a2.5,2.5 0 1,0 -5,0M252.31,532.57a2.5,2.5 0 1,0 5,0a2.5,2.5 0 1,0 -5,0M252.55,533.6a2.5,2.5 0 1,0 5,0a2.5,2.5 0 1,0 -5,0M252.8,534.58a2.5,2.5 0 1,0 5,0a2.5,2.5 0 1,0 -5,0M253.05,533.08a2.5,2.5 0 1,0 5,0a2.5,2.5 0 1,0 -5,0M253.29,533.89a2.5,2.5 0 1,0 5,0a2.5,2.5 0 1,0 -5,0M253.54,533.98a2.5,2.5 0 1,0 5,0a2.5,2.5 0 1,0 -5,0M253.79,534.67a2.5,2.5 0 1,0 5,0a2.5,2.5 0 1,0 -5,0M254.03,534.24a2.5,2.5 0 1,0 5,0a2.5,2.5 0 1,0 -5,0M254.28,534.24a2.5,2.5 0 1,0 5,0a2.5,2.5 0 1,0 -5,0M254.53,533.74a2.5,2.5 0 1,0 5,0a2.5,2.5 0 1,0 -5,0M254.77,534.04a2.5,2.5 0 1,0 5,0a2.5,2.5 0 1,0 -5,0M255.02,533.94a2.5,2.5 0 1,0 5,0a2.5,2.5 0 1,0 -5,0M255.27,534.54a2.5,2.5 0 1,0 5,0a2.5,2.5 0 1,0 -5,0M255.51,533.91a2.5,2.5 0 1,0 5,0a2.5,2.5 0 1,0 -5,0M255.76,534.74a2.5,2.5 0 1,0 5,0a2.5,2.5 0 1,0 -5,0M256.01,532.85a2.5,2.5 0 1,0 5,0a2.5,2.5 0 1,0 -5,0M256.25,534.85a2.5,2.5 0 1,0 5,0a2.5,2.5 0 1,0 -5,0M256.5,533.9a2.5,2.5 0 1,0 5,0a2.5,2.5 0 1,0 -5,0M256.75,534.8a2.5,2.5 0 1,0 5,0a2.5,2.5 0 1,0 -5,0M256.99,534.07a2.5,2.5 0 1,0 5,0a2.5,2.5 0 1,0 -5,0M257.24,534.6a2.5,2.5 0 1,0 5,0a2.5,2.5 0 1,0 -5,0M257.49,535.04a2.5,2.5 0 1,0 5,0a2.5,2.5 0 1,0 -5,0M257.73,533.62a2.5,2.5 0 1,0 5,0a2.5,2.5 0 1,0 -5,0M257.98,534.05a2.5,2.5 0 1,0 5,0a2.5,2.5 0 1,0 -5,0M258.23,533.88a2.5,2.5 0 1,0 5,0a2.5,2.5 0 1,0 -5,0M258.47,534.14a2.5,2.5 0 1,0 5,0a2.5,2.5 0 1,0 -5,0M258.72,532.87a2.5,2.5 0 1,0 5,0a2.5,2.5 0 1,0 -5,0M258.97,533.87a2.5,2.5 0 1,0 5,0a2.5,2.5 0 1,0 -5,0M259.21,533.81a2.5,2.5 0 1,0 5,0a2.5,2.5 0 1,0 -5,0M259.46,533.44a2.5,2.5 0 1,0 5,0a2.5,2.5 0 1,0 -5,0M259.71,533.84a2.5,2.5 0 1,0 5,0a2.5,2.5 0 1,0 -5,0M259.95,532.91a2.5,2.5 0 1,0 5,0a2.5,2.5 0 1,0 -5,0M260.2,534.94a2.5,2.5 0 1,0 5,0a2.5,2.5 0 1,0 -5,0M260.45,534.28a2.5,2.5 0 1,0 5,0a2.5,2.5 0 1,0 -5,0M260.69,535.27a2.5,2.5 0 1,0 5,0a2.5,2.5 0 1,0 -5,0M260.94,533.36a2.5,2.5 0 1,0 5,0a2.5,2.5 0 1,0 -5,0M261.19,533.15a2.5,2.5 0 1,0 5,0a2.5,2.5 0 1,0 -5,0M261.43,534.15a2.5,2.5 0 1,0 5,0a2.5,2.5 0 1,0 -5,0M261.68,532.8a2.5,2.5 0 1,0 5,0a2.5,2.5 0 1,0 -5,0M261.93,534.11a2.5,2.5 0 1,0 5,0a2.5,2.5 0 1,0 -5,0M262.17,533.46a2.5,2.5 0 1,0 5,0a2.5,2.5 0 1,0 -5,0M262.42,533.71a2.5,2.5 0 1,0 5,0a2.5,2.5 0 1,0 -5,0M262.67,534.12a2.5,2.5 0 1,0 5,0a2.5,2.5 0 1,0 -5,0M262.91,533.97a2.5,2.5 0 1,0 5,0a2.5,2.5 0 1,0 -5,0M263.16,535.22a2.5,2.5 0 1,0 5,0a2.5,2.5 0 1,0 -5,0M263.41,534.37a2.5,2.5 0 1,0 5,0a2.5,2.5 0 1,0 -5,0M263.65,533.03a2.5,2.5 0 1,0 5,0a2.5,2.5 0 1,0 -5,0M263.9,534.6a2.5,2.5 0 1,0 5,0a2.5,2.5 0 1,0 -5,0M264.15,532.99a2.5,2.5 0 1,0 5,0a2.5,2.5 0 1,0 -5,0M264.39,533.98a2.5,2.5 0 1,0 5,0a2.5,2.5 0 1,0 -5,0M264.64,533.05a2.5,2.5 0 1,0 5,0a2.5,2.5 0 1,0 -5,0M264.89,533.34a2.5,2.5 0 1,0 5,0a2.5,2.5 0 1,0 -5,0M265.13,534.82a2.5,2.5 0 1,0 5,0a2.5,2.5 0 1,0 -5,0M265.38,533.52a2.5,2.5 0 1,0 5,0a2.5,2.5 0 1,0 -5,0M265.63,533.46a2.5,2.5 0 1,0 5,0a2.5,2.5 0 1,0 -5,0M265.87,533.51a2.5,2.5 0 1,0 5,0a2.5,2.5 0 1,0 -5,0M266.12,533.68a2.5,2.5 0 1,0 5,0a2.5,2.5 0 1,0 -5,0M266.37,534.89a2.5,2.5 0 1,0 5,0a2.5,2.5 0 1,0 -5,0M266.61,533.07a2.5,2.5 0 1,0 5,0a2.5,2.5 0 1,0 -5,0M266.86,533.03a2.5,2.5 0 1,0 5,0a2.5,2.5 0 1,0 -5,0M267.11,534.28a2.5,2.5 0 1,0 5,0a2.5,2.5 0 1,0 -5,0M267.35,532.78a2.5,2.5 0 1,0 5,0a2.5,2.5 0 1,0 -5,0M267.6,533.62a2.5,2.5 0 1,0 5,0a2.5,2.5 0 1,0 -5,0M267.85,534.65a2.5,2.5 0 1,0 5,0a2.5,2.5 0 1,0 -5,0M268.09,533.87a2.5,2.5 0 1,0 5,0a2.5,2.5 0 1,0 -5,0M268.34,533.53a2.5,2.5 0 1,0 5,0a2.5,2.5 0 1,0 -5,0M268.59,533.37a2.5,2.5 0 1,0 5,0a2.5,2.5 0 1,0 -5,0M268.83,533.22a2.5,2.5 0 1,0 5,0a2.5,2.5 0 1,0 -5,0M269.08,533.45a2.5,2.5 0 1,0 5,0a2.5,2.5 0 1,0 -5,0M269.33,533.95a2.5,2.5 0 1,0 5,0a2.5,2.5 0 1,0 -5,0M269.57,534.71a2.5,2.5 0 1,0 5,0a2.5,2.5 0 1,0 -5,0M269.82,534.51a2.5,2.5 0 1,0 5,0a2.5,2.5 0 1,0 -5,0M270.07,533.45a2.5,2.5 0 1,0 5,0a2.5,2.5 0 1,0 -5,0M270.31,533.33a2.5,2.5 0 1,0 5,0a2.5,2.5 0 1,0 -5,0M270.56,534.31a2.5,2.5 0 1,0 5,0a2.5,2.5 0 1,0 -5,0M270.81,532.58a2.5,2.5 0 1,0 5,0a2.5,2.5 0 1,0 -5,0M271.05,533.52a2.5,2.5 0 1,0 5,0a2.5,2.5 0 1,0 -5,0M271.3,533.6a2.5,2.5 0 1,0 5,0a2.5,2.5 0 1,0 -5,0M271.55,533.05a2.5,2.5 0 1,0 5,0a2.5,2.5 0 1,0 -5,0M271.79,533.13a2.5,2.5 0 1,0 5,0a2.5,2.5 0 1,0 -5,0M272.04,534.05a2.5,2.5 0 1,0 5,0a2.5,2.5 0 1,0 -5,0M272.29,532.67a2.5,2.5 0 1,0 5,0a2.5,2.5 0 1,0 -5,0M272.53,533.17a2.5,2.5 0 1,0 5,0a2.5,2.5 0 1,0 -5,0M272.78,533.35a2.5,2.5 0 1,0 5,0a2.5,2.5 0 1,0 -5,0M273.03,533.85a2.5,2.5 0 1,0 5,0a2.5,2.5 0 1,0 -5,0M273.27,532.85a2.5,2.5 0 1,0 5,0a2.5,2.5 0 1,0 -5,0M273.52,534.54a2.5,2.5 0 1,0 5,0a2.5,2.5 0 1,0 -5,0M273.77,533.57a2.5,2.5 0 1,0 5,0a2.5,2.5 0 1,0 -5,0M274.01,533.6a2.5,2.5 0 1,0 5,0a2.5,2.5 0 1,0 -5,0M274.26,533.53a2.5,2.5 0 1,0 5,0a2.5,2.5 0 1,0 -5,0M274.51,533.31a2.5,2.5 0 1,0 5,0a2.5,2.5 0 1,0 -5,0M274.75,533.09a2.5,2.5 0 1,0 5,0a2.5,2.5 0 1,0 -5,0M275,534.56a2.5,2.5 0 1,0 5,0a2.5,2.5 0 1,0 -5,0M275.25,533.9a2.5,2.5 0 1,0 5,0a2.5,2.5 0 1,0 -5,0M275.5,533.68a2.5,2.5 0 1,0 5,0a2.5,2.5 0 1,0 -5,0M275.74,534.44a2.5,2.5 0 1,0 5,0a2.5,2.5 0 1,0 -5,0M275.99,533.26a2.5,2.5 0 1,0 5,0a2.5,2.5 0 1,0 -5,0M276.24,534.18a2.5,2.5 0 1,0 5,0a2.5,2.5 0 1,0 -5,0M276.48,533.76a2.5,2.5 0 1,0 5,0a2.5,2.5 0 1,0 -5,0M276.73,533.13a2.5,2.5 0 1,0 5,0a2.5,2.5 0 1,0 -5,0M276.98,534.26a2.5,2.5 0 1,0 5,0a2.5,2.5 0 1,0 -5,0M277.22,532.7a2.5,2.5 0 1,0 5,0a2.5,2.5 0 1,0 -5,0M277.47,534.18a2.5,2.5 0 1,0 5,0a2.5,2.5 0 1,0 -5,0M277.72,533.12a2.5,2.5 0 1,0 5,0a2.5,2.5 0 1,0 -5,0M277.96,534.01a2.5,2.5 0 1,0 5,0a2.5,2.5 0 1,0 -5,0M278.21,534.67a2.5,2.5 0 1,0 5,0a2.5,2.5 0 1,0 -5,0M278.46,534.11a2.5,2.5 0 1,0 5,0a2.5,2.5 0 1,0 -5,0M278.7,533.3a2.5,2.5 0 1,0 5,0a2.5,2.5 0 1,0 -5,0M278.95,533.69a2.5,2.5 0 1,0 5,0a2.5,2.5 0 1,0 -5,0M279.2,533.45a2.5,2.5 0 1,0 5,0a2.5,2.5 0 1,0 -5,0M279.44,532.89a2.5,2.5 0 1,0 5,0a2.5,2.5 0 1,0 -5,0M279.69,532.94a2.5,2.5 0 1,0 5,0a2.5,2.5 0 1,0 -5,0M279.94,533.73a2.5,2.5 0 1,0 5,0a2.5,2.5 0 1,0 -5,0M280.18,534.06a2.5,2.5 0 1,0 5,0a2.5,2.5 0 1,0 -5,0M280.43,532.47a2.5,2.5 0 1,0 5,0a2.5,2.5 0 1,0 -5,0M280.68,533.63a2.5,2.5 0 1,0 5,0a2.5,2.5 0 1,0 -5,0M280.92,534.03a2.5,2.5 0 1,0 5,0a2.5,2.5 0 1,0 -5,0M281.17,533.75a2.5,2.5 0 1,0 5,0a2.5,2.5 0 1,0 -5,0M281.42,532.98a2.5,2.5 0 1,0 5,0a2.5,2.5 0 1,0 -5,0M281.66,534.38a2.5,2.5 0 1,0 5,0a2.5,2.5 0 1,0 -5,0M281.91,532.83a2.5,2.5 0 1,0 5,0a2.5,2.5 0 1,0 -5,0M282.16,534.11a2.5,2.5 0 1,0 5,0a2.5,2.5 0 1,0 -5,0M282.4,534.76a2.5,2.5 0 1,0 5,0a2.5,2.5 0 1,0 -5,0M282.65,532.25a2.5,2.5 0 1,0 5,0a2.5,2.5 0 1,0 -5,0M282.9,533.83a2.5,2.5 0 1,0 5,0a2.5,2.5 0 1,0 -5,0M283.14,533.86a2.5,2.5 0 1,0 5,0a2.5,2.5 0 1,0 -5,0M283.39,533.8a2.5,2.5 0 1,0 5,0a2.5,2.5 0 1,0 -5,0M283.64,533.11a2.5,2.5 0 1,0 5,0a2.5,2.5 0 1,0 -5,0M283.88,533.42a2.5,2.5 0 1,0 5,0a2.5,2.5 0 1,0 -5,0M284.13,532.67a2.5,2.5 0 1,0 5,0a2.5,2.5 0 1,0 -5,0M284.38,533.72a2.5,2.5 0 1,0 5,0a2.5,2.5 0 1,0 -5,0M284.62,534a2.5,2.5 0 1,0 5,0a2.5,2.5 0 1,0 -5,0M284.87,533.17a2.5,2.5 0 1,0 5,0a2.5,2.5 0 1,0 -5,0M285.12,532.98a2.5,2.5 0 1,0 5,0a2.5,2.5 0 1,0 -5,0M285.36,533.29a2.5,2.5 0 1,0 5,0a2.5,2.5 0 1,0 -5,0M285.61,533.61a2.5,2.5 0 1,0 5,0a2.5,2.5 0 1,0 -5,0M285.86,533.65a2.5,2.5 0 1,0 5,0a2.5,2.5 0 1,0 -5,0M286.1,533.53a2.5,2.5 0 1,0 5,0a2.5,2.5 0 1,0 -5,0M286.35,533.65a2.5,2.5 0 1,0 5,0a2.5,2.5 0 1,0 -5,0M286.6,532.7a2.5,2.5 0 1,0 5,0a2.5,2.5 0 1,0 -5,0M286.84,531.72a2.5,2.5 0 1,0 5,0a2.5,2.5 0 1,0 -5,0M287.09,534.02a2.5,2.5 0 1,0 5,0a2.5,2.5 0 1,0 -5,0M287.34,534.57a2.5,2.5 0 1,0 5,0a2.5,2.5 0 1,0 -5,0M287.58,532.61a2.5,2.5 0 1,0 5,0a2.5,2.5 0 1,0 -5,0M287.83,533.13a2.5,2.5 0 1,0 5,0a2.5,2.5 0 1,0 -5,0M288.08,533.79a2.5,2.5 0 1,0 5,0a2.5,2.5 0 1,0 -5,0M288.32,534.23a2.5,2.5 0 1,0 5,0a2.5,2.5 0 1,0 -5,0M288.57,534.02a2.5,2.5 0 1,0 5,0a2.5,2.5 0 1,0 -5,0M288.82,534.45a2.5,2.5 0 1,0 5,0a2.5,2.5 0 1,0 -5,0M289.06,533.53a2.5,2.5 0 1,0 5,0a2.5,2.5 0 1,0 -5,0M289.31,533.85a2.5,2.5 0 1,0 5,0a2.5,2.5 0 1,0 -5,0M289.56,533.84a2.5,2.5 0 1,0 5,0a2.5,2.5 0 1,0 -5,0M289.8,533.26a2.5,2.5 0 1,0 5,0a2.5,2.5 0 1,0 -5,0M290.05,534.38a2.5,2.5 0 1,0 5,0a2.5,2.5 0 1,0 -5,0M290.3,533.98a2.5,2.5 0 1,0 5,0a2.5,2.5 0 1,0 -5,0M290.54,534.22a2.5,2.5 0 1,0 5,0a2.5,2.5 0 1,0 -5,0M290.79,533.28a2.5,2.5 0 1,0 5,0a2.5,2.5 0 1,0 -5,0M291.04,534.25a2.5,2.5 0 1,0 5,0a2.5,2.5 0 1,0 -5,0M291.28,532.81a2.5,2.5 0 1,0 5,0a2.5,2.5 0 1,0 -5,0M291.53,533.8a2.5,2.5 0 1,0 5,0a2.5,2.5 0 1,0 -5,0M291.78,531.74a2.5,2.5 0 1,0 5,0a2.5,2.5 0 1,0 -5,0M292.02,532.84a2.5,2.5 0 1,0 5,0a2.5,2.5 0 1,0 -5,0M292.27,534.03a2.5,2.5 0 1,0 5,0a2.5,2.5 0 1,0 -5,0M292.52,533.21a2.5,2.5 0 1,0 5,0a2.5,2.5 0 1,0 -5,0M292.76,533.64a2.5,2.5 0 1,0 5,0a2.5,2.5 0 1,0 -5,0M293.01,532.4a2.5,2.5 0 1,0 5,0a2.5,2.5 0 1,0 -5,0M293.26,534.57a2.5,2.5 0 1,0 5,0a2.5,2.5 0 1,0 -5,0M293.5,533.92a2.5,2.5 0 1,0 5,0a2.5,2.5 0 1,0 -5,0M293.75,533.49a2.5,2.5 0 1,0 5,0a2.5,2.5 0 1,0 -5,0M294,533.79a2.5,2.5 0 1,0 5,0a2.5,2.5 0 1,0 -5,0M294.24,533.72a2.5,2.5 0 1,0 5,0a2.5,2.5 0 1,0 -5,0M294.49,534.47a2.5,2.5 0 1,0 5,0a2.5,2.5 0 1,0 -5,0M294.74,533.64a2.5,2.5 0 1,0 5,0a2.5,2.5 0 1,0 -5,0M294.98,532.48a2.5,2.5 0 1,0 5,0a2.5,2.5 0 1,0 -5,0M295.23,533.31a2.5,2.5 0 1,0 5,0a2.5,2.5 0 1,0 -5,0M295.48,534.36a2.5,2.5 0 1,0 5,0a2.5,2.5 0 1,0 -5,0M295.72,533.87a2.5,2.5 0 1,0 5,0a2.5,2.5 0 1,0 -5,0M295.97,533.19a2.5,2.5 0 1,0 5,0a2.5,2.5 0 1,0 -5,0M296.22,533.89a2.5,2.5 0 1,0 5,0a2.5,2.5 0 1,0 -5,0M296.46,533.55a2.5,2.5 0 1,0 5,0a2.5,2.5 0 1,0 -5,0M296.71,533.89a2.5,2.5 0 1,0 5,0a2.5,2.5 0 1,0 -5,0M296.96,532.38a2.5,2.5 0 1,0 5,0a2.5,2.5 0 1,0 -5,0M297.2,532.85a2.5,2.5 0 1,0 5,0a2.5,2.5 0 1,0 -5,0M297.45,533.91a2.5,2.5 0 1,0 5,0a2.5,2.5 0 1,0 -5,0M297.7,533.3a2.5,2.5 0 1,0 5,0a2.5,2.5 0 1,0 -5,0M297.94,533.69a2.5,2.5 0 1,0 5,0a2.5,2.5 0 1,0 -5,0M298.19,534.79a2.5,2.5 0 1,0 5,0a2.5,2.5 0 1,0 -5,0M298.44,533.23a2.5,2.5 0 1,0 5,0a2.5,2.5 0 1,0 -5,0M298.68,533.61a2.5,2.5 0 1,0 5,0a2.5,2.5 0 1,0 -5,0M298.93,533.06a2.5,2.5 0 1,0 5,0a2.5,2.5 0 1,0 -5,0M299.18,533.01a2.5,2.5 0 1,0 5,0a2.5,2.5 0 1,0 -5,0M299.42,533.38a2.5,2.5 0 1,0 5,0a2.5,2.5 0 1,0 -5,0M299.67,532.44a2.5,2.5 0 1,0 5,0a2.5,2.5 0 1,0 -5,0M299.92,531.99a2.5,2.5 0 1,0 5,0a2.5,2.5 0 1,0 -5,0M300.17,534.36a2.5,2.5 0 1,0 5,0a2.5,2.5 0 1,0 -5,0M300.41,533.35a2.5,2.5 0 1,0 5,0a2.5,2.5 0 1,0 -5,0M300.66,534.19a2.5,2.5 0 1,0 5,0a2.5,2.5 0 1,0 -5,0M300.91,533.5a2.5,2.5 0 1,0 5,0a2.5,2.5 0 1,0 -5,0M301.15,533.51a2.5,2.5 0 1,0 5,0a2.5,2.5 0 1,0 -5,0M301.4,533.87a2.5,2.5 0 1,0 5,0a2.5,2.5 0 1,0 -5,0M301.65,533.9a2.5,2.5 0 1,0 5,0a2.5,2.5 0 1,0 -5,0M301.89,532.58a2.5,2.5 0 1,0 5,0a2.5,2.5 0 1,0 -5,0M302.14,534.23a2.5,2.5 0 1,0 5,0a2.5,2.5 0 1,0 -5,0M302.39,532.73a2.5,2.5 0 1,0 5,0a2.5,2.5 0 1,0 -5,0M302.63,533.53a2.5,2.5 0 1,0 5,0a2.5,2.5 0 1,0 -5,0M302.88,535.14a2.5,2.5 0 1,0 5,0a2.5,2.5 0 1,0 -5,0M303.13,533.44a2.5,2.5 0 1,0 5,0a2.5,2.5 0 1,0 -5,0M303.37,534.52a2.5,2.5 0 1,0 5,0a2.5,2.5 0 1,0 -5,0M303.62,533.14a2.5,2.5 0 1,0 5,0a2.5,2.5 0 1,0 -5,0M303.87,533.8a2.5,2.5 0 1,0 5,0a2.5,2.5 0 1,0 -5,0M304.11,533.41a2.5,2.5 0 1,0 5,0a2.5,2.5 0 1,0 -5,0M304.36,533.66a2.5,2.5 0 1,0 5,0a2.5,2.5 0 1,0 -5,0M304.61,532.78a2.5,2.5 0 1,0 5,0a2.5,2.5 0 1,0 -5,0M304.85,532.74a2.5,2.5 0 1,0 5,0a2.5,2.5 0 1,0 -5,0M305.1,533.59a2.5,2.5 0 1,0 5,0a2.5,2.5 0 1,0 -5,0M305.35,532.29a2.5,2.5 0 1,0 5,0a2.5,2.5 0 1,0 -5,0M305.59,532.78a2.5,2.5 0 1,0 5,0a2.5,2.5 0 1,0 -5,0M305.84,533.79a2.5,2.5 0 1,0 5,0a2.5,2.5 0 1,0 -5,0M306.09,532.93a2.5,2.5 0 1,0 5,0a2.5,2.5 0 1,0 -5,0M306.33,532.74a2.5,2.5 0 1,0 5,0a2.5,2.5 0 1,0 -5,0M306.58,532.59a2.5,2.5 0 1,0 5,0a2.5,2.5 0 1,0 -5,0M306.83,533.44a2.5,2.5 0 1,0 5,0a2.5,2.5 0 1,0 -5,0M307.07,533.09a2.5,2.5 0 1,0 5,0a2.5,2.5 0 1,0 -5,0M307.32,533.44a2.5,2.5 0 1,0 5,0a2.5,2.5 0 1,0 -5,0M307.57,533.2a2.5,2.5 0 1,0 5,0a2.5,2.5 0 1,0 -5,0" fill="#0505f0"/>
<path d="M68.58,411.53a2.0,2.0 0 1,0 4,0a2.0,2.0 0 1,0 -4,0M69.27,419.02a2.0,2.0 0 1,0 4,0a2.0,2.0 0 1,0 -4,0M68.41,414.36a2.0,2.0 0 1,0 4,0a2.0,2.0 0 1,0 -4,0M69.42,406.57a2.0,2.0 0 1,0 4,0a2.0,2.0 0 1,0 -4,0M70.09,429.86a2.0,2.0 0 1,0 4,0a2.0,2.0 0 1,0 -4,0M69.6,416.09a2.0,2.0 0 1,0 4,0a2.0,2.0 0 1,0 -4,0M70.86,411.69a2.0,2.0 0 1,0 4,0a2.0,2.0 0 1,0 -4,0M70.6,419.44a2.0,2.0 0 1,0 4,0a2.0,2.0 0 1,0 -4,0M70.88,405.2a2.0,2.0 0 1,0 4,0a2.0,2.0 0 1,0 -4,0M71.36,410.58a2.0,2.0 0 1,0 4,0a2.0,2.0 0 1,0 -4,0M71.58,404.06a2.0,2.0 0 1,0 4,0a2.0,2.0 0 1,0 -4,0M71.45,407.27a2.0,2.0 0 1,0 4,0a2.0,2.0 0 1,0 -4,0M72.05,404.57a2.0,2.0 0 1,0 4,0a2.0,2.0 0 1,0 -4,0M70.47,412.08a2.0,2.0 0 1,0 4,0a2.0,2.0 0 1,0 -4,0M72.54,412.04a2.0,2.0 0 1,0 4,0a2.0,2.0 0 1,0 -4,0M72.99,417.78a2.0,2.0 0 1,0 4,0a2.0,2.0 0 1,0 -4,0M72.79,406.77a2.0,2.0 0 1,0 4,0a2.0,2.0 0 1,0 -4,0M72.9,407.12a2.0,2.0 0 1,0 4,0a2.0,2.0 0 1,0 -4,0M73.31,412.64a2.0,2.0 0 1,0 4,0a2.0,2.0 0 1,0 -4,0M72.69,427.44a2.0,2.0 0 1,0 4,0a2.0,2.0 0 1,0 -4,0M74.05,405.38a2.0,2.0 0 1,0 4,0a2.0,2.0 0 1,0 -4,0M74.18,413.01a2.0,2.0 0 1,0 4,0a2.0,2.0 0 1,0 -4,0M74.42,434.33a2.0,2.0 0 1,0 4,0a2.0,2.0 0 1,0 -4,0M74.72,416.72a2.0,2.0 0 1,0 4,0a2.0,2.0 0 1,0 -4,0M74.61,406.42a2.0,2.0 0 1,0 4,0a2.0,2.0 0 1,0 -4,0M74.98,411.15a2.0,2.0 0 1,0 4,0a2.0,2.0 0 1,0 -4,0M75.08,411.72a2.0,2.0 0 1,0 4,0a2.0,2.0 0 1,0 -4,0M75.56,414.57a2.0,2.0 0 1,0 4,0a2.0,2.0 0 1,0 -4,0M75.46,420.79a2.0,2.0 0 1,0 4,0a2.0,2.0 0 1,0 -4,0M76.56,409.68a2.0,2.0 0 1,0 4,0a2.0,2.0 0 1,0 -4,0M75.32,430.38a2.0,2.0 0 1,0 4,0a2.0,2.0 0 1,0 -4,0M76.29,433.31a2.0,2.0 0 1,0 4,0a2.0,2.0 0 1,0 -4,0M76.64,411.84a2.0,2.0 0 1,0 4,0a2.0,2.0 0 1,0 -4,0M77.04,411.96a2.0,2.0 0 1,0 4,0a2.0,2.0 0 1,0 -4,0M77.44,413.88a2.0,2.0 0 1,0 4,0a2.0,2.0 0 1,0 -4,0M76.56,401.83a2.0,2.0 0 1,0 4,0a2.0,2.0 0 1,0 -4,0M77.5,405.79a2.0,2.0 0 1,0 4,0a2.0,2.0 0 1,0 -4,0M78.73,409.9a2.0,2.0 0 1,0 4,0a2.0,2.0 0 1,0 -4,0M78.64,410.9a2.0,2.0 0 1,0 4,0a2.0,2.0 0 1,0 -4,0M77.71,424.49a2.0,2.0 0 1,0 4,0a2.0,2.0 0 1,0 -4,0M78.8,399.22a2.0,2.0 0 1,0 4,0a2.0,2.0 0 1,0 -4,0M79.39,422.1a2.0,2.0 0 1,0 4,0a2.0,2.0 0 1,0 -4,0M80.01,420.53a2.0,2.0 0 1,0 4,0a2.0,2.0 0 1,0 -4,0M79.27,431.91a2.0,2.0 0 1,0 4,0a2.0,2.0 0 1,0 -4,0M79.81,412.2a2.0,2.0 0 1,0 4,0a2.0,2.0 0 1,0 -4,0M80.36,427.11a2.0,2.0 0 1,0 4,0a2.0,2.0 0 1,0 -4,0M80.4,416.74a2.0,2.0 0 1,0 4,0a2.0,2.0 0 1,0 -4,0M80.14,422.37a2.0,2.0 0 1,0 4,0a2.0,2.0 0 1,0 -4,0M80.39,414.39a2.0,2.0 0 1,0 4,0a2.0,2.0 0 1,0 -4,0M81.33,417.3a2.0,2.0 0 1,0 4,0a2.0,2.0 0 1,0 -4,0M80.9,409.47a2.0,2.0 0 1,0 4,0a2.0,2.0 0 1,0 -4,0M80.52,423.6a2.0,2.0 0 1,0 4,0a2.0,2.0 0 1,0 -4,0M81.18,412.81a2.0,2.0 0 1,0 4,0a2.0,2.0 0 1,0 -4,0M81.9,420.97a2.0,2.0 0 1,0 4,0a2.0,2.0 0 1,0 -4,0M82.19,410.25a2.0,2.0 0 1,0 4,0a2.0,2.0 0 1,0 -4,0M82.3,414.65a2.0,2.0 0 1,0 4,0a2.0,2.0 0 1,0 -4,0M82.45,411.29a2.0,2.0 0 1,0 4,0a2.0,2.0 0 1,0 -4,0M83.08,418.81a2.0,2.0 0 1,0 4,0a2.0,2.0 0 1,0 -4,0M83.54,407.06a2.0,2.0 0 1,0 4,0a2.0,2.0 0 1,0 -4,0M83.16,410.83a2.0,2.0 0 1,0 4,0a2.0,2.0 0 1,0 -4,0M83.76,411.05a2.0,2.0 0 1,0 4,0a2.0,2.0 0 1,0 -4,0M84.37,440.89a2.0,2.0 0 1,0 4,0a2.0,2.0 0 1,0 -4,0M83.69,423.43a2.0,2.0 0 1,0 4,0a2.0,2.0 0 1,0 -4,0M83.49,424.75a2.0,2.0 0 1,0 4,0a2.0,2.0 0 1,0 -4,0M83.65,432.63a2.0,2.0 0 1,0 4,0a2.0,2.0 0 1,0 -4,0M85.17,414.74a2.0,2.0 0 1,0 4,0a2.0,2.0 0 1,0 -4,0M84.66,414.99a2.0,2.0 0 1,0 4,0a2.0,2.0 0 1,0 -4,0M85.07,427.76a2.0,2.0 0 1,0 4,0a2.0,2.0 0 1,0 -4,0M85.03,421.59a2.0,2.0 0 1,0 4,0a2.0,2.0 0 1,0 -4,0M85.72,408.8a2.0,2.0 0 1,0 4,0a2.0,2.0 0 1,0 -4,0M86.66,414.43a2.0,2.0 0 1,0 4,0a2.0,2.0 0 1,0 -4,0M87.13,407.58a2.0,2.0 0 1,0 4,0a2.0,2.0 0 1,0 -4,0M86.72,416.76a2.0,2.0 0 1,0 4,0a2.0,2.0 0 1,0 -4,0M86.53,407.86a2.0,2.0 0 1,0 4,0a2.0,2.0 0 1,0 -4,0M87.27,410.34a2.0,2.0 0 1,0 4,0a2.0,2.0 0 1,0 -4,0M87.74,416.96a2.0,2.0 0 1,0 4,0a2.0,2.0 0 1,0 -4,0M87.82,408.34a2.0,2.0 0 1,0 4,0a2.0,2.0 0 1,0 -4,0M87.86,423.92a2.0,2.0 0 1,0 4,0a2.0,2.0 0 1,0 -4,0M87.59,409.07a2.0,2.0 0 1,0 4,0a2.0,2.0 0 1,0 -4,0M89,402.25a2.0,2.0 0 1,0 4,0a2.0,2.0 0 1,0 -4,0M88.93,413.22a2.0,2.0 0 1,0 4,0a2.0,2.0 0 1,0 -4,0M89.38,409.81a2.0,2.0 0 1,0 4,0a2.0,2.0 0 1,0 -4,0M88.79,410.56a2.0,2.0 0 1,0 4,0a2.0,2.0 0 1,0 -4,0M88.78,411.33a2.0,2.0 0 1,0 4,0a2.0,2.0 0 1,0 -4,0M90.19,418.45a2.0,2.0 0 1,0 4,0a2.0,2.0 0 1,0 -4,0M89.08,409.41a2.0,2.0 0 1,0 4,0a2.0,2.0 0 1,0 -4,0M90.38,408.26a2.0,2.0 0 1,0 4,0a2.0,2.0 0 1,0 -4,0M90.1,428.81a2.0,2.0 0 1,0 4,0a2.0,2.0 0 1,0 -4,0M90.08,409.02a2.0,2.0 0 1,0 4,0a2.0,2.0 0 1,0 -4,0M90.12,407.77a2.0,2.0 0 1,0 4,0a2.0,2.0 0 1,0 -4,0M91.25,417.25a2.0,2.0 0 1,0 4,0a2.0,2.0 0 1,0 -4,0M91.46,411.77a2.0,2.0 0 1,0 4,0a2.0,2.0 0 1,0 -4,0M92.54,408.8a2.0,2.0 0 1,0 4,0a2.0,2.0 0 1,0 -4,0M91.84,410.75a2.0,2.0 0 1,0 4,0a2.0,2.0 0 1,0 -4,0M91.78,410.24a2.0,2.0 0 1,0 4,0a2.0,2.0 0 1,0 -4,0M92.03,408.88a2.0,2.0 0 1,0 4,0a2.0,2.0 0 1,0 -4,0M92.84,410.89a2.0,2.0 0 1,0 4,0a2.0,2.0 0 1,0 -4,0M92.48,410.58a2.0,2.0 0 1,0 4,0a2.0,2.0 0 1,0 -4,0M92.9,407.49a2.0,2.0 0 1,0 4,0a2.0,2.0 0 1,0 -4,0M92.85,416.48a2.0,2.0 0 1,0 4,0a2.0,2.0 0 1,0 -4,0M93.06,450.7a2.0,2.0 0 1,0 4,0a2.0,2.0 0 1,0 -4,0M93.57,409.1a2.0,2.0 0 1,0 4,0a2.0,2.0 0 1,0 -4,0M93.3,406.89a2.0,2.0 0 1,0 4,0a2.0,2.0 0 1,0 -4,0M93.38,413.3a2.0,2.0 0 1,0 4,0a2.0,2.0 0 1,0 -4,0M95.65,416.22a2.0,2.0 0 1,0 4,0a2.0,2.0 0 1,0 -4,0M94.23,433.88a2.0,2.0 0 1,0 4,0a2.0,2.0 0 1,0 -4,0M94.61,411.59a2.0,2.0 0 1,0 4,0a2.0,2.0 0 1,0 -4,0M95.57,409.8a2.0,2.0 0 1,0 4,0a2.0,2.0 0 1,0 -4,0M94.56,436.08a2.0,2.0 0 1,0 4,0a2.0,2.0 0 1,0 -4,0M95.48,419.74a2.0,2.0 0 1,0 4,0a2.0,2.0 0 1,0 -4,0M94.57,417.85a2.0,2.0 0 1,0 4,0a2.0,2.0 0 1,0 -4,0M97.07,411.24a2.0,2.0 0 1,0 4,0a2.0,2.0 0 1,0 -4,0M95.87,414.07a2.0,2.0 0 1,0 4,0a2.0,2.0 0 1,0 -4,0M96.69,425.73a2.0,2.0 0 1,0 4,0a2.0,2.0 0 1,0 -4,0M96.8,414.22a2.0,2.0 0 1,0 4,0a2.0,2.0 0 1,0 -4,0M96.87,409.38a2.0,2.0 0 1,0 4,0a2.0,2.0 0 1,0 -4,0M97.24,405.51a2.0,2.0 0 1,0 4,0a2.0,2.0 0 1,0 -4,0M97.22,408.11a2.0,2.0 0 1,0 4,0a2.0,2.0 0 1,0 -4,0M98.25,407.88a2.0,2.0 0 1,0 4,0a2.0,2.0 0 1,0 -4,0M98.7,404.32a2.0,2.0 0 1,0 4,0a2.0,2.0 0 1,0 -4,0M99.64,417.82a2.0,2.0 0 1,0 4,0a2.0,2.0 0 1,0 -4,0M98.1,406.12a2.0,2.0 0 1,0 4,0a2.0,2.0 0 1,0 -4,0M98.82,414.55a2.0,2.0 0 1,0 4,0a2.0,2.0 0 1,0 -4,0M98.93,410.64a2.0,2.0 0 1,0 4,0a2.0,2.0 0 1,0 -4,0M98.78,407.73a2.0,2.0 0 1,0 4,0a2.0,2.0 0 1,0 -4,0M100.1,415.03a2.0,2.0 0 1,0 4,0a2.0,2.0 0 1,0 -4,0M99.85,410.82a2.0,2.0 0 1,0 4,0a2.0,2.0 0 1,0 -4,0M99.89,409.71a2.0,2.0 0 1,0 4,0a2.0,2.0 0 1,0 -4,0M100.06,411.25a2.0,2.0 0 1,0 4,0a2.0,2.0 0 1,0 -4,0M99.66,418.92a2.0,2.0 0 1,0 4,0a2.0,2.0 0 1,0 -4,0M100.36,427.96a2.0,2.0 0 1,0 4,0a2.0,2.0 0 1,0 -4,0M101.58,401.92a2.0,2.0 0 1,0 4,0a2.0,2.0 0 1,0 -4,0M101.29,406.11a2.0,2.0 0 1,0 4,0a2.0,2.0 0 1,0 -4,0M101.96,406.92a2.0,2.0 0 1,0 4,0a2.0,2.0 0 1,0 -4,0M102.03,408.39a2.0,2.0 0 1,0 4,0a2.0,2.0 0 1,0 -4,0M101.39,411.6a2.0,2.0 0 1,0 4,0a2.0,2.0 0 1,0 -4,0M101.94,409.99a2.0,2.0 0 1,0 4,0a2.0,2.0 0 1,0 -4,0M102.9,411.85a2.0,2.0 0 1,0 4,0a2.0,2.0 0 1,0 -4,0M102.34,403.79a2.0,2.0 0 1,0 4,0a2.0,2.0 0 1,0 -4,0M102.62,421a2.0,2.0 0 1,0 4,0a2.0,2.0 0 1,0 -4,0M102.95,422.25a2.0,2.0 0 1,0 4,0a2.0,2.0 0 1,0 -4,0M104.33,409.55a2.0,2.0 0 1,0 4,0a2.0,2.0 0 1,0 -4,0M103.15,414.32a2.0,2.0 0 1,0 4,0a2.0,2.0 0 1,0 -4,0M104.23,418.8a2.0,2.0 0 1,0 4,0a2.0,2.0 0 1,0 -4,0M103.97,411.98a2.0,2.0 0 1,0 4,0a2.0,2.0 0 1,0 -4,0M104.48,421.21a2.0,2.0 0 1,0 4,0a2.0,2.0 0 1,0 -4,0M104.85,414.7a2.0,2.0 0 1,0 4,0a2.0,2.0 0 1,0 -4,0M104.86,415.18a2.0,2.0 0 1,0 4,0a2.0,2.0 0 1,0 -4,0M105.3,408.42a2.0,2.0 0 1,0 4,0a2.0,2.0 0 1,0 -4,0M105.78,413.11a2.0,2.0 0 1,0 4,0a2.0,2.0 0 1,0 -4,0M105.8,410.3a2.0,2.0 0 1,0 4,0a2.0,2.0 0 1,0 -4,0M106.18,403.63a2.0,2.0 0 1,0 4,0a2.0,2.0 0 1,0 -4,0M106.28,409.92a2.0,2.0 0 1,0 4,0a2.0,2.0 0 1,0 -4,0M106.74,411.32a2.0,2.0 0 1,0 4,0a2.0,2.0 0 1,0 -4,0M106.8,416.88a2.0,2.0 0 1,0 4,0a2.0,2.0 0 1,0 -4,0M106.6,413.05a2.0,2.0 0 1,0 4,0a2.0,2.0 0 1,0 -4,0M107.75,406.15a2.0,2.0 0 1,0 4,0a2.0,2.0 0 1,0 -4,0M107.21,410.87a2.0,2.0 0 1,0 4,0a2.0,2.0 0 1,0 -4,0M107.27,411.42a2.0,2.0 0 1,0 4,0a2.0,2.0 0 1,0 -4,0M107.77,411.57a2.0,2.0 0 1,0 4,0a2.0,2.0 0 1,0 -4,0M107.9,411.88a2.0,2.0 0 1,0 4,0a2.0,2.0 0 1,0 -4,0M108.72,404.05a2.0,2.0 0 1,0 4,0a2.0,2.0 0 1,0 -4,0M108.36,408.63a2.0,2.0 0 1,0 4,0a2.0,2.0 0 1,0 -4,0M108.88,408.78a2.0,2.0 0 1,0 4,0a2.0,2.0 0 1,0 -4,0M109.81,411.56a2.0,2.0 0 1,0 4,0a2.0,2.0 0 1,0 -4,0M108.76,412.16a2.0,2.0 0 1,0 4,0a2.0,2.0 0 1,0 -4,0M109.92,413.21a2.0,2.0 0 1,0 4,0a2.0,2.0 0 1,0 -4,0M110.19,410.3a2.0,2.0 0 1,0 4,0a2.0,2.0 0 1,0 -4,0M110.1,413.36a2.0,2.0 0 1,0 4,0a2.0,2.0 0 1,0 -4,0M110.56,413.83a2.0,2.0 0 1,0 4,0a2.0,2.0 0 1,0 -4,0M110.82,434.69a2.0,2.0 0 1,0 4,0a2.0,2.0 0 1,0 -4,0M109.99,404.43a2.0,2.0 0 1,0 4,0a2.0,2.0 0 1,0 -4,0M111.55,409.54a2.0,2.0 0 1,0 4,0a2.0,2.0 0 1,0 -4,0M111.44,410.33a2.0,2.0 0 1,0 4,0a2.0,2.0 0 1,0 -4,0M111.24,411.75a2.0,2.0 0 1,0 4,0a2.0,2.0 0 1,0 -4,0M112.28,413.92a2.0,2.0 0 1,0 4,0a2.0,2.0 0 1,0 -4,0M111.93,427.98a2.0,2.0 0 1,0 4,0a2.0,2.0 0 1,0 -4,0M112.45,407.07a2.0,2.0 0 1,0 4,0a2.0,2.0 0 1,0 -4,0M112.69,427.87a2.0,2.0 0 1,0 4,0a2.0,2.0 0 1,0 -4,0M112.42,410.39a2.0,2.0 0 1,0 4,0a2.0,2.0 0 1,0 -4,0M114.28,411.72a2.0,2.0 0 1,0 4,0a2.0,2.0 0 1,0 -4,0M113.37,413.91a2.0,2.0 0 1,0 4,0a2.0,2.0 0 1,0 -4,0M112.83,407.57a2.0,2.0 0 1,0 4,0a2.0,2.0 0 1,0 -4,0M114.03,412.3a2.0,2.0 0 1,0 4,0a2.0,2.0 0 1,0 -4,0M113.7,416.33a2.0,2.0 0 1,0 4,0a2.0,2.0 0 1,0 -4,0M114.14,407.01a2.0,2.0 0 1,0 4,0a2.0,2.0 0 1,0 -4,0M114.8,413.67a2.0,2.0 0 1,0 4,0a2.0,2.0 0 1,0 -4,0M115.09,412.17a2.0,2.0 0 1,0 4,0a2.0,2.0 0 1,0 -4,0M115.35,404.51a2.0,2.0 0 1,0 4,0a2.0,2.0 0 1,0 -4,0M115.58,407.09a2.0,2.0 0 1,0 4,0a2.0,2.0 0 1,0 -4,0M115.48,408.39a2.0,2.0 0 1,0 4,0a2.0,2.0 0 1,0 -4,0M116.15,413.25a2.0,2.0 0 1,0 4,0a2.0,2.0 0 1,0 -4,0M116.27,413.41a2.0,2.0 0 1,0 4,0a2.0,2.0 0 1,0 -4,0M116.44,415.96a2.0,2.0 0 1,0 4,0a2.0,2.0 0 1,0 -4,0M116.64,410.84a2.0,2.0 0 1,0 4,0a2.0,2.0 0 1,0 -4,0M116.14,412.26a2.0,2.0 0 1,0 4,0a2.0,2.0 0 1,0 -4,0M117.46,410.72a2.0,2.0 0 1,0 4,0a2.0,2.0 0 1,0 -4,0M117.39,425.28a2.0,2.0 0 1,0 4,0a2.0,2.0 0 1,0 -4,0M117.69,406.37a2.0,2.0 0 1,0 4,0a2.0,2.0 0 1,0 -4,0M117.71,415.9a2.0,2.0 0 1,0 4,0a2.0,2.0 0 1,0 -4,0M117.65,413.11a2.0,2.0 0 1,0 4,0a2.0,2.0 0 1,0 -4,0M118.36,410.33a2.0,2.0 0 1,0 4,0a2.0,2.0 0 1,0 -4,0M118.57,407.97a2.0,2.0 0 1,0 4,0a2.0,2.0 0 1,0 -4,0M119.12,410.46a2.0,2.0 0 1,0 4,0a2.0,2.0 0 1,0 -4,0M118.57,408.74a2.0,2.0 0 1,0 4,0a2.0,2.0 0 1,0 -4,0M119.07,410.71a2.0,2.0 0 1,0 4,0a2.0,2.0 0 1,0 -4,0M119.75,407.33a2.0,2.0 0 1,0 4,0a2.0,2.0 0 1,0 -4,0M120.09,404.52a2.0,2.0 0 1,0 4,0a2.0,2.0 0 1,0 -4,0M119.72,412.51a2.0,2.0 0 1,0 4,0a2.0,2.0 0 1,0 -4,0M119.82,412.73a2.0,2.0 0 1,0 4,0a2.0,2.0 0 1,0 -4,0M120.96,414.29a2.0,2.0 0 1,0 4,0a2.0,2.0 0 1,0 -4,0M120.29,410.47a2.0,2.0 0 1,0 4,0a2.0,2.0 0 1,0 -4,0M121.71,415.1a2.0,2.0 0 1,0 4,0a2.0,2.0 0 1,0 -4,0M120.52,406.69a2.0,2.0 0 1,0 4,0a2.0,2.0 0 1,0 -4,0M121.95,422.06a2.0,2.0 0 1,0 4,0a2.0,2.0 0 1,0 -4,0M121.61,411.24a2.0,2.0 0 1,0 4,0a2.0,2.0 0 1,0 -4,0M121.12,415.18a2.0,2.0 0 1,0 4,0a2.0,2.0 0 1,0 -4,0M122.51,421.08a2.0,2.0 0 1,0 4,0a2.0,2.0 0 1,0 -4,0M122.89,407.48a2.0,2.0 0 1,0 4,0a2.0,2.0 0 1,0 -4,0M123.11,413.01a2.0,2.0 0 1,0 4,0a2.0,2.0 0 1,0 -4,0M123.36,416.45a2.0,2.0 0 1,0 4,0a2.0,2.0 0 1,0 -4,0M124.17,413.03a2.0,2.0 0 1,0 4,0a2.0,2.0 0 1,0 -4,0M123.63,407.93a2.0,2.0 0 1,0 4,0a2.0,2.0 0 1,0 -4,0M124.23,404.86a2.0,2.0 0 1,0 4,0a2.0,2.0 0 1,0 -4,0M125.36,406.08a2.0,2.0 0 1,0 4,0a2.0,2.0 0 1,0 -4,0M123.27,408.98a2.0,2.0 0 1,0 4,0a2.0,2.0 0 1,0 -4,0M124.36,418.45a2.0,2.0 0 1,0 4,0a2.0,2.0 0 1,0 -4,0M124.65,416.28a2.0,2.0 0 1,0 4,0a2.0,2.0 0 1,0 -4,0M124.99,414.47a2.0,2.0 0 1,0 4,0a2.0,2.0 0 1,0 -4,0M125.68,405.81a2.0,2.0 0 1,0 4,0a2.0,2.0 0 1,0 -4,0M126.03,409.45a2.0,2.0 0 1,0 4,0a2.0,2.0 0 1,0 -4,0M125.27,407.82a2.0,2.0 0 1,0 4,0a2.0,2.0 0 1,0 -4,0M125.72,408.82a2.0,2.0 0 1,0 4,0a2.0,2.0 0 1,0 -4,0M126.58,404.91a2.0,2.0 0 1,0 4,0a2.0,2.0 0 1,0 -4,0M127.28,406.59a2.0,2.0 0 1,0 4,0a2.0,2.0 0 1,0 -4,0M126.05,422.97a2.0,2.0 0 1,0 4,0a2.0,2.0 0 1,0 -4,0M127.32,415.09a2.0,2.0 0 1,0 4,0a2.0,2.0 0 1,0 -4,0M127.5,406.86a2.0,2.0 0 1,0 4,0a2.0,2.0 0 1,0 -4,0M127.18,423.46a2.0,2.0 0 1,0 4,0a2.0,2.0 0 1,0 -4,0M128.5,414.1a2.0,2.0 0 1,0 4,0a2.0,2.0 0 1,0 -4,0M127.49,409.48a2.0,2.0 0 1,0 4,0a2.0,2.0 0 1,0 -4,0M128.15,409.25a2.0,2.0 0 1,0 4,0a2.0,2.0 0 1,0 -4,0M129.36,426.21a2.0,2.0 0 1,0 4,0a2.0,2.0 0 1,0 -4,0M128.93,412.68a2.0,2.0 0 1,0 4,0a2.0,2.0 0 1,0 -4,0M128.38,410.68a2.0,2.0 0 1,0 4,0a2.0,2.0 0 1,0 -4,0M129.23,407a2.0,2.0 0 1,0 4,0a2.0,2.0 0 1,0 -4,0M129.3,411.81a2.0,2.0 0 1,0 4,0a2.0,2.0 0 1,0 -4,0M129.67,404.8a2.0,2.0 0 1,0 4,0a2.0,2.0 0 1,0 -4,0M130.47,415.56a2.0,2.0 0 1,0 4,0a2.0,2.0 0 1,0 -4,0M129.87,413.56a2.0,2.0 0 1,0 4,0a2.0,2.0 0 1,0 -4,0M130.63,420.63a2.0,2.0 0 1,0 4,0a2.0,2.0 0 1,0 -4,0M130.57,413.62a2.0,2.0 0 1,0 4,0a2.0,2.0 0 1,0 -4,0M131.37,408.21a2.0,2.0 0 1,0 4,0a2.0,2.0 0 1,0 -4,0M130.38,408.16a2.0,2.0 0 1,0 4,0a2.0,2.0 0 1,0 -4,0M131.53,411.19a2.0,2.0 0 1,0 4,0a2.0,2.0 0 1,0 -4,0M132.46,428.97a2.0,2.0 0 1,0 4,0a2.0,2.0 0 1,0 -4,0M132.33,429.04a2.0,2.0 0 1,0 4,0a2.0,2.0 0 1,0 -4,0M132.38,431.36a2.0,2.0 0 1,0 4,0a2.0,2.0 0 1,0 -4,0M132.42,431.2a2.0,2.0 0 1,0 4,0a2.0,2.0 0 1,0 -4,0M133.17,409.78a2.0,2.0 0 1,0 4,0a2.0,2.0 0 1,0 -4,0M133.22,410.95a2.0,2.0 0 1,0 4,0a2.0,2.0 0 1,0 -4,0M133.14,409.95a2.0,2.0 0 1,0 4,0a2.0,2.0 0 1,0 -4,0M133.06,413.34a2.0,2.0 0 1,0 4,0a2.0,2.0 0 1,0 -4,0M133.03,414.42a2.0,2.0 0 1,0 4,0a2.0,2.0 0 1,0 -4,0M134.39,412.26a2.0,2.0 0 1,0 4,0a2.0,2.0 0 1,0 -4,0M133.33,419.33a2.0,2.0 0 1,0 4,0a2.0,2.0 0 1,0 -4,0M133.57,409.26a2.0,2.0 0 1,0 4,0a2.0,2.0 0 1,0 -4,0M134.97,408.17a2.0,2.0 0 1,0 4,0a2.0,2.0 0 1,0 -4,0M134.89,421.76a2.0,2.0 0 1,0 4,0a2.0,2.0 0 1,0 -4,0M136.01,407.64a2.0,2.0 0 1,0 4,0a2.0,2.0 0 1,0 -4,0M135.58,408.79a2.0,2.0 0 1,0 4,0a2.0,2.0 0 1,0 -4,0M135.76,433.02a2.0,2.0 0 1,0 4,0a2.0,2.0 0 1,0 -4,0M135.22,412.77a2.0,2.0 0 1,0 4,0a2.0,2.0 0 1,0 -4,0M136.49,415.08a2.0,2.0 0 1,0 4,0a2.0,2.0 0 1,0 -4,0M135.85,403.1a2.0,2.0 0 1,0 4,0a2.0,2.0 0 1,0 -4,0M136.15,415.66a2.0,2.0 0 1,0 4,0a2.0,2.0 0 1,0 -4,0M136.54,409.51a2.0,2.0 0 1,0 4,0a2.0,2.0 0 1,0 -4,0M136.81,409.32a2.0,2.0 0 1,0 4,0a2.0,2.0 0 1,0 -4,0M137.36,411.58a2.0,2.0 0 1,0 4,0a2.0,2.0 0 1,0 -4,0M137.6,410.32a2.0,2.0 0 1,0 4,0a2.0,2.0 0 1,0 -4,0M137.56,408.02a2.0,2.0 0 1,0 4,0a2.0,2.0 0 1,0 -4,0M138.39,418.2a2.0,2.0 0 1,0 4,0a2.0,2.0 0 1,0 -4,0M138.4,405.2a2.0,2.0 0 1,0 4,0a2.0,2.0 0 1,0 -4,0M138.86,413.03a2.0,2.0 0 1,0 4,0a2.0,2.0 0 1,0 -4,0M139.71,410.44a2.0,2.0 0 1,0 4,0a2.0,2.0 0 1,0 -4,0M139.39,409.92a2.0,2.0 0 1,0 4,0a2.0,2.0 0 1,0 -4,0M138.9,410.75a2.0,2.0 0 1,0 4,0a2.0,2.0 0 1,0 -4,0M139.35,416.14a2.0,2.0 0 1,0 4,0a2.0,2.0 0 1,0 -4,0M139.42,407.92a2.0,2.0 0 1,0 4,0a2.0,2.0 0 1,0 -4,0M139.79,407.86a2.0,2.0 0 1,0 4,0a2.0,2.0 0 1,0 -4,0M140.78,406.82a2.0,2.0 0 1,0 4,0a2.0,2.0 0 1,0 -4,0M140.81,410.21a2.0,2.0 0 1,0 4,0a2.0,2.0 0 1,0 -4,0M141.01,409.86a2.0,2.0 0 1,0 4,0a2.0,2.0 0 1,0 -4,0M141.3,412.91a2.0,2.0 0 1,0 4,0a2.0,2.0 0 1,0 -4,0M141.13,412.63a2.0,2.0 0 1,0 4,0a2.0,2.0 0 1,0 -4,0M141.48,415.99a2.0,2.0 0 1,0 4,0a2.0,2.0 0 1,0 -4,0M141.79,418.45a2.0,2.0 0 1,0 4,0a2.0,2.0 0 1,0 -4,0M141.61,425.47a2.0,2.0 0 1,0 4,0a2.0,2.0 0 1,0 -4,0M142.61,412.23a2.0,2.0 0 1,0 4,0a2.0,2.0 0 1,0 -4,0M142.26,412.91a2.0,2.0 0 1,0 4,0a2.0,2.0 0 1,0 -4,0M142.01,418.8a2.0,2.0 0 1,0 4,0a2.0,2.0 0 1,0 -4,0M142.92,409.87a2.0,2.0 0 1,0 4,0a2.0,2.0 0 1,0 -4,0M142.88,411.24a2.0,2.0 0 1,0 4,0a2.0,2.0 0 1,0 -4,0M143.73,421.74a2.0,2.0 0 1,0 4,0a2.0,2.0 0 1,0 -4,0M144.08,409.1a2.0,2.0 0 1,0 4,0a2.0,2.0 0 1,0 -4,0M143.86,431.17a2.0,2.0 0 1,0 4,0a2.0,2.0 0 1,0 -4,0M144.62,410.33a2.0,2.0 0 1,0 4,0a2.0,2.0 0 1,0 -4,0M144.97,408.56a2.0,2.0 0 1,0 4,0a2.0,2.0 0 1,0 -4,0M144.67,411.68a2.0,2.0 0 1,0 4,0a2.0,2.0 0 1,0 -4,0M145.26,405.31a2.0,2.0 0 1,0 4,0a2.0,2.0 0 1,0 -4,0M145.09,422.9a2.0,2.0 0 1,0 4,0a2.0,2.0 0 1,0 -4,0M145.4,407.75a2.0,2.0 0 1,0 4,0a2.0,2.0 0 1,0 -4,0M145.73,410.76a2.0,2.0 0 1,0 4,0a2.0,2.0 0 1,0 -4,0M145.34,427.64a2.0,2.0 0 1,0 4,0a2.0,2.0 0 1,0 -4,0M146.48,412.29a2.0,2.0 0 1,0 4,0a2.0,2.0 0 1,0 -4,0M146.54,446.87a2.0,2.0 0 1,0 4,0a2.0,2.0 0 1,0 -4,0M146.41,414.7a2.0,2.0 0 1,0 4,0a2.0,2.0 0 1,0 -4,0M147.1,412.56a2.0,2.0 0 1,0 4,0a2.0,2.0 0 1,0 -4,0M147.72,414.52a2.0,2.0 0 1,0 4,0a2.0,2.0 0 1,0 -4,0M146.64,416.5a2.0,2.0 0 1,0 4,0a2.0,2.0 0 1,0 -4,0M147.97,414.49a2.0,2.0 0 1,0 4,0a2.0,2.0 0 1,0 -4,0M148.33,410.34a2.0,2.0 0 1,0 4,0a2.0,2.0 0 1,0 -4,0M148.23,425.77a2.0,2.0 0 1,0 4,0a2.0,2.0 0 1,0 -4,0M148.26,419.42a2.0,2.0 0 1,0 4,0a2.0,2.0 0 1,0 -4,0M148.85,413.67a2.0,2.0 0 1,0 4,0a2.0,2.0 0 1,0 -4,0M148.69,430.73a2.0,2.0 0 1,0 4,0a2.0,2.0 0 1,0 -4,0M149.56,409.51a2.0,2.0 0 1,0 4,0a2.0,2.0 0 1,0 -4,0M149.79,409.15a2.0,2.0 0 1,0 4,0a2.0,2.0 0 1,0 -4,0M149.76,419.19a2.0,2.0 0 1,0 4,0a2.0,2.0 0 1,0 -4,0M150.34,411.62a2.0,2.0 0 1,0 4,0a2.0,2.0 0 1,0 -4,0M150.23,412.27a2.0,2.0 0 1,0 4,0a2.0,2.0 0 1,0 -4,0M150.22,423.06a2.0,2.0 0 1,0 4,0a2.0,2.0 0 1,0 -4,0M150.63,406.86a2.0,2.0 0 1,0 4,0a2.0,2.0 0 1,0 -4,0M151.18,423.96a2.0,2.0 0 1,0 4,0a2.0,2.0 0 1,0 -4,0M150.45,414.91a2.0,2.0 0 1,0 4,0a2.0,2.0 0 1,0 -4,0M150.88,424.7a2.0,2.0 0 1,0 4,0a2.0,2.0 0 1,0 -4,0M151.26,416.34a2.0,2.0 0 1,0 4,0a2.0,2.0 0 1,0 -4,0M151.83,412.93a2.0,2.0 0 1,0 4,0a2.0,2.0 0 1,0 -4,0M152.69,409.34a2.0,2.0 0 1,0 4,0a2.0,2.0 0 1,0 -4,0M152.86,415.99a2.0,2.0 0 1,0 4,0a2.0,2.0 0 1,0 -4,0M153.51,410.68a2.0,2.0 0 1,0 4,0a2.0,2.0 0 1,0 -4,0M152.63,410.55a2.0,2.0 0 1,0 4,0a2.0,2.0 0 1,0 -4,0M153.7,409.68a2.0,2.0 0 1,0 4,0a2.0,2.0 0 1,0 -4,0M153.39,409.07a2.0,2.0 0 1,0 4,0a2.0,2.0 0 1,0 -4,0M153.16,410.4a2.0,2.0 0 1,0 4,0a2.0,2.0 0 1,0 -4,0M153.53,415.04a2.0,2.0 0 1,0 4,0a2.0,2.0 0 1,0 -4,0M154.4,402a2.0,2.0 0 1,0 4,0a2.0,2.0 0 1,0 -4,0M153.96,422.28a2.0,2.0 0 1,0 4,0a2.0,2.0 0 1,0 -4,0M153.74,405.85a2.0,2.0 0 1,0 4,0a2.0,2.0 0 1,0 -4,0M155.4,416.54a2.0,2.0 0 1,0 4,0a2.0,2.0 0 1,0 -4,0M154.89,409.01a2.0,2.0 0 1,0 4,0a2.0,2.0 0 1,0 -4,0M155,413.74a2.0,2.0 0 1,0 4,0a2.0,2.0 0 1,0 -4,0M155.56,425.28a2.0,2.0 0 1,0 4,0a2.0,2.0 0 1,0 -4,0M155.51,408.9a2.0,2.0 0 1,0 4,0a2.0,2.0 0 1,0 -4,0M155.66,405.68a2.0,2.0 0 1,0 4,0a2.0,2.0 0 1,0 -4,0M156.95,415.49a2.0,2.0 0 1,0 4,0a2.0,2.0 0 1,0 -4,0M156.01,415.35a2.0,2.0 0 1,0 4,0a2.0,2.0 0 1,0 -4,0M156.77,429.94a2.0,2.0 0 1,0 4,0a2.0,2.0 0 1,0 -4,0M156.77,407.36a2.0,2.0 0 1,0 4,0a2.0,2.0 0 1,0 -4,0M157.18,417.21a2.0,2.0 0 1,0 4,0a2.0,2.0 0 1,0 -4,0M157.56,415.26a2.0,2.0 0 1,0 4,0a2.0,2.0 0 1,0 -4,0M158.47,409.65a2.0,2.0 0 1,0 4,0a2.0,2.0 0 1,0 -4,0M157.9,410.5a2.0,2.0 0 1,0 4,0a2.0,2.0 0 1,0 -4,0M158.76,403.68a2.0,2.0 0 1,0 4,0a2.0,2.0 0 1,0 -4,0M158.1,406.96a2.0,2.0 0 1,0 4,0a2.0,2.0 0 1,0 -4,0M158.23,410.85a2.0,2.0 0 1,0 4,0a2.0,2.0 0 1,0 -4,0M158.97,413.34a2.0,2.0 0 1,0 4,0a2.0,2.0 0 1,0 -4,0M159.29,413.47a2.0,2.0 0 1,0 4,0a2.0,2.0 0 1,0 -4,0M158.78,411.77a2.0,2.0 0 1,0 4,0a2.0,2.0 0 1,0 -4,0M159.14,409.8a2.0,2.0 0 1,0 4,0a2.0,2.0 0 1,0 -4,0M159.58,412.98a2.0,2.0 0 1,0 4,0a2.0,2.0 0 1,0 -4,0M159.87,414.59a2.0,2.0 0 1,0 4,0a2.0,2.0 0 1,0 -4,0M160.48,414.61a2.0,2.0 0 1,0 4,0a2.0,2.0 0 1,0 -4,0M160.95,417.15a2.0,2.0 0 1,0 4,0a2.0,2.0 0 1,0 -4,0M160.13,411.22a2.0,2.0 0 1,0 4,0a2.0,2.0 0 1,0 -4,0M160.73,403.6a2.0,2.0 0 1,0 4,0a2.0,2.0 0 1,0 -4,0M161.52,406.21a2.0,2.0 0 1,0 4,0a2.0,2.0 0 1,0 -4,0M162.24,412.07a2.0,2.0 0 1,0 4,0a2.0,2.0 0 1,0 -4,0M161.75,406.86a2.0,2.0 0 1,0 4,0a2.0,2.0 0 1,0 -4,0M162.47,415.31a2.0,2.0 0 1,0 4,0a2.0,2.0 0 1,0 -4,0M162.91,414.04a2.0,2.0 0 1,0 4,0a2.0,2.0 0 1,0 -4,0M163.31,408.65a2.0,2.0 0 1,0 4,0a2.0,2.0 0 1,0 -4,0M163.13,410.05a2.0,2.0 0 1,0 4,0a2.0,2.0 0 1,0 -4,0M162.72,407.47a2.0,2.0 0 1,0 4,0a2.0,2.0 0 1,0 -4,0M163.43,417.61a2.0,2.0 0 1,0 4,0a2.0,2.0 0 1,0 -4,0M163.49,409.56a2.0,2.0 0 1,0 4,0a2.0,2.0 0 1,0 -4,0M163.96,412.23a2.0,2.0 0 1,0 4,0a2.0,2.0 0 1,0 -4,0M164.57,410.77a2.0,2.0 0 1,0 4,0a2.0,2.0 0 1,0 -4,0M164.32,412.32a2.0,2.0 0 1,0 4,0a2.0,2.0 0 1,0 -4,0M165.02,409.44a2.0,2.0 0 1,0 4,0a2.0,2.0 0 1,0 -4,0M165.66,415.48a2.0,2.0 0 1,0 4,0a2.0,2.0 0 1,0 -4,0M165.47,411.11a2.0,2.0 0 1,0 4,0a2.0,2.0 0 1,0 -4,0M166.02,417.95a2.0,2.0 0 1,0 4,0a2.0,2.0 0 1,0 -4,0M165.93,415.44a2.0,2.0 0 1,0 4,0a2.0,2.0 0 1,0 -4,0M166.32,417.13a2.0,2.0 0 1,0 4,0a2.0,2.0 0 1,0 -4,0M166.79,406.35a2.0,2.0 0 1,0 4,0a2.0,2.0 0 1,0 -4,0M166.05,406.71a2.0,2.0 0 1,0 4,0a2.0,2.0 0 1,0 -4,0M166.89,424.11a2.0,2.0 0 1,0 4,0a2.0,2.0 0 1,0 -4,0M167.07,424.86a2.0,2.0 0 1,0 4,0a2.0,2.0 0 1,0 -4,0M166.83,412.34a2.0,2.0 0 1,0 4,0a2.0,2.0 0 1,0 -4,0M167.58,408.87a2.0,2.0 0 1,0 4,0a2.0,2.0 0 1,0 -4,0M168.01,415.6a2.0,2.0 0 1,0 4,0a2.0,2.0 0 1,0 -4,0M167.46,416.32a2.0,2.0 0 1,0 4,0a2.0,2.0 0 1,0 -4,0M168.07,413.41a2.0,2.0 0 1,0 4,0a2.0,2.0 0 1,0 -4,0M168.36,415.6a2.0,2.0 0 1,0 4,0a2.0,2.0 0 1,0 -4,0M168.07,410.16a2.0,2.0 0 1,0 4,0a2.0,2.0 0 1,0 -4,0M168.71,410.19a2.0,2.0 0 1,0 4,0a2.0,2.0 0 1,0 -4,0M169.08,408.24a2.0,2.0 0 1,0 4,0a2.0,2.0 0 1,0 -4,0M168.82,405.61a2.0,2.0 0 1,0 4,0a2.0,2.0 0 1,0 -4,0M170.17,428.54a2.0,2.0 0 1,0 4,0a2.0,2.0 0 1,0 -4,0M169.95,440.09a2.0,2.0 0 1,0 4,0a2.0,2.0 0 1,0 -4,0M170.36,425.11a2.0,2.0 0 1,0 4,0a2.0,2.0 0 1,0 -4,0M169.98,420.92a2.0,2.0 0 1,0 4,0a2.0,2.0 0 1,0 -4,0M170.84,427.64a2.0,2.0 0 1,0 4,0a2.0,2.0 0 1,0 -4,0M170.25,410.89a2.0,2.0 0 1,0 4,0a2.0,2.0 0 1,0 -4,0M170.69,411.15a2.0,2.0 0 1,0 4,0a2.0,2.0 0 1,0 -4,0M171.28,405.98a2.0,2.0 0 1,0 4,0a2.0,2.0 0 1,0 -4,0M171.68,423.33a2.0,2.0 0 1,0 4,0a2.0,2.0 0 1,0 -4,0M171.83,404.73a2.0,2.0 0 1,0 4,0a2.0,2.0 0 1,0 -4,0M172.02,408.13a2.0,2.0 0 1,0 4,0a2.0,2.0 0 1,0 -4,0M172.24,411.12a2.0,2.0 0 1,0 4,0a2.0,2.0 0 1,0 -4,0M172.55,419.78a2.0,2.0 0 1,0 4,0a2.0,2.0 0 1,0 -4,0M173.53,409.24a2.0,2.0 0 1,0 4,0a2.0,2.0 0 1,0 -4,0M173.46,412.45a2.0,2.0 0 1,0 4,0a2.0,2.0 0 1,0 -4,0M173.63,420.79a2.0,2.0 0 1,0 4,0a2.0,2.0 0 1,0 -4,0M173.94,413.99a2.0,2.0 0 1,0 4,0a2.0,2.0 0 1,0 -4,0M174.17,416.55a2.0,2.0 0 1,0 4,0a2.0,2.0 0 1,0 -4,0M173.99,412.52a2.0,2.0 0 1,0 4,0a2.0,2.0 0 1,0 -4,0M173.88,412.4a2.0,2.0 0 1,0 4,0a2.0,2.0 0 1,0 -4,0M174.75,429.34a2.0,2.0 0 1,0 4,0a2.0,2.0 0 1,0 -4,0M174.69,410.22a2.0,2.0 0 1,0 4,0a2.0,2.0 0 1,0 -4,0M174.86,416.13a2.0,2.0 0 1,0 4,0a2.0,2.0 0 1,0 -4,0M174.91,412.21a2.0,2.0 0 1,0 4,0a2.0,2.0 0 1,0 -4,0M175.06,407a2.0,2.0 0 1,0 4,0a2.0,2.0 0 1,0 -4,0M176.14,407.88a2.0,2.0 0 1,0 4,0a2.0,2.0 0 1,0 -4,0M175.72,412.33a2.0,2.0 0 1,0 4,0a2.0,2.0 0 1,0 -4,0M176.47,426.43a2.0,2.0 0 1,0 4,0a2.0,2.0 0 1,0 -4,0M177.57,409.01a2.0,2.0 0 1,0 4,0a2.0,2.0 0 1,0 -4,0M176.95,412.82a2.0,2.0 0 1,0 4,0a2.0,2.0 0 1,0 -4,0M176.71,412a2.0,2.0 0 1,0 4,0a2.0,2.0 0 1,0 -4,0M177.24,413.2a2.0,2.0 0 1,0 4,0a2.0,2.0 0 1,0 -4,0M177.14,427.2a2.0,2.0 0 1,0 4,0a2.0,2.0 0 1,0 -4,0M178.15,409.22a2.0,2.0 0 1,0 4,0a2.0,2.0 0 1,0 -4,0M178.48,415.87a2.0,2.0 0 1,0 4,0a2.0,2.0 0 1,0 -4,0M178.02,409.51a2.0,2.0 0 1,0 4,0a2.0,2.0 0 1,0 -4,0M178.81,418.02a2.0,2.0 0 1,0 4,0a2.0,2.0 0 1,0 -4,0M177.81,409.48a2.0,2.0 0 1,0 4,0a2.0,2.0 0 1,0 -4,0M179.18,429.77a2.0,2.0 0 1,0 4,0a2.0,2.0 0 1,0 -4,0M179.43,427.31a2.0,2.0 0 1,0 4,0a2.0,2.0 0 1,0 -4,0M178.98,407.55a2.0,2.0 0 1,0 4,0a2.0,2.0 0 1,0 -4,0M180.34,444.42a2.0,2.0 0 1,0 4,0a2.0,2.0 0 1,0 -4,0M181.39,419.93a2.0,2.0 0 1,0 4,0a2.0,2.0 0 1,0 -4,0M180.46,426.34a2.0,2.0 0 1,0 4,0a2.0,2.0 0 1,0 -4,0M180.37,413.53a2.0,2.0 0 1,0 4,0a2.0,2.0 0 1,0 -4,0M180.61,404.06a2.0,2.0 0 1,0 4,0a2.0,2.0 0 1,0 -4,0M180.17,425.22a2.0,2.0 0 1,0 4,0a2.0,2.0 0 1,0 -4,0M181.12,435.15a2.0,2.0 0 1,0 4,0a2.0,2.0 0 1,0 -4,0M180.78,412.25a2.0,2.0 0 1,0 4,0a2.0,2.0 0 1,0 -4,0M181.94,439.5a2.0,2.0 0 1,0 4,0a2.0,2.0 0 1,0 -4,0M181.58,409.15a2.0,2.0 0 1,0 4,0a2.0,2.0 0 1,0 -4,0M181.79,412.24a2.0,2.0 0 1,0 4,0a2.0,2.0 0 1,0 -4,0M182.6,412.18a2.0,2.0 0 1,0 4,0a2.0,2.0 0 1,0 -4,0M182.51,411.54a2.0,2.0 0 1,0 4,0a2.0,2.0 0 1,0 -4,0M182.89,417.98a2.0,2.0 0 1,0 4,0a2.0,2.0 0 1,0 -4,0M182.96,409.29a2.0,2.0 0 1,0 4,0a2.0,2.0 0 1,0 -4,0M183.3,405.57a2.0,2.0 0 1,0 4,0a2.0,2.0 0 1,0 -4,0M182.76,415.89a2.0,2.0 0 1,0 4,0a2.0,2.0 0 1,0 -4,0M183.22,409.59a2.0,2.0 0 1,0 4,0a2.0,2.0 0 1,0 -4,0M184.18,427.95a2.0,2.0 0 1,0 4,0a2.0,2.0 0 1,0 -4,0M184.04,413.3a2.0,2.0 0 1,0 4,0a2.0,2.0 0 1,0 -4,0M185.05,409.35a2.0,2.0 0 1,0 4,0a2.0,2.0 0 1,0 -4,0M185.12,409.95a2.0,2.0 0 1,0 4,0a2.0,2.0 0 1,0 -4,0M184.47,411.19a2.0,2.0 0 1,0 4,0a2.0,2.0 0 1,0 -4,0M185.4,418.75a2.0,2.0 0 1,0 4,0a2.0,2.0 0 1,0 -4,0M185.94,413.62a2.0,2.0 0 1,0 4,0a2.0,2.0 0 1,0 -4,0M186.02,413.39a2.0,2.0 0 1,0 4,0a2.0,2.0 0 1,0 -4,0M185.76,408.46a2.0,2.0 0 1,0 4,0a2.0,2.0 0 1,0 -4,0M187.01,421.22a2.0,2.0 0 1,0 4,0a2.0,2.0 0 1,0 -4,0M185.69,405.67a2.0,2.0 0 1,0 4,0a2.0,2.0 0 1,0 -4,0M186.62,411.46a2.0,2.0 0 1,0 4,0a2.0,2.0 0 1,0 -4,0M186.17,410.5a2.0,2.0 0 1,0 4,0a2.0,2.0 0 1,0 -4,0M187,413.34a2.0,2.0 0 1,0 4,0a2.0,2.0 0 1,0 -4,0M187.36,413.52a2.0,2.0 0 1,0 4,0a2.0,2.0 0 1,0 -4,0M188.07,409.85a2.0,2.0 0 1,0 4,0a2.0,2.0 0 1,0 -4,0M188.2,402.51a2.0,2.0 0 1,0 4,0a2.0,2.0 0 1,0 -4,0M187.83,407.49a2.0,2.0 0 1,0 4,0a2.0,2.0 0 1,0 -4,0M189.09,406.35a2.0,2.0 0 1,0 4,0a2.0,2.0 0 1,0 -4,0M188.74,411.51a2.0,2.0 0 1,0 4,0a2.0,2.0 0 1,0 -4,0M190.02,410.93a2.0,2.0 0 1,0 4,0a2.0,2.0 0 1,0 -4,0M189.68,412.39a2.0,2.0 0 1,0 4,0a2.0,2.0 0 1,0 -4,0M189.17,417.48a2.0,2.0 0 1,0 4,0a2.0,2.0 0 1,0 -4,0M190.58,412.15a2.0,2.0 0 1,0 4,0a2.0,2.0 0 1,0 -4,0M190.15,417.35a2.0,2.0 0 1,0 4,0a2.0,2.0 0 1,0 -4,0M190.5,417.06a2.0,2.0 0 1,0 4,0a2.0,2.0 0 1,0 -4,0M190.43,414.72a2.0,2.0 0 1,0 4,0a2.0,2.0 0 1,0 -4,0M191.38,411.67a2.0,2.0 0 1,0 4,0a2.0,2.0 0 1,0 -4,0M191.63,410.41a2.0,2.0 0 1,0 4,0a2.0,2.0 0 1,0 -4,0M192.29,410.13a2.0,2.0 0 1,0 4,0a2.0,2.0 0 1,0 -4,0M191.47,407.67a2.0,2.0 0 1,0 4,0a2.0,2.0 0 1,0 -4,0M192.54,407.33a2.0,2.0 0 1,0 4,0a2.0,2.0 0 1,0 -4,0M191.93,406.66a2.0,2.0 0 1,0 4,0a2.0,2.0 0 1,0 -4,0M191.95,414.74a2.0,2.0 0 1,0 4,0a2.0,2.0 0 1,0 -4,0M192.83,415.75a2.0,2.0 0 1,0 4,0a2.0,2.0 0 1,0 -4,0M193.39,415.04a2.0,2.0 0 1,0 4,0a2.0,2.0 0 1,0 -4,0M193.37,416.71a2.0,2.0 0 1,0 4,0a2.0,2.0 0 1,0 -4,0M193.3,423.92a2.0,2.0 0 1,0 4,0a2.0,2.0 0 1,0 -4,0M193.84,407.36a2.0,2.0 0 1,0 4,0a2.0,2.0 0 1,0 -4,0M194.17,424.77a2.0,2.0 0 1,0 4,0a2.0,2.0 0 1,0 -4,0M194.1,407.8a2.0,2.0 0 1,0 4,0a2.0,2.0 0 1,0 -4,0M193.63,410.1a2.0,2.0 0 1,0 4,0a2.0,2.0 0 1,0 -4,0M194.85,415.55a2.0,2.0 0 1,0 4,0a2.0,2.0 0 1,0 -4,0M195.16,417.73a2.0,2.0 0 1,0 4,0a2.0,2.0 0 1,0 -4,0M195.93,415.82a2.0,2.0 0 1,0 4,0a2.0,2.0 0 1,0 -4,0M195.7,412.86a2.0,2.0 0 1,0 4,0a2.0,2.0 0 1,0 -4,0M195.08,407.98a2.0,2.0 0 1,0 4,0a2.0,2.0 0 1,0 -4,0M195.63,410.74a2.0,2.0 0 1,0 4,0a2.0,2.0 0 1,0 -4,0M196.34,412.69a2.0,2.0 0 1,0 4,0a2.0,2.0 0 1,0 -4,0M195.4,415.35a2.0,2.0 0 1,0 4,0a2.0,2.0 0 1,0 -4,0M196.56,419.6a2.0,2.0 0 1,0 4,0a2.0,2.0 0 1,0 -4,0M196.82,423.04a2.0,2.0 0 1,0 4,0a2.0,2.0 0 1,0 -4,0M197.18,406.18a2.0,2.0 0 1,0 4,0a2.0,2.0 0 1,0 -4,0M197.09,420.06a2.0,2.0 0 1,0 4,0a2.0,2.0 0 1,0 -4,0M196.93,412.93a2.0,2.0 0 1,0 4,0a2.0,2.0 0 1,0 -4,0M196.84,415.06a2.0,2.0 0 1,0 4,0a2.0,2.0 0 1,0 -4,0M198.74,412.92a2.0,2.0 0 1,0 4,0a2.0,2.0 0 1,0 -4,0M198,411.93a2.0,2.0 0 1,0 4,0a2.0,2.0 0 1,0 -4,0M198.49,414.91a2.0,2.0 0 1,0 4,0a2.0,2.0 0 1,0 -4,0M198.6,421.47a2.0,2.0 0 1,0 4,0a2.0,2.0 0 1,0 -4,0M197.85,416.31a2.0,2.0 0 1,0 4,0a2.0,2.0 0 1,0 -4,0M198.56,409.17a2.0,2.0 0 1,0 4,0a2.0,2.0 0 1,0 -4,0M199.12,413.12a2.0,2.0 0 1,0 4,0a2.0,2.0 0 1,0 -4,0M199.71,421.47a2.0,2.0 0 1,0 4,0a2.0,2.0 0 1,0 -4,0M199.26,414.97a2.0,2.0 0 1,0 4,0a2.0,2.0 0 1,0 -4,0M199.65,419.29a2.0,2.0 0 1,0 4,0a2.0,2.0 0 1,0 -4,0M200.81,409.35a2.0,2.0 0 1,0 4,0a2.0,2.0 0 1,0 -4,0M200.77,411.3a2.0,2.0 0 1,0 4,0a2.0,2.0 0 1,0 -4,0M201.55,421.32a2.0,2.0 0 1,0 4,0a2.0,2.0 0 1,0 -4,0M201.67,413.05a2.0,2.0 0 1,0 4,0a2.0,2.0 0 1,0 -4,0M201.94,417.07a2.0,2.0 0 1,0 4,0a2.0,2.0 0 1,0 -4,0M200.73,406.29a2.0,2.0 0 1,0 4,0a2.0,2.0 0 1,0 -4,0M202.35,419.93a2.0,2.0 0 1,0 4,0a2.0,2.0 0 1,0 -4,0M201.76,407.86a2.0,2.0 0 1,0 4,0a2.0,2.0 0 1,0 -4,0M202.05,413.16a2.0,2.0 0 1,0 4,0a2.0,2.0 0 1,0 -4,0M203.1,415.77a2.0,2.0 0 1,0 4,0a2.0,2.0 0 1,0 -4,0M203.5,409.59a2.0,2.0 0 1,0 4,0a2.0,2.0 0 1,0 -4,0M203.42,417.73a2.0,2.0 0 1,0 4,0a2.0,2.0 0 1,0 -4,0M203.63,412.2a2.0,2.0 0 1,0 4,0a2.0,2.0 0 1,0 -4,0M203.65,406.46a2.0,2.0 0 1,0 4,0a2.0,2.0 0 1,0 -4,0M203.81,411.69a2.0,2.0 0 1,0 4,0a2.0,2.0 0 1,0 -4,0M204.32,420.07a2.0,2.0 0 1,0 4,0a2.0,2.0 0 1,0 -4,0M204.58,414.83a2.0,2.0 0 1,0 4,0a2.0,2.0 0 1,0 -4,0M204.94,412.59a2.0,2.0 0 1,0 4,0a2.0,2.0 0 1,0 -4,0M205.35,416.2a2.0,2.0 0 1,0 4,0a2.0,2.0 0 1,0 -4,0M205.38,412.93a2.0,2.0 0 1,0 4,0a2.0,2.0 0 1,0 -4,0M205.86,411.01a2.0,2.0 0 1,0 4,0a2.0,2.0 0 1,0 -4,0M205.46,430.12a2.0,2.0 0 1,0 4,0a2.0,2.0 0 1,0 -4,0M206.82,434.92a2.0,2.0 0 1,0 4,0a2.0,2.0 0 1,0 -4,0M206.47,411.43a2.0,2.0 0 1,0 4,0a2.0,2.0 0 1,0 -4,0M206.55,437.79a2.0,2.0 0 1,0 4,0a2.0,2.0 0 1,0 -4,0M207.18,402.55a2.0,2.0 0 1,0 4,0a2.0,2.0 0 1,0 -4,0M206.63,411.32a2.0,2.0 0 1,0 4,0a2.0,2.0 0 1,0 -4,0M207.81,414.19a2.0,2.0 0 1,0 4,0a2.0,2.0 0 1,0 -4,0M207.82,416.46a2.0,2.0 0 1,0 4,0a2.0,2.0 0 1,0 -4,0M207.79,410.8a2.0,2.0 0 1,0 4,0a2.0,2.0 0 1,0 -4,0M207.69,427.23a2.0,2.0 0 1,0 4,0a2.0,2.0 0 1,0 -4,0M207.78,419.85a2.0,2.0 0 1,0 4,0a2.0,2.0 0 1,0 -4,0M208.51,413.85a2.0,2.0 0 1,0 4,0a2.0,2.0 0 1,0 -4,0M208.17,428.37a2.0,2.0 0 1,0 4,0a2.0,2.0 0 1,0 -4,0M208.92,426.06a2.0,2.0 0 1,0 4,0a2.0,2.0 0 1,0 -4,0M209.75,408.1a2.0,2.0 0 1,0 4,0a2.0,2.0 0 1,0 -4,0M209.51,424.74a2.0,2.0 0 1,0 4,0a2.0,2.0 0 1,0 -4,0M209.81,414.44a2.0,2.0 0 1,0 4,0a2.0,2.0 0 1,0 -4,0M209.08,424.64a2.0,2.0 0 1,0 4,0a2.0,2.0 0 1,0 -4,0M210.24,439.3a2.0,2.0 0 1,0 4,0a2.0,2.0 0 1,0 -4,0M210.9,413.98a2.0,2.0 0 1,0 4,0a2.0,2.0 0 1,0 -4,0M210.34,410.23a2.0,2.0 0 1,0 4,0a2.0,2.0 0 1,0 -4,0M210.94,416.03a2.0,2.0 0 1,0 4,0a2.0,2.0 0 1,0 -4,0M211.44,410.03a2.0,2.0 0 1,0 4,0a2.0,2.0 0 1,0 -4,0M210.7,434.78a2.0,2.0 0 1,0 4,0a2.0,2.0 0 1,0 -4,0M210.74,407.01a2.0,2.0 0 1,0 4,0a2.0,2.0 0 1,0 -4,0M211.95,410.4a2.0,2.0 0 1,0 4,0a2.0,2.0 0 1,0 -4,0M212.01,411.92a2.0,2.0 0 1,0 4,0a2.0,2.0 0 1,0 -4,0M212.31,413.83a2.0,2.0 0 1,0 4,0a2.0,2.0 0 1,0 -4,0M212.61,431.97a2.0,2.0 0 1,0 4,0a2.0,2.0 0 1,0 -4,0M213.09,411.84a2.0,2.0 0 1,0 4,0a2.0,2.0 0 1,0 -4,0M213.52,411.17a2.0,2.0 0 1,0 4,0a2.0,2.0 0 1,0 -4,0M213.43,420.25a2.0,2.0 0 1,0 4,0a2.0,2.0 0 1,0 -4,0M213.95,414.43a2.0,2.0 0 1,0 4,0a2.0,2.0 0 1,0 -4,0M214.29,415.97a2.0,2.0 0 1,0 4,0a2.0,2.0 0 1,0 -4,0M213.43,418.14a2.0,2.0 0 1,0 4,0a2.0,2.0 0 1,0 -4,0M214.63,425.82a2.0,2.0 0 1,0 4,0a2.0,2.0 0 1,0 -4,0M214.89,412.2a2.0,2.0 0 1,0 4,0a2.0,2.0 0 1,0 -4,0M214.47,416.61a2.0,2.0 0 1,0 4,0a2.0,2.0 0 1,0 -4,0M215.66,411.02a2.0,2.0 0 1,0 4,0a2.0,2.0 0 1,0 -4,0M214.2,408.8a2.0,2.0 0 1,0 4,0a2.0,2.0 0 1,0 -4,0M215.02,426.3a2.0,2.0 0 1,0 4,0a2.0,2.0 0 1,0 -4,0M215.93,413.46a2.0,2.0 0 1,0 4,0a2.0,2.0 0 1,0 -4,0M215.77,409.89a2.0,2.0 0 1,0 4,0a2.0,2.0 0 1,0 -4,0M216.89,416.61a2.0,2.0 0 1,0 4,0a2.0,2.0 0 1,0 -4,0M216.94,423.08a2.0,2.0 0 1,0 4,0a2.0,2.0 0 1,0 -4,0M217.11,406.33a2.0,2.0 0 1,0 4,0a2.0,2.0 0 1,0 -4,0M217.03,412.19a2.0,2.0 0 1,0 4,0a2.0,2.0 0 1,0 -4,0M216.8,412.18a2.0,2.0 0 1,0 4,0a2.0,2.0 0 1,0 -4,0M217.74,408.51a2.0,2.0 0 1,0 4,0a2.0,2.0 0 1,0 -4,0M218.4,415.72a2.0,2.0 0 1,0 4,0a2.0,2.0 0 1,0 -4,0M218.25,415.95a2.0,2.0 0 1,0 4,0a2.0,2.0 0 1,0 -4,0M218,413.31a2.0,2.0 0 1,0 4,0a2.0,2.0 0 1,0 -4,0M219.45,415.56a2.0,2.0 0 1,0 4,0a2.0,2.0 0 1,0 -4,0M218.72,410.34a2.0,2.0 0 1,0 4,0a2.0,2.0 0 1,0 -4,0M218.46,408.06a2.0,2.0 0 1,0 4,0a2.0,2.0 0 1,0 -4,0M219.49,417.52a2.0,2.0 0 1,0 4,0a2.0,2.0 0 1,0 -4,0M219.25,407.77a2.0,2.0 0 1,0 4,0a2.0,2.0 0 1,0 -4,0M220.08,417.85a2.0,2.0 0 1,0 4,0a2.0,2.0 0 1,0 -4,0M219.28,414.52a2.0,2.0 0 1,0 4,0a2.0,2.0 0 1,0 -4,0M220.87,420.24a2.0,2.0 0 1,0 4,0a2.0,2.0 0 1,0 -4,0M220.43,413.34a2.0,2.0 0 1,0 4,0a2.0,2.0 0 1,0 -4,0M219.87,415.04a2.0,2.0 0 1,0 4,0a2.0,2.0 0 1,0 -4,0M221.63,422.47a2.0,2.0 0 1,0 4,0a2.0,2.0 0 1,0 -4,0M221.05,412.94a2.0,2.0 0 1,0 4,0a2.0,2.0 0 1,0 -4,0M222.05,410.56a2.0,2.0 0 1,0 4,0a2.0,2.0 0 1,0 -4,0M221.87,411.43a2.0,2.0 0 1,0 4,0a2.0,2.0 0 1,0 -4,0M221.81,411.08a2.0,2.0 0 1,0 4,0a2.0,2.0 0 1,0 -4,0M222.43,417.03a2.0,2.0 0 1,0 4,0a2.0,2.0 0 1,0 -4,0M222.61,418.69a2.0,2.0 0 1,0 4,0a2.0,2.0 0 1,0 -4,0M223.2,418.38a2.0,2.0 0 1,0 4,0a2.0,2.0 0 1,0 -4,0M222.62,415.04a2.0,2.0 0 1,0 4,0a2.0,2.0 0 1,0 -4,0M223.38,412.52a2.0,2.0 0 1,0 4,0a2.0,2.0 0 1,0 -4,0M223.59,436.97a2.0,2.0 0 1,0 4,0a2.0,2.0 0 1,0 -4,0M223.07,411.89a2.0,2.0 0 1,0 4,0a2.0,2.0 0 1,0 -4,0M224.37,427.62a2.0,2.0 0 1,0 4,0a2.0,2.0 0 1,0 -4,0M224.01,412.73a2.0,2.0 0 1,0 4,0a2.0,2.0 0 1,0 -4,0M224.85,418.22a2.0,2.0 0 1,0 4,0a2.0,2.0 0 1,0 -4,0M224.53,411.79a2.0,2.0 0 1,0 4,0a2.0,2.0 0 1,0 -4,0M224.82,412.19a2.0,2.0 0 1,0 4,0a2.0,2.0 0 1,0 -4,0M225.31,415.17a2.0,2.0 0 1,0 4,0a2.0,2.0 0 1,0 -4,0M225.76,407.4a2.0,2.0 0 1,0 4,0a2.0,2.0 0 1,0 -4,0M225.84,415.44a2.0,2.0 0 1,0 4,0a2.0,2.0 0 1,0 -4,0M226.54,409.6a2.0,2.0 0 1,0 4,0a2.0,2.0 0 1,0 -4,0M225.32,407.13a2.0,2.0 0 1,0 4,0a2.0,2.0 0 1,0 -4,0M226.11,416.84a2.0,2.0 0 1,0 4,0a2.0,2.0 0 1,0 -4,0M226.83,411.99a2.0,2.0 0 1,0 4,0a2.0,2.0 0 1,0 -4,0M227.39,412.34a2.0,2.0 0 1,0 4,0a2.0,2.0 0 1,0 -4,0M227,408.92a2.0,2.0 0 1,0 4,0a2.0,2.0 0 1,0 -4,0M228.35,415.73a2.0,2.0 0 1,0 4,0a2.0,2.0 0 1,0 -4,0M227.5,417.45a2.0,2.0 0 1,0 4,0a2.0,2.0 0 1,0 -4,0M228.16,414.86a2.0,2.0 0 1,0 4,0a2.0,2.0 0 1,0 -4,0M228.1,403.72a2.0,2.0 0 1,0 4,0a2.0,2.0 0 1,0 -4,0M228.43,407.94a2.0,2.0 0 1,0 4,0a2.0,2.0 0 1,0 -4,0M228.92,411.67a2.0,2.0 0 1,0 4,0a2.0,2.0 0 1,0 -4,0M228.97,428.47a2.0,2.0 0 1,0 4,0a2.0,2.0 0 1,0 -4,0M228.89,413.38a2.0,2.0 0 1,0 4,0a2.0,2.0 0 1,0 -4,0M229.56,415.03a2.0,2.0 0 1,0 4,0a2.0,2.0 0 1,0 -4,0M230.65,418.61a2.0,2.0 0 1,0 4,0a2.0,2.0 0 1,0 -4,0M228.99,416.81a2.0,2.0 0 1,0 4,0a2.0,2.0 0 1,0 -4,0M229.41,411.84a2.0,2.0 0 1,0 4,0a2.0,2.0 0 1,0 -4,0M230.29,439.69a2.0,2.0 0 1,0 4,0a2.0,2.0 0 1,0 -4,0M230.86,417.36a2.0,2.0 0 1,0 4,0a2.0,2.0 0 1,0 -4,0M230.85,437.26a2.0,2.0 0 1,0 4,0a2.0,2.0 0 1,0 -4,0M231.24,418.7a2.0,2.0 0 1,0 4,0a2.0,2.0 0 1,0 -4,0M231.62,412.52a2.0,2.0 0 1,0 4,0a2.0,2.0 0 1,0 -4,0M232.18,438.05a2.0,2.0 0 1,0 4,0a2.0,2.0 0 1,0 -4,0M232.57,426.05a2.0,2.0 0 1,0 4,0a2.0,2.0 0 1,0 -4,0M232.58,409.53a2.0,2.0 0 1,0 4,0a2.0,2.0 0 1,0 -4,0M232.48,406.6a2.0,2.0 0 1,0 4,0a2.0,2.0 0 1,0 -4,0M232.77,409.58a2.0,2.0 0 1,0 4,0a2.0,2.0 0 1,0 -4,0M232.54,419.19a2.0,2.0 0 1,0 4,0a2.0,2.0 0 1,0 -4,0M233.16,423.71a2.0,2.0 0 1,0 4,0a2.0,2.0 0 1,0 -4,0M233.86,416.52a2.0,2.0 0 1,0 4,0a2.0,2.0 0 1,0 -4,0M233.54,425.05a2.0,2.0 0 1,0 4,0a2.0,2.0 0 1,0 -4,0M234.01,415.43a2.0,2.0 0 1,0 4,0a2.0,2.0 0 1,0 -4,0M233.13,413.01a2.0,2.0 0 1,0 4,0a2.0,2.0 0 1,0 -4,0M234.68,421.67a2.0,2.0 0 1,0 4,0a2.0,2.0 0 1,0 -4,0M234.61,410.61a2.0,2.0 0 1,0 4,0a2.0,2.0 0 1,0 -4,0M235.2,409.68a2.0,2.0 0 1,0 4,0a2.0,2.0 0 1,0 -4,0M235.03,428.15a2.0,2.0 0 1,0 4,0a2.0,2.0 0 1,0 -4,0M235.16,460.87a2.0,2.0 0 1,0 4,0a2.0,2.0 0 1,0 -4,0M235.57,416.64a2.0,2.0 0 1,0 4,0a2.0,2.0 0 1,0 -4,0M236.33,410.7a2.0,2.0 0 1,0 4,0a2.0,2.0 0 1,0 -4,0M236.24,412.68a2.0,2.0 0 1,0 4,0a2.0,2.0 0 1,0 -4,0M236.28,423.35a2.0,2.0 0 1,0 4,0a2.0,2.0 0 1,0 -4,0M236.76,411.11a2.0,2.0 0 1,0 4,0a2.0,2.0 0 1,0 -4,0M236.22,415.69a2.0,2.0 0 1,0 4,0a2.0,2.0 0 1,0 -4,0M237.09,411.68a2.0,2.0 0 1,0 4,0a2.0,2.0 0 1,0 -4,0M237.81,415.61a2.0,2.0 0 1,0 4,0a2.0,2.0 0 1,0 -4,0M237.06,414.48a2.0,2.0 0 1,0 4,0a2.0,2.0 0 1,0 -4,0M237.46,415.89a2.0,2.0 0 1,0 4,0a2.0,2.0 0 1,0 -4,0M237.88,406.6a2.0,2.0 0 1,0 4,0a2.0,2.0 0 1,0 -4,0M238.55,417.54a2.0,2.0 0 1,0 4,0a2.0,2.0 0 1,0 -4,0M238.59,411.89a2.0,2.0 0 1,0 4,0a2.0,2.0 0 1,0 -4,0M238.16,413.74a2.0,2.0 0 1,0 4,0a2.0,2.0 0 1,0 -4,0M238.65,418.72a2.0,2.0 0 1,0 4,0a2.0,2.0 0 1,0 -4,0M239.81,408.17a2.0,2.0 0 1,0 4,0a2.0,2.0 0 1,0 -4,0M239.57,419.29a2.0,2.0 0 1,0 4,0a2.0,2.0 0 1,0 -4,0M239.93,413.35a2.0,2.0 0 1,0 4,0a2.0,2.0 0 1,0 -4,0M240.25,430.65a2.0,2.0 0 1,0 4,0a2.0,2.0 0 1,0 -4,0M240.33,413.2a2.0,2.0 0 1,0 4,0a2.0,2.0 0 1,0 -4,0M240.66,408.83a2.0,2.0 0 1,0 4,0a2.0,2.0 0 1,0 -4,0M240.54,426.83a2.0,2.0 0 1,0 4,0a2.0,2.0 0 1,0 -4,0M241.36,412.91a2.0,2.0 0 1,0 4,0a2.0,2.0 0 1,0 -4,0M242.01,420.71a2.0,2.0 0 1,0 4,0a2.0,2.0 0 1,0 -4,0M241.55,411.93a2.0,2.0 0 1,0 4,0a2.0,2.0 0 1,0 -4,0M241.57,413.63a2.0,2.0 0 1,0 4,0a2.0,2.0 0 1,0 -4,0M242.39,414.89a2.0,2.0 0 1,0 4,0a2.0,2.0 0 1,0 -4,0M242.77,416.75a2.0,2.0 0 1,0 4,0a2.0,2.0 0 1,0 -4,0M242.88,418.04a2.0,2.0 0 1,0 4,0a2.0,2.0 0 1,0 -4,0M242.72,417.92a2.0,2.0 0 1,0 4,0a2.0,2.0 0 1,0 -4,0M243.27,408.43a2.0,2.0 0 1,0 4,0a2.0,2.0 0 1,0 -4,0M243.47,413.34a2.0,2.0 0 1,0 4,0a2.0,2.0 0 1,0 -4,0M243.59,419.58a2.0,2.0 0 1,0 4,0a2.0,2.0 0 1,0 -4,0M244.2,400.96a2.0,2.0 0 1,0 4,0a2.0,2.0 0 1,0 -4,0M243.97,420.61a2.0,2.0 0 1,0 4,0a2.0,2.0 0 1,0 -4,0M243.92,413.65a2.0,2.0 0 1,0 4,0a2.0,2.0 0 1,0 -4,0M244.98,410.98a2.0,2.0 0 1,0 4,0a2.0,2.0 0 1,0 -4,0M245.67,410.68a2.0,2.0 0 1,0 4,0a2.0,2.0 0 1,0 -4,0M244.44,413.41a2.0,2.0 0 1,0 4,0a2.0,2.0 0 1,0 -4,0M244.87,413.61a2.0,2.0 0 1,0 4,0a2.0,2.0 0 1,0 -4,0M245.53,434.04a2.0,2.0 0 1,0 4,0a2.0,2.0 0 1,0 -4,0M245.02,413.33a2.0,2.0 0 1,0 4,0a2.0,2.0 0 1,0 -4,0M246.32,411.1a2.0,2.0 0 1,0 4,0a2.0,2.0 0 1,0 -4,0M245.89,410.77a2.0,2.0 0 1,0 4,0a2.0,2.0 0 1,0 -4,0M246.79,415.83a2.0,2.0 0 1,0 4,0a2.0,2.0 0 1,0 -4,0M246.8,408.44a2.0,2.0 0 1,0 4,0a2.0,2.0 0 1,0 -4,0M245.81,442.45a2.0,2.0 0 1,0 4,0a2.0,2.0 0 1,0 -4,0M247.22,416.31a2.0,2.0 0 1,0 4,0a2.0,2.0 0 1,0 -4,0M246.21,406.31a2.0,2.0 0 1,0 4,0a2.0,2.0 0 1,0 -4,0M247.3,408.98a2.0,2.0 0 1,0 4,0a2.0,2.0 0 1,0 -4,0M247.25,409.77a2.0,2.0 0 1,0 4,0a2.0,2.0 0 1,0 -4,0M248.5,417.46a2.0,2.0 0 1,0 4,0a2.0,2.0 0 1,0 -4,0M247.99,411.71a2.0,2.0 0 1,0 4,0a2.0,2.0 0 1,0 -4,0M248.52,415.43a2.0,2.0 0 1,0 4,0a2.0,2.0 0 1,0 -4,0M248.66,411.43a2.0,2.0 0 1,0 4,0a2.0,2.0 0 1,0 -4,0M248.19,414.26a2.0,2.0 0 1,0 4,0a2.0,2.0 0 1,0 -4,0M249.55,417.41a2.0,2.0 0 1,0 4,0a2.0,2.0 0 1,0 -4,0M249.69,407.86a2.0,2.0 0 1,0 4,0a2.0,2.0 0 1,0 -4,0M249.84,415.39a2.0,2.0 0 1,0 4,0a2.0,2.0 0 1,0 -4,0M249.82,407.6a2.0,2.0 0 1,0 4,0a2.0,2.0 0 1,0 -4,0M250.7,425.41a2.0,2.0 0 1,0 4,0a2.0,2.0 0 1,0 -4,0M250.67,426.58a2.0,2.0 0 1,0 4,0a2.0,2.0 0 1,0 -4,0M250.72,430.75a2.0,2.0 0 1,0 4,0a2.0,2.0 0 1,0 -4,0M251.43,408.11a2.0,2.0 0 1,0 4,0a2.0,2.0 0 1,0 -4,0M251.04,414.6a2.0,2.0 0 1,0 4,0a2.0,2.0 0 1,0 -4,0M251.13,412.91a2.0,2.0 0 1,0 4,0a2.0,2.0 0 1,0 -4,0M251.53,410.53a2.0,2.0 0 1,0 4,0a2.0,2.0 0 1,0 -4,0M252.3,434.77a2.0,2.0 0 1,0 4,0a2.0,2.0 0 1,0 -4,0M251.73,412.29a2.0,2.0 0 1,0 4,0a2.0,2.0 0 1,0 -4,0M252.55,415.19a2.0,2.0 0 1,0 4,0a2.0,2.0 0 1,0 -4,0M253.11,414.16a2.0,2.0 0 1,0 4,0a2.0,2.0 0 1,0 -4,0M253.07,408.89a2.0,2.0 0 1,0 4,0a2.0,2.0 0 1,0 -4,0M253.39,416.77a2.0,2.0 0 1,0 4,0a2.0,2.0 0 1,0 -4,0M253.25,411.38a2.0,2.0 0 1,0 4,0a2.0,2.0 0 1,0 -4,0M254.45,408.51a2.0,2.0 0 1,0 4,0a2.0,2.0 0 1,0 -4,0M253.77,416.65a2.0,2.0 0 1,0 4,0a2.0,2.0 0 1,0 -4,0M254.22,406.71a2.0,2.0 0 1,0 4,0a2.0,2.0 0 1,0 -4,0M254.31,414.15a2.0,2.0 0 1,0 4,0a2.0,2.0 0 1,0 -4,0M254.18,413.03a2.0,2.0 0 1,0 4,0a2.0,2.0 0 1,0 -4,0M255.6,415.52a2.0,2.0 0 1,0 4,0a2.0,2.0 0 1,0 -4,0M255.13,412.17a2.0,2.0 0 1,0 4,0a2.0,2.0 0 1,0 -4,0M256.2,427.4a2.0,2.0 0 1,0 4,0a2.0,2.0 0 1,0 -4,0M256.05,418.04a2.0,2.0 0 1,0 4,0a2.0,2.0 0 1,0 -4,0M255.93,411.94a2.0,2.0 0 1,0 4,0a2.0,2.0 0 1,0 -4,0M256.21,413.78a2.0,2.0 0 1,0 4,0a2.0,2.0 0 1,0 -4,0M257.03,412.45a2.0,2.0 0 1,0 4,0a2.0,2.0 0 1,0 -4,0M256.95,413.02a2.0,2.0 0 1,0 4,0a2.0,2.0 0 1,0 -4,0M256.68,415.45a2.0,2.0 0 1,0 4,0a2.0,2.0 0 1,0 -4,0M257.02,417.66a2.0,2.0 0 1,0 4,0a2.0,2.0 0 1,0 -4,0M257.5,412.89a2.0,2.0 0 1,0 4,0a2.0,2.0 0 1,0 -4,0M257.68,408.66a2.0,2.0 0 1,0 4,0a2.0,2.0 0 1,0 -4,0M258.13,420.05a2.0,2.0 0 1,0 4,0a2.0,2.0 0 1,0 -4,0M258.19,430.8a2.0,2.0 0 1,0 4,0a2.0,2.0 0 1,0 -4,0M258.49,418.64a2.0,2.0 0 1,0 4,0a2.0,2.0 0 1,0 -4,0M258.57,420.77a2.0,2.0 0 1,0 4,0a2.0,2.0 0 1,0 -4,0M258.58,413.13a2.0,2.0 0 1,0 4,0a2.0,2.0 0 1,0 -4,0M258.73,408.49a2.0,2.0 0 1,0 4,0a2.0,2.0 0 1,0 -4,0M259.93,411.63a2.0,2.0 0 1,0 4,0a2.0,2.0 0 1,0 -4,0M259.77,413.31a2.0,2.0 0 1,0 4,0a2.0,2.0 0 1,0 -4,0M259.69,407.73a2.0,2.0 0 1,0 4,0a2.0,2.0 0 1,0 -4,0M260.67,409.08a2.0,2.0 0 1,0 4,0a2.0,2.0 0 1,0 -4,0M260.62,411.44a2.0,2.0 0 1,0 4,0a2.0,2.0 0 1,0 -4,0M261.06,411.52a2.0,2.0 0 1,0 4,0a2.0,2.0 0 1,0 -4,0M260.53,414.36a2.0,2.0 0 1,0 4,0a2.0,2.0 0 1,0 -4,0M261.59,443.05a2.0,2.0 0 1,0 4,0a2.0,2.0 0 1,0 -4,0M261.3,410.94a2.0,2.0 0 1,0 4,0a2.0,2.0 0 1,0 -4,0M261.1,412.52a2.0,2.0 0 1,0 4,0a2.0,2.0 0 1,0 -4,0M261.48,414.01a2.0,2.0 0 1,0 4,0a2.0,2.0 0 1,0 -4,0M261.65,412.25a2.0,2.0 0 1,0 4,0a2.0,2.0 0 1,0 -4,0M262.5,413.03a2.0,2.0 0 1,0 4,0a2.0,2.0 0 1,0 -4,0M261.53,413.88a2.0,2.0 0 1,0 4,0a2.0,2.0 0 1,0 -4,0M263,416.31a2.0,2.0 0 1,0 4,0a2.0,2.0 0 1,0 -4,0M263.61,410.59a2.0,2.0 0 1,0 4,0a2.0,2.0 0 1,0 -4,0M263.33,409.71a2.0,2.0 0 1,0 4,0a2.0,2.0 0 1,0 -4,0M263.05,407.64a2.0,2.0 0 1,0 4,0a2.0,2.0 0 1,0 -4,0M264.01,424.94a2.0,2.0 0 1,0 4,0a2.0,2.0 0 1,0 -4,0M263.81,413.86a2.0,2.0 0 1,0 4,0a2.0,2.0 0 1,0 -4,0M264.63,410.19a2.0,2.0 0 1,0 4,0a2.0,2.0 0 1,0 -4,0M264.84,412.77a2.0,2.0 0 1,0 4,0a2.0,2.0 0 1,0 -4,0M265.06,417.07a2.0,2.0 0 1,0 4,0a2.0,2.0 0 1,0 -4,0M264.47,414.34a2.0,2.0 0 1,0 4,0a2.0,2.0 0 1,0 -4,0M265.6,414.47a2.0,2.0 0 1,0 4,0a2.0,2.0 0 1,0 -4,0M265.69,411.58a2.0,2.0 0 1,0 4,0a2.0,2.0 0 1,0 -4,0M266.55,415.81a2.0,2.0 0 1,0 4,0a2.0,2.0 0 1,0 -4,0M266.98,415.69a2.0,2.0 0 1,0 4,0a2.0,2.0 0 1,0 -4,0M266.28,411.78a2.0,2.0 0 1,0 4,0a2.0,2.0 0 1,0 -4,0M266.48,414.9a2.0,2.0 0 1,0 4,0a2.0,2.0 0 1,0 -4,0M267.11,408.81a2.0,2.0 0 1,0 4,0a2.0,2.0 0 1,0 -4,0M266.94,415.27a2.0,2.0 0 1,0 4,0a2.0,2.0 0 1,0 -4,0M267.07,413.28a2.0,2.0 0 1,0 4,0a2.0,2.0 0 1,0 -4,0M267.35,413.55a2.0,2.0 0 1,0 4,0a2.0,2.0 0 1,0 -4,0M268.64,415.84a2.0,2.0 0 1,0 4,0a2.0,2.0 0 1,0 -4,0M267.94,413.23a2.0,2.0 0 1,0 4,0a2.0,2.0 0 1,0 -4,0M267.96,412.55a2.0,2.0 0 1,0 4,0a2.0,2.0 0 1,0 -4,0M268.19,418.15a2.0,2.0 0 1,0 4,0a2.0,2.0 0 1,0 -4,0M268.79,413.67a2.0,2.0 0 1,0 4,0a2.0,2.0 0 1,0 -4,0M269,406.48a2.0,2.0 0 1,0 4,0a2.0,2.0 0 1,0 -4,0M269.37,442.46a2.0,2.0 0 1,0 4,0a2.0,2.0 0 1,0 -4,0M268.99,411.95a2.0,2.0 0 1,0 4,0a2.0,2.0 0 1,0 -4,0M270.32,415.62a2.0,2.0 0 1,0 4,0a2.0,2.0 0 1,0 -4,0M270.49,412.99a2.0,2.0 0 1,0 4,0a2.0,2.0 0 1,0 -4,0M270.69,418.16a2.0,2.0 0 1,0 4,0a2.0,2.0 0 1,0 -4,0M271.02,411.69a2.0,2.0 0 1,0 4,0a2.0,2.0 0 1,0 -4,0M270.68,418.81a2.0,2.0 0 1,0 4,0a2.0,2.0 0 1,0 -4,0M271.63,406.7a2.0,2.0 0 1,0 4,0a2.0,2.0 0 1,0 -4,0M270.89,407.65a2.0,2.0 0 1,0 4,0a2.0,2.0 0 1,0 -4,0M271.88,411.86a2.0,2.0 0 1,0 4,0a2.0,2.0 0 1,0 -4,0M271.8,408.07a2.0,2.0 0 1,0 4,0a2.0,2.0 0 1,0 -4,0M271.63,420.07a2.0,2.0 0 1,0 4,0a2.0,2.0 0 1,0 -4,0M272.21,408.76a2.0,2.0 0 1,0 4,0a2.0,2.0 0 1,0 -4,0M272.44,410.66a2.0,2.0 0 1,0 4,0a2.0,2.0 0 1,0 -4,0M273.18,412.61a2.0,2.0 0 1,0 4,0a2.0,2.0 0 1,0 -4,0M272.79,413.9a2.0,2.0 0 1,0 4,0a2.0,2.0 0 1,0 -4,0M272.83,416.6a2.0,2.0 0 1,0 4,0a2.0,2.0 0 1,0 -4,0M273.62,414.33a2.0,2.0 0 1,0 4,0a2.0,2.0 0 1,0 -4,0M273.47,413.75a2.0,2.0 0 1,0 4,0a2.0,2.0 0 1,0 -4,0M274.33,419.92a2.0,2.0 0 1,0 4,0a2.0,2.0 0 1,0 -4,0M274.12,411.48a2.0,2.0 0 1,0 4,0a2.0,2.0 0 1,0 -4,0M273.86,404.48a2.0,2.0 0 1,0 4,0a2.0,2.0 0 1,0 -4,0M274.63,416.24a2.0,2.0 0 1,0 4,0a2.0,2.0 0 1,0 -4,0M275.2,423.01a2.0,2.0 0 1,0 4,0a2.0,2.0 0 1,0 -4,0M274.4,424.23a2.0,2.0 0 1,0 4,0a2.0,2.0 0 1,0 -4,0M275.84,411.53a2.0,2.0 0 1,0 4,0a2.0,2.0 0 1,0 -4,0M275.79,423.63a2.0,2.0 0 1,0 4,0a2.0,2.0 0 1,0 -4,0M275.37,428.93a2.0,2.0 0 1,0 4,0a2.0,2.0 0 1,0 -4,0M277.31,426.32a2.0,2.0 0 1,0 4,0a2.0,2.0 0 1,0 -4,0M276.85,418.19a2.0,2.0 0 1,0 4,0a2.0,2.0 0 1,0 -4,0M277.04,438.46a2.0,2.0 0 1,0 4,0a2.0,2.0 0 1,0 -4,0M277.53,452.56a2.0,2.0 0 1,0 4,0a2.0,2.0 0 1,0 -4,0M277.23,414a2.0,2.0 0 1,0 4,0a2.0,2.0 0 1,0 -4,0M277.39,413.15a2.0,2.0 0 1,0 4,0a2.0,2.0 0 1,0 -4,0M277.11,414.45a2.0,2.0 0 1,0 4,0a2.0,2.0 0 1,0 -4,0M277.77,415.39a2.0,2.0 0 1,0 4,0a2.0,2.0 0 1,0 -4,0M278.11,417.13a2.0,2.0 0 1,0 4,0a2.0,2.0 0 1,0 -4,0M278.69,413.81a2.0,2.0 0 1,0 4,0a2.0,2.0 0 1,0 -4,0M279.04,413.97a2.0,2.0 0 1,0 4,0a2.0,2.0 0 1,0 -4,0M278.14,429.18a2.0,2.0 0 1,0 4,0a2.0,2.0 0 1,0 -4,0M279.37,412.84a2.0,2.0 0 1,0 4,0a2.0,2.0 0 1,0 -4,0M279.57,412.61a2.0,2.0 0 1,0 4,0a2.0,2.0 0 1,0 -4,0M279.62,416.6a2.0,2.0 0 1,0 4,0a2.0,2.0 0 1,0 -4,0M280.68,418.48a2.0,2.0 0 1,0 4,0a2.0,2.0 0 1,0 -4,0M280.3,417.26a2.0,2.0 0 1,0 4,0a2.0,2.0 0 1,0 -4,0M280.1,410.52a2.0,2.0 0 1,0 4,0a2.0,2.0 0 1,0 -4,0M280.58,406.48a2.0,2.0 0 1,0 4,0a2.0,2.0 0 1,0 -4,0M280.17,411.45a2.0,2.0 0 1,0 4,0a2.0,2.0 0 1,0 -4,0M281.64,416.41a2.0,2.0 0 1,0 4,0a2.0,2.0 0 1,0 -4,0M281.14,407.89a2.0,2.0 0 1,0 4,0a2.0,2.0 0 1,0 -4,0M281.29,434.17a2.0,2.0 0 1,0 4,0a2.0,2.0 0 1,0 -4,0M281.88,413.59a2.0,2.0 0 1,0 4,0a2.0,2.0 0 1,0 -4,0M282.74,415.45a2.0,2.0 0 1,0 4,0a2.0,2.0 0 1,0 -4,0M282.55,437.85a2.0,2.0 0 1,0 4,0a2.0,2.0 0 1,0 -4,0M282.35,407.58a2.0,2.0 0 1,0 4,0a2.0,2.0 0 1,0 -4,0M283.04,431.66a2.0,2.0 0 1,0 4,0a2.0,2.0 0 1,0 -4,0M283.73,426.12a2.0,2.0 0 1,0 4,0a2.0,2.0 0 1,0 -4,0M283.78,412.63a2.0,2.0 0 1,0 4,0a2.0,2.0 0 1,0 -4,0M283.57,433.58a2.0,2.0 0 1,0 4,0a2.0,2.0 0 1,0 -4,0M284.09,430.1a2.0,2.0 0 1,0 4,0a2.0,2.0 0 1,0 -4,0M283.99,410.78a2.0,2.0 0 1,0 4,0a2.0,2.0 0 1,0 -4,0M284.26,413.9a2.0,2.0 0 1,0 4,0a2.0,2.0 0 1,0 -4,0M284.88,430.34a2.0,2.0 0 1,0 4,0a2.0,2.0 0 1,0 -4,0M285.61,415.07a2.0,2.0 0 1,0 4,0a2.0,2.0 0 1,0 -4,0M284.89,415.24a2.0,2.0 0 1,0 4,0a2.0,2.0 0 1,0 -4,0M285.84,412.36a2.0,2.0 0 1,0 4,0a2.0,2.0 0 1,0 -4,0M284.74,408.47a2.0,2.0 0 1,0 4,0a2.0,2.0 0 1,0 -4,0M286,409.66a2.0,2.0 0 1,0 4,0a2.0,2.0 0 1,0 -4,0M286.84,423.34a2.0,2.0 0 1,0 4,0a2.0,2.0 0 1,0 -4,0M285.74,426.46a2.0,2.0 0 1,0 4,0a2.0,2.0 0 1,0 -4,0M286.08,413.15a2.0,2.0 0 1,0 4,0a2.0,2.0 0 1,0 -4,0M287.1,412.5a2.0,2.0 0 1,0 4,0a2.0,2.0 0 1,0 -4,0M287.28,433.75a2.0,2.0 0 1,0 4,0a2.0,2.0 0 1,0 -4,0M287.88,431.07a2.0,2.0 0 1,0 4,0a2.0,2.0 0 1,0 -4,0M287.45,415.12a2.0,2.0 0 1,0 4,0a2.0,2.0 0 1,0 -4,0M287.36,415.31a2.0,2.0 0 1,0 4,0a2.0,2.0 0 1,0 -4,0M287.82,413.33a2.0,2.0 0 1,0 4,0a2.0,2.0 0 1,0 -4,0M288.65,418.66a2.0,2.0 0 1,0 4,0a2.0,2.0 0 1,0 -4,0M288.6,429.37a2.0,2.0 0 1,0 4,0a2.0,2.0 0 1,0 -4,0M289.21,428.95a2.0,2.0 0 1,0 4,0a2.0,2.0 0 1,0 -4,0M289.58,411.45a2.0,2.0 0 1,0 4,0a2.0,2.0 0 1,0 -4,0M289.37,421.83a2.0,2.0 0 1,0 4,0a2.0,2.0 0 1,0 -4,0M290.15,433.89a2.0,2.0 0 1,0 4,0a2.0,2.0 0 1,0 -4,0M290.34,411.9a2.0,2.0 0 1,0 4,0a2.0,2.0 0 1,0 -4,0M289.77,450.97a2.0,2.0 0 1,0 4,0a2.0,2.0 0 1,0 -4,0M290.05,426.71a2.0,2.0 0 1,0 4,0a2.0,2.0 0 1,0 -4,0M289.69,418.05a2.0,2.0 0 1,0 4,0a2.0,2.0 0 1,0 -4,0M290.23,434.45a2.0,2.0 0 1,0 4,0a2.0,2.0 0 1,0 -4,0M290.95,414.7a2.0,2.0 0 1,0 4,0a2.0,2.0 0 1,0 -4,0M291.09,409.19a2.0,2.0 0 1,0 4,0a2.0,2.0 0 1,0 -4,0M291.86,410.89a2.0,2.0 0 1,0 4,0a2.0,2.0 0 1,0 -4,0M292.05,408.54a2.0,2.0 0 1,0 4,0a2.0,2.0 0 1,0 -4,0M291.94,407.74a2.0,2.0 0 1,0 4,0a2.0,2.0 0 1,0 -4,0M292.52,414.76a2.0,2.0 0 1,0 4,0a2.0,2.0 0 1,0 -4,0M292.25,414.72a2.0,2.0 0 1,0 4,0a2.0,2.0 0 1,0 -4,0M292.75,439.35a2.0,2.0 0 1,0 4,0a2.0,2.0 0 1,0 -4,0M292.71,413.5a2.0,2.0 0 1,0 4,0a2.0,2.0 0 1,0 -4,0M293.19,440.12a2.0,2.0 0 1,0 4,0a2.0,2.0 0 1,0 -4,0M293.31,420.2a2.0,2.0 0 1,0 4,0a2.0,2.0 0 1,0 -4,0M293.24,410.55a2.0,2.0 0 1,0 4,0a2.0,2.0 0 1,0 -4,0M293.73,414.98a2.0,2.0 0 1,0 4,0a2.0,2.0 0 1,0 -4,0M293.18,409.91a2.0,2.0 0 1,0 4,0a2.0,2.0 0 1,0 -4,0M294.21,422.63a2.0,2.0 0 1,0 4,0a2.0,2.0 0 1,0 -4,0M294.78,411.1a2.0,2.0 0 1,0 4,0a2.0,2.0 0 1,0 -4,0M294.9,415.45a2.0,2.0 0 1,0 4,0a2.0,2.0 0 1,0 -4,0M294.88,433.8a2.0,2.0 0 1,0 4,0a2.0,2.0 0 1,0 -4,0M295.31,415.74a2.0,2.0 0 1,0 4,0a2.0,2.0 0 1,0 -4,0M295.34,418.51a2.0,2.0 0 1,0 4,0a2.0,2.0 0 1,0 -4,0M296.17,416.87a2.0,2.0 0 1,0 4,0a2.0,2.0 0 1,0 -4,0M295.68,417.75a2.0,2.0 0 1,0 4,0a2.0,2.0 0 1,0 -4,0M296.54,416.34a2.0,2.0 0 1,0 4,0a2.0,2.0 0 1,0 -4,0M296.56,417.97a2.0,2.0 0 1,0 4,0a2.0,2.0 0 1,0 -4,0M297.83,415.72a2.0,2.0 0 1,0 4,0a2.0,2.0 0 1,0 -4,0M297.09,415.58a2.0,2.0 0 1,0 4,0a2.0,2.0 0 1,0 -4,0M297.53,419.96a2.0,2.0 0 1,0 4,0a2.0,2.0 0 1,0 -4,0M297.82,417.1a2.0,2.0 0 1,0 4,0a2.0,2.0 0 1,0 -4,0M298.03,439.26a2.0,2.0 0 1,0 4,0a2.0,2.0 0 1,0 -4,0M299.39,408.11a2.0,2.0 0 1,0 4,0a2.0,2.0 0 1,0 -4,0M298.3,412.8a2.0,2.0 0 1,0 4,0a2.0,2.0 0 1,0 -4,0M298.53,412.61a2.0,2.0 0 1,0 4,0a2.0,2.0 0 1,0 -4,0M298.69,419.04a2.0,2.0 0 1,0 4,0a2.0,2.0 0 1,0 -4,0M299.58,406.96a2.0,2.0 0 1,0 4,0a2.0,2.0 0 1,0 -4,0M299.39,416.98a2.0,2.0 0 1,0 4,0a2.0,2.0 0 1,0 -4,0M299.55,409.9a2.0,2.0 0 1,0 4,0a2.0,2.0 0 1,0 -4,0M299.45,422.29a2.0,2.0 0 1,0 4,0a2.0,2.0 0 1,0 -4,0M299.81,414.82a2.0,2.0 0 1,0 4,0a2.0,2.0 0 1,0 -4,0M300.55,408.61a2.0,2.0 0 1,0 4,0a2.0,2.0 0 1,0 -4,0M300.43,413.08a2.0,2.0 0 1,0 4,0a2.0,2.0 0 1,0 -4,0M300.96,413.01a2.0,2.0 0 1,0 4,0a2.0,2.0 0 1,0 -4,0M302.28,414.83a2.0,2.0 0 1,0 4,0a2.0,2.0 0 1,0 -4,0M301.46,409.83a2.0,2.0 0 1,0 4,0a2.0,2.0 0 1,0 -4,0M302.16,412.66a2.0,2.0 0 1,0 4,0a2.0,2.0 0 1,0 -4,0M301.5,417.37a2.0,2.0 0 1,0 4,0a2.0,2.0 0 1,0 -4,0M302.91,418.61a2.0,2.0 0 1,0 4,0a2.0,2.0 0 1,0 -4,0M302.74,415.35a2.0,2.0 0 1,0 4,0a2.0,2.0 0 1,0 -4,0M302.48,410.47a2.0,2.0 0 1,0 4,0a2.0,2.0 0 1,0 -4,0M303.23,413.03a2.0,2.0 0 1,0 4,0a2.0,2.0 0 1,0 -4,0M302.96,426.56a2.0,2.0 0 1,0 4,0a2.0,2.0 0 1,0 -4,0M303.98,416.58a2.0,2.0 0 1,0 4,0a2.0,2.0 0 1,0 -4,0M303.23,416.27a2.0,2.0 0 1,0 4,0a2.0,2.0 0 1,0 -4,0M304.21,432.78a2.0,2.0 0 1,0 4,0a2.0,2.0 0 1,0 -4,0M303.39,423.08a2.0,2.0 0 1,0 4,0a2.0,2.0 0 1,0 -4,0M304.11,418.42a2.0,2.0 0 1,0 4,0a2.0,2.0 0 1,0 -4,0M304.74,416.49a2.0,2.0 0 1,0 4,0a2.0,2.0 0 1,0 -4,0M304.06,422.79a2.0,2.0 0 1,0 4,0a2.0,2.0 0 1,0 -4,0M305.4,422.92a2.0,2.0 0 1,0 4,0a2.0,2.0 0 1,0 -4,0M305.33,409.08a2.0,2.0 0 1,0 4,0a2.0,2.0 0 1,0 -4,0M305.35,426.3a2.0,2.0 0 1,0 4,0a2.0,2.0 0 1,0 -4,0M306.1,433.44a2.0,2.0 0 1,0 4,0a2.0,2.0 0 1,0 -4,0M306.51,410.7a2.0,2.0 0 1,0 4,0a2.0,2.0 0 1,0 -4,0M305.96,418.77a2.0,2.0 0 1,0 4,0a2.0,2.0 0 1,0 -4,0M307.21,418.14a2.0,2.0 0 1,0 4,0a2.0,2.0 0 1,0 -4,0M306.57,408.73a2.0,2.0 0 1,0 4,0a2.0,2.0 0 1,0 -4,0M307.29,425.05a2.0,2.0 0 1,0 4,0a2.0,2.0 0 1,0 -4,0M307.16,419.46a2.0,2.0 0 1,0 4,0a2.0,2.0 0 1,0 -4,0M307.86,421.98a2.0,2.0 0 1,0 4,0a2.0,2.0 0 1,0 -4,0M307.55,414.12a2.0,2.0 0 1,0 4,0a2.0,2.0 0 1,0 -4,0M307.78,414.07a2.0,2.0 0 1,0 4,0a2.0,2.0 0 1,0 -4,0" fill="none" stroke="#4d6fe6" stroke-width="1"/>
<path d="M68.79,408.77a2.0,2.0 0 1,0 4,0a2.0,2.0 0 1,0 -4,0M68.93,417.46a2.0,2.0 0 1,0 4,0a2.0,2.0 0 1,0 -4,0M69.32,407.98a2.0,2.0 0 1,0 4,0a2.0,2.0 0 1,0 -4,0M69.64,405.49a2.0,2.0 0 1,0 4,0a2.0,2.0 0 1,0 -4,0M69.8,424.98a2.0,2.0 0 1,0 4,0a2.0,2.0 0 1,0 -4,0M69.88,408.99a2.0,2.0 0 1,0 4,0a2.0,2.0 0 1,0 -4,0M70.27,411.2a2.0,2.0 0 1,0 4,0a2.0,2.0 0 1,0 -4,0M70.46,415.78a2.0,2.0 0 1,0 4,0a2.0,2.0 0 1,0 -4,0M70.9,406.63a2.0,2.0 0 1,0 4,0a2.0,2.0 0 1,0 -4,0M70.82,407.43a2.0,2.0 0 1,0 4,0a2.0,2.0 0 1,0 -4,0M71.16,405.6a2.0,2.0 0 1,0 4,0a2.0,2.0 0 1,0 -4,0M71.39,407.9a2.0,2.0 0 1,0 4,0a2.0,2.0 0 1,0 -4,0M71.49,404.24a2.0,2.0 0 1,0 4,0a2.0,2.0 0 1,0 -4,0M71.83,410.11a2.0,2.0 0 1,0 4,0a2.0,2.0 0 1,0 -4,0M72.57,408.4a2.0,2.0 0 1,0 4,0a2.0,2.0 0 1,0 -4,0M72.78,415.24a2.0,2.0 0 1,0 4,0a2.0,2.0 0 1,0 -4,0M72.47,406.54a2.0,2.0 0 1,0 4,0a2.0,2.0 0 1,0 -4,0M73.34,404.64a2.0,2.0 0 1,0 4,0a2.0,2.0 0 1,0 -4,0M73.05,407.98a2.0,2.0 0 1,0 4,0a2.0,2.0 0 1,0 -4,0M73.51,416.96a2.0,2.0 0 1,0 4,0a2.0,2.0 0 1,0 -4,0M73.84,406.3a2.0,2.0 0 1,0 4,0a2.0,2.0 0 1,0 -4,0M73.61,406.95a2.0,2.0 0 1,0 4,0a2.0,2.0 0 1,0 -4,0M74.03,423.93a2.0,2.0 0 1,0 4,0a2.0,2.0 0 1,0 -4,0M74.3,412.19a2.0,2.0 0 1,0 4,0a2.0,2.0 0 1,0 -4,0M74.56,403.12a2.0,2.0 0 1,0 4,0a2.0,2.0 0 1,0 -4,0M74.92,407.52a2.0,2.0 0 1,0 4,0a2.0,2.0 0 1,0 -4,0M75.24,407.53a2.0,2.0 0 1,0 4,0a2.0,2.0 0 1,0 -4,0M75.43,414.39a2.0,2.0 0 1,0 4,0a2.0,2.0 0 1,0 -4,0M75.69,418.15a2.0,2.0 0 1,0 4,0a2.0,2.0 0 1,0 -4,0M76.04,408.35a2.0,2.0 0 1,0 4,0a2.0,2.0 0 1,0 -4,0M75.81,422.08a2.0,2.0 0 1,0 4,0a2.0,2.0 0 1,0 -4,0M76.3,432.21a2.0,2.0 0 1,0 4,0a2.0,2.0 0 1,0 -4,0M77.04,407.11a2.0,2.0 0 1,0 4,0a2.0,2.0 0 1,0 -4,0M76.72,410.96a2.0,2.0 0 1,0 4,0a2.0,2.0 0 1,0 -4,0M77.26,407.65a2.0,2.0 0 1,0 4,0a2.0,2.0 0 1,0 -4,0M77.33,400.68a2.0,2.0 0 1,0 4,0a2.0,2.0 0 1,0 -4,0M77.42,404.39a2.0,2.0 0 1,0 4,0a2.0,2.0 0 1,0 -4,0M78.01,409.05a2.0,2.0 0 1,0 4,0a2.0,2.0 0 1,0 -4,0M78.2,405.21a2.0,2.0 0 1,0 4,0a2.0,2.0 0 1,0 -4,0M78.25,418.52a2.0,2.0 0 1,0 4,0a2.0,2.0 0 1,0 -4,0M78.21,401.24a2.0,2.0 0 1,0 4,0a2.0,2.0 0 1,0 -4,0M79.05,416a2.0,2.0 0 1,0 4,0a2.0,2.0 0 1,0 -4,0M79.25,415.52a2.0,2.0 0 1,0 4,0a2.0,2.0 0 1,0 -4,0M79.34,426.06a2.0,2.0 0 1,0 4,0a2.0,2.0 0 1,0 -4,0M79.64,410.01a2.0,2.0 0 1,0 4,0a2.0,2.0 0 1,0 -4,0M80.2,420.27a2.0,2.0 0 1,0 4,0a2.0,2.0 0 1,0 -4,0M80.28,415.03a2.0,2.0 0 1,0 4,0a2.0,2.0 0 1,0 -4,0M80.86,416.53a2.0,2.0 0 1,0 4,0a2.0,2.0 0 1,0 -4,0M80.87,414.69a2.0,2.0 0 1,0 4,0a2.0,2.0 0 1,0 -4,0M81.21,414.59a2.0,2.0 0 1,0 4,0a2.0,2.0 0 1,0 -4,0M81.14,407.36a2.0,2.0 0 1,0 4,0a2.0,2.0 0 1,0 -4,0M81.08,416.69a2.0,2.0 0 1,0 4,0a2.0,2.0 0 1,0 -4,0M81.57,405.28a2.0,2.0 0 1,0 4,0a2.0,2.0 0 1,0 -4,0M81.69,415.93a2.0,2.0 0 1,0 4,0a2.0,2.0 0 1,0 -4,0M82.27,410.39a2.0,2.0 0 1,0 4,0a2.0,2.0 0 1,0 -4,0M82.38,411.66a2.0,2.0 0 1,0 4,0a2.0,2.0 0 1,0 -4,0M82.41,411.09a2.0,2.0 0 1,0 4,0a2.0,2.0 0 1,0 -4,0M82.83,412.93a2.0,2.0 0 1,0 4,0a2.0,2.0 0 1,0 -4,0M83.3,405.37a2.0,2.0 0 1,0 4,0a2.0,2.0 0 1,0 -4,0M82.98,408.75a2.0,2.0 0 1,0 4,0a2.0,2.0 0 1,0 -4,0M83.55,408.18a2.0,2.0 0 1,0 4,0a2.0,2.0 0 1,0 -4,0M83.77,428.92a2.0,2.0 0 1,0 4,0a2.0,2.0 0 1,0 -4,0M83.91,419.48a2.0,2.0 0 1,0 4,0a2.0,2.0 0 1,0 -4,0M84.07,423.8a2.0,2.0 0 1,0 4,0a2.0,2.0 0 1,0 -4,0M84.27,426.55a2.0,2.0 0 1,0 4,0a2.0,2.0 0 1,0 -4,0M84.86,411.64a2.0,2.0 0 1,0 4,0a2.0,2.0 0 1,0 -4,0M85.07,413.97a2.0,2.0 0 1,0 4,0a2.0,2.0 0 1,0 -4,0M85.53,419.08a2.0,2.0 0 1,0 4,0a2.0,2.0 0 1,0 -4,0M85.33,416.72a2.0,2.0 0 1,0 4,0a2.0,2.0 0 1,0 -4,0M85.76,404.97a2.0,2.0 0 1,0 4,0a2.0,2.0 0 1,0 -4,0M86.27,413.87a2.0,2.0 0 1,0 4,0a2.0,2.0 0 1,0 -4,0M86.66,407.66a2.0,2.0 0 1,0 4,0a2.0,2.0 0 1,0 -4,0M86.75,413.98a2.0,2.0 0 1,0 4,0a2.0,2.0 0 1,0 -4,0M86.76,406.73a2.0,2.0 0 1,0 4,0a2.0,2.0 0 1,0 -4,0M87.19,406.11a2.0,2.0 0 1,0 4,0a2.0,2.0 0 1,0 -4,0M87.41,415.18a2.0,2.0 0 1,0 4,0a2.0,2.0 0 1,0 -4,0M87.49,406.23a2.0,2.0 0 1,0 4,0a2.0,2.0 0 1,0 -4,0M88.06,417.15a2.0,2.0 0 1,0 4,0a2.0,2.0 0 1,0 -4,0M87.95,411.77a2.0,2.0 0 1,0 4,0a2.0,2.0 0 1,0 -4,0M88.38,405.8a2.0,2.0 0 1,0 4,0a2.0,2.0 0 1,0 -4,0M88.77,410.13a2.0,2.0 0 1,0 4,0a2.0,2.0 0 1,0 -4,0M89.1,410.8a2.0,2.0 0 1,0 4,0a2.0,2.0 0 1,0 -4,0M88.85,409.68a2.0,2.0 0 1,0 4,0a2.0,2.0 0 1,0 -4,0M89.18,410.95a2.0,2.0 0 1,0 4,0a2.0,2.0 0 1,0 -4,0M89.56,414.91a2.0,2.0 0 1,0 4,0a2.0,2.0 0 1,0 -4,0M89.58,409.98a2.0,2.0 0 1,0 4,0a2.0,2.0 0 1,0 -4,0M89.88,404.28a2.0,2.0 0 1,0 4,0a2.0,2.0 0 1,0 -4,0M90.14,421.1a2.0,2.0 0 1,0 4,0a2.0,2.0 0 1,0 -4,0M90.79,407.75a2.0,2.0 0 1,0 4,0a2.0,2.0 0 1,0 -4,0M90.61,405.13a2.0,2.0 0 1,0 4,0a2.0,2.0 0 1,0 -4,0M91.19,416.01a2.0,2.0 0 1,0 4,0a2.0,2.0 0 1,0 -4,0M90.99,408.94a2.0,2.0 0 1,0 4,0a2.0,2.0 0 1,0 -4,0M91.66,404.95a2.0,2.0 0 1,0 4,0a2.0,2.0 0 1,0 -4,0M91.72,409.13a2.0,2.0 0 1,0 4,0a2.0,2.0 0 1,0 -4,0M92.02,407.75a2.0,2.0 0 1,0 4,0a2.0,2.0 0 1,0 -4,0M92.36,407.63a2.0,2.0 0 1,0 4,0a2.0,2.0 0 1,0 -4,0M92.31,412.51a2.0,2.0 0 1,0 4,0a2.0,2.0 0 1,0 -4,0M92.85,411.56a2.0,2.0 0 1,0 4,0a2.0,2.0 0 1,0 -4,0M93.08,405.29a2.0,2.0 0 1,0 4,0a2.0,2.0 0 1,0 -4,0M93.38,413.42a2.0,2.0 0 1,0 4,0a2.0,2.0 0 1,0 -4,0M93.72,444.15a2.0,2.0 0 1,0 4,0a2.0,2.0 0 1,0 -4,0M94.05,406.81a2.0,2.0 0 1,0 4,0a2.0,2.0 0 1,0 -4,0M93.66,402.6a2.0,2.0 0 1,0 4,0a2.0,2.0 0 1,0 -4,0M94.24,410.52a2.0,2.0 0 1,0 4,0a2.0,2.0 0 1,0 -4,0M94.71,412.14a2.0,2.0 0 1,0 4,0a2.0,2.0 0 1,0 -4,0M94.7,425.81a2.0,2.0 0 1,0 4,0a2.0,2.0 0 1,0 -4,0M94.77,408.18a2.0,2.0 0 1,0 4,0a2.0,2.0 0 1,0 -4,0M94.98,409.3a2.0,2.0 0 1,0 4,0a2.0,2.0 0 1,0 -4,0M94.93,430.92a2.0,2.0 0 1,0 4,0a2.0,2.0 0 1,0 -4,0M95.75,416.06a2.0,2.0 0 1,0 4,0a2.0,2.0 0 1,0 -4,0M95.31,410.86a2.0,2.0 0 1,0 4,0a2.0,2.0 0 1,0 -4,0M96.61,406.07a2.0,2.0 0 1,0 4,0a2.0,2.0 0 1,0 -4,0M96.52,410.31a2.0,2.0 0 1,0 4,0a2.0,2.0 0 1,0 -4,0M96.92,421.65a2.0,2.0 0 1,0 4,0a2.0,2.0 0 1,0 -4,0M96.82,410.41a2.0,2.0 0 1,0 4,0a2.0,2.0 0 1,0 -4,0M97.2,411.88a2.0,2.0 0 1,0 4,0a2.0,2.0 0 1,0 -4,0M97.33,407.51a2.0,2.0 0 1,0 4,0a2.0,2.0 0 1,0 -4,0M97.56,401.05a2.0,2.0 0 1,0 4,0a2.0,2.0 0 1,0 -4,0M97.92,407.71a2.0,2.0 0 1,0 4,0a2.0,2.0 0 1,0 -4,0M98.65,407.39a2.0,2.0 0 1,0 4,0a2.0,2.0 0 1,0 -4,0M98.19,415.81a2.0,2.0 0 1,0 4,0a2.0,2.0 0 1,0 -4,0M98.58,406.77a2.0,2.0 0 1,0 4,0a2.0,2.0 0 1,0 -4,0M98.64,411.51a2.0,2.0 0 1,0 4,0a2.0,2.0 0 1,0 -4,0M99.1,408.35a2.0,2.0 0 1,0 4,0a2.0,2.0 0 1,0 -4,0M99.1,405.25a2.0,2.0 0 1,0 4,0a2.0,2.0 0 1,0 -4,0M99.68,412.54a2.0,2.0 0 1,0 4,0a2.0,2.0 0 1,0 -4,0M99.94,408.68a2.0,2.0 0 1,0 4,0a2.0,2.0 0 1,0 -4,0M100.11,404.98a2.0,2.0 0 1,0 4,0a2.0,2.0 0 1,0 -4,0M99.78,407.45a2.0,2.0 0 1,0 4,0a2.0,2.0 0 1,0 -4,0M100.59,414.95a2.0,2.0 0 1,0 4,0a2.0,2.0 0 1,0 -4,0M100.63,424.02a2.0,2.0 0 1,0 4,0a2.0,2.0 0 1,0 -4,0M101.4,405.64a2.0,2.0 0 1,0 4,0a2.0,2.0 0 1,0 -4,0M101.23,408.89a2.0,2.0 0 1,0 4,0a2.0,2.0 0 1,0 -4,0M101.38,401.39a2.0,2.0 0 1,0 4,0a2.0,2.0 0 1,0 -4,0M102.03,405.69a2.0,2.0 0 1,0 4,0a2.0,2.0 0 1,0 -4,0M102.25,405.52a2.0,2.0 0 1,0 4,0a2.0,2.0 0 1,0 -4,0M102.2,405.9a2.0,2.0 0 1,0 4,0a2.0,2.0 0 1,0 -4,0M102.69,409.94a2.0,2.0 0 1,0 4,0a2.0,2.0 0 1,0 -4,0M102.34,402.3a2.0,2.0 0 1,0 4,0a2.0,2.0 0 1,0 -4,0M103.02,419.47a2.0,2.0 0 1,0 4,0a2.0,2.0 0 1,0 -4,0M103.5,417.4a2.0,2.0 0 1,0 4,0a2.0,2.0 0 1,0 -4,0M103.65,409.09a2.0,2.0 0 1,0 4,0a2.0,2.0 0 1,0 -4,0M103.44,412.33a2.0,2.0 0 1,0 4,0a2.0,2.0 0 1,0 -4,0M103.85,415a2.0,2.0 0 1,0 4,0a2.0,2.0 0 1,0 -4,0M103.99,407.54a2.0,2.0 0 1,0 4,0a2.0,2.0 0 1,0 -4,0M104.72,416.9a2.0,2.0 0 1,0 4,0a2.0,2.0 0 1,0 -4,0M104.63,410.37a2.0,2.0 0 1,0 4,0a2.0,2.0 0 1,0 -4,0M105.06,412.02a2.0,2.0 0 1,0 4,0a2.0,2.0 0 1,0 -4,0M105.14,409.7a2.0,2.0 0 1,0 4,0a2.0,2.0 0 1,0 -4,0M105.73,408.2a2.0,2.0 0 1,0 4,0a2.0,2.0 0 1,0 -4,0M105.6,408.48a2.0,2.0 0 1,0 4,0a2.0,2.0 0 1,0 -4,0M106.14,407.42a2.0,2.0 0 1,0 4,0a2.0,2.0 0 1,0 -4,0M106.52,410.03a2.0,2.0 0 1,0 4,0a2.0,2.0 0 1,0 -4,0M106.54,407.27a2.0,2.0 0 1,0 4,0a2.0,2.0 0 1,0 -4,0M106.97,416.23a2.0,2.0 0 1,0 4,0a2.0,2.0 0 1,0 -4,0M106.79,411.66a2.0,2.0 0 1,0 4,0a2.0,2.0 0 1,0 -4,0M107.42,403.44a2.0,2.0 0 1,0 4,0a2.0,2.0 0 1,0 -4,0M107.64,409.71a2.0,2.0 0 1,0 4,0a2.0,2.0 0 1,0 -4,0M107.8,411.03a2.0,2.0 0 1,0 4,0a2.0,2.0 0 1,0 -4,0M108.03,406.16a2.0,2.0 0 1,0 4,0a2.0,2.0 0 1,0 -4,0M108,407.6a2.0,2.0 0 1,0 4,0a2.0,2.0 0 1,0 -4,0M108.81,404.85a2.0,2.0 0 1,0 4,0a2.0,2.0 0 1,0 -4,0M108.62,406.84a2.0,2.0 0 1,0 4,0a2.0,2.0 0 1,0 -4,0M109.09,403.53a2.0,2.0 0 1,0 4,0a2.0,2.0 0 1,0 -4,0M109.27,410.41a2.0,2.0 0 1,0 4,0a2.0,2.0 0 1,0 -4,0M108.91,409.55a2.0,2.0 0 1,0 4,0a2.0,2.0 0 1,0 -4,0M109.87,412.26a2.0,2.0 0 1,0 4,0a2.0,2.0 0 1,0 -4,0M109.88,406.67a2.0,2.0 0 1,0 4,0a2.0,2.0 0 1,0 -4,0M109.83,407.96a2.0,2.0 0 1,0 4,0a2.0,2.0 0 1,0 -4,0M110.83,413.1a2.0,2.0 0 1,0 4,0a2.0,2.0 0 1,0 -4,0M110.52,427.55a2.0,2.0 0 1,0 4,0a2.0,2.0 0 1,0 -4,0M110.66,406.03a2.0,2.0 0 1,0 4,0a2.0,2.0 0 1,0 -4,0M111.29,407.58a2.0,2.0 0 1,0 4,0a2.0,2.0 0 1,0 -4,0M111.56,408.18a2.0,2.0 0 1,0 4,0a2.0,2.0 0 1,0 -4,0M111.7,406.92a2.0,2.0 0 1,0 4,0a2.0,2.0 0 1,0 -4,0M111.66,409.59a2.0,2.0 0 1,0 4,0a2.0,2.0 0 1,0 -4,0M111.95,421.38a2.0,2.0 0 1,0 4,0a2.0,2.0 0 1,0 -4,0M112.69,404.33a2.0,2.0 0 1,0 4,0a2.0,2.0 0 1,0 -4,0M112.77,422.39a2.0,2.0 0 1,0 4,0a2.0,2.0 0 1,0 -4,0M112.62,411.73a2.0,2.0 0 1,0 4,0a2.0,2.0 0 1,0 -4,0M113.4,406.1a2.0,2.0 0 1,0 4,0a2.0,2.0 0 1,0 -4,0M113.19,408.51a2.0,2.0 0 1,0 4,0a2.0,2.0 0 1,0 -4,0M113.64,410.87a2.0,2.0 0 1,0 4,0a2.0,2.0 0 1,0 -4,0M114.17,410.1a2.0,2.0 0 1,0 4,0a2.0,2.0 0 1,0 -4,0M114.15,411.44a2.0,2.0 0 1,0 4,0a2.0,2.0 0 1,0 -4,0M114.15,409.6a2.0,2.0 0 1,0 4,0a2.0,2.0 0 1,0 -4,0M114.56,407.82a2.0,2.0 0 1,0 4,0a2.0,2.0 0 1,0 -4,0M114.78,413.56a2.0,2.0 0 1,0 4,0a2.0,2.0 0 1,0 -4,0M115.1,407.55a2.0,2.0 0 1,0 4,0a2.0,2.0 0 1,0 -4,0M115.42,406.08a2.0,2.0 0 1,0 4,0a2.0,2.0 0 1,0 -4,0M115.75,405.21a2.0,2.0 0 1,0 4,0a2.0,2.0 0 1,0 -4,0M115.68,412.44a2.0,2.0 0 1,0 4,0a2.0,2.0 0 1,0 -4,0M116.27,408.02a2.0,2.0 0 1,0 4,0a2.0,2.0 0 1,0 -4,0M116.72,410.49a2.0,2.0 0 1,0 4,0a2.0,2.0 0 1,0 -4,0M116.72,404.34a2.0,2.0 0 1,0 4,0a2.0,2.0 0 1,0 -4,0M116.92,408.91a2.0,2.0 0 1,0 4,0a2.0,2.0 0 1,0 -4,0M117.46,412.95a2.0,2.0 0 1,0 4,0a2.0,2.0 0 1,0 -4,0M117.51,422.95a2.0,2.0 0 1,0 4,0a2.0,2.0 0 1,0 -4,0M117.98,406.11a2.0,2.0 0 1,0 4,0a2.0,2.0 0 1,0 -4,0M117.77,415.2a2.0,2.0 0 1,0 4,0a2.0,2.0 0 1,0 -4,0M118.2,412.26a2.0,2.0 0 1,0 4,0a2.0,2.0 0 1,0 -4,0M118.37,406.92a2.0,2.0 0 1,0 4,0a2.0,2.0 0 1,0 -4,0M118.42,408.44a2.0,2.0 0 1,0 4,0a2.0,2.0 0 1,0 -4,0M118.8,408.69a2.0,2.0 0 1,0 4,0a2.0,2.0 0 1,0 -4,0M118.95,408.6a2.0,2.0 0 1,0 4,0a2.0,2.0 0 1,0 -4,0M119.26,406.85a2.0,2.0 0 1,0 4,0a2.0,2.0 0 1,0 -4,0M119.7,406.13a2.0,2.0 0 1,0 4,0a2.0,2.0 0 1,0 -4,0M120,405.17a2.0,2.0 0 1,0 4,0a2.0,2.0 0 1,0 -4,0M120.32,411.23a2.0,2.0 0 1,0 4,0a2.0,2.0 0 1,0 -4,0M120.6,410.68a2.0,2.0 0 1,0 4,0a2.0,2.0 0 1,0 -4,0M120.55,412.4a2.0,2.0 0 1,0 4,0a2.0,2.0 0 1,0 -4,0M120.61,408.36a2.0,2.0 0 1,0 4,0a2.0,2.0 0 1,0 -4,0M120.76,409.75a2.0,2.0 0 1,0 4,0a2.0,2.0 0 1,0 -4,0M120.87,405.3a2.0,2.0 0 1,0 4,0a2.0,2.0 0 1,0 -4,0M121.45,416.8a2.0,2.0 0 1,0 4,0a2.0,2.0 0 1,0 -4,0M121.87,412.36a2.0,2.0 0 1,0 4,0a2.0,2.0 0 1,0 -4,0M121.78,411.72a2.0,2.0 0 1,0 4,0a2.0,2.0 0 1,0 -4,0M122.21,414.14a2.0,2.0 0 1,0 4,0a2.0,2.0 0 1,0 -4,0M123.01,405.82a2.0,2.0 0 1,0 4,0a2.0,2.0 0 1,0 -4,0M123.07,411.9a2.0,2.0 0 1,0 4,0a2.0,2.0 0 1,0 -4,0M123.31,409.61a2.0,2.0 0 1,0 4,0a2.0,2.0 0 1,0 -4,0M123.65,410.15a2.0,2.0 0 1,0 4,0a2.0,2.0 0 1,0 -4,0M123.5,406.6a2.0,2.0 0 1,0 4,0a2.0,2.0 0 1,0 -4,0M123.89,406.58a2.0,2.0 0 1,0 4,0a2.0,2.0 0 1,0 -4,0M123.91,403.91a2.0,2.0 0 1,0 4,0a2.0,2.0 0 1,0 -4,0M124.03,407.09a2.0,2.0 0 1,0 4,0a2.0,2.0 0 1,0 -4,0M124.19,412.89a2.0,2.0 0 1,0 4,0a2.0,2.0 0 1,0 -4,0M124.44,410.36a2.0,2.0 0 1,0 4,0a2.0,2.0 0 1,0 -4,0M124.87,409.46a2.0,2.0 0 1,0 4,0a2.0,2.0 0 1,0 -4,0M125.34,408.16a2.0,2.0 0 1,0 4,0a2.0,2.0 0 1,0 -4,0M125.61,406.62a2.0,2.0 0 1,0 4,0a2.0,2.0 0 1,0 -4,0M125.67,405.66a2.0,2.0 0 1,0 4,0a2.0,2.0 0 1,0 -4,0M125.75,407.99a2.0,2.0 0 1,0 4,0a2.0,2.0 0 1,0 -4,0M126.49,407.85a2.0,2.0 0 1,0 4,0a2.0,2.0 0 1,0 -4,0M126.69,404.66a2.0,2.0 0 1,0 4,0a2.0,2.0 0 1,0 -4,0M126.28,418.14a2.0,2.0 0 1,0 4,0a2.0,2.0 0 1,0 -4,0M127.05,408.97a2.0,2.0 0 1,0 4,0a2.0,2.0 0 1,0 -4,0M127.26,407.64a2.0,2.0 0 1,0 4,0a2.0,2.0 0 1,0 -4,0M127.44,411.34a2.0,2.0 0 1,0 4,0a2.0,2.0 0 1,0 -4,0M128.1,411.53a2.0,2.0 0 1,0 4,0a2.0,2.0 0 1,0 -4,0M128.12,406.34a2.0,2.0 0 1,0 4,0a2.0,2.0 0 1,0 -4,0M128.62,404.45a2.0,2.0 0 1,0 4,0a2.0,2.0 0 1,0 -4,0M128.34,417.94a2.0,2.0 0 1,0 4,0a2.0,2.0 0 1,0 -4,0M128.86,411.28a2.0,2.0 0 1,0 4,0a2.0,2.0 0 1,0 -4,0M128.93,409.45a2.0,2.0 0 1,0 4,0a2.0,2.0 0 1,0 -4,0M129.28,407.7a2.0,2.0 0 1,0 4,0a2.0,2.0 0 1,0 -4,0M129.4,406.77a2.0,2.0 0 1,0 4,0a2.0,2.0 0 1,0 -4,0M129.85,403.06a2.0,2.0 0 1,0 4,0a2.0,2.0 0 1,0 -4,0M130.07,413.17a2.0,2.0 0 1,0 4,0a2.0,2.0 0 1,0 -4,0M130.05,407.28a2.0,2.0 0 1,0 4,0a2.0,2.0 0 1,0 -4,0M130.69,415.69a2.0,2.0 0 1,0 4,0a2.0,2.0 0 1,0 -4,0M130.67,411.6a2.0,2.0 0 1,0 4,0a2.0,2.0 0 1,0 -4,0M130.66,407.17a2.0,2.0 0 1,0 4,0a2.0,2.0 0 1,0 -4,0M130.61,402.45a2.0,2.0 0 1,0 4,0a2.0,2.0 0 1,0 -4,0M131.06,408.12a2.0,2.0 0 1,0 4,0a2.0,2.0 0 1,0 -4,0M132.02,424.91a2.0,2.0 0 1,0 4,0a2.0,2.0 0 1,0 -4,0M131.57,423.95a2.0,2.0 0 1,0 4,0a2.0,2.0 0 1,0 -4,0M132.59,422.59a2.0,2.0 0 1,0 4,0a2.0,2.0 0 1,0 -4,0M132.03,427.58a2.0,2.0 0 1,0 4,0a2.0,2.0 0 1,0 -4,0M132.69,409.46a2.0,2.0 0 1,0 4,0a2.0,2.0 0 1,0 -4,0M132.92,409.52a2.0,2.0 0 1,0 4,0a2.0,2.0 0 1,0 -4,0M133.41,411.69a2.0,2.0 0 1,0 4,0a2.0,2.0 0 1,0 -4,0M133.3,412.15a2.0,2.0 0 1,0 4,0a2.0,2.0 0 1,0 -4,0M133.72,408.3a2.0,2.0 0 1,0 4,0a2.0,2.0 0 1,0 -4,0M134.19,406.21a2.0,2.0 0 1,0 4,0a2.0,2.0 0 1,0 -4,0M134.16,415.2a2.0,2.0 0 1,0 4,0a2.0,2.0 0 1,0 -4,0M134.35,405.59a2.0,2.0 0 1,0 4,0a2.0,2.0 0 1,0 -4,0M134.94,407.83a2.0,2.0 0 1,0 4,0a2.0,2.0 0 1,0 -4,0M135.11,418.93a2.0,2.0 0 1,0 4,0a2.0,2.0 0 1,0 -4,0M135.13,408.78a2.0,2.0 0 1,0 4,0a2.0,2.0 0 1,0 -4,0M135.32,403.67a2.0,2.0 0 1,0 4,0a2.0,2.0 0 1,0 -4,0M135.79,420.83a2.0,2.0 0 1,0 4,0a2.0,2.0 0 1,0 -4,0M135.97,406.48a2.0,2.0 0 1,0 4,0a2.0,2.0 0 1,0 -4,0M136.25,407.79a2.0,2.0 0 1,0 4,0a2.0,2.0 0 1,0 -4,0M135.95,405.19a2.0,2.0 0 1,0 4,0a2.0,2.0 0 1,0 -4,0M136.53,410.37a2.0,2.0 0 1,0 4,0a2.0,2.0 0 1,0 -4,0M137.06,409.87a2.0,2.0 0 1,0 4,0a2.0,2.0 0 1,0 -4,0M136.9,408.74a2.0,2.0 0 1,0 4,0a2.0,2.0 0 1,0 -4,0M137.35,408.03a2.0,2.0 0 1,0 4,0a2.0,2.0 0 1,0 -4,0M137.77,404.95a2.0,2.0 0 1,0 4,0a2.0,2.0 0 1,0 -4,0M137.96,405.21a2.0,2.0 0 1,0 4,0a2.0,2.0 0 1,0 -4,0M138.08,415.28a2.0,2.0 0 1,0 4,0a2.0,2.0 0 1,0 -4,0M138.26,401.84a2.0,2.0 0 1,0 4,0a2.0,2.0 0 1,0 -4,0M138.82,411.53a2.0,2.0 0 1,0 4,0a2.0,2.0 0 1,0 -4,0M139.08,409.59a2.0,2.0 0 1,0 4,0a2.0,2.0 0 1,0 -4,0M139.29,407.01a2.0,2.0 0 1,0 4,0a2.0,2.0 0 1,0 -4,0M139.31,410.29a2.0,2.0 0 1,0 4,0a2.0,2.0 0 1,0 -4,0M139.5,410.38a2.0,2.0 0 1,0 4,0a2.0,2.0 0 1,0 -4,0M139.76,409.85a2.0,2.0 0 1,0 4,0a2.0,2.0 0 1,0 -4,0M140.25,406.85a2.0,2.0 0 1,0 4,0a2.0,2.0 0 1,0 -4,0M140.42,409.13a2.0,2.0 0 1,0 4,0a2.0,2.0 0 1,0 -4,0M140.84,406.78a2.0,2.0 0 1,0 4,0a2.0,2.0 0 1,0 -4,0M140.83,408.46a2.0,2.0 0 1,0 4,0a2.0,2.0 0 1,0 -4,0M141.26,411.71a2.0,2.0 0 1,0 4,0a2.0,2.0 0 1,0 -4,0M140.97,408.37a2.0,2.0 0 1,0 4,0a2.0,2.0 0 1,0 -4,0M141.45,413.29a2.0,2.0 0 1,0 4,0a2.0,2.0 0 1,0 -4,0M141.62,414.52a2.0,2.0 0 1,0 4,0a2.0,2.0 0 1,0 -4,0M141.84,418a2.0,2.0 0 1,0 4,0a2.0,2.0 0 1,0 -4,0M142.39,407.46a2.0,2.0 0 1,0 4,0a2.0,2.0 0 1,0 -4,0M142.72,410.69a2.0,2.0 0 1,0 4,0a2.0,2.0 0 1,0 -4,0M142.62,415.37a2.0,2.0 0 1,0 4,0a2.0,2.0 0 1,0 -4,0M143,408.46a2.0,2.0 0 1,0 4,0a2.0,2.0 0 1,0 -4,0M143.18,410.51a2.0,2.0 0 1,0 4,0a2.0,2.0 0 1,0 -4,0M143.82,416.05a2.0,2.0 0 1,0 4,0a2.0,2.0 0 1,0 -4,0M143.87,407.42a2.0,2.0 0 1,0 4,0a2.0,2.0 0 1,0 -4,0M144.08,421.24a2.0,2.0 0 1,0 4,0a2.0,2.0 0 1,0 -4,0M144.44,412.53a2.0,2.0 0 1,0 4,0a2.0,2.0 0 1,0 -4,0M144.59,408.43a2.0,2.0 0 1,0 4,0a2.0,2.0 0 1,0 -4,0M144.79,412.36a2.0,2.0 0 1,0 4,0a2.0,2.0 0 1,0 -4,0M145.2,406.4a2.0,2.0 0 1,0 4,0a2.0,2.0 0 1,0 -4,0M144.59,417.76a2.0,2.0 0 1,0 4,0a2.0,2.0 0 1,0 -4,0M145.54,407.9a2.0,2.0 0 1,0 4,0a2.0,2.0 0 1,0 -4,0M145.63,409.29a2.0,2.0 0 1,0 4,0a2.0,2.0 0 1,0 -4,0M145.99,418.3a2.0,2.0 0 1,0 4,0a2.0,2.0 0 1,0 -4,0M146.3,409.53a2.0,2.0 0 1,0 4,0a2.0,2.0 0 1,0 -4,0M146.47,442.58a2.0,2.0 0 1,0 4,0a2.0,2.0 0 1,0 -4,0M146.59,413.34a2.0,2.0 0 1,0 4,0a2.0,2.0 0 1,0 -4,0M146.93,410.14a2.0,2.0 0 1,0 4,0a2.0,2.0 0 1,0 -4,0M147.05,413.62a2.0,2.0 0 1,0 4,0a2.0,2.0 0 1,0 -4,0M147.41,410.25a2.0,2.0 0 1,0 4,0a2.0,2.0 0 1,0 -4,0M147.93,407.49a2.0,2.0 0 1,0 4,0a2.0,2.0 0 1,0 -4,0M148.01,411.69a2.0,2.0 0 1,0 4,0a2.0,2.0 0 1,0 -4,0M148.12,424a2.0,2.0 0 1,0 4,0a2.0,2.0 0 1,0 -4,0M148.2,413.36a2.0,2.0 0 1,0 4,0a2.0,2.0 0 1,0 -4,0M148.51,406.87a2.0,2.0 0 1,0 4,0a2.0,2.0 0 1,0 -4,0M148.79,424.38a2.0,2.0 0 1,0 4,0a2.0,2.0 0 1,0 -4,0M149.61,407.93a2.0,2.0 0 1,0 4,0a2.0,2.0 0 1,0 -4,0M149.4,409.77a2.0,2.0 0 1,0 4,0a2.0,2.0 0 1,0 -4,0M149.82,417.16a2.0,2.0 0 1,0 4,0a2.0,2.0 0 1,0 -4,0M149.99,409.2a2.0,2.0 0 1,0 4,0a2.0,2.0 0 1,0 -4,0M150.17,407.1a2.0,2.0 0 1,0 4,0a2.0,2.0 0 1,0 -4,0M150.41,418.12a2.0,2.0 0 1,0 4,0a2.0,2.0 0 1,0 -4,0M150.44,405.01a2.0,2.0 0 1,0 4,0a2.0,2.0 0 1,0 -4,0M150.72,417.42a2.0,2.0 0 1,0 4,0a2.0,2.0 0 1,0 -4,0M150.89,413.4a2.0,2.0 0 1,0 4,0a2.0,2.0 0 1,0 -4,0M150.99,419.37a2.0,2.0 0 1,0 4,0a2.0,2.0 0 1,0 -4,0M151.69,413.41a2.0,2.0 0 1,0 4,0a2.0,2.0 0 1,0 -4,0M151.98,410.24a2.0,2.0 0 1,0 4,0a2.0,2.0 0 1,0 -4,0M152.46,408.09a2.0,2.0 0 1,0 4,0a2.0,2.0 0 1,0 -4,0M152.51,410.16a2.0,2.0 0 1,0 4,0a2.0,2.0 0 1,0 -4,0M153.05,406.51a2.0,2.0 0 1,0 4,0a2.0,2.0 0 1,0 -4,0M152.82,405.46a2.0,2.0 0 1,0 4,0a2.0,2.0 0 1,0 -4,0M153.44,408.63a2.0,2.0 0 1,0 4,0a2.0,2.0 0 1,0 -4,0M153.48,405.72a2.0,2.0 0 1,0 4,0a2.0,2.0 0 1,0 -4,0M153.68,407a2.0,2.0 0 1,0 4,0a2.0,2.0 0 1,0 -4,0M153.79,411.98a2.0,2.0 0 1,0 4,0a2.0,2.0 0 1,0 -4,0M154.15,403.61a2.0,2.0 0 1,0 4,0a2.0,2.0 0 1,0 -4,0M154.21,415.85a2.0,2.0 0 1,0 4,0a2.0,2.0 0 1,0 -4,0M154.16,406.98a2.0,2.0 0 1,0 4,0a2.0,2.0 0 1,0 -4,0M154.62,412.54a2.0,2.0 0 1,0 4,0a2.0,2.0 0 1,0 -4,0M155.19,411.49a2.0,2.0 0 1,0 4,0a2.0,2.0 0 1,0 -4,0M155.29,409.21a2.0,2.0 0 1,0 4,0a2.0,2.0 0 1,0 -4,0M155.51,422.63a2.0,2.0 0 1,0 4,0a2.0,2.0 0 1,0 -4,0M155.51,407.01a2.0,2.0 0 1,0 4,0a2.0,2.0 0 1,0 -4,0M155.9,410.03a2.0,2.0 0 1,0 4,0a2.0,2.0 0 1,0 -4,0M156.65,412.7a2.0,2.0 0 1,0 4,0a2.0,2.0 0 1,0 -4,0M156.69,415.57a2.0,2.0 0 1,0 4,0a2.0,2.0 0 1,0 -4,0M156.89,425.41a2.0,2.0 0 1,0 4,0a2.0,2.0 0 1,0 -4,0M156.71,406.51a2.0,2.0 0 1,0 4,0a2.0,2.0 0 1,0 -4,0M157.45,413.7a2.0,2.0 0 1,0 4,0a2.0,2.0 0 1,0 -4,0M157.63,411.78a2.0,2.0 0 1,0 4,0a2.0,2.0 0 1,0 -4,0M157.63,407.6a2.0,2.0 0 1,0 4,0a2.0,2.0 0 1,0 -4,0M158.15,406.86a2.0,2.0 0 1,0 4,0a2.0,2.0 0 1,0 -4,0M158.63,406.89a2.0,2.0 0 1,0 4,0a2.0,2.0 0 1,0 -4,0M158.33,406.18a2.0,2.0 0 1,0 4,0a2.0,2.0 0 1,0 -4,0M158.44,406.58a2.0,2.0 0 1,0 4,0a2.0,2.0 0 1,0 -4,0M159.15,410.53a2.0,2.0 0 1,0 4,0a2.0,2.0 0 1,0 -4,0M159.1,407.93a2.0,2.0 0 1,0 4,0a2.0,2.0 0 1,0 -4,0M159.13,412.38a2.0,2.0 0 1,0 4,0a2.0,2.0 0 1,0 -4,0M159.95,407.5a2.0,2.0 0 1,0 4,0a2.0,2.0 0 1,0 -4,0M159.5,408.88a2.0,2.0 0 1,0 4,0a2.0,2.0 0 1,0 -4,0M159.96,410.25a2.0,2.0 0 1,0 4,0a2.0,2.0 0 1,0 -4,0M160.44,410.64a2.0,2.0 0 1,0 4,0a2.0,2.0 0 1,0 -4,0M160.82,417.07a2.0,2.0 0 1,0 4,0a2.0,2.0 0 1,0 -4,0M160.74,408.48a2.0,2.0 0 1,0 4,0a2.0,2.0 0 1,0 -4,0M160.85,401.77a2.0,2.0 0 1,0 4,0a2.0,2.0 0 1,0 -4,0M161.64,405.52a2.0,2.0 0 1,0 4,0a2.0,2.0 0 1,0 -4,0M161.88,411.85a2.0,2.0 0 1,0 4,0a2.0,2.0 0 1,0 -4,0M161.91,406.07a2.0,2.0 0 1,0 4,0a2.0,2.0 0 1,0 -4,0M162.42,410.52a2.0,2.0 0 1,0 4,0a2.0,2.0 0 1,0 -4,0M162.61,412.21a2.0,2.0 0 1,0 4,0a2.0,2.0 0 1,0 -4,0M163.15,405.49a2.0,2.0 0 1,0 4,0a2.0,2.0 0 1,0 -4,0M163.58,408.21a2.0,2.0 0 1,0 4,0a2.0,2.0 0 1,0 -4,0M163,406.37a2.0,2.0 0 1,0 4,0a2.0,2.0 0 1,0 -4,0M163.26,411.79a2.0,2.0 0 1,0 4,0a2.0,2.0 0 1,0 -4,0M163.16,406.27a2.0,2.0 0 1,0 4,0a2.0,2.0 0 1,0 -4,0M163.91,412.93a2.0,2.0 0 1,0 4,0a2.0,2.0 0 1,0 -4,0M164.14,408.21a2.0,2.0 0 1,0 4,0a2.0,2.0 0 1,0 -4,0M164.65,411.34a2.0,2.0 0 1,0 4,0a2.0,2.0 0 1,0 -4,0M164.76,408.72a2.0,2.0 0 1,0 4,0a2.0,2.0 0 1,0 -4,0M164.87,407.28a2.0,2.0 0 1,0 4,0a2.0,2.0 0 1,0 -4,0M165.01,408.66a2.0,2.0 0 1,0 4,0a2.0,2.0 0 1,0 -4,0M165.75,410.21a2.0,2.0 0 1,0 4,0a2.0,2.0 0 1,0 -4,0M165.71,410.28a2.0,2.0 0 1,0 4,0a2.0,2.0 0 1,0 -4,0M166.01,411.97a2.0,2.0 0 1,0 4,0a2.0,2.0 0 1,0 -4,0M166.56,405.49a2.0,2.0 0 1,0 4,0a2.0,2.0 0 1,0 -4,0M166.12,408.41a2.0,2.0 0 1,0 4,0a2.0,2.0 0 1,0 -4,0M166.93,417.64a2.0,2.0 0 1,0 4,0a2.0,2.0 0 1,0 -4,0M166.67,418.91a2.0,2.0 0 1,0 4,0a2.0,2.0 0 1,0 -4,0M167.12,409.69a2.0,2.0 0 1,0 4,0a2.0,2.0 0 1,0 -4,0M167.69,410.58a2.0,2.0 0 1,0 4,0a2.0,2.0 0 1,0 -4,0M167.53,414.22a2.0,2.0 0 1,0 4,0a2.0,2.0 0 1,0 -4,0M167.62,408.83a2.0,2.0 0 1,0 4,0a2.0,2.0 0 1,0 -4,0M168.12,410.57a2.0,2.0 0 1,0 4,0a2.0,2.0 0 1,0 -4,0M168.43,415.32a2.0,2.0 0 1,0 4,0a2.0,2.0 0 1,0 -4,0M168.81,404.5a2.0,2.0 0 1,0 4,0a2.0,2.0 0 1,0 -4,0M168.7,408.12a2.0,2.0 0 1,0 4,0a2.0,2.0 0 1,0 -4,0M169.1,406.96a2.0,2.0 0 1,0 4,0a2.0,2.0 0 1,0 -4,0M169.09,404.18a2.0,2.0 0 1,0 4,0a2.0,2.0 0 1,0 -4,0M170.01,418.15a2.0,2.0 0 1,0 4,0a2.0,2.0 0 1,0 -4,0M170.38,435.66a2.0,2.0 0 1,0 4,0a2.0,2.0 0 1,0 -4,0M170.04,420.66a2.0,2.0 0 1,0 4,0a2.0,2.0 0 1,0 -4,0M170.44,417.66a2.0,2.0 0 1,0 4,0a2.0,2.0 0 1,0 -4,0M170.75,420.85a2.0,2.0 0 1,0 4,0a2.0,2.0 0 1,0 -4,0M170.78,410.71a2.0,2.0 0 1,0 4,0a2.0,2.0 0 1,0 -4,0M171.36,409.7a2.0,2.0 0 1,0 4,0a2.0,2.0 0 1,0 -4,0M171.45,406.9a2.0,2.0 0 1,0 4,0a2.0,2.0 0 1,0 -4,0M171.84,420.25a2.0,2.0 0 1,0 4,0a2.0,2.0 0 1,0 -4,0M171.72,407.56a2.0,2.0 0 1,0 4,0a2.0,2.0 0 1,0 -4,0M172.41,412.14a2.0,2.0 0 1,0 4,0a2.0,2.0 0 1,0 -4,0M172.44,409.32a2.0,2.0 0 1,0 4,0a2.0,2.0 0 1,0 -4,0M172.99,417.07a2.0,2.0 0 1,0 4,0a2.0,2.0 0 1,0 -4,0M172.88,407.94a2.0,2.0 0 1,0 4,0a2.0,2.0 0 1,0 -4,0M173.17,411.02a2.0,2.0 0 1,0 4,0a2.0,2.0 0 1,0 -4,0M173.42,418.37a2.0,2.0 0 1,0 4,0a2.0,2.0 0 1,0 -4,0M173.8,413.3a2.0,2.0 0 1,0 4,0a2.0,2.0 0 1,0 -4,0M174.15,411.12a2.0,2.0 0 1,0 4,0a2.0,2.0 0 1,0 -4,0M173.91,413.25a2.0,2.0 0 1,0 4,0a2.0,2.0 0 1,0 -4,0M174.17,411.51a2.0,2.0 0 1,0 4,0a2.0,2.0 0 1,0 -4,0M174.43,420.21a2.0,2.0 0 1,0 4,0a2.0,2.0 0 1,0 -4,0M174.89,408.91a2.0,2.0 0 1,0 4,0a2.0,2.0 0 1,0 -4,0M175.08,410.27a2.0,2.0 0 1,0 4,0a2.0,2.0 0 1,0 -4,0M175.14,409.92a2.0,2.0 0 1,0 4,0a2.0,2.0 0 1,0 -4,0M175.6,410.95a2.0,2.0 0 1,0 4,0a2.0,2.0 0 1,0 -4,0M176.13,407.83a2.0,2.0 0 1,0 4,0a2.0,2.0 0 1,0 -4,0M176.09,408.64a2.0,2.0 0 1,0 4,0a2.0,2.0 0 1,0 -4,0M176.69,420.24a2.0,2.0 0 1,0 4,0a2.0,2.0 0 1,0 -4,0M177,403.99a2.0,2.0 0 1,0 4,0a2.0,2.0 0 1,0 -4,0M176.91,410.01a2.0,2.0 0 1,0 4,0a2.0,2.0 0 1,0 -4,0M176.84,409a2.0,2.0 0 1,0 4,0a2.0,2.0 0 1,0 -4,0M177.23,408.78a2.0,2.0 0 1,0 4,0a2.0,2.0 0 1,0 -4,0M177.28,419.55a2.0,2.0 0 1,0 4,0a2.0,2.0 0 1,0 -4,0M177.62,408.36a2.0,2.0 0 1,0 4,0a2.0,2.0 0 1,0 -4,0M178.28,411.29a2.0,2.0 0 1,0 4,0a2.0,2.0 0 1,0 -4,0M178.22,409.04a2.0,2.0 0 1,0 4,0a2.0,2.0 0 1,0 -4,0M178.57,416.14a2.0,2.0 0 1,0 4,0a2.0,2.0 0 1,0 -4,0M178.57,407.19a2.0,2.0 0 1,0 4,0a2.0,2.0 0 1,0 -4,0M178.83,425.06a2.0,2.0 0 1,0 4,0a2.0,2.0 0 1,0 -4,0M179.2,420.24a2.0,2.0 0 1,0 4,0a2.0,2.0 0 1,0 -4,0M179.45,406.21a2.0,2.0 0 1,0 4,0a2.0,2.0 0 1,0 -4,0M180.07,436.43a2.0,2.0 0 1,0 4,0a2.0,2.0 0 1,0 -4,0M180.33,416.93a2.0,2.0 0 1,0 4,0a2.0,2.0 0 1,0 -4,0M180.08,420.48a2.0,2.0 0 1,0 4,0a2.0,2.0 0 1,0 -4,0M180.17,408.5a2.0,2.0 0 1,0 4,0a2.0,2.0 0 1,0 -4,0M180.71,406.48a2.0,2.0 0 1,0 4,0a2.0,2.0 0 1,0 -4,0M180.89,418.77a2.0,2.0 0 1,0 4,0a2.0,2.0 0 1,0 -4,0M181.49,429.04a2.0,2.0 0 1,0 4,0a2.0,2.0 0 1,0 -4,0M181.62,415.05a2.0,2.0 0 1,0 4,0a2.0,2.0 0 1,0 -4,0M182.07,432.4a2.0,2.0 0 1,0 4,0a2.0,2.0 0 1,0 -4,0M181.64,410.56a2.0,2.0 0 1,0 4,0a2.0,2.0 0 1,0 -4,0M182.21,410.31a2.0,2.0 0 1,0 4,0a2.0,2.0 0 1,0 -4,0M182.45,410.89a2.0,2.0 0 1,0 4,0a2.0,2.0 0 1,0 -4,0M182.74,409.19a2.0,2.0 0 1,0 4,0a2.0,2.0 0 1,0 -4,0M182.85,417.24a2.0,2.0 0 1,0 4,0a2.0,2.0 0 1,0 -4,0M183.13,410.91a2.0,2.0 0 1,0 4,0a2.0,2.0 0 1,0 -4,0M183.84,406.4a2.0,2.0 0 1,0 4,0a2.0,2.0 0 1,0 -4,0M183.39,413.6a2.0,2.0 0 1,0 4,0a2.0,2.0 0 1,0 -4,0M183.61,405.68a2.0,2.0 0 1,0 4,0a2.0,2.0 0 1,0 -4,0M184.2,420.9a2.0,2.0 0 1,0 4,0a2.0,2.0 0 1,0 -4,0M184.28,410.13a2.0,2.0 0 1,0 4,0a2.0,2.0 0 1,0 -4,0M184.84,407.42a2.0,2.0 0 1,0 4,0a2.0,2.0 0 1,0 -4,0M185.46,412.01a2.0,2.0 0 1,0 4,0a2.0,2.0 0 1,0 -4,0M184.95,407.04a2.0,2.0 0 1,0 4,0a2.0,2.0 0 1,0 -4,0M185.6,413.99a2.0,2.0 0 1,0 4,0a2.0,2.0 0 1,0 -4,0M185.46,409.05a2.0,2.0 0 1,0 4,0a2.0,2.0 0 1,0 -4,0M185.95,409.26a2.0,2.0 0 1,0 4,0a2.0,2.0 0 1,0 -4,0M185.89,411.19a2.0,2.0 0 1,0 4,0a2.0,2.0 0 1,0 -4,0M186.58,414.08a2.0,2.0 0 1,0 4,0a2.0,2.0 0 1,0 -4,0M186.64,405.86a2.0,2.0 0 1,0 4,0a2.0,2.0 0 1,0 -4,0M187.01,410.28a2.0,2.0 0 1,0 4,0a2.0,2.0 0 1,0 -4,0M187.14,409.73a2.0,2.0 0 1,0 4,0a2.0,2.0 0 1,0 -4,0M187.13,410.74a2.0,2.0 0 1,0 4,0a2.0,2.0 0 1,0 -4,0M187.51,411.9a2.0,2.0 0 1,0 4,0a2.0,2.0 0 1,0 -4,0M187.8,409.17a2.0,2.0 0 1,0 4,0a2.0,2.0 0 1,0 -4,0M188.22,403.96a2.0,2.0 0 1,0 4,0a2.0,2.0 0 1,0 -4,0M188.37,409.81a2.0,2.0 0 1,0 4,0a2.0,2.0 0 1,0 -4,0M188.75,406.1a2.0,2.0 0 1,0 4,0a2.0,2.0 0 1,0 -4,0M188.69,409.14a2.0,2.0 0 1,0 4,0a2.0,2.0 0 1,0 -4,0M189.36,410.38a2.0,2.0 0 1,0 4,0a2.0,2.0 0 1,0 -4,0M189.18,409.48a2.0,2.0 0 1,0 4,0a2.0,2.0 0 1,0 -4,0M189.61,410.97a2.0,2.0 0 1,0 4,0a2.0,2.0 0 1,0 -4,0M190.08,410.78a2.0,2.0 0 1,0 4,0a2.0,2.0 0 1,0 -4,0M190.26,409.13a2.0,2.0 0 1,0 4,0a2.0,2.0 0 1,0 -4,0M190.31,413.97a2.0,2.0 0 1,0 4,0a2.0,2.0 0 1,0 -4,0M190.61,412.82a2.0,2.0 0 1,0 4,0a2.0,2.0 0 1,0 -4,0M191,413.29a2.0,2.0 0 1,0 4,0a2.0,2.0 0 1,0 -4,0M191.14,407.85a2.0,2.0 0 1,0 4,0a2.0,2.0 0 1,0 -4,0M191.57,413.08a2.0,2.0 0 1,0 4,0a2.0,2.0 0 1,0 -4,0M191.44,408.8a2.0,2.0 0 1,0 4,0a2.0,2.0 0 1,0 -4,0M191.81,407.31a2.0,2.0 0 1,0 4,0a2.0,2.0 0 1,0 -4,0M192.04,404.38a2.0,2.0 0 1,0 4,0a2.0,2.0 0 1,0 -4,0M191.9,416.93a2.0,2.0 0 1,0 4,0a2.0,2.0 0 1,0 -4,0M192.7,412.95a2.0,2.0 0 1,0 4,0a2.0,2.0 0 1,0 -4,0M192.64,412.56a2.0,2.0 0 1,0 4,0a2.0,2.0 0 1,0 -4,0M193.49,412.05a2.0,2.0 0 1,0 4,0a2.0,2.0 0 1,0 -4,0M192.83,419.68a2.0,2.0 0 1,0 4,0a2.0,2.0 0 1,0 -4,0M193.41,406.47a2.0,2.0 0 1,0 4,0a2.0,2.0 0 1,0 -4,0M193.88,420.57a2.0,2.0 0 1,0 4,0a2.0,2.0 0 1,0 -4,0M194.36,406.3a2.0,2.0 0 1,0 4,0a2.0,2.0 0 1,0 -4,0M194.02,409.13a2.0,2.0 0 1,0 4,0a2.0,2.0 0 1,0 -4,0M194.53,410.24a2.0,2.0 0 1,0 4,0a2.0,2.0 0 1,0 -4,0M195,418.49a2.0,2.0 0 1,0 4,0a2.0,2.0 0 1,0 -4,0M195.02,413.71a2.0,2.0 0 1,0 4,0a2.0,2.0 0 1,0 -4,0M195.38,411.51a2.0,2.0 0 1,0 4,0a2.0,2.0 0 1,0 -4,0M195.59,408.15a2.0,2.0 0 1,0 4,0a2.0,2.0 0 1,0 -4,0M195.72,408.14a2.0,2.0 0 1,0 4,0a2.0,2.0 0 1,0 -4,0M196.27,412.19a2.0,2.0 0 1,0 4,0a2.0,2.0 0 1,0 -4,0M196.15,409.09a2.0,2.0 0 1,0 4,0a2.0,2.0 0 1,0 -4,0M196.67,410.87a2.0,2.0 0 1,0 4,0a2.0,2.0 0 1,0 -4,0M197.16,421.38a2.0,2.0 0 1,0 4,0a2.0,2.0 0 1,0 -4,0M197.06,408.24a2.0,2.0 0 1,0 4,0a2.0,2.0 0 1,0 -4,0M197.15,416.28a2.0,2.0 0 1,0 4,0a2.0,2.0 0 1,0 -4,0M197.34,408.1a2.0,2.0 0 1,0 4,0a2.0,2.0 0 1,0 -4,0M197.35,417.08a2.0,2.0 0 1,0 4,0a2.0,2.0 0 1,0 -4,0M198.43,410.65a2.0,2.0 0 1,0 4,0a2.0,2.0 0 1,0 -4,0M198,407.51a2.0,2.0 0 1,0 4,0a2.0,2.0 0 1,0 -4,0M198.7,412.52a2.0,2.0 0 1,0 4,0a2.0,2.0 0 1,0 -4,0M198.94,416.79a2.0,2.0 0 1,0 4,0a2.0,2.0 0 1,0 -4,0M198.62,412.54a2.0,2.0 0 1,0 4,0a2.0,2.0 0 1,0 -4,0M199.11,407.99a2.0,2.0 0 1,0 4,0a2.0,2.0 0 1,0 -4,0M199.61,408.2a2.0,2.0 0 1,0 4,0a2.0,2.0 0 1,0 -4,0M199.48,417.11a2.0,2.0 0 1,0 4,0a2.0,2.0 0 1,0 -4,0M199.98,412.12a2.0,2.0 0 1,0 4,0a2.0,2.0 0 1,0 -4,0M199.91,416.49a2.0,2.0 0 1,0 4,0a2.0,2.0 0 1,0 -4,0M200.61,412.7a2.0,2.0 0 1,0 4,0a2.0,2.0 0 1,0 -4,0M200.92,409.76a2.0,2.0 0 1,0 4,0a2.0,2.0 0 1,0 -4,0M201.3,414.12a2.0,2.0 0 1,0 4,0a2.0,2.0 0 1,0 -4,0M201.15,411a2.0,2.0 0 1,0 4,0a2.0,2.0 0 1,0 -4,0M201.07,414.27a2.0,2.0 0 1,0 4,0a2.0,2.0 0 1,0 -4,0M201.67,404.09a2.0,2.0 0 1,0 4,0a2.0,2.0 0 1,0 -4,0M201.92,414.86a2.0,2.0 0 1,0 4,0a2.0,2.0 0 1,0 -4,0M202.38,408.84a2.0,2.0 0 1,0 4,0a2.0,2.0 0 1,0 -4,0M202.23,409.32a2.0,2.0 0 1,0 4,0a2.0,2.0 0 1,0 -4,0M202.54,409.06a2.0,2.0 0 1,0 4,0a2.0,2.0 0 1,0 -4,0M203.31,409.39a2.0,2.0 0 1,0 4,0a2.0,2.0 0 1,0 -4,0M203.67,408.04a2.0,2.0 0 1,0 4,0a2.0,2.0 0 1,0 -4,0M203.74,409.2a2.0,2.0 0 1,0 4,0a2.0,2.0 0 1,0 -4,0M203.56,406.25a2.0,2.0 0 1,0 4,0a2.0,2.0 0 1,0 -4,0M203.92,411.33a2.0,2.0 0 1,0 4,0a2.0,2.0 0 1,0 -4,0M204.11,414.37a2.0,2.0 0 1,0 4,0a2.0,2.0 0 1,0 -4,0M204.45,410.42a2.0,2.0 0 1,0 4,0a2.0,2.0 0 1,0 -4,0M204.79,408.74a2.0,2.0 0 1,0 4,0a2.0,2.0 0 1,0 -4,0M204.99,414.09a2.0,2.0 0 1,0 4,0a2.0,2.0 0 1,0 -4,0M205.16,407.55a2.0,2.0 0 1,0 4,0a2.0,2.0 0 1,0 -4,0M205.33,408.73a2.0,2.0 0 1,0 4,0a2.0,2.0 0 1,0 -4,0M205.41,424.73a2.0,2.0 0 1,0 4,0a2.0,2.0 0 1,0 -4,0M206.13,432.95a2.0,2.0 0 1,0 4,0a2.0,2.0 0 1,0 -4,0M206.64,411.96a2.0,2.0 0 1,0 4,0a2.0,2.0 0 1,0 -4,0M206.44,427.56a2.0,2.0 0 1,0 4,0a2.0,2.0 0 1,0 -4,0M206.86,404.25a2.0,2.0 0 1,0 4,0a2.0,2.0 0 1,0 -4,0M206.96,410.53a2.0,2.0 0 1,0 4,0a2.0,2.0 0 1,0 -4,0M207.12,410.52a2.0,2.0 0 1,0 4,0a2.0,2.0 0 1,0 -4,0M207.71,411.57a2.0,2.0 0 1,0 4,0a2.0,2.0 0 1,0 -4,0M207.47,412.47a2.0,2.0 0 1,0 4,0a2.0,2.0 0 1,0 -4,0M207.47,422.19a2.0,2.0 0 1,0 4,0a2.0,2.0 0 1,0 -4,0M208.15,417.29a2.0,2.0 0 1,0 4,0a2.0,2.0 0 1,0 -4,0M208.81,411.67a2.0,2.0 0 1,0 4,0a2.0,2.0 0 1,0 -4,0M208.4,420.03a2.0,2.0 0 1,0 4,0a2.0,2.0 0 1,0 -4,0M208.74,422.36a2.0,2.0 0 1,0 4,0a2.0,2.0 0 1,0 -4,0M209.15,410.43a2.0,2.0 0 1,0 4,0a2.0,2.0 0 1,0 -4,0M209.67,421.06a2.0,2.0 0 1,0 4,0a2.0,2.0 0 1,0 -4,0M209.67,410.85a2.0,2.0 0 1,0 4,0a2.0,2.0 0 1,0 -4,0M209.63,419.4a2.0,2.0 0 1,0 4,0a2.0,2.0 0 1,0 -4,0M210.24,430.02a2.0,2.0 0 1,0 4,0a2.0,2.0 0 1,0 -4,0M210.57,410.91a2.0,2.0 0 1,0 4,0a2.0,2.0 0 1,0 -4,0M210.59,406.39a2.0,2.0 0 1,0 4,0a2.0,2.0 0 1,0 -4,0M210.54,416.3a2.0,2.0 0 1,0 4,0a2.0,2.0 0 1,0 -4,0M210.98,406.13a2.0,2.0 0 1,0 4,0a2.0,2.0 0 1,0 -4,0M211.34,431.92a2.0,2.0 0 1,0 4,0a2.0,2.0 0 1,0 -4,0M211.06,407.51a2.0,2.0 0 1,0 4,0a2.0,2.0 0 1,0 -4,0M212.09,407.76a2.0,2.0 0 1,0 4,0a2.0,2.0 0 1,0 -4,0M212.24,412.84a2.0,2.0 0 1,0 4,0a2.0,2.0 0 1,0 -4,0M212.35,408.91a2.0,2.0 0 1,0 4,0a2.0,2.0 0 1,0 -4,0M212.8,424.18a2.0,2.0 0 1,0 4,0a2.0,2.0 0 1,0 -4,0M212.92,414.32a2.0,2.0 0 1,0 4,0a2.0,2.0 0 1,0 -4,0M213.06,409.69a2.0,2.0 0 1,0 4,0a2.0,2.0 0 1,0 -4,0M213.13,417.88a2.0,2.0 0 1,0 4,0a2.0,2.0 0 1,0 -4,0M213.83,407.18a2.0,2.0 0 1,0 4,0a2.0,2.0 0 1,0 -4,0M213.97,415.9a2.0,2.0 0 1,0 4,0a2.0,2.0 0 1,0 -4,0M213.9,418.2a2.0,2.0 0 1,0 4,0a2.0,2.0 0 1,0 -4,0M214.51,420.01a2.0,2.0 0 1,0 4,0a2.0,2.0 0 1,0 -4,0M214.82,409.6a2.0,2.0 0 1,0 4,0a2.0,2.0 0 1,0 -4,0M214.68,411.86a2.0,2.0 0 1,0 4,0a2.0,2.0 0 1,0 -4,0M215.19,410.4a2.0,2.0 0 1,0 4,0a2.0,2.0 0 1,0 -4,0M215.08,411.93a2.0,2.0 0 1,0 4,0a2.0,2.0 0 1,0 -4,0M215.28,421.86a2.0,2.0 0 1,0 4,0a2.0,2.0 0 1,0 -4,0M216.25,411.08a2.0,2.0 0 1,0 4,0a2.0,2.0 0 1,0 -4,0M215.87,409.36a2.0,2.0 0 1,0 4,0a2.0,2.0 0 1,0 -4,0M216.11,417.72a2.0,2.0 0 1,0 4,0a2.0,2.0 0 1,0 -4,0M216.39,417.31a2.0,2.0 0 1,0 4,0a2.0,2.0 0 1,0 -4,0M217.08,405.79a2.0,2.0 0 1,0 4,0a2.0,2.0 0 1,0 -4,0M217.25,408.77a2.0,2.0 0 1,0 4,0a2.0,2.0 0 1,0 -4,0M217.09,409.69a2.0,2.0 0 1,0 4,0a2.0,2.0 0 1,0 -4,0M217.79,411.45a2.0,2.0 0 1,0 4,0a2.0,2.0 0 1,0 -4,0M217.98,411.2a2.0,2.0 0 1,0 4,0a2.0,2.0 0 1,0 -4,0M217.73,412.79a2.0,2.0 0 1,0 4,0a2.0,2.0 0 1,0 -4,0M218.28,409.81a2.0,2.0 0 1,0 4,0a2.0,2.0 0 1,0 -4,0M218.62,413.66a2.0,2.0 0 1,0 4,0a2.0,2.0 0 1,0 -4,0M218.77,411.27a2.0,2.0 0 1,0 4,0a2.0,2.0 0 1,0 -4,0M218.95,409.14a2.0,2.0 0 1,0 4,0a2.0,2.0 0 1,0 -4,0M219.21,412.94a2.0,2.0 0 1,0 4,0a2.0,2.0 0 1,0 -4,0M219.41,410.73a2.0,2.0 0 1,0 4,0a2.0,2.0 0 1,0 -4,0M219.53,412.04a2.0,2.0 0 1,0 4,0a2.0,2.0 0 1,0 -4,0M219.7,413.51a2.0,2.0 0 1,0 4,0a2.0,2.0 0 1,0 -4,0M220.06,417.47a2.0,2.0 0 1,0 4,0a2.0,2.0 0 1,0 -4,0M220.52,412.82a2.0,2.0 0 1,0 4,0a2.0,2.0 0 1,0 -4,0M220.55,415.18a2.0,2.0 0 1,0 4,0a2.0,2.0 0 1,0 -4,0M221.06,416.61a2.0,2.0 0 1,0 4,0a2.0,2.0 0 1,0 -4,0M221.08,412.54a2.0,2.0 0 1,0 4,0a2.0,2.0 0 1,0 -4,0M221.73,408.85a2.0,2.0 0 1,0 4,0a2.0,2.0 0 1,0 -4,0M221.9,412.78a2.0,2.0 0 1,0 4,0a2.0,2.0 0 1,0 -4,0M221.58,413.9a2.0,2.0 0 1,0 4,0a2.0,2.0 0 1,0 -4,0M222.23,415.88a2.0,2.0 0 1,0 4,0a2.0,2.0 0 1,0 -4,0M222.73,417.7a2.0,2.0 0 1,0 4,0a2.0,2.0 0 1,0 -4,0M222.75,417.35a2.0,2.0 0 1,0 4,0a2.0,2.0 0 1,0 -4,0M222.94,414.87a2.0,2.0 0 1,0 4,0a2.0,2.0 0 1,0 -4,0M222.89,409.51a2.0,2.0 0 1,0 4,0a2.0,2.0 0 1,0 -4,0M223.52,428.36a2.0,2.0 0 1,0 4,0a2.0,2.0 0 1,0 -4,0M223.56,412.01a2.0,2.0 0 1,0 4,0a2.0,2.0 0 1,0 -4,0M223.69,421.41a2.0,2.0 0 1,0 4,0a2.0,2.0 0 1,0 -4,0M223.92,407.91a2.0,2.0 0 1,0 4,0a2.0,2.0 0 1,0 -4,0M224.38,412.62a2.0,2.0 0 1,0 4,0a2.0,2.0 0 1,0 -4,0M224.68,412.87a2.0,2.0 0 1,0 4,0a2.0,2.0 0 1,0 -4,0M224.85,410.68a2.0,2.0 0 1,0 4,0a2.0,2.0 0 1,0 -4,0M225.41,409.49a2.0,2.0 0 1,0 4,0a2.0,2.0 0 1,0 -4,0M225.45,407.13a2.0,2.0 0 1,0 4,0a2.0,2.0 0 1,0 -4,0M225.89,413.57a2.0,2.0 0 1,0 4,0a2.0,2.0 0 1,0 -4,0M225.97,410.94a2.0,2.0 0 1,0 4,0a2.0,2.0 0 1,0 -4,0M226.34,407.98a2.0,2.0 0 1,0 4,0a2.0,2.0 0 1,0 -4,0M226.14,412.62a2.0,2.0 0 1,0 4,0a2.0,2.0 0 1,0 -4,0M226.49,410.01a2.0,2.0 0 1,0 4,0a2.0,2.0 0 1,0 -4,0M226.81,411.65a2.0,2.0 0 1,0 4,0a2.0,2.0 0 1,0 -4,0M227.1,408.66a2.0,2.0 0 1,0 4,0a2.0,2.0 0 1,0 -4,0M227.77,414.19a2.0,2.0 0 1,0 4,0a2.0,2.0 0 1,0 -4,0M228,411.56a2.0,2.0 0 1,0 4,0a2.0,2.0 0 1,0 -4,0M227.79,413.6a2.0,2.0 0 1,0 4,0a2.0,2.0 0 1,0 -4,0M228.09,407.59a2.0,2.0 0 1,0 4,0a2.0,2.0 0 1,0 -4,0M228.34,408.09a2.0,2.0 0 1,0 4,0a2.0,2.0 0 1,0 -4,0M228.56,411.05a2.0,2.0 0 1,0 4,0a2.0,2.0 0 1,0 -4,0M228.93,421.79a2.0,2.0 0 1,0 4,0a2.0,2.0 0 1,0 -4,0M228.95,409.75a2.0,2.0 0 1,0 4,0a2.0,2.0 0 1,0 -4,0M229.51,410.05a2.0,2.0 0 1,0 4,0a2.0,2.0 0 1,0 -4,0M229.69,413a2.0,2.0 0 1,0 4,0a2.0,2.0 0 1,0 -4,0M229.88,417.06a2.0,2.0 0 1,0 4,0a2.0,2.0 0 1,0 -4,0M230.14,407.88a2.0,2.0 0 1,0 4,0a2.0,2.0 0 1,0 -4,0M230.29,435.39a2.0,2.0 0 1,0 4,0a2.0,2.0 0 1,0 -4,0M231,411.56a2.0,2.0 0 1,0 4,0a2.0,2.0 0 1,0 -4,0M230.64,431.9a2.0,2.0 0 1,0 4,0a2.0,2.0 0 1,0 -4,0M231.09,414.34a2.0,2.0 0 1,0 4,0a2.0,2.0 0 1,0 -4,0M231.42,408.46a2.0,2.0 0 1,0 4,0a2.0,2.0 0 1,0 -4,0M231.68,433.74a2.0,2.0 0 1,0 4,0a2.0,2.0 0 1,0 -4,0M231.87,420.08a2.0,2.0 0 1,0 4,0a2.0,2.0 0 1,0 -4,0M232.13,411.09a2.0,2.0 0 1,0 4,0a2.0,2.0 0 1,0 -4,0M232.02,409.86a2.0,2.0 0 1,0 4,0a2.0,2.0 0 1,0 -4,0M232.45,405.99a2.0,2.0 0 1,0 4,0a2.0,2.0 0 1,0 -4,0M232.42,418.48a2.0,2.0 0 1,0 4,0a2.0,2.0 0 1,0 -4,0M232.96,420.3a2.0,2.0 0 1,0 4,0a2.0,2.0 0 1,0 -4,0M233.55,412.17a2.0,2.0 0 1,0 4,0a2.0,2.0 0 1,0 -4,0M233.35,419.52a2.0,2.0 0 1,0 4,0a2.0,2.0 0 1,0 -4,0M233.66,411.36a2.0,2.0 0 1,0 4,0a2.0,2.0 0 1,0 -4,0M233.85,412.5a2.0,2.0 0 1,0 4,0a2.0,2.0 0 1,0 -4,0M234.26,417.45a2.0,2.0 0 1,0 4,0a2.0,2.0 0 1,0 -4,0M234.68,410.84a2.0,2.0 0 1,0 4,0a2.0,2.0 0 1,0 -4,0M235.08,408.05a2.0,2.0 0 1,0 4,0a2.0,2.0 0 1,0 -4,0M235.04,420.93a2.0,2.0 0 1,0 4,0a2.0,2.0 0 1,0 -4,0M235.57,456a2.0,2.0 0 1,0 4,0a2.0,2.0 0 1,0 -4,0M235.66,413.31a2.0,2.0 0 1,0 4,0a2.0,2.0 0 1,0 -4,0M236.16,411.41a2.0,2.0 0 1,0 4,0a2.0,2.0 0 1,0 -4,0M235.99,409.73a2.0,2.0 0 1,0 4,0a2.0,2.0 0 1,0 -4,0M236.58,418.93a2.0,2.0 0 1,0 4,0a2.0,2.0 0 1,0 -4,0M236.65,410.69a2.0,2.0 0 1,0 4,0a2.0,2.0 0 1,0 -4,0M236.46,413.59a2.0,2.0 0 1,0 4,0a2.0,2.0 0 1,0 -4,0M236.75,410.17a2.0,2.0 0 1,0 4,0a2.0,2.0 0 1,0 -4,0M237.47,411.27a2.0,2.0 0 1,0 4,0a2.0,2.0 0 1,0 -4,0M237.55,413.46a2.0,2.0 0 1,0 4,0a2.0,2.0 0 1,0 -4,0M237.9,411.95a2.0,2.0 0 1,0 4,0a2.0,2.0 0 1,0 -4,0M238.17,407.64a2.0,2.0 0 1,0 4,0a2.0,2.0 0 1,0 -4,0M238.12,412.87a2.0,2.0 0 1,0 4,0a2.0,2.0 0 1,0 -4,0M238.49,416.02a2.0,2.0 0 1,0 4,0a2.0,2.0 0 1,0 -4,0M238.84,408.68a2.0,2.0 0 1,0 4,0a2.0,2.0 0 1,0 -4,0M238.41,415.75a2.0,2.0 0 1,0 4,0a2.0,2.0 0 1,0 -4,0M239.23,408.25a2.0,2.0 0 1,0 4,0a2.0,2.0 0 1,0 -4,0M239.41,418.24a2.0,2.0 0 1,0 4,0a2.0,2.0 0 1,0 -4,0M239.47,413.2a2.0,2.0 0 1,0 4,0a2.0,2.0 0 1,0 -4,0M240,423a2.0,2.0 0 1,0 4,0a2.0,2.0 0 1,0 -4,0M240.04,409.12a2.0,2.0 0 1,0 4,0a2.0,2.0 0 1,0 -4,0M240.65,410.26a2.0,2.0 0 1,0 4,0a2.0,2.0 0 1,0 -4,0M240.88,423.15a2.0,2.0 0 1,0 4,0a2.0,2.0 0 1,0 -4,0M240.96,409.75a2.0,2.0 0 1,0 4,0a2.0,2.0 0 1,0 -4,0M241.56,411.96a2.0,2.0 0 1,0 4,0a2.0,2.0 0 1,0 -4,0M241.73,410.96a2.0,2.0 0 1,0 4,0a2.0,2.0 0 1,0 -4,0M241.44,412.23a2.0,2.0 0 1,0 4,0a2.0,2.0 0 1,0 -4,0M241.93,411.42a2.0,2.0 0 1,0 4,0a2.0,2.0 0 1,0 -4,0M242.42,411.24a2.0,2.0 0 1,0 4,0a2.0,2.0 0 1,0 -4,0M242.86,411.45a2.0,2.0 0 1,0 4,0a2.0,2.0 0 1,0 -4,0M242.43,417.49a2.0,2.0 0 1,0 4,0a2.0,2.0 0 1,0 -4,0M243.19,406.1a2.0,2.0 0 1,0 4,0a2.0,2.0 0 1,0 -4,0M243.22,411.79a2.0,2.0 0 1,0 4,0a2.0,2.0 0 1,0 -4,0M243.54,413.21a2.0,2.0 0 1,0 4,0a2.0,2.0 0 1,0 -4,0M243.99,402.93a2.0,2.0 0 1,0 4,0a2.0,2.0 0 1,0 -4,0M243.7,412.87a2.0,2.0 0 1,0 4,0a2.0,2.0 0 1,0 -4,0M244.26,411.04a2.0,2.0 0 1,0 4,0a2.0,2.0 0 1,0 -4,0M244.17,408.48a2.0,2.0 0 1,0 4,0a2.0,2.0 0 1,0 -4,0M244.98,410a2.0,2.0 0 1,0 4,0a2.0,2.0 0 1,0 -4,0M244.86,413.65a2.0,2.0 0 1,0 4,0a2.0,2.0 0 1,0 -4,0M244.92,408.94a2.0,2.0 0 1,0 4,0a2.0,2.0 0 1,0 -4,0M245.8,428.47a2.0,2.0 0 1,0 4,0a2.0,2.0 0 1,0 -4,0M245.65,413.2a2.0,2.0 0 1,0 4,0a2.0,2.0 0 1,0 -4,0M245.94,412.96a2.0,2.0 0 1,0 4,0a2.0,2.0 0 1,0 -4,0M246,407.15a2.0,2.0 0 1,0 4,0a2.0,2.0 0 1,0 -4,0M246.94,413.62a2.0,2.0 0 1,0 4,0a2.0,2.0 0 1,0 -4,0M246.6,408.47a2.0,2.0 0 1,0 4,0a2.0,2.0 0 1,0 -4,0M246.68,436.49a2.0,2.0 0 1,0 4,0a2.0,2.0 0 1,0 -4,0M247.06,411.15a2.0,2.0 0 1,0 4,0a2.0,2.0 0 1,0 -4,0M247.16,409.7a2.0,2.0 0 1,0 4,0a2.0,2.0 0 1,0 -4,0M247.51,410.9a2.0,2.0 0 1,0 4,0a2.0,2.0 0 1,0 -4,0M248.01,405.86a2.0,2.0 0 1,0 4,0a2.0,2.0 0 1,0 -4,0M248.18,412.27a2.0,2.0 0 1,0 4,0a2.0,2.0 0 1,0 -4,0M248.28,407.93a2.0,2.0 0 1,0 4,0a2.0,2.0 0 1,0 -4,0M248.7,410.55a2.0,2.0 0 1,0 4,0a2.0,2.0 0 1,0 -4,0M248.96,411.2a2.0,2.0 0 1,0 4,0a2.0,2.0 0 1,0 -4,0M248.72,409.64a2.0,2.0 0 1,0 4,0a2.0,2.0 0 1,0 -4,0M249.62,414a2.0,2.0 0 1,0 4,0a2.0,2.0 0 1,0 -4,0M249.46,409.17a2.0,2.0 0 1,0 4,0a2.0,2.0 0 1,0 -4,0M249.82,412.05a2.0,2.0 0 1,0 4,0a2.0,2.0 0 1,0 -4,0M249.92,405.25a2.0,2.0 0 1,0 4,0a2.0,2.0 0 1,0 -4,0M250.47,421.19a2.0,2.0 0 1,0 4,0a2.0,2.0 0 1,0 -4,0M250.72,419.5a2.0,2.0 0 1,0 4,0a2.0,2.0 0 1,0 -4,0M250.4,423.38a2.0,2.0 0 1,0 4,0a2.0,2.0 0 1,0 -4,0M251.62,409.3a2.0,2.0 0 1,0 4,0a2.0,2.0 0 1,0 -4,0M251.2,411.85a2.0,2.0 0 1,0 4,0a2.0,2.0 0 1,0 -4,0M251.56,410.77a2.0,2.0 0 1,0 4,0a2.0,2.0 0 1,0 -4,0M251.63,413.27a2.0,2.0 0 1,0 4,0a2.0,2.0 0 1,0 -4,0M252.36,427.97a2.0,2.0 0 1,0 4,0a2.0,2.0 0 1,0 -4,0M252.27,407.39a2.0,2.0 0 1,0 4,0a2.0,2.0 0 1,0 -4,0M252.61,411.25a2.0,2.0 0 1,0 4,0a2.0,2.0 0 1,0 -4,0M253.04,411.9a2.0,2.0 0 1,0 4,0a2.0,2.0 0 1,0 -4,0M253.18,411.28a2.0,2.0 0 1,0 4,0a2.0,2.0 0 1,0 -4,0M253.39,410.8a2.0,2.0 0 1,0 4,0a2.0,2.0 0 1,0 -4,0M253.67,408.61a2.0,2.0 0 1,0 4,0a2.0,2.0 0 1,0 -4,0M253.92,406.05a2.0,2.0 0 1,0 4,0a2.0,2.0 0 1,0 -4,0M253.83,413.66a2.0,2.0 0 1,0 4,0a2.0,2.0 0 1,0 -4,0M254.25,406.96a2.0,2.0 0 1,0 4,0a2.0,2.0 0 1,0 -4,0M254.51,413.75a2.0,2.0 0 1,0 4,0a2.0,2.0 0 1,0 -4,0M254.74,412.06a2.0,2.0 0 1,0 4,0a2.0,2.0 0 1,0 -4,0M255.25,411.97a2.0,2.0 0 1,0 4,0a2.0,2.0 0 1,0 -4,0M255.33,411.12a2.0,2.0 0 1,0 4,0a2.0,2.0 0 1,0 -4,0M255.5,420.59a2.0,2.0 0 1,0 4,0a2.0,2.0 0 1,0 -4,0M255.67,414.16a2.0,2.0 0 1,0 4,0a2.0,2.0 0 1,0 -4,0M255.99,409.28a2.0,2.0 0 1,0 4,0a2.0,2.0 0 1,0 -4,0M256.11,409.43a2.0,2.0 0 1,0 4,0a2.0,2.0 0 1,0 -4,0M256.72,407.8a2.0,2.0 0 1,0 4,0a2.0,2.0 0 1,0 -4,0M256.79,411.41a2.0,2.0 0 1,0 4,0a2.0,2.0 0 1,0 -4,0M256.91,414.62a2.0,2.0 0 1,0 4,0a2.0,2.0 0 1,0 -4,0M257.2,412.18a2.0,2.0 0 1,0 4,0a2.0,2.0 0 1,0 -4,0M257.73,410.98a2.0,2.0 0 1,0 4,0a2.0,2.0 0 1,0 -4,0M257.66,410.33a2.0,2.0 0 1,0 4,0a2.0,2.0 0 1,0 -4,0M258.03,412.3a2.0,2.0 0 1,0 4,0a2.0,2.0 0 1,0 -4,0M258.2,424.31a2.0,2.0 0 1,0 4,0a2.0,2.0 0 1,0 -4,0M258.26,415.49a2.0,2.0 0 1,0 4,0a2.0,2.0 0 1,0 -4,0M258.83,413.12a2.0,2.0 0 1,0 4,0a2.0,2.0 0 1,0 -4,0M258.87,410.59a2.0,2.0 0 1,0 4,0a2.0,2.0 0 1,0 -4,0M259.01,407.58a2.0,2.0 0 1,0 4,0a2.0,2.0 0 1,0 -4,0M259.58,409.55a2.0,2.0 0 1,0 4,0a2.0,2.0 0 1,0 -4,0M259.81,410.73a2.0,2.0 0 1,0 4,0a2.0,2.0 0 1,0 -4,0M259.47,407.12a2.0,2.0 0 1,0 4,0a2.0,2.0 0 1,0 -4,0M260.17,410.14a2.0,2.0 0 1,0 4,0a2.0,2.0 0 1,0 -4,0M260.46,407.93a2.0,2.0 0 1,0 4,0a2.0,2.0 0 1,0 -4,0M260.74,407.16a2.0,2.0 0 1,0 4,0a2.0,2.0 0 1,0 -4,0M260.75,412.25a2.0,2.0 0 1,0 4,0a2.0,2.0 0 1,0 -4,0M261.36,439.8a2.0,2.0 0 1,0 4,0a2.0,2.0 0 1,0 -4,0M261.43,408.45a2.0,2.0 0 1,0 4,0a2.0,2.0 0 1,0 -4,0M261.27,412.02a2.0,2.0 0 1,0 4,0a2.0,2.0 0 1,0 -4,0M261.83,412.02a2.0,2.0 0 1,0 4,0a2.0,2.0 0 1,0 -4,0M261.65,416.42a2.0,2.0 0 1,0 4,0a2.0,2.0 0 1,0 -4,0M262.72,408.46a2.0,2.0 0 1,0 4,0a2.0,2.0 0 1,0 -4,0M262.67,413.77a2.0,2.0 0 1,0 4,0a2.0,2.0 0 1,0 -4,0M263.01,413.29a2.0,2.0 0 1,0 4,0a2.0,2.0 0 1,0 -4,0M263.53,409.16a2.0,2.0 0 1,0 4,0a2.0,2.0 0 1,0 -4,0M263.41,408.98a2.0,2.0 0 1,0 4,0a2.0,2.0 0 1,0 -4,0M263.65,407.86a2.0,2.0 0 1,0 4,0a2.0,2.0 0 1,0 -4,0M263.99,422.38a2.0,2.0 0 1,0 4,0a2.0,2.0 0 1,0 -4,0M264.38,413.02a2.0,2.0 0 1,0 4,0a2.0,2.0 0 1,0 -4,0M264.39,411.86a2.0,2.0 0 1,0 4,0a2.0,2.0 0 1,0 -4,0M264.65,407.98a2.0,2.0 0 1,0 4,0a2.0,2.0 0 1,0 -4,0M265.13,413.3a2.0,2.0 0 1,0 4,0a2.0,2.0 0 1,0 -4,0M264.87,408.92a2.0,2.0 0 1,0 4,0a2.0,2.0 0 1,0 -4,0M265.43,409.94a2.0,2.0 0 1,0 4,0a2.0,2.0 0 1,0 -4,0M265.58,409.45a2.0,2.0 0 1,0 4,0a2.0,2.0 0 1,0 -4,0M265.39,411.83a2.0,2.0 0 1,0 4,0a2.0,2.0 0 1,0 -4,0M266.2,409.23a2.0,2.0 0 1,0 4,0a2.0,2.0 0 1,0 -4,0M266.4,407.71a2.0,2.0 0 1,0 4,0a2.0,2.0 0 1,0 -4,0M266.67,410.33a2.0,2.0 0 1,0 4,0a2.0,2.0 0 1,0 -4,0M266.8,407.61a2.0,2.0 0 1,0 4,0a2.0,2.0 0 1,0 -4,0M267.15,413a2.0,2.0 0 1,0 4,0a2.0,2.0 0 1,0 -4,0M267.38,412.52a2.0,2.0 0 1,0 4,0a2.0,2.0 0 1,0 -4,0M267.68,412.06a2.0,2.0 0 1,0 4,0a2.0,2.0 0 1,0 -4,0M267.9,413.82a2.0,2.0 0 1,0 4,0a2.0,2.0 0 1,0 -4,0M267.91,410.08a2.0,2.0 0 1,0 4,0a2.0,2.0 0 1,0 -4,0M268.28,411.34a2.0,2.0 0 1,0 4,0a2.0,2.0 0 1,0 -4,0M267.96,413.5a2.0,2.0 0 1,0 4,0a2.0,2.0 0 1,0 -4,0M268.97,411.94a2.0,2.0 0 1,0 4,0a2.0,2.0 0 1,0 -4,0M268.93,407.85a2.0,2.0 0 1,0 4,0a2.0,2.0 0 1,0 -4,0M269.37,438.41a2.0,2.0 0 1,0 4,0a2.0,2.0 0 1,0 -4,0M269.15,409.7a2.0,2.0 0 1,0 4,0a2.0,2.0 0 1,0 -4,0M269.79,409.34a2.0,2.0 0 1,0 4,0a2.0,2.0 0 1,0 -4,0M270.3,413.5a2.0,2.0 0 1,0 4,0a2.0,2.0 0 1,0 -4,0M270.76,412.3a2.0,2.0 0 1,0 4,0a2.0,2.0 0 1,0 -4,0M270.45,407.3a2.0,2.0 0 1,0 4,0a2.0,2.0 0 1,0 -4,0M270.93,410.61a2.0,2.0 0 1,0 4,0a2.0,2.0 0 1,0 -4,0M271.09,405.97a2.0,2.0 0 1,0 4,0a2.0,2.0 0 1,0 -4,0M271.29,408.2a2.0,2.0 0 1,0 4,0a2.0,2.0 0 1,0 -4,0M271.91,409.43a2.0,2.0 0 1,0 4,0a2.0,2.0 0 1,0 -4,0M271.61,409.2a2.0,2.0 0 1,0 4,0a2.0,2.0 0 1,0 -4,0M271.84,413.87a2.0,2.0 0 1,0 4,0a2.0,2.0 0 1,0 -4,0M272.34,408.94a2.0,2.0 0 1,0 4,0a2.0,2.0 0 1,0 -4,0M272.6,409.29a2.0,2.0 0 1,0 4,0a2.0,2.0 0 1,0 -4,0M272.7,413.57a2.0,2.0 0 1,0 4,0a2.0,2.0 0 1,0 -4,0M273.05,412.29a2.0,2.0 0 1,0 4,0a2.0,2.0 0 1,0 -4,0M272.77,411.26a2.0,2.0 0 1,0 4,0a2.0,2.0 0 1,0 -4,0M273.44,413.39a2.0,2.0 0 1,0 4,0a2.0,2.0 0 1,0 -4,0M273.12,410.67a2.0,2.0 0 1,0 4,0a2.0,2.0 0 1,0 -4,0M274.15,420.06a2.0,2.0 0 1,0 4,0a2.0,2.0 0 1,0 -4,0M274.14,411.14a2.0,2.0 0 1,0 4,0a2.0,2.0 0 1,0 -4,0M274.25,405.94a2.0,2.0 0 1,0 4,0a2.0,2.0 0 1,0 -4,0M274.5,411.01a2.0,2.0 0 1,0 4,0a2.0,2.0 0 1,0 -4,0M275.22,416.59a2.0,2.0 0 1,0 4,0a2.0,2.0 0 1,0 -4,0M275.21,421.69a2.0,2.0 0 1,0 4,0a2.0,2.0 0 1,0 -4,0M275.46,412.44a2.0,2.0 0 1,0 4,0a2.0,2.0 0 1,0 -4,0M275.76,418.13a2.0,2.0 0 1,0 4,0a2.0,2.0 0 1,0 -4,0M276.03,423.48a2.0,2.0 0 1,0 4,0a2.0,2.0 0 1,0 -4,0M276.54,419.59a2.0,2.0 0 1,0 4,0a2.0,2.0 0 1,0 -4,0M276.45,415.23a2.0,2.0 0 1,0 4,0a2.0,2.0 0 1,0 -4,0M276.63,432.72a2.0,2.0 0 1,0 4,0a2.0,2.0 0 1,0 -4,0M276.74,440.24a2.0,2.0 0 1,0 4,0a2.0,2.0 0 1,0 -4,0M277.3,409.03a2.0,2.0 0 1,0 4,0a2.0,2.0 0 1,0 -4,0M277.2,410.53a2.0,2.0 0 1,0 4,0a2.0,2.0 0 1,0 -4,0M277.43,409.37a2.0,2.0 0 1,0 4,0a2.0,2.0 0 1,0 -4,0M277.8,414.54a2.0,2.0 0 1,0 4,0a2.0,2.0 0 1,0 -4,0M277.82,413.39a2.0,2.0 0 1,0 4,0a2.0,2.0 0 1,0 -4,0M278.42,411.66a2.0,2.0 0 1,0 4,0a2.0,2.0 0 1,0 -4,0M278.89,411.89a2.0,2.0 0 1,0 4,0a2.0,2.0 0 1,0 -4,0M278.87,424.13a2.0,2.0 0 1,0 4,0a2.0,2.0 0 1,0 -4,0M279.03,410.43a2.0,2.0 0 1,0 4,0a2.0,2.0 0 1,0 -4,0M279.58,412.68a2.0,2.0 0 1,0 4,0a2.0,2.0 0 1,0 -4,0M279.55,411.62a2.0,2.0 0 1,0 4,0a2.0,2.0 0 1,0 -4,0M279.92,414.82a2.0,2.0 0 1,0 4,0a2.0,2.0 0 1,0 -4,0M280.43,414.68a2.0,2.0 0 1,0 4,0a2.0,2.0 0 1,0 -4,0M280.17,413.81a2.0,2.0 0 1,0 4,0a2.0,2.0 0 1,0 -4,0M280.48,405.35a2.0,2.0 0 1,0 4,0a2.0,2.0 0 1,0 -4,0M280.84,408.64a2.0,2.0 0 1,0 4,0a2.0,2.0 0 1,0 -4,0M281.17,413.25a2.0,2.0 0 1,0 4,0a2.0,2.0 0 1,0 -4,0M281.43,412.4a2.0,2.0 0 1,0 4,0a2.0,2.0 0 1,0 -4,0M282.05,426.57a2.0,2.0 0 1,0 4,0a2.0,2.0 0 1,0 -4,0M281.75,411.65a2.0,2.0 0 1,0 4,0a2.0,2.0 0 1,0 -4,0M282.25,412.16a2.0,2.0 0 1,0 4,0a2.0,2.0 0 1,0 -4,0M282.39,433.14a2.0,2.0 0 1,0 4,0a2.0,2.0 0 1,0 -4,0M282.79,403.75a2.0,2.0 0 1,0 4,0a2.0,2.0 0 1,0 -4,0M283.07,425.02a2.0,2.0 0 1,0 4,0a2.0,2.0 0 1,0 -4,0M283.18,418.8a2.0,2.0 0 1,0 4,0a2.0,2.0 0 1,0 -4,0M283.82,410.74a2.0,2.0 0 1,0 4,0a2.0,2.0 0 1,0 -4,0M283.78,428.33a2.0,2.0 0 1,0 4,0a2.0,2.0 0 1,0 -4,0M283.98,425.14a2.0,2.0 0 1,0 4,0a2.0,2.0 0 1,0 -4,0M284.16,410.29a2.0,2.0 0 1,0 4,0a2.0,2.0 0 1,0 -4,0M284.28,411.69a2.0,2.0 0 1,0 4,0a2.0,2.0 0 1,0 -4,0M284.61,422.06a2.0,2.0 0 1,0 4,0a2.0,2.0 0 1,0 -4,0M284.87,410.76a2.0,2.0 0 1,0 4,0a2.0,2.0 0 1,0 -4,0M285.03,417.36a2.0,2.0 0 1,0 4,0a2.0,2.0 0 1,0 -4,0M285.26,407.84a2.0,2.0 0 1,0 4,0a2.0,2.0 0 1,0 -4,0M285.45,408.85a2.0,2.0 0 1,0 4,0a2.0,2.0 0 1,0 -4,0M286.01,408.93a2.0,2.0 0 1,0 4,0a2.0,2.0 0 1,0 -4,0M286.13,418.05a2.0,2.0 0 1,0 4,0a2.0,2.0 0 1,0 -4,0M286.28,419.71a2.0,2.0 0 1,0 4,0a2.0,2.0 0 1,0 -4,0M286.7,408.44a2.0,2.0 0 1,0 4,0a2.0,2.0 0 1,0 -4,0M287.09,411.09a2.0,2.0 0 1,0 4,0a2.0,2.0 0 1,0 -4,0M287.27,426.15a2.0,2.0 0 1,0 4,0a2.0,2.0 0 1,0 -4,0M287.15,425.92a2.0,2.0 0 1,0 4,0a2.0,2.0 0 1,0 -4,0M287.54,410.19a2.0,2.0 0 1,0 4,0a2.0,2.0 0 1,0 -4,0M287.54,412.7a2.0,2.0 0 1,0 4,0a2.0,2.0 0 1,0 -4,0M288.18,406.44a2.0,2.0 0 1,0 4,0a2.0,2.0 0 1,0 -4,0M288.46,417.81a2.0,2.0 0 1,0 4,0a2.0,2.0 0 1,0 -4,0M288.21,426.75a2.0,2.0 0 1,0 4,0a2.0,2.0 0 1,0 -4,0M288.91,422.69a2.0,2.0 0 1,0 4,0a2.0,2.0 0 1,0 -4,0M289.1,410.47a2.0,2.0 0 1,0 4,0a2.0,2.0 0 1,0 -4,0M289.28,419.24a2.0,2.0 0 1,0 4,0a2.0,2.0 0 1,0 -4,0M289.48,425.66a2.0,2.0 0 1,0 4,0a2.0,2.0 0 1,0 -4,0M290.01,412.12a2.0,2.0 0 1,0 4,0a2.0,2.0 0 1,0 -4,0M289.86,444.95a2.0,2.0 0 1,0 4,0a2.0,2.0 0 1,0 -4,0M290.51,424.07a2.0,2.0 0 1,0 4,0a2.0,2.0 0 1,0 -4,0M290.29,416.19a2.0,2.0 0 1,0 4,0a2.0,2.0 0 1,0 -4,0M290.75,425.26a2.0,2.0 0 1,0 4,0a2.0,2.0 0 1,0 -4,0M291.04,412.31a2.0,2.0 0 1,0 4,0a2.0,2.0 0 1,0 -4,0M291.08,409.16a2.0,2.0 0 1,0 4,0a2.0,2.0 0 1,0 -4,0M291.65,405.78a2.0,2.0 0 1,0 4,0a2.0,2.0 0 1,0 -4,0M291.61,407.28a2.0,2.0 0 1,0 4,0a2.0,2.0 0 1,0 -4,0M292.02,409.64a2.0,2.0 0 1,0 4,0a2.0,2.0 0 1,0 -4,0M292.56,414.04a2.0,2.0 0 1,0 4,0a2.0,2.0 0 1,0 -4,0M292.3,410.93a2.0,2.0 0 1,0 4,0a2.0,2.0 0 1,0 -4,0M292.88,430.94a2.0,2.0 0 1,0 4,0a2.0,2.0 0 1,0 -4,0M292.83,412.29a2.0,2.0 0 1,0 4,0a2.0,2.0 0 1,0 -4,0M293.26,435.51a2.0,2.0 0 1,0 4,0a2.0,2.0 0 1,0 -4,0M293.26,417.89a2.0,2.0 0 1,0 4,0a2.0,2.0 0 1,0 -4,0M293.73,407.65a2.0,2.0 0 1,0 4,0a2.0,2.0 0 1,0 -4,0M293.94,414.39a2.0,2.0 0 1,0 4,0a2.0,2.0 0 1,0 -4,0M294.15,410.04a2.0,2.0 0 1,0 4,0a2.0,2.0 0 1,0 -4,0M294.74,420.48a2.0,2.0 0 1,0 4,0a2.0,2.0 0 1,0 -4,0M294.71,409.04a2.0,2.0 0 1,0 4,0a2.0,2.0 0 1,0 -4,0M295.28,414.12a2.0,2.0 0 1,0 4,0a2.0,2.0 0 1,0 -4,0M295.04,426.18a2.0,2.0 0 1,0 4,0a2.0,2.0 0 1,0 -4,0M295.56,412.29a2.0,2.0 0 1,0 4,0a2.0,2.0 0 1,0 -4,0M295.91,414.23a2.0,2.0 0 1,0 4,0a2.0,2.0 0 1,0 -4,0M295.81,413.91a2.0,2.0 0 1,0 4,0a2.0,2.0 0 1,0 -4,0M296.07,414.73a2.0,2.0 0 1,0 4,0a2.0,2.0 0 1,0 -4,0M296.42,412.26a2.0,2.0 0 1,0 4,0a2.0,2.0 0 1,0 -4,0M296.88,413.79a2.0,2.0 0 1,0 4,0a2.0,2.0 0 1,0 -4,0M297.18,411.78a2.0,2.0 0 1,0 4,0a2.0,2.0 0 1,0 -4,0M297.19,412.68a2.0,2.0 0 1,0 4,0a2.0,2.0 0 1,0 -4,0M297.51,415.95a2.0,2.0 0 1,0 4,0a2.0,2.0 0 1,0 -4,0M297.83,414.72a2.0,2.0 0 1,0 4,0a2.0,2.0 0 1,0 -4,0M298.16,429.16a2.0,2.0 0 1,0 4,0a2.0,2.0 0 1,0 -4,0M298.26,408.05a2.0,2.0 0 1,0 4,0a2.0,2.0 0 1,0 -4,0M298.4,410.81a2.0,2.0 0 1,0 4,0a2.0,2.0 0 1,0 -4,0M298.79,409.24a2.0,2.0 0 1,0 4,0a2.0,2.0 0 1,0 -4,0M298.97,419.13a2.0,2.0 0 1,0 4,0a2.0,2.0 0 1,0 -4,0M299.3,406.41a2.0,2.0 0 1,0 4,0a2.0,2.0 0 1,0 -4,0M299.18,413.76a2.0,2.0 0 1,0 4,0a2.0,2.0 0 1,0 -4,0M299.83,412.89a2.0,2.0 0 1,0 4,0a2.0,2.0 0 1,0 -4,0M299.59,422.76a2.0,2.0 0 1,0 4,0a2.0,2.0 0 1,0 -4,0M299.62,415.11a2.0,2.0 0 1,0 4,0a2.0,2.0 0 1,0 -4,0M300.55,408.54a2.0,2.0 0 1,0 4,0a2.0,2.0 0 1,0 -4,0M300.89,409.98a2.0,2.0 0 1,0 4,0a2.0,2.0 0 1,0 -4,0M300.53,411.07a2.0,2.0 0 1,0 4,0a2.0,2.0 0 1,0 -4,0M301.6,413.42a2.0,2.0 0 1,0 4,0a2.0,2.0 0 1,0 -4,0M301.14,408.42a2.0,2.0 0 1,0 4,0a2.0,2.0 0 1,0 -4,0M301.79,410.61a2.0,2.0 0 1,0 4,0a2.0,2.0 0 1,0 -4,0M302.31,418.26a2.0,2.0 0 1,0 4,0a2.0,2.0 0 1,0 -4,0M302.39,411.53a2.0,2.0 0 1,0 4,0a2.0,2.0 0 1,0 -4,0M302.35,412.82a2.0,2.0 0 1,0 4,0a2.0,2.0 0 1,0 -4,0M302.68,409.08a2.0,2.0 0 1,0 4,0a2.0,2.0 0 1,0 -4,0M303.11,408.2a2.0,2.0 0 1,0 4,0a2.0,2.0 0 1,0 -4,0M303.01,418.99a2.0,2.0 0 1,0 4,0a2.0,2.0 0 1,0 -4,0M303.68,414.23a2.0,2.0 0 1,0 4,0a2.0,2.0 0 1,0 -4,0M303.53,412.71a2.0,2.0 0 1,0 4,0a2.0,2.0 0 1,0 -4,0M303.74,426.3a2.0,2.0 0 1,0 4,0a2.0,2.0 0 1,0 -4,0M303.91,417.44a2.0,2.0 0 1,0 4,0a2.0,2.0 0 1,0 -4,0M304.32,417.56a2.0,2.0 0 1,0 4,0a2.0,2.0 0 1,0 -4,0M304.73,417.92a2.0,2.0 0 1,0 4,0a2.0,2.0 0 1,0 -4,0M304.67,417.86a2.0,2.0 0 1,0 4,0a2.0,2.0 0 1,0 -4,0M305.29,418.39a2.0,2.0 0 1,0 4,0a2.0,2.0 0 1,0 -4,0M305.32,407.24a2.0,2.0 0 1,0 4,0a2.0,2.0 0 1,0 -4,0M305.19,421.32a2.0,2.0 0 1,0 4,0a2.0,2.0 0 1,0 -4,0M305.87,430.17a2.0,2.0 0 1,0 4,0a2.0,2.0 0 1,0 -4,0M306.15,411.53a2.0,2.0 0 1,0 4,0a2.0,2.0 0 1,0 -4,0M306.66,416.95a2.0,2.0 0 1,0 4,0a2.0,2.0 0 1,0 -4,0M306.5,409.68a2.0,2.0 0 1,0 4,0a2.0,2.0 0 1,0 -4,0M306.72,408.83a2.0,2.0 0 1,0 4,0a2.0,2.0 0 1,0 -4,0M307.09,419.42a2.0,2.0 0 1,0 4,0a2.0,2.0 0 1,0 -4,0M307.38,418.1a2.0,2.0 0 1,0 4,0a2.0,2.0 0 1,0 -4,0M307.55,417.22a2.0,2.0 0 1,0 4,0a2.0,2.0 0 1,0 -4,0M307.61,410.86a2.0,2.0 0 1,0 4,0a2.0,2.0 0 1,0 -4,0M308.05,411.46a2.0,2.0 0 1,0 4,0a2.0,2.0 0 1,0 -4,0" fill="none" stroke="#f28585" stroke-width="1"/>
<circle cx="211.8" cy="335.5" r="3.8" fill="none" stroke="#f28080" stroke-width="1"/>
<circle cx="211.8" cy="349.2" r="4.1" fill="#e8103c"/>
<circle cx="211.8" cy="363.1" r="3.8" fill="none" stroke="#4d6fe6" stroke-width="1"/>
<circle cx="211.8" cy="376.9" r="4.1" fill="#0a0aee"/>
<text x="223" y="339.1" font-size="12.6" font-weight="normal" font-style="normal" fill="#000" text-anchor="start" stroke="#000" stroke-width="0.22" >Flat erase</text>
<text x="223" y="352.8" font-size="12.6" font-weight="normal" font-style="normal" fill="#000" text-anchor="start" stroke="#000" stroke-width="0.22" >Flat program</text>
<text x="223" y="366.7" font-size="12.6" font-weight="normal" font-style="normal" fill="#000" text-anchor="start" stroke="#000" stroke-width="0.22" >Bubble erase</text>
<text x="223" y="380.5" font-size="12.6" font-weight="normal" font-style="normal" fill="#000" text-anchor="start" stroke="#000" stroke-width="0.22" >Bubble program</text>
<g clip-path="url(#clipD)">
<polyline points="420.2,393.76 420.45,392.09 420.7,392.67 420.95,390.53 421.2,394.49 421.45,395.07 421.7,391.83 421.95,398.98 422.2,393.07 422.45,398.18 422.7,396 422.95,397.33 423.2,395.29 423.45,396.64 423.7,400.52 423.95,398.62 424.2,398.28 424.45,401.86 424.7,401.74 424.95,400.34 425.2,400.12 425.45,403.96 425.7,399.91 425.95,401.61 426.2,402.28 426.45,404.13 426.7,397.36 426.95,403.25 427.2,404.82 427.45,403.83 427.7,402.47 427.95,402.27 428.2,405.91 428.45,403.19 428.7,400.21 428.95,406.8 429.2,406.14 429.45,406.72 429.7,408.22 429.95,408.94 430.2,406.78 430.45,404.9 430.7,399.62 430.95,406.03 431.2,404.45 431.45,408.45 431.7,408.91 431.95,406.55 432.2,408.61 432.45,404.37 432.7,404.74 432.95,402.63 433.2,404.44 433.45,406.77 433.7,409.5 433.95,404.84 434.2,408.58 434.45,412.74 434.7,403.51 434.95,406.65 435.2,407.43 435.45,409.64 435.7,412.27 435.95,410.94 436.2,407.92 436.45,406.04 436.7,407.91 436.95,407.47 437.2,407.52 437.45,404.38 437.7,410.95 437.95,405.97 438.2,409.91 438.45,408.88 438.7,404.92 438.95,407.75 439.2,407.72 439.45,407.23 439.7,409.35 439.95,406.7 440.2,414.6 440.45,411.28 440.7,406.01 440.95,402.12 441.2,411.66 441.45,409.08 441.7,407.94 441.95,404.98 442.2,403.49 442.45,402.8 442.7,414.58 442.95,411.99 443.2,406.59 443.45,412.9 443.7,402.9 443.95,415.5 444.2,410.11 444.45,406.39 444.7,407.41 444.95,406.06 445.2,408.84 445.45,412.68 445.7,411.78 445.95,410.8 446.2,412.52 446.45,404.55 446.7,415.1 446.95,409.97 447.2,406.71 447.45,408.94 447.7,407.59 447.95,409.09 448.2,409.41 448.45,402.34 448.7,411.32 448.95,412.63 449.2,405.53 449.45,411.76 449.7,411.25 449.95,410.5 450.2,412.23 450.45,403.95 450.7,409.05 450.95,404.99 451.2,414.32 451.45,405.84 451.7,405.28 451.95,412.01 452.2,411.63 452.45,410.45 452.7,410.71 452.95,412.14 453.2,415.96 453.45,409.54 453.7,410.71 453.95,410.93 454.2,412.64 454.45,412.94 454.7,409.45 454.95,413.3 455.2,409.37 455.45,412.31 455.7,411.8 455.95,411.29 456.2,415.84 456.45,416.2 456.7,415.06 456.95,415.64 457.2,411.63 457.45,415.42 457.7,411.97 457.95,412.87 458.2,413.3 458.45,408.77 458.7,410.72 458.95,411.94 459.2,413.22 459.45,412.48 459.7,411.01 459.95,410.49 460.2,413.38 460.45,409.98 460.7,409.88 460.95,412.01 461.2,412.6 461.45,409.22 461.7,406.53 461.95,411.72 462.2,413.7 462.45,410.15 462.7,409.86 462.95,404.59 463.2,412.5 463.45,407 463.7,411.13 463.95,407.86 464.2,408.42 464.45,409.07 464.7,404.73 464.95,416.49 465.2,405.89 465.45,410.09 465.7,407.72 465.95,408.99 466.2,413.46 466.45,405.29 466.7,409.17 466.95,410.55 467.2,409.21 467.45,410.13 467.7,407.53 467.95,405.44 468.2,405.85 468.45,408.55 468.7,411.72 468.95,409.97 469.2,413.88 469.45,409.53 469.7,409.76 469.95,409.9 470.2,404.58 470.45,410.86 470.7,406.51 470.95,409.07 471.2,416.6 471.45,407.12 471.7,411.07 471.95,411.2 472.2,410.82 472.45,411.08 472.7,409.84 472.95,416.07 473.2,406.28 473.45,408.68 473.7,415.41 473.95,413.08 474.2,409.91 474.45,409.71 474.7,411.13 474.95,418.02 475.2,412.52 475.45,408.32 475.7,412.06 475.95,409.39 476.2,414.28 476.45,410.69 476.7,413.62 476.95,410.47 477.2,415.43 477.45,410.87 477.7,410.65 477.95,407.05 478.2,408.23 478.45,410.33 478.7,408.17 478.95,415.34 479.2,409.1 479.45,406.7 479.7,411.49 479.95,407.65 480.2,410.14 480.45,408.91 480.7,407.46 480.95,412.83 481.2,409.16 481.45,411.41 481.7,407.89 481.95,405.95 482.2,406.48 482.45,408.17 482.7,409.35 482.95,409.62 483.2,411.54 483.45,406.48 483.7,415.85 483.95,406.59 484.2,407.44 484.45,415.34 484.7,412.28 484.95,408.36 485.2,414.2 485.45,413.17 485.7,411.6 485.95,412.87 486.2,408.81 486.45,408.94 486.7,406.6 486.95,409.84 487.2,404.98 487.45,406.61 487.7,409.33 487.95,407.45 488.2,410.07 488.45,413.59 488.7,405.92 488.95,411.89 489.2,406.5 489.45,405.6 489.7,408.4 489.95,409.91 490.2,405.82 490.45,406.2 490.7,406.95 490.95,406.48 491.2,409.23 491.45,406.6 491.7,407.35 491.95,408.3 492.2,405.74 492.45,414.68 492.7,404.37 492.95,403.97 493.2,411.27 493.45,409.76 493.7,406.21 493.95,407.84 494.2,406.23 494.45,403.56 494.7,406.92 494.95,405.93 495.2,408.17 495.45,400.45 495.7,407.72 495.95,406.25 496.2,404.38 496.45,405.1 496.7,405.03 496.95,402.08 497.2,404.51 497.45,407.95 497.7,401.43 497.95,404.53 498.2,399.24 498.45,403.5 498.7,405.72 498.95,404.7 499.2,404.08 499.45,400.96 499.7,405.46 499.95,401.71 500.2,407.25 500.45,405.92 500.7,405.15 500.95,409.48 501.2,404.24 501.45,408.25 501.7,405.76 501.95,405.33 502.2,407.66 502.45,406.49 502.7,404.92 502.95,404.67 503.2,405.31 503.45,405.09 503.7,403.93 503.95,401.54 504.2,396.58 504.45,402.7 504.7,402.47 504.95,406.21 505.2,404.16 505.45,405.99 505.7,407.63 505.95,402.53 506.2,399.8 506.45,404.15 506.7,399.8 506.95,400.65 507.2,405.16 507.45,402.72 507.7,404.43 507.95,397.64 508.2,401.15 508.45,404.48 508.7,398.98 508.95,402.83 509.2,403.08 509.45,396.67 509.7,407.05 509.95,401.36 510.2,402.79 510.45,408.49 510.7,399.78 510.95,405.92 511.2,403.87 511.45,404.84 511.7,403.49 511.95,408.99 512.2,402.31 512.45,405.83 512.7,406.69 512.95,405.65 513.2,404.69 513.45,405.27 513.7,409.05 513.95,407.84 514.2,407.08 514.45,404.4 514.7,408.02 514.95,413.96 515.2,408.32 515.45,412.34 515.7,404.35 515.95,415.61 516.2,408.6 516.45,405.57 516.7,403.99 516.95,411.23 517.2,410.68 517.45,408.69 517.7,409.19 517.95,409.53 518.2,408.35 518.45,411.95 518.7,410.59 518.95,408.49 519.2,404.57 519.45,412.51 519.7,407.81 519.95,406.36 520.2,412.82 520.45,411 520.7,404.67 520.95,405.99 521.2,408.4 521.45,406.43 521.7,409.09 521.95,416.4 522.2,417.76 522.45,409.82 522.7,411.85 522.95,412.41 523.2,410.01 523.45,406.16 523.7,413.38 523.95,410.5 524.2,411.75 524.45,412.47 524.7,408.19 524.95,415.61 525.2,411.64 525.45,416.43 525.7,410.33 525.95,412.87 526.2,418.26 526.45,409.96 526.7,412.86 526.95,410.1 527.2,408.87 527.45,411.34 527.7,413.43 527.95,413.73 528.2,415.41 528.45,410.7 528.7,411.71 528.95,412.11 529.2,413.97 529.45,411.96 529.7,409.46 529.95,408.11 530.2,415.19 530.45,414.87 530.7,410.04 530.95,415.64 531.2,411.42 531.45,413.01 531.7,415.08 531.95,410.63 532.2,409.37 532.45,406.87 532.7,412.73 532.95,412.74 533.2,414.23 533.45,414.36 533.7,412.6 533.95,415.14 534.2,409.57 534.45,413.11 534.7,413.16 534.95,410.91 535.2,415.72 535.45,412.48 535.7,414.45 535.95,413.8 536.2,411.4 536.45,417.26 536.7,415.74 536.95,412.66 537.2,412.31 537.45,409.7 537.7,412.04 537.95,411.11 538.2,412.98 538.45,411.42 538.7,414.45 538.95,412.53 539.2,408 539.45,410.12 539.7,409.68 539.95,408.16 540.2,410.56 540.45,412.8 540.7,407.26 540.95,404.68 541.2,409.86 541.45,418.42 541.7,409.24 541.95,410.94 542.2,409.29 542.45,412.75 542.7,414.52 542.95,410.54 543.2,414.47 543.45,408.05 543.7,411.3 543.95,407.12 544.2,411.45 544.45,408.9 544.7,410.83 544.95,407.46 545.2,411.03 545.45,410.82 545.7,408.93 545.95,408.2 546.2,407 546.45,408.72 546.7,410.91 546.95,409.79 547.2,410.39 547.45,413.67 547.7,409.81 547.95,411.06 548.2,412.9 548.45,412.71 548.7,411.95 548.95,410.79 549.2,415.47 549.45,410.28 549.7,408.96 549.95,411.62 550.2,414.72 550.45,413.79 550.7,409.88 550.95,411.51 551.2,410.32 551.45,408.8 551.7,410.23 551.95,409.95 552.2,407.97 552.45,412.48 552.7,407.46 552.95,411.69 553.2,413.19 553.45,413.6 553.7,408.36 553.95,406.79 554.2,403.33 554.45,407.91 554.7,415.11 554.95,404.53 555.2,404.89 555.45,411.14 555.7,410.6 555.95,404.07 556.2,407.95 556.45,408.43 556.7,404.38 556.95,411.23 557.2,404.67 557.45,411.28 557.7,408.79 557.95,406.43 558.2,403.36 558.45,406.56 558.7,407.19 558.95,407.19 559.2,411.71 559.45,406.77 559.7,409.82 559.95,406.01 560.2,407.93 560.45,409.68 560.7,408.33 560.95,411 561.2,412.92 561.45,408.39 561.7,410.13 561.95,402.58 562.2,408.79 562.45,411.72 562.7,406.52 562.95,412.63 563.2,404.71 563.45,413.36 563.7,408.17 563.95,407.17 564.2,408.12 564.45,408.8 564.7,407.07 564.95,406.04 565.2,407.67 565.45,411.31 565.7,409.59 565.95,412.53 566.2,407.19 566.45,408.15 566.7,408.34 566.95,409.76 567.2,410.6 567.45,414.39 567.7,417.55 567.95,410.42 568.2,412.51 568.45,407.08 568.7,405.46 568.95,411.48 569.2,409.78 569.45,409.85 569.7,411.49 569.95,407.88 570.2,408.74 570.45,410.14 570.7,410.53 570.95,411.86 571.2,409 571.45,409.96 571.7,402.15 571.95,412.17 572.2,404.65 572.45,408.57 572.7,414.88 572.95,407.07 573.2,403.55 573.45,411.99 573.7,406.38 573.95,407.24 574.2,406.94 574.45,409.34 574.7,409.02 574.95,406.83 575.2,409.73 575.45,405.1 575.7,409.44 575.95,406.25 576.2,409.84 576.45,406.31 576.7,407.62 576.95,412.41 577.2,405.37 577.45,405.15 577.7,409.39 577.95,407.39 578.2,407.05 578.45,407.5 578.7,413.44 578.95,405.3 579.2,407.3 579.45,408.3 579.7,405.33 579.95,407.98 580.2,408.91 580.45,405.17 580.7,410.34 580.95,404.79 581.2,407.84 581.45,408.88 581.7,415.9 581.95,402.88 582.2,408.27 582.45,413.77 582.7,405.55 582.95,409.33 583.2,407.07 583.45,402.8 583.7,407.44 583.95,404.38 584.2,406.87 584.45,403.25 584.7,409.47 584.95,401.07 585.2,407.16 585.45,410.9 585.7,409.56 585.95,407.04 586.2,407.18 586.45,406.64 586.7,415.32 586.95,407.92 587.2,407.82 587.45,405.47 587.7,405.92 587.95,409.17 588.2,405.77 588.45,404.82 588.7,405.6 588.95,406.37 589.2,407.98 589.45,405.49 589.7,406.17 589.95,405.6 590.2,410.48 590.45,407.53 590.7,406.61 590.95,408.56 591.2,408.24 591.45,404.41 591.7,408.11 591.95,412.57 592.2,409.59 592.45,411.09 592.7,406 592.95,403.8 593.2,405.91 593.45,411.46 593.7,405.22 593.95,405.49 594.2,409.77 594.45,406.18 594.7,405.84 594.95,412.29 595.2,406.9 595.45,405.47 595.7,407.22 595.95,405.39 596.2,407.06 596.45,408.77 596.7,404.39 596.95,406.9 597.2,404.49 597.45,408.76 597.7,408.53 597.95,409.63 598.2,409.92 598.45,409.89 598.7,408.53 598.95,404.81 599.2,409.25 599.45,404.87 599.7,412.53 599.95,407.53 600.2,408.56 600.45,403.82 600.7,409.69 600.95,409.97 601.2,402.54 601.45,405.45 601.7,405.94 601.95,405.14 602.2,410.45 602.45,412.93 602.7,404.51 602.95,409.86 603.2,406.08 603.45,410.93 603.7,404.74 603.95,406.51 604.2,410.64 604.45,405.84 604.7,411.01 604.95,406.96 605.2,411.27 605.45,409.72 605.7,407.57 605.95,406.71 606.2,408.04 606.45,410.76 606.7,408.21 606.95,406.7 607.2,417.01 607.45,403.88 607.7,407.55 607.95,409.86 608.2,405.68 608.45,407.83 608.7,407 608.95,404.04 609.2,408.97 609.45,404.7 609.7,406.22 609.95,411.6 610.2,405.86 610.45,410.26 610.7,411.42 610.95,410.33 611.2,408.95 611.45,406.99 611.7,403.81 611.95,407.84 612.2,409.08 612.45,406.48 612.7,405.77 612.95,410.69 613.2,406.11 613.45,409.59 613.7,406.7 613.95,403.28 614.2,411.06 614.45,408.76 614.7,408.89 614.95,403.71 615.2,406.9 615.45,408.04 615.7,405.11 615.95,411.46 616.2,401.7 616.45,408.22 616.7,401.81 616.95,402.14 617.2,402.84 617.45,408.36 617.7,404.82 617.95,405.55 618.2,404.65 618.45,403 618.7,404.71 618.95,404.42 619.2,405.47 619.45,405.84 619.7,400.41 619.95,405.43 620.2,410.85 620.45,406.12 620.7,407.52 620.95,406.02 621.2,406.17 621.45,408.37 621.7,405.19 621.95,411.17 622.2,404.18 622.45,409.33 622.7,404.78 622.95,411.3 623.2,412.25 623.45,405.68 623.7,411.44 623.95,408.85 624.2,412.94 624.45,408.5 624.7,409.09 624.95,408.55 625.2,412.17 625.45,407.4 625.7,410.58 625.95,408.71 626.2,407.2 626.45,407.69 626.7,410.44 626.95,409.18 627.2,411.17 627.45,405.54 627.7,401.99 627.95,405.67 628.2,406.51 628.45,406.02 628.7,410.25 628.95,413.16 629.2,408.33 629.45,402.4 629.7,409.99 629.95,405.65 630.2,407.94 630.45,409.98 630.7,409.34 630.95,408.07 631.2,414.75 631.45,408.67 631.7,407.8 631.95,411.86 632.2,398.54 632.45,404.51 632.7,405.8 632.95,409.47 633.2,407.95 633.45,409.52 633.7,403.5 633.95,412.24 634.2,408.81 634.45,407 634.7,406.53 634.95,408.21 635.2,412.52 635.45,402.47 635.7,411.8 635.95,407.68 636.2,404.59 636.45,408.33 636.7,406.69 636.95,410.06 637.2,404.92 637.45,410.11 637.7,404.97 637.95,408.66 638.2,409.42 638.45,407.02 638.7,408.84 638.95,405.56 639.2,410.21 639.45,406.38 639.7,406.61 639.95,408.21 640.2,407.78 640.45,404.86 640.7,408.94 640.95,406.59 641.2,408.09 641.45,401.68 641.7,401.23 641.95,404.12 642.2,402.07 642.45,404.52 642.7,406.25 642.95,408.03 643.2,408.2 643.45,406.1 643.7,402.5 643.95,405.97 644.2,403.72 644.45,406.77 644.7,402.61 644.95,408.44 645.2,407.02 645.45,406.01 645.7,403.14 645.95,407.93 646.2,405.58 646.45,407.93 646.7,405.22 646.95,405.9 647.2,408.92 647.45,411.21 647.7,403.88 647.95,406.79 648.2,408.02 648.45,406.32 648.7,406.06 648.95,413.24 649.2,405.6 649.45,408.89 649.7,406.63 649.95,407.87 650.2,401.85 650.45,409.84 650.7,407.61 650.95,405.72 651.2,412.05 651.45,406.99 651.7,406.26 651.95,405.68 652.2,410.87 652.45,407.96 652.7,406.85 652.95,403.53 653.2,404.57 653.45,407.44 653.7,406.46 653.95,401.84 654.2,405.28 654.45,407.66 654.7,414.26 654.95,405.51 655.2,402.15 655.45,415.43 655.7,406.78 655.95,404.53 656.2,409.39 656.45,406.93 656.7,405.19 656.95,404.24 657.2,407.77 657.45,408.27 657.7,402.89 657.95,410.01 658.2,404.05 658.45,411.1 658.7,408.51 658.95,406.26 659.2,407.58 659.45,404.75 659.7,406.4 659.95,411.09 660.2,405.05 660.45,408.64 660.7,404.14 660.95,406.06 661.2,408.97 661.45,403.7 661.7,407.76 661.95,401.78 662.2,404.4 662.45,406.09 662.7,409.97 662.95,409.51 663.2,405.77 663.45,407.83 663.7,408.67 663.95,404.35 664.2,409.6 664.45,412.1 664.7,411.92 664.95,406.95 665.2,407.17 665.45,405.64 665.7,406.49 665.95,406.88 666.2,409.32" fill="none" stroke="#b8c6fb" stroke-width="2.4" stroke-linejoin="round" />
<polyline points="420.2,395.44 420.7,395.91 421.2,395.53 421.7,396.22 422.2,396.93 422.7,396.93 423.2,396.46 423.7,395.76 424.2,396.45 424.7,396.84 425.2,397.47 425.7,398.28 426.2,398.78 426.7,399.07 427.2,398.09 427.7,398.47 428.2,398.91 428.7,398.27 429.2,398.83 429.7,399.39 430.2,400.06 430.7,401.63 431.2,401.47 431.7,400.93 432.2,400.77 432.7,400.36 433.2,400.35 433.7,400.12 434.2,401.2 434.7,401.79 435.2,401.49 435.7,401.02 436.2,401.8 436.7,402.26 437.2,401.23 437.7,401.46 438.2,402.27 438.7,402.81 439.2,403.35 439.7,402.6 440.2,401.8 440.7,403.26 441.2,404.76 441.7,403.82 442.2,402.78 442.7,402.48 443.2,402.26 443.7,402.74 444.2,403.25 444.7,403.25 445.2,403.87 445.7,404.46 446.2,403.89 446.7,404.4 447.2,404.42 447.7,403.36 448.2,403.54 448.7,405.26 449.2,405.32 449.7,404.52 450.2,404.4 450.7,404.05 451.2,404.43 451.7,403.24 452.2,402.39 452.7,403.44 453.2,403.95 453.7,405 454.2,406.38 454.7,405.99 455.2,404.99 455.7,405.04 456.2,405.62 456.7,404.81 457.2,403.84 457.7,404.43 458.2,404.85 458.7,403.85 459.2,403.94 459.7,404.11 460.2,404.31 460.7,405.54 461.2,404.06 461.7,403.91 462.2,405.16 462.7,404.63 463.2,405.03 463.7,406.36 464.2,406.15 464.7,404.63 465.2,403.69 465.7,403.68 466.2,403.91 466.7,405.08 467.2,405.75 467.7,405.2 468.2,405.52 468.7,405.57 469.2,405.17 469.7,404.77 470.2,404.48 470.7,404.98 471.2,404.77 471.7,405.65 472.2,406.35 472.7,405.32 473.2,405.8 473.7,405.61 474.2,405.72 474.7,406.35 475.2,406.82 475.7,406.57 476.2,405.5 476.7,405.41 477.2,405.05 477.7,405.66 478.2,405.82 478.7,405.92 479.2,406.19 479.7,406.62 480.2,405.73 480.7,405.47 481.2,406.83 481.7,406.69 482.2,406.41 482.7,407.35 483.2,407.52 483.7,406.93 484.2,407.06 484.7,406.73 485.2,406.97 485.7,407.55 486.2,407.01 486.7,406.51 487.2,406.42 487.7,406.92 488.2,407.26 488.7,406.75 489.2,407.57 489.7,407.99 490.2,407.93 490.7,407.93 491.2,408 491.7,408.18 492.2,407.48 492.7,407.61 493.2,408.05 493.7,407.89 494.2,408.26 494.7,408.17 495.2,407.57 495.7,408.5 496.2,410.01 496.7,409.31 497.2,409.03 497.7,409.45 498.2,408.62 498.7,408.08 499.2,408.32 499.7,408.59 500.2,408.61 500.7,408.8 501.2,408.44 501.7,408.97 502.2,409.01 502.7,408.08 503.2,409.14 503.7,410.09 504.2,410.39 504.7,410.12 505.2,409.11 505.7,409.65 506.2,409.96 506.7,409.36 507.2,409.02 507.7,409.32 508.2,408.6 508.7,408.7 509.2,408.92 509.7,409.13 510.2,409.39 510.7,409.33 511.2,411.37 511.7,410.93 512.2,409.15 512.7,410.3 513.2,410.7 513.7,409.21 514.2,410.09 514.7,409.26 515.2,407.93 515.7,408.73 516.2,409.16 516.7,408.85 517.2,409.64 517.7,411.2 518.2,410.8 518.7,410.12 519.2,409.4 519.7,409.88 520.2,410.34 520.7,410.45 521.2,411.35 521.7,411.1 522.2,409.57 522.7,409.12 523.2,410.89 523.7,411.54 524.2,411.6 524.7,410.38 525.2,409.65 525.7,410.72 526.2,410 526.7,409.8 527.2,411.14 527.7,411.77 528.2,411.05 528.7,410.98 529.2,411.88 529.7,411.22 530.2,410.8 530.7,411.89 531.2,411.43 531.7,411.59 532.2,411.92 532.7,411.85 533.2,412.39 533.7,412 534.2,411.42 534.7,410.99 535.2,411.25 535.7,411.72 536.2,412.36 536.7,412.24 537.2,411.75 537.7,412.67 538.2,412.68 538.7,412.1 539.2,412.77 539.7,412.62 540.2,412.04 540.7,412.4 541.2,412.18 541.7,411.27 542.2,410.63 542.7,411.11 543.2,412.44 543.7,413.07 544.2,413.35 544.7,413.34 545.2,412.23 545.7,411.08 546.2,411.17 546.7,411.8 547.2,411.71 547.7,412.34 548.2,412.34 548.7,412.2 549.2,413.02 549.7,411.89 550.2,411.32 550.7,412.84 551.2,413.51 551.7,412.97 552.2,412.02 552.7,411.64 553.2,412.27 553.7,413.28 554.2,413.51 554.7,412.87 555.2,412.77 555.7,413.23 556.2,412.27 556.7,411.41 557.2,412.34 557.7,413.47 558.2,414.02 558.7,413.06 559.2,412.56 559.7,412.61 560.2,412.42 560.7,412.88 561.2,412.9 561.7,412.57 562.2,412.18 562.7,411.68 563.2,412.17 563.7,413.07 564.2,413.49 564.7,413 565.2,412.34 565.7,413.39 566.2,413.97 566.7,413.8 567.2,413.32 567.7,412.53 568.2,412.25 568.7,413.12 569.2,413.14 569.7,411.79 570.2,412 570.7,413.51 571.2,413.91 571.7,413.4 572.2,413.46 572.7,413.33 573.2,413.2 573.7,412.54 574.2,413.47 574.7,414.1 575.2,413.89 575.7,413.2 576.2,412.88 576.7,413.08 577.2,412.18 577.7,412.91 578.2,414.08 578.7,414.64 579.2,414.81 579.7,414 580.2,413.74 580.7,413.59 581.2,412.94 581.7,413.37 582.2,413.6 582.7,413.91 583.2,413.07 583.7,413.23 584.2,413.86 584.7,414.04 585.2,414.92 585.7,413.62 586.2,413.04 586.7,413.96 587.2,413.6 587.7,412.91 588.2,413.16 588.7,413.92 589.2,414.54 589.7,413.97 590.2,413.94 590.7,414.9 591.2,414.96 591.7,413.87 592.2,413 592.7,413.52 593.2,414.37 593.7,414.45 594.2,413.86 594.7,413.2 595.2,414.03 595.7,414.44 596.2,414.74 596.7,414.26 597.2,413.18 597.7,413.45 598.2,414.54 598.7,415.49 599.2,414.34 599.7,412.78 600.2,413.61 600.7,414.64 601.2,413.51 601.7,412.71 602.2,413.48 602.7,414.13 603.2,414.01 603.7,414.31 604.2,414.07 604.7,413.74 605.2,414.26 605.7,414.35 606.2,413.89 606.7,414.27 607.2,413.44 607.7,413.74 608.2,414.96 608.7,413.97 609.2,413.67 609.7,414.66 610.2,415.03 610.7,413.55 611.2,412.78 611.7,413.76 612.2,415.16 612.7,415.45 613.2,414.48 613.7,414.39 614.2,414.51 614.7,414.08 615.2,414.27 615.7,413.36 616.2,413.68 616.7,415.02 617.2,414.31 617.7,413.62 618.2,413.25 618.7,413.82 619.2,414.5 619.7,414.46 620.2,415.24 620.7,414.07 621.2,412.87 621.7,413.59 622.2,414.42 622.7,414.69 623.2,413.76 623.7,413.99 624.2,414.67 624.7,415.38 625.2,415.31 625.7,414.3 626.2,413.93 626.7,413.75 627.2,414.25 627.7,415.07 628.2,414.72 628.7,414.26 629.2,415.06 629.7,415.18 630.2,414.76 630.7,414.17 631.2,413.64 631.7,413.12 632.2,412.75 632.7,414 633.2,415.3 633.7,415 634.2,413.79 634.7,413.98 635.2,415.15 635.7,415.03 636.2,414.92 636.7,414.98 637.2,413.92 637.7,413.51 638.2,414 638.7,415.59 639.2,416.02 639.7,414.77 640.2,414.64 640.7,414.87 641.2,414.51 641.7,414.36 642.2,414.46 642.7,414.89 643.2,415.8 643.7,416.1 644.2,415.17 644.7,414.8 645.2,414.6 645.7,413.79 646.2,414.2 646.7,415.05 647.2,414.99 647.7,415.1 648.2,415.55 648.7,415.53 649.2,415.05 649.7,414 650.2,414.98 650.7,415.43 651.2,414.9 651.7,415.39 652.2,414.86 652.7,415.53 653.2,416.05 653.7,415.14 654.2,414.61 654.7,414.14 655.2,413.73 655.7,414.5 656.2,414.92 656.7,414.42 657.2,414.9 657.7,414.95 658.2,415.03 658.7,414.9 659.2,414.33 659.7,415.1 660.2,415.03 660.7,414.89 661.2,415.48 661.7,415.19 662.2,414.13 662.7,413.49 663.2,413.77 663.7,413.79 664.2,414.76 664.7,414.98 665.2,413.95 665.7,414.13 666.2,414.7" fill="none" stroke="#ffb9b9" stroke-width="3.6" stroke-linejoin="round" />
<polyline points="420.2,478.21 420.6,477.9 421,474.68 421.4,472.79 421.8,470.73 422.2,472.81 422.6,472.09 423,472.4 423.4,468.92 423.8,470.89 424.2,468.43 424.6,469.4 425,468.46 425.4,468.36 425.8,469.8 426.2,466.79 426.6,468.6 427,467.21 427.4,467.1 427.8,465.94 428.2,467.1 428.6,464 429,466.34 429.4,467.5 429.8,467.46 430.2,463.98 430.6,464.01 431,465.03 431.4,468.2 431.8,465.43 432.2,465.79 432.6,465.22 433,465.88 433.4,463.58 433.8,465.51 434.2,465.95 434.6,466.89 435,464.13 435.4,465.88 435.8,467.16 436.2,465.61 436.6,465.63 437,461.93 437.4,467.16 437.8,467.97 438.2,466.47 438.6,465.46 439,466.18 439.4,469.14 439.8,464.3 440.2,464.39 440.6,466.19 441,464.18 441.4,460.86 441.8,464.16 442.2,464.12 442.6,462.52 443,464.14 443.4,463.88 443.8,461.33 444.2,464.74 444.6,466.66 445,466.25 445.4,463.02 445.8,463.06 446.2,464.22 446.6,464.39 447,462.29 447.4,463.62 447.8,465.79 448.2,464.61 448.6,465.45 449,463.11 449.4,463.47 449.8,461.56 450.2,461.61 450.6,460.98 451,459.2 451.4,461.43 451.8,460.38 452.2,461.19 452.6,462.58 453,463.5 453.4,463.97 453.8,462.81 454.2,463.31 454.6,464.61 455,462.82 455.4,463.07 455.8,460.09 456.2,461.64 456.6,464.15 457,461.54 457.4,461.2 457.8,463.99 458.2,461.67 458.6,464.45 459,462.7 459.4,462.02 459.8,460.1 460.2,464.42 460.6,460.41 461,461.23 461.4,463.82 461.8,460.62 462.2,462.59 462.6,461.8 463,461.64 463.4,460.28 463.8,461.02 464.2,461.53 464.6,459.66 465,461.48 465.4,460.66 465.8,461.1 466.2,460.5 466.6,460.79 467,460.64 467.4,461.19 467.8,460.85 468.2,460.53 468.6,458.81 469,458.16 469.4,460.58 469.8,462.09 470.2,459.89 470.6,458.98 471,460.09 471.4,461.23 471.8,462.06 472.2,460.85 472.6,459.76 473,460.58 473.4,461.73 473.8,460.05 474.2,461.38 474.6,459.65 475,461.61 475.4,462.82 475.8,459.34 476.2,459.46 476.6,461.69 477,464.67 477.4,461.54 477.8,460.37 478.2,461.79 478.6,460.01 479,457.94 479.4,458.57 479.8,461.83 480.2,458.22 480.6,458.66 481,461.76 481.4,461.76 481.8,463.1 482.2,460.28 482.6,461.06 483,461.45 483.4,460.13 483.8,461.06 484.2,460.99 484.6,462.4 485,460.6 485.4,459.87 485.8,460.76 486.2,461.06 486.6,461.08 487,459.91 487.4,459.52 487.8,459.65 488.2,458.48 488.6,460.09 489,460.49 489.4,462.71 489.8,460.95 490.2,461.92 490.6,462.62 491,458.23 491.4,459.55 491.8,459.62 492.2,460.61 492.6,458.83 493,461.68 493.4,461.84 493.8,461.03 494.2,461.23 494.6,458.72 495,461.48 495.4,459.61 495.8,457.95 496.2,460.62 496.6,460.77 497,459.31 497.4,457.84 497.8,458.5 498.2,459.99 498.6,456.62 499,460.82 499.4,460.74 499.8,459.41 500.2,461.15 500.6,459.21 501,458.38 501.4,460.93 501.8,460.69 502.2,459.13 502.6,459.19 503,459.56 503.4,462.27 503.8,459.9 504.2,464.03 504.6,459.38 505,460.62 505.4,460.43 505.8,459.61 506.2,460.37 506.6,458.46 507,459.19 507.4,457.79 507.8,456.44 508.2,459.16 508.6,457.4 509,457.33 509.4,459.66 509.8,459.07 510.2,459.25 510.6,460.79 511,458.64 511.4,459.14 511.8,456.69 512.2,459.7 512.6,459.45 513,457.24 513.4,459.19 513.8,459.11 514.2,458.41 514.6,458.75 515,461.85 515.4,458.03 515.8,458.47 516.2,458.95 516.6,458.48 517,456.24 517.4,458.89 517.8,459.77 518.2,461 518.6,458.1 519,457.34 519.4,459.21 519.8,457.26 520.2,458.7 520.6,458.63 521,460.13 521.4,459.07 521.8,460.57 522.2,458.26 522.6,462.25 523,460.69 523.4,458.93 523.8,458.32 524.2,458.87 524.6,458.27 525,457.59 525.4,460.77 525.8,460.06 526.2,457.52 526.6,459.41 527,458.31 527.4,459.01 527.8,457.25 528.2,460.18 528.6,458.06 529,460.36 529.4,457.34 529.8,459.62 530.2,457.82 530.6,460.34 531,458.15 531.4,456.73 531.8,457.22 532.2,456.93 532.6,458.4 533,457.84 533.4,457.55 533.8,458.66 534.2,459.58 534.6,456.38 535,459.32 535.4,460.8 535.8,457.72 536.2,457.51 536.6,458.84 537,458.69 537.4,457.59 537.8,458.3 538.2,460.29 538.6,459.61 539,457.53 539.4,456.21 539.8,457.26 540.2,459.02 540.6,457.87 541,458.04 541.4,459.9 541.8,458.46 542.2,457.76 542.6,458.53 543,459.35 543.4,457.83 543.8,458.18 544.2,457.5 544.6,458.72 545,455.42 545.4,455.52 545.8,456.3 546.2,459.75 546.6,459.82 547,456.54 547.4,458.02 547.8,458.97 548.2,459 548.6,459.65 549,457.78 549.4,456.68 549.8,459.82 550.2,460.34 550.6,456.72 551,456.02 551.4,458.19 551.8,455.93 552.2,458.95 552.6,456.94 553,459.62 553.4,457.9 553.8,459.13 554.2,459.45 554.6,458.21 555,456.82 555.4,460.06 555.8,457.24 556.2,460.86 556.6,458.14 557,458.26 557.4,458.66 557.8,458.73 558.2,458.76 558.6,456.49 559,456.78 559.4,458.09 559.8,458.39 560.2,457.68 560.6,459.23 561,457.71 561.4,459.5 561.8,459.34 562.2,458.6 562.6,458.3 563,459.48 563.4,459.49 563.8,459.47 564.2,457.59 564.6,459.15 565,460.34 565.4,458.63 565.8,458.85 566.2,458.02 566.6,459.52 567,455.59 567.4,460.55 567.8,459.26 568.2,458.5 568.6,459.58 569,460.23 569.4,459.55 569.8,460.02 570.2,460.59 570.6,459 571,460.14 571.4,461.12 571.8,460.18 572.2,458.49 572.6,460.37 573,461.71 573.4,458.77 573.8,459.94 574.2,459.88 574.6,460.17 575,458.36 575.4,458.42 575.8,460.62 576.2,458.88 576.6,457.12 577,458.68 577.4,457.72 577.8,459.33 578.2,455.06 578.6,457.65 579,459.3 579.4,456.62 579.8,457.63 580.2,459.56 580.6,458.86 581,458.36 581.4,459.13 581.8,456.92 582.2,457.53 582.6,460.21 583,457.25 583.4,458.36 583.8,457.38 584.2,458.9 584.6,457.99 585,457.95 585.4,459.03 585.8,457.71 586.2,455.34 586.6,456.33 587,458.85 587.4,458.21 587.8,456.15 588.2,454.41 588.6,455.74 589,459.35 589.4,459.06 589.8,459.01 590.2,455.26 590.6,455.92 591,456.87 591.4,455.97 591.8,457.97 592.2,456.61 592.6,458.64 593,457.1 593.4,456.78 593.8,458.94 594.2,458.74 594.6,458.48 595,458 595.4,458.19 595.8,455.92 596.2,455.82 596.6,457.83 597,458.76 597.4,460.95 597.8,458.81 598.2,456.79 598.6,457.3 599,456.68 599.4,458.33 599.8,458.13 600.2,457.99 600.6,458.43 601,458.98 601.4,458.66 601.8,457.03 602.2,459.83 602.6,457.44 603,458.69 603.4,458.56 603.8,460.44 604.2,458.63 604.6,458.57 605,458.26 605.4,459.16 605.8,458.28 606.2,457.62 606.6,459.2 607,461.07 607.4,460.41 607.8,459.7 608.2,457.15 608.6,457.58 609,457.79 609.4,455.8 609.8,460.24 610.2,456.16 610.6,458.14 611,456.39 611.4,458.18 611.8,459.27 612.2,459.3 612.6,457.81 613,457.79 613.4,459.55 613.8,458.52 614.2,458.52 614.6,459.24 615,455.02 615.4,458.23 615.8,459.52 616.2,460.03 616.6,458.1 617,455.94 617.4,458.12 617.8,459.74 618.2,456.43 618.6,455.98 619,456.96 619.4,456.74 619.8,454.85 620.2,454.7 620.6,456.58 621,457.39 621.4,458.6 621.8,457.49 622.2,458.84 622.6,460.39 623,462.07 623.4,459.36 623.8,457.35 624.2,460.04 624.6,458.55 625,459.01 625.4,459.61 625.8,459.32 626.2,456.57 626.6,456.34 627,458.38 627.4,458.78 627.8,460.09 628.2,458.11 628.6,456.69 629,456.45 629.4,456.09 629.8,455.5 630.2,456.15 630.6,456.99 631,457.8 631.4,457.07 631.8,458.39 632.2,458.35 632.6,458.85 633,458.55 633.4,459.72 633.8,459.58 634.2,456.02 634.6,460.32 635,460.36 635.4,459.14 635.8,459.57 636.2,458.21 636.6,459.44 637,458.12 637.4,460.09 637.8,459.76 638.2,457.31 638.6,458.07 639,460.11 639.4,460.27 639.8,460.31 640.2,458.46 640.6,458.71 641,459.48 641.4,459.98 641.8,459.53 642.2,458.53 642.6,459.33 643,458.96 643.4,458.15 643.8,458.32 644.2,459.1 644.6,458.4 645,460.61 645.4,460.97 645.8,461.14 646.2,459.49 646.6,459.47 647,460.86 647.4,459.86 647.8,459.62 648.2,459.15 648.6,457.71 649,461.58 649.4,457.71 649.8,457.09 650.2,460.15 650.6,457.04 651,459.99 651.4,459.33 651.8,459.73 652.2,458.4 652.6,456.81 653,457.5 653.4,458.92 653.8,458.7 654.2,457.77 654.6,457.24 655,457.61 655.4,459.12 655.8,459.71 656.2,460.57 656.6,458.77 657,461.51 657.4,460.6 657.8,461.21 658.2,458.48 658.6,460.78 659,460.77 659.4,457.39 659.8,460.84 660.2,460.33 660.6,460.89 661,459.56 661.4,460.92 661.8,459.03 662.2,458.01 662.6,459.96 663,460.21 663.4,457.14 663.8,460.16 664.2,460.2 664.6,460.65 665,458.58 665.4,461.4 665.8,460.86 666.2,461.31" fill="none" stroke="#ff0000" stroke-width="2.7" stroke-linejoin="round" />
<polyline points="420.8,566 420.8,545 420.6,544.71 420.8,531.66 421,544.71 421.2,544.71 421.4,544.71 421.6,544.71 421.8,531.66 422,531.66 422.2,544.71 422.4,544.71 422.6,531.66 422.8,531.66 423,531.66 423.2,531.66 423.4,531.66 423.6,531.66 423.8,544.71 424,544.71 424.2,544.71 424.4,544.71 424.6,544.71 424.8,544.71 425,544.71 425.2,524.02 425.4,514.4 425.6,544.71 425.8,508.07 426,518.61 426.2,518.61 426.4,514.4 426.6,518.61 426.8,514.4 427,505.55 427.2,514.4 427.4,514.4 427.6,518.61 427.8,518.61 428,524.02 428.2,518.61 428.4,524.02 428.6,508.07 428.8,518.61 429,510.97 429.2,505.55 429.4,508.07 429.6,524.02 429.8,503.34 430,531.66 430.2,505.55 430.4,531.66 430.6,524.02 430.8,518.61 431,524.02 431.2,531.66 431.4,524.02 431.6,514.4 431.8,531.66 432,510.97 432.2,505.55 432.4,505.55 432.6,514.4 432.8,518.61 433,518.61 433.2,496.41 433.4,508.07 433.6,510.97 433.8,514.4 434,508.07 434.2,531.66 434.4,510.97 434.6,524.02 434.8,531.66 435,508.07 435.2,524.02 435.4,514.4 435.6,524.02 435.8,518.61 436,503.34 436.2,514.4 436.4,514.4 436.6,531.66 436.8,510.97 437,524.02 437.2,514.4 437.4,524.02 437.6,518.61 437.8,514.4 438,531.66 438.2,518.61 438.4,524.02 438.6,510.97 438.8,518.61 439,518.61 439.2,496.41 439.4,514.4 439.6,524.02 439.8,510.97 440,518.61 440.2,508.07 440.4,524.02 440.6,503.34 440.8,524.02 441,524.02 441.2,524.02 441.4,518.61 441.6,503.34 441.8,518.61 442,531.66 442.2,518.61 442.4,518.61 442.6,510.97 442.8,518.61 443,514.4 443.2,495.02 443.4,518.61 443.6,514.4 443.8,524.02 444,510.97 444.2,518.61 444.4,501.35 444.6,505.55 444.8,508.07 445,518.61 445.2,518.61 445.4,518.61 445.6,514.4 445.8,518.61 446,524.02 446.2,518.61 446.4,518.61 446.6,518.61 446.8,510.97 447,508.07 447.2,524.02 447.4,501.35 447.6,514.4 447.8,508.07 448,503.34 448.2,531.66 448.4,514.4 448.6,510.97 448.8,508.07 449,514.4 449.2,510.97 449.4,531.66 449.6,524.02 449.8,514.4 450,531.66 450.2,518.61 450.4,518.61 450.6,514.4 450.8,510.97 451,514.4 451.2,524.02 451.4,524.02 451.6,514.4 451.8,510.97 452,514.4 452.2,514.4 452.4,514.4 452.6,524.02 452.8,514.4 453,510.97 453.2,524.02 453.4,514.4 453.6,514.4 453.8,501.35 454,518.61 454.2,518.61 454.4,531.66 454.6,524.02 454.8,531.66 455,531.66 455.2,514.4 455.4,518.61 455.6,518.61 455.8,531.66 456,531.66 456.2,531.66 456.4,505.55 456.6,508.07 456.8,524.02 457,514.4 457.2,514.4 457.4,524.02 457.6,524.02 457.8,508.07 458,510.97 458.2,508.07 458.4,514.4 458.6,514.4 458.8,510.97 459,518.61 459.2,503.34 459.4,514.4 459.6,510.97 459.8,518.61 460,524.02 460.2,518.61 460.4,518.61 460.6,524.02 460.8,510.97 461,501.35 461.2,514.4 461.4,518.61 461.6,524.02 461.8,531.66 462,510.97 462.2,510.97 462.4,524.02 462.6,514.4 462.8,524.02 463,505.55 463.2,514.4 463.4,514.4 463.6,505.55 463.8,531.66 464,514.4 464.2,514.4 464.4,518.61 464.6,518.61 464.8,508.07 465,524.02 465.2,524.02 465.4,503.34 465.6,510.97 465.8,514.4 466,510.97 466.2,514.4 466.4,518.61 466.6,518.61 466.8,514.4 467,518.61 467.2,524.02 467.4,514.4 467.6,510.97 467.8,514.4 468,510.97 468.2,514.4 468.4,508.07 468.6,514.4 468.8,518.61 469,510.97 469.2,508.07 469.4,518.61 469.6,524.02 469.8,505.55 470,518.61 470.2,514.4 470.4,518.61 470.6,514.4 470.8,505.55 471,503.34 471.2,524.02 471.4,531.66 471.6,544.71 471.8,510.97 472,503.34 472.2,514.4 472.4,518.61 472.6,508.07 472.8,524.02 473,510.97 473.2,505.55 473.4,505.55 473.6,510.97 473.8,518.61 474,518.61 474.2,524.02 474.4,503.34 474.6,508.07 474.8,518.61 475,518.61 475.2,514.4 475.4,524.02 475.6,510.97 475.8,514.4 476,514.4 476.2,518.61 476.4,531.66 476.6,518.61 476.8,524.02 477,531.66 477.2,497.92 477.4,518.61 477.6,518.61 477.8,518.61 478,524.02 478.2,503.34 478.4,531.66 478.6,510.97 478.8,518.61 479,505.55 479.2,508.07 479.4,514.4 479.6,531.66 479.8,510.97 480,510.97 480.2,514.4 480.4,518.61 480.6,514.4 480.8,524.02 481,514.4 481.2,514.4 481.4,518.61 481.6,524.02 481.8,518.61 482,524.02 482.2,524.02 482.4,505.55 482.6,514.4 482.8,518.61 483,518.61 483.2,510.97 483.4,514.4 483.6,518.61 483.8,510.97 484,514.4 484.2,518.61 484.4,524.02 484.6,505.55 484.8,518.61 485,505.55 485.2,510.97 485.4,514.4 485.6,518.61 485.8,503.34 486,518.61 486.2,518.61 486.4,524.02 486.6,518.61 486.8,524.02 487,518.61 487.2,524.02 487.4,514.4 487.6,514.4 487.8,514.4 488,524.02 488.2,508.07 488.4,501.35 488.6,518.61 488.8,524.02 489,510.97 489.2,518.61 489.4,514.4 489.6,510.97 489.8,524.02 490,510.97 490.2,524.02 490.4,524.02 490.6,518.61 490.8,503.34 491,518.61 491.2,510.97 491.4,524.02 491.6,510.97 491.8,514.4 492,508.07 492.2,514.4 492.4,514.4 492.6,531.66 492.8,514.4 493,510.97 493.2,514.4 493.4,514.4 493.6,510.97 493.8,508.07 494,524.02 494.2,514.4 494.4,510.97 494.6,514.4 494.8,524.02 495,531.66 495.2,514.4 495.4,510.97 495.6,503.34 495.8,510.97 496,524.02 496.2,510.97 496.4,514.4 496.6,518.61 496.8,524.02 497,531.66 497.2,518.61 497.4,518.61 497.6,510.97 497.8,514.4 498,510.97 498.2,497.92 498.4,514.4 498.6,503.34 498.8,518.61 499,518.61 499.2,518.61 499.4,524.02 499.6,499.56 499.8,510.97 500,508.07 500.2,499.56 500.4,508.07 500.6,499.56 500.8,531.66 501,503.34 501.2,510.97 501.4,518.61 501.6,505.55 501.8,514.4 502,518.61 502.2,531.66 502.4,499.56 502.6,531.66 502.8,514.4 503,503.34 503.2,510.97 503.4,518.61 503.6,518.61 503.8,518.61 504,514.4 504.2,514.4 504.4,524.02 504.6,524.02 504.8,505.55 505,524.02 505.2,524.02 505.4,496.41 505.6,524.02 505.8,524.02 506,524.02 506.2,510.97 506.4,524.02 506.6,518.61 506.8,531.66 507,518.61 507.2,514.4 507.4,514.4 507.6,503.34 507.8,510.97 508,544.71 508.2,531.66 508.4,524.02 508.6,518.61 508.8,514.4 509,510.97 509.2,531.66 509.4,531.66 509.6,510.97 509.8,524.02 510,531.66 510.2,524.02 510.4,524.02 510.6,524.02 510.8,524.02 511,510.97 511.2,524.02 511.4,518.61 511.6,518.61 511.8,524.02 512,501.35 512.2,531.66 512.4,499.56 512.6,524.02 512.8,524.02 513,518.61 513.2,510.97 513.4,514.4 513.6,524.02 513.8,524.02 514,508.07 514.2,508.07 514.4,524.02 514.6,510.97 514.8,514.4 515,518.61 515.2,531.66 515.4,531.66 515.6,518.61 515.8,544.71 516,524.02 516.2,518.61 516.4,531.66 516.6,508.07 516.8,508.07 517,531.66 517.2,524.02 517.4,524.02 517.6,524.02 517.8,524.02 518,518.61 518.2,508.07 518.4,518.61 518.6,518.61 518.8,518.61 519,524.02 519.2,514.4 519.4,524.02 519.6,524.02 519.8,514.4 520,531.66 520.2,524.02 520.4,524.02 520.6,518.61 520.8,531.66 521,531.66 521.2,524.02 521.4,514.4 521.6,518.61 521.8,518.61 522,524.02 522.2,518.61 522.4,544.71 522.6,514.4 522.8,510.97 523,518.61 523.2,524.02 523.4,508.07 523.6,524.02 523.8,508.07 524,518.61 524.2,524.02 524.4,518.61 524.6,524.02 524.8,524.02 525,514.4 525.2,524.02 525.4,524.02 525.6,524.02 525.8,518.61 526,524.02 526.2,518.61 526.4,518.61 526.6,518.61 526.8,514.4 527,524.02 527.2,514.4 527.4,518.61 527.6,514.4 527.8,524.02 528,531.66 528.2,524.02 528.4,524.02 528.6,518.61 528.8,524.02 529,510.97 529.2,531.66 529.4,531.66 529.6,524.02 529.8,524.02 530,524.02 530.2,518.61 530.4,501.35 530.6,531.66 530.8,531.66 531,524.02 531.2,531.66 531.4,531.66 531.6,514.4 531.8,524.02 532,524.02 532.2,518.61 532.4,544.71 532.6,524.02 532.8,524.02 533,524.02 533.2,531.66 533.4,531.66 533.6,524.02 533.8,518.61 534,531.66 534.2,518.61 534.4,544.71 534.6,524.02 534.8,518.61 535,531.66 535.2,531.66 535.4,524.02 535.6,524.02 535.8,518.61 536,524.02 536.2,531.66 536.4,531.66 536.6,524.02 536.8,518.61 537,524.02 537.2,531.66 537.4,531.66 537.6,531.66 537.8,531.66 538,531.66 538.2,531.66 538.4,524.02 538.6,531.66 538.8,524.02 539,531.66 539.2,524.02 539.4,524.02 539.6,518.61 539.8,524.02 540,531.66 540.2,524.02 540.4,531.66 540.6,531.66 540.8,531.66 541,531.66 541.2,524.02 541.4,524.02 541.6,508.07 541.8,531.66 542,531.66 542.2,531.66 542.4,531.66 542.6,531.66 542.8,531.66 543,531.66 543.2,524.02 543.4,524.02 543.6,531.66 543.8,531.66 544,531.66 544.2,531.66 544.4,531.66 544.6,531.66 544.8,524.02 545,531.66 545.2,531.66 545.4,531.66 545.6,518.61 545.8,531.66 546,524.02 546.2,531.66 546.4,501.35 546.6,524.02 546.8,524.02 547,531.66 547.2,544.71 547.4,531.66 547.6,510.97 547.8,524.02 548,531.66 548.2,524.02 548.4,531.66 548.6,531.66 548.8,524.02 549,524.02 549.2,544.71 549.4,531.66 549.6,544.71 549.8,544.71 550,524.02 550.2,518.61 550.4,514.4 550.6,544.71 550.8,531.66 551,531.66 551.2,524.02 551.4,524.02 551.6,531.66 551.8,524.02 552,531.66 552.2,524.02 552.4,531.66 552.6,524.02 552.8,531.66 553,531.66 553.2,544.71 553.4,544.71 553.6,544.71 553.8,531.66 554,544.71 554.2,518.61 554.4,531.66 554.6,544.71 554.8,524.02 555,544.71 555.2,531.66 555.4,531.66 555.6,518.61 555.8,524.02 556,524.02 556.2,531.66 556.4,518.61 556.6,531.66 556.8,531.66 557,524.02 557.2,531.66 557.4,544.71 557.6,524.02 557.8,544.71 558,524.02 558.2,531.66 558.4,531.66 558.6,531.66 558.8,518.61 559,524.02 559.2,518.61 559.4,531.66 559.6,531.66 559.8,524.02 560,518.61 560.2,531.66 560.4,531.66 560.6,531.66 560.8,531.66 561,531.66 561.2,518.61 561.4,524.02 561.6,531.66 561.8,524.02 562,518.61 562.2,531.66 562.4,531.66 562.6,518.61 562.8,508.07 563,544.71 563.2,531.66 563.4,518.61 563.6,531.66 563.8,518.61 564,524.02 564.2,531.66 564.4,524.02 564.6,518.61 564.8,531.66 565,518.61 565.2,518.61 565.4,524.02 565.6,518.61 565.8,524.02 566,524.02 566.2,531.66 566.4,514.4 566.6,524.02 566.8,514.4 567,508.07 567.2,510.97 567.4,524.02 567.6,524.02 567.8,524.02 568,524.02 568.2,531.66 568.4,531.66 568.6,518.61 568.8,524.02 569,510.97 569.2,508.07 569.4,531.66 569.6,531.66 569.8,514.4 570,510.97 570.2,518.61 570.4,518.61 570.6,531.66 570.8,505.55 571,531.66 571.2,518.61 571.4,518.61 571.6,531.66 571.8,514.4 572,510.97 572.2,524.02 572.4,518.61 572.6,518.61 572.8,514.4 573,514.4 573.2,531.66 573.4,531.66 573.6,524.02 573.8,544.71 574,531.66 574.2,518.61 574.4,524.02 574.6,524.02 574.8,514.4 575,518.61 575.2,514.4 575.4,518.61 575.6,524.02 575.8,524.02 576,518.61 576.2,531.66 576.4,524.02 576.6,518.61 576.8,514.4 577,524.02 577.2,531.66 577.4,518.61 577.6,524.02 577.8,524.02 578,531.66 578.2,508.07 578.4,508.07 578.6,524.02 578.8,531.66 579,518.61 579.2,514.4 579.4,508.07 579.6,518.61 579.8,531.66 580,518.61 580.2,518.61 580.4,531.66 580.6,518.61 580.8,524.02 581,524.02 581.2,518.61 581.4,510.97 581.6,510.97 581.8,524.02 582,524.02 582.2,514.4 582.4,524.02 582.6,524.02 582.8,505.55 583,544.71 583.2,524.02 583.4,524.02 583.6,518.61 583.8,505.55 584,518.61 584.2,524.02 584.4,518.61 584.6,518.61 584.8,514.4 585,499.56 585.2,524.02 585.4,518.61 585.6,518.61 585.8,531.66 586,514.4 586.2,518.61 586.4,531.66 586.6,518.61 586.8,514.4 587,524.02 587.2,508.07 587.4,524.02 587.6,531.66 587.8,510.97 588,518.61 588.2,518.61 588.4,531.66 588.6,531.66 588.8,524.02 589,518.61 589.2,518.61 589.4,508.07 589.6,508.07 589.8,518.61 590,518.61 590.2,505.55 590.4,518.61 590.6,510.97 590.8,524.02 591,518.61 591.2,518.61 591.4,524.02 591.6,514.4 591.8,524.02 592,518.61 592.2,514.4 592.4,499.56 592.6,531.66 592.8,514.4 593,510.97 593.2,518.61 593.4,508.07 593.6,510.97 593.8,510.97 594,518.61 594.2,518.61 594.4,518.61 594.6,524.02 594.8,514.4 595,524.02 595.2,524.02 595.4,531.66 595.6,510.97 595.8,524.02 596,524.02 596.2,510.97 596.4,518.61 596.6,514.4 596.8,518.61 597,514.4 597.2,514.4 597.4,531.66 597.6,505.55 597.8,508.07 598,524.02 598.2,508.07 598.4,514.4 598.6,514.4 598.8,505.55 599,508.07 599.2,508.07 599.4,499.56 599.6,505.55 599.8,518.61 600,524.02 600.2,508.07 600.4,524.02 600.6,514.4 600.8,514.4 601,518.61 601.2,503.34 601.4,510.97 601.6,514.4 601.8,505.55 602,518.61 602.2,505.55 602.4,497.92 602.6,514.4 602.8,514.4 603,505.55 603.2,531.66 603.4,524.02 603.6,524.02 603.8,524.02 604,514.4 604.2,514.4 604.4,514.4 604.6,514.4 604.8,508.07 605,508.07 605.2,505.55 605.4,518.61 605.6,514.4 605.8,503.34 606,510.97 606.2,505.55 606.4,518.61 606.6,514.4 606.8,518.61 607,514.4 607.2,510.97 607.4,518.61 607.6,497.92 607.8,524.02 608,508.07 608.2,524.02 608.4,510.97 608.6,518.61 608.8,514.4 609,514.4 609.2,524.02 609.4,524.02 609.6,518.61 609.8,514.4 610,508.07 610.2,503.34 610.4,531.66 610.6,510.97 610.8,518.61 611,514.4 611.2,510.97 611.4,508.07 611.6,510.97 611.8,514.4 612,503.34 612.2,514.4 612.4,518.61 612.6,508.07 612.8,524.02 613,524.02 613.2,505.55 613.4,518.61 613.6,531.66 613.8,510.97 614,508.07 614.2,524.02 614.4,524.02 614.6,518.61 614.8,514.4 615,518.61 615.2,524.02 615.4,510.97 615.6,510.97 615.8,531.66 616,524.02 616.2,518.61 616.4,518.61 616.6,514.4 616.8,510.97 617,499.56 617.2,510.97 617.4,505.55 617.6,524.02 617.8,518.61 618,505.55 618.2,524.02 618.4,505.55 618.6,510.97 618.8,510.97 619,514.4 619.2,524.02 619.4,524.02 619.6,518.61 619.8,518.61 620,505.55 620.2,518.61 620.4,518.61 620.6,524.02 620.8,510.97 621,514.4 621.2,503.34 621.4,497.92 621.6,508.07 621.8,518.61 622,510.97 622.2,510.97 622.4,514.4 622.6,518.61 622.8,510.97 623,518.61 623.2,510.97 623.4,514.4 623.6,531.66 623.8,505.55 624,493.72 624.2,510.97 624.4,514.4 624.6,501.35 624.8,518.61 625,505.55 625.2,503.34 625.4,510.97 625.6,505.55 625.8,510.97 626,508.07 626.2,499.56 626.4,510.97 626.6,508.07 626.8,508.07 627,499.56 627.2,505.55 627.4,508.07 627.6,501.35 627.8,518.61 628,518.61 628.2,501.35 628.4,489.27 628.6,508.07 628.8,501.35 629,514.4 629.2,503.34 629.4,501.35 629.6,499.56 629.8,510.97 630,489.27 630.2,510.97 630.4,491.36 630.6,510.97 630.8,497.92 631,493.72 631.2,487.38 631.4,503.34 631.6,514.4 631.8,496.41 632,508.07 632.2,510.97 632.4,508.07 632.6,510.97 632.8,497.92 633,503.34 633.2,499.56 633.4,497.92 633.6,508.07 633.8,499.56 634,495.02 634.2,491.36 634.4,503.34 634.6,505.55 634.8,510.97 635,508.07 635.2,505.55 635.4,503.34 635.6,514.4 635.8,508.07 636,508.07 636.2,510.97 636.4,508.07 636.6,501.35 636.8,510.97 637,501.35 637.2,510.97 637.4,503.34 637.6,510.97 637.8,496.41 638,497.92 638.2,493.72 638.4,510.97 638.6,514.4 638.8,510.97 639,503.34 639.2,495.02 639.4,497.92 639.6,496.41 639.8,510.97 640,493.72 640.2,496.41 640.4,505.55 640.6,518.61 640.8,508.07 641,501.35 641.2,490.28 641.4,499.56 641.6,501.35 641.8,490.28 642,490.28 642.2,499.56 642.4,497.92 642.6,493.72 642.8,508.07 643,499.56 643.2,505.55 643.4,510.97 643.6,499.56 643.8,496.41 644,489.27 644.2,497.92 644.4,495.02 644.6,505.55 644.8,514.4 645,508.07 645.2,499.56 645.4,508.07 645.6,488.3 645.8,495.02 646,505.55 646.2,490.28 646.4,497.92 646.6,490.28 646.8,503.34 647,496.41 647.2,503.34 647.4,503.34 647.6,495.02 647.8,488.3 648,501.35 648.2,501.35 648.4,508.07 648.6,503.34 648.8,497.92 649,510.97 649.2,505.55 649.4,510.97 649.6,499.56 649.8,496.41 650,499.56 650.2,503.34 650.4,510.97 650.6,514.4 650.8,503.34 651,491.36 651.2,505.55 651.4,503.34 651.6,505.55 651.8,510.97 652,495.02 652.2,497.92 652.4,514.4 652.6,510.97 652.8,491.36 653,508.07 653.2,501.35 653.4,508.07 653.6,499.56 653.8,508.07 654,505.55 654.2,510.97 654.4,487.38 654.6,481.96 654.8,499.56 655,496.41 655.2,496.41 655.4,501.35 655.6,501.35 655.8,503.34 656,495.02 656.2,510.97 656.4,508.07 656.6,496.41 656.8,510.97 657,490.28 657.2,505.55 657.4,501.35 657.6,492.5 657.8,503.34 658,501.35 658.2,508.07 658.4,499.56 658.6,497.92 658.8,510.97 659,497.92 659.2,496.41 659.4,499.56 659.6,508.07 659.8,496.41 660,492.5 660.2,505.55 660.4,518.61 660.6,508.07 660.8,503.34 661,493.72 661.2,493.72 661.4,497.92 661.6,508.07 661.8,496.41 662,501.35 662.2,510.97 662.4,514.4 662.6,493.72 662.8,514.4 663,493.72 663.2,485.67 663.4,501.35 663.6,508.07 663.8,508.07 664,508.07 664.2,501.35 664.4,496.41 664.6,510.97 664.8,505.55 665,508.07 665.2,495.02 665.4,496.41 665.6,508.07 665.8,505.55 666,501.35 666.2,514.4" fill="none" stroke="#0000ff" stroke-width="1.5" stroke-linejoin="round" stroke-linejoin="miter"/>
<line x1="544.3" y1="540" x2="544.3" y2="566" stroke="#0000ff" stroke-width="1.3" />
</g>
<rect x="419.9" y="318.7" width="246.5" height="246.7" fill="none" stroke="#111" stroke-width="1.5" stroke-linejoin="round"/>
<line x1="419.9" y1="348.6" x2="424.1" y2="348.6" stroke="#111" stroke-width="1.4" />
<text x="412.1" y="346.6" font-size="9.9" text-anchor="end" stroke="#000" stroke-width="0.22">-5</text>
<text x="402.1" y="355.9" font-size="14" text-anchor="end" stroke="#000" stroke-width="0.22">10</text>
<line x1="419.9" y1="391.96" x2="424.1" y2="391.96" stroke="#111" stroke-width="1.4" />
<text x="412.1" y="389.96" font-size="9.9" text-anchor="end" stroke="#000" stroke-width="0.22">-6</text>
<text x="402.1" y="399.26" font-size="14" text-anchor="end" stroke="#000" stroke-width="0.22">10</text>
<line x1="419.9" y1="435.32" x2="424.1" y2="435.32" stroke="#111" stroke-width="1.4" />
<text x="412.1" y="433.32" font-size="9.9" text-anchor="end" stroke="#000" stroke-width="0.22">-7</text>
<text x="402.1" y="442.62" font-size="14" text-anchor="end" stroke="#000" stroke-width="0.22">10</text>
<line x1="419.9" y1="478.68" x2="424.1" y2="478.68" stroke="#111" stroke-width="1.4" />
<text x="412.1" y="476.68" font-size="9.9" text-anchor="end" stroke="#000" stroke-width="0.22">-8</text>
<text x="402.1" y="485.98" font-size="14" text-anchor="end" stroke="#000" stroke-width="0.22">10</text>
<line x1="419.9" y1="522.04" x2="424.1" y2="522.04" stroke="#111" stroke-width="1.4" />
<text x="412.1" y="520.04" font-size="9.9" text-anchor="end" stroke="#000" stroke-width="0.22">-9</text>
<text x="402.1" y="529.34" font-size="14" text-anchor="end" stroke="#000" stroke-width="0.22">10</text>
<text x="412.1" y="563.4" font-size="9.9" text-anchor="end" stroke="#000" stroke-width="0.22">-10</text>
<text x="396.59" y="572.7" font-size="14" text-anchor="end" stroke="#000" stroke-width="0.22">10</text>
<text x="419.9" y="581.7" font-size="14" text-anchor="middle" stroke="#000" stroke-width="0.22">0</text>
<line x1="469.2" y1="565.4" x2="469.2" y2="561.4" stroke="#111" stroke-width="1.4" />
<text x="469.2" y="581.7" font-size="14" text-anchor="middle" stroke="#000" stroke-width="0.22">200</text>
<line x1="518.5" y1="565.4" x2="518.5" y2="561.4" stroke="#111" stroke-width="1.4" />
<text x="518.5" y="581.7" font-size="14" text-anchor="middle" stroke="#000" stroke-width="0.22">400</text>
<line x1="567.8" y1="565.4" x2="567.8" y2="561.4" stroke="#111" stroke-width="1.4" />
<text x="567.8" y="581.7" font-size="14" text-anchor="middle" stroke="#000" stroke-width="0.22">600</text>
<line x1="617.1" y1="565.4" x2="617.1" y2="561.4" stroke="#111" stroke-width="1.4" />
<text x="617.1" y="581.7" font-size="14" text-anchor="middle" stroke="#000" stroke-width="0.22">800</text>
<text x="666.4" y="581.7" font-size="14" text-anchor="middle" stroke="#000" stroke-width="0.22">1000</text>
<text x="355.1" y="333.3" font-size="27" font-weight="bold" font-style="normal" fill="#000" text-anchor="start" stroke="#000" stroke-width="0.22" >d</text>
<text x="543.15" y="611.6" font-size="14.7" font-weight="normal" font-style="normal" fill="#000" text-anchor="middle" stroke="#000" stroke-width="0.22" >Time (sec)</text>
<text transform="translate(366.6,441.5) rotate(-90)" font-size="14.7" text-anchor="middle" stroke="#000" stroke-width="0.22"><tspan font-style="italic">I</tspan> (A)</text>
<line x1="557.1" y1="335.1" x2="569.4" y2="335.1" stroke="#ffbaba" stroke-width="2.6" />
<line x1="557.1" y1="348.8" x2="569.4" y2="348.8" stroke="#ff0000" stroke-width="2.6" />
<line x1="557.1" y1="363" x2="569.4" y2="363" stroke="#b8c8fc" stroke-width="2.6" />
<line x1="557.1" y1="376.8" x2="569.4" y2="376.8" stroke="#0000ff" stroke-width="2.6" />
<text x="574.7" y="338.7" font-size="12.6" font-weight="normal" font-style="normal" fill="#000" text-anchor="start" stroke="#000" stroke-width="0.22" >Flat erase</text>
<text x="574.7" y="352.4" font-size="12.6" font-weight="normal" font-style="normal" fill="#000" text-anchor="start" stroke="#000" stroke-width="0.22" >Flat program</text>
<text x="574.7" y="366.6" font-size="12.6" font-weight="normal" font-style="normal" fill="#000" text-anchor="start" stroke="#000" stroke-width="0.22" >Bubble erase</text>
<text x="574.7" y="380.4" font-size="12.6" font-weight="normal" font-style="normal" fill="#000" text-anchor="start" stroke="#000" stroke-width="0.22" >Bubble program</text>
</svg>
</body></html>
